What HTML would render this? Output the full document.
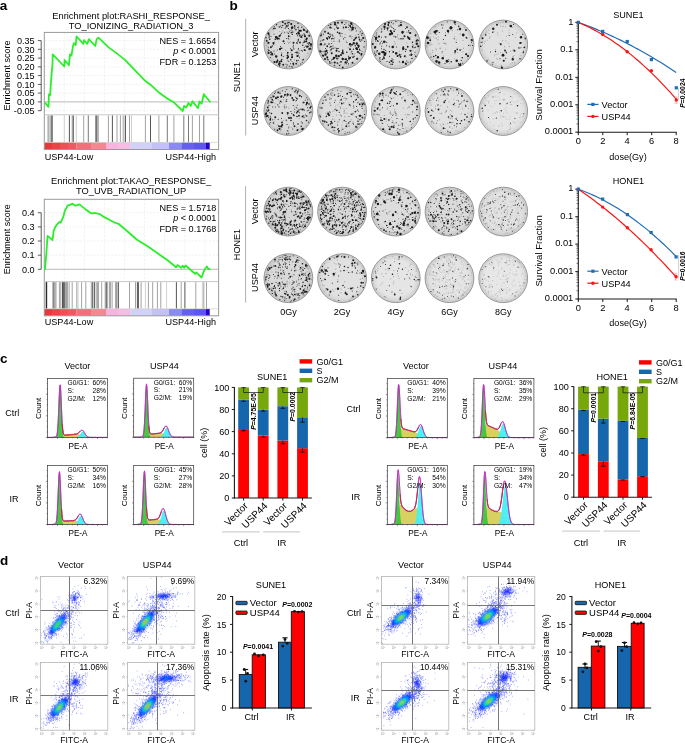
<!DOCTYPE html><html><head><meta charset="utf-8"><style>html,body{margin:0;padding:0;background:#fff;overflow:hidden}svg{display:block;will-change:transform}text{font-family:"Liberation Sans",sans-serif}</style></head><body>
<svg width="685" height="743" viewBox="0 0 685 743">
<rect x="0" y="0" width="685" height="743" fill="#fff"/>
<text x="-0.2" y="10.1" font-size="13.5" font-weight="bold" fill="#000">a</text>
<text x="131.1" y="18.8" font-size="9.3" text-anchor="middle">Enrichment plot:RASHI_RESPONSE_</text>
<text x="131.1" y="28.9" font-size="9.3" text-anchor="middle">TO_IONIZING_RADIATION_3</text>
<line x1="64.3" y1="32.9" x2="64.3" y2="114.3" stroke="#e6e6e6" stroke-width="0.6" stroke-dasharray="2 1.5"/>
<line x1="84.4" y1="32.9" x2="84.4" y2="114.3" stroke="#e6e6e6" stroke-width="0.6" stroke-dasharray="2 1.5"/>
<line x1="104.4" y1="32.9" x2="104.4" y2="114.3" stroke="#e6e6e6" stroke-width="0.6" stroke-dasharray="2 1.5"/>
<line x1="124.5" y1="32.9" x2="124.5" y2="114.3" stroke="#e6e6e6" stroke-width="0.6" stroke-dasharray="2 1.5"/>
<line x1="144.6" y1="32.9" x2="144.6" y2="114.3" stroke="#e6e6e6" stroke-width="0.6" stroke-dasharray="2 1.5"/>
<line x1="164.7" y1="32.9" x2="164.7" y2="114.3" stroke="#e6e6e6" stroke-width="0.6" stroke-dasharray="2 1.5"/>
<line x1="184.8" y1="32.9" x2="184.8" y2="114.3" stroke="#e6e6e6" stroke-width="0.6" stroke-dasharray="2 1.5"/>
<line x1="204.9" y1="32.9" x2="204.9" y2="114.3" stroke="#e6e6e6" stroke-width="0.6" stroke-dasharray="2 1.5"/>
<line x1="44.8" y1="40.6" x2="218.1" y2="40.6" stroke="#e6e6e6" stroke-width="0.6" stroke-dasharray="2 1.5"/>
<line x1="44.8" y1="49.3" x2="218.1" y2="49.3" stroke="#e6e6e6" stroke-width="0.6" stroke-dasharray="2 1.5"/>
<line x1="44.8" y1="58.1" x2="218.1" y2="58.1" stroke="#e6e6e6" stroke-width="0.6" stroke-dasharray="2 1.5"/>
<line x1="44.8" y1="66.9" x2="218.1" y2="66.9" stroke="#e6e6e6" stroke-width="0.6" stroke-dasharray="2 1.5"/>
<line x1="44.8" y1="75.6" x2="218.1" y2="75.6" stroke="#e6e6e6" stroke-width="0.6" stroke-dasharray="2 1.5"/>
<line x1="44.8" y1="84.4" x2="218.1" y2="84.4" stroke="#e6e6e6" stroke-width="0.6" stroke-dasharray="2 1.5"/>
<line x1="44.8" y1="93.1" x2="218.1" y2="93.1" stroke="#e6e6e6" stroke-width="0.6" stroke-dasharray="2 1.5"/>
<line x1="44.8" y1="110.7" x2="218.1" y2="110.7" stroke="#e6e6e6" stroke-width="0.6" stroke-dasharray="2 1.5"/>
<line x1="44.3" y1="101.9" x2="218.6" y2="101.9" stroke="#b8b8b8" stroke-width="1"/>
<line x1="41.2" y1="40.6" x2="41.2" y2="110.7" stroke="#333" stroke-width="0.8"/>
<line x1="37.8" y1="40.6" x2="41.2" y2="40.6" stroke="#333" stroke-width="0.8"/>
<text x="34.6" y="43.8" font-size="9.1" text-anchor="end">0.35</text>
<line x1="37.8" y1="49.3" x2="41.2" y2="49.3" stroke="#333" stroke-width="0.8"/>
<text x="34.6" y="52.5" font-size="9.1" text-anchor="end">0.30</text>
<line x1="37.8" y1="58.1" x2="41.2" y2="58.1" stroke="#333" stroke-width="0.8"/>
<text x="34.6" y="61.3" font-size="9.1" text-anchor="end">0.25</text>
<line x1="37.8" y1="66.9" x2="41.2" y2="66.9" stroke="#333" stroke-width="0.8"/>
<text x="34.6" y="70.1" font-size="9.1" text-anchor="end">0.20</text>
<line x1="37.8" y1="75.6" x2="41.2" y2="75.6" stroke="#333" stroke-width="0.8"/>
<text x="34.6" y="78.8" font-size="9.1" text-anchor="end">0.15</text>
<line x1="37.8" y1="84.4" x2="41.2" y2="84.4" stroke="#333" stroke-width="0.8"/>
<text x="34.6" y="87.6" font-size="9.1" text-anchor="end">0.10</text>
<line x1="37.8" y1="93.1" x2="41.2" y2="93.1" stroke="#333" stroke-width="0.8"/>
<text x="34.6" y="96.3" font-size="9.1" text-anchor="end">0.05</text>
<line x1="37.8" y1="101.9" x2="41.2" y2="101.9" stroke="#333" stroke-width="0.8"/>
<text x="34.6" y="105.1" font-size="9.1" text-anchor="end">0.00</text>
<line x1="37.8" y1="110.7" x2="41.2" y2="110.7" stroke="#333" stroke-width="0.8"/>
<text x="34.6" y="113.9" font-size="9.1" text-anchor="end">-0.05</text>
<text x="9.6" y="75.4" font-size="9" text-anchor="middle" transform="rotate(-90 9.6 75.4)">Enrichment score</text>
<line x1="48" y1="115.3" x2="48" y2="142.2" stroke="#8a8a8a" stroke-width="0.8"/>
<line x1="49" y1="115.3" x2="49" y2="142.2" stroke="#8a8a8a" stroke-width="0.8"/>
<line x1="51.1" y1="115.3" x2="51.1" y2="142.2" stroke="#2a2a2a" stroke-width="0.8"/>
<line x1="52.2" y1="115.3" x2="52.2" y2="142.2" stroke="#2a2a2a" stroke-width="0.8"/>
<line x1="64.3" y1="115.3" x2="64.3" y2="142.2" stroke="#c4c4c4" stroke-width="0.8"/>
<line x1="69.4" y1="115.3" x2="69.4" y2="142.2" stroke="#2a2a2a" stroke-width="0.8"/>
<line x1="72.2" y1="115.3" x2="72.2" y2="142.2" stroke="#8a8a8a" stroke-width="0.8"/>
<line x1="73.3" y1="115.3" x2="73.3" y2="142.2" stroke="#2a2a2a" stroke-width="0.8"/>
<line x1="76.3" y1="115.3" x2="76.3" y2="142.2" stroke="#c4c4c4" stroke-width="0.8"/>
<line x1="83.7" y1="115.3" x2="83.7" y2="142.2" stroke="#8a8a8a" stroke-width="0.8"/>
<line x1="88.3" y1="115.3" x2="88.3" y2="142.2" stroke="#555" stroke-width="0.8"/>
<line x1="95.9" y1="115.3" x2="95.9" y2="142.2" stroke="#2a2a2a" stroke-width="0.8"/>
<line x1="96.9" y1="115.3" x2="96.9" y2="142.2" stroke="#2a2a2a" stroke-width="0.8"/>
<line x1="98.3" y1="115.3" x2="98.3" y2="142.2" stroke="#8a8a8a" stroke-width="0.8"/>
<line x1="108.4" y1="115.3" x2="108.4" y2="142.2" stroke="#8a8a8a" stroke-width="0.8"/>
<line x1="112.4" y1="115.3" x2="112.4" y2="142.2" stroke="#2a2a2a" stroke-width="0.8"/>
<line x1="117" y1="115.3" x2="117" y2="142.2" stroke="#8a8a8a" stroke-width="0.8"/>
<line x1="120.4" y1="115.3" x2="120.4" y2="142.2" stroke="#8a8a8a" stroke-width="0.8"/>
<line x1="123.2" y1="115.3" x2="123.2" y2="142.2" stroke="#8a8a8a" stroke-width="0.8"/>
<line x1="125.3" y1="115.3" x2="125.3" y2="142.2" stroke="#000" stroke-width="0.8"/>
<line x1="129.5" y1="115.3" x2="129.5" y2="142.2" stroke="#8a8a8a" stroke-width="0.8"/>
<line x1="131.5" y1="115.3" x2="131.5" y2="142.2" stroke="#c4c4c4" stroke-width="0.8"/>
<line x1="145.4" y1="115.3" x2="145.4" y2="142.2" stroke="#8a8a8a" stroke-width="0.8"/>
<line x1="150.5" y1="115.3" x2="150.5" y2="142.2" stroke="#2a2a2a" stroke-width="0.8"/>
<line x1="158.9" y1="115.3" x2="158.9" y2="142.2" stroke="#8a8a8a" stroke-width="0.8"/>
<line x1="167.3" y1="115.3" x2="167.3" y2="142.2" stroke="#555" stroke-width="0.8"/>
<line x1="173.9" y1="115.3" x2="173.9" y2="142.2" stroke="#8a8a8a" stroke-width="0.8"/>
<line x1="183.8" y1="115.3" x2="183.8" y2="142.2" stroke="#555" stroke-width="0.8"/>
<line x1="188.5" y1="115.3" x2="188.5" y2="142.2" stroke="#555" stroke-width="0.8"/>
<line x1="192.4" y1="115.3" x2="192.4" y2="142.2" stroke="#8a8a8a" stroke-width="0.8"/>
<line x1="199.5" y1="115.3" x2="199.5" y2="142.2" stroke="#8a8a8a" stroke-width="0.8"/>
<line x1="203.8" y1="115.3" x2="203.8" y2="142.2" stroke="#555" stroke-width="0.8"/>
<rect x="44.3" y="142.5" width="7.8" height="7" fill="#e8383c"/>
<rect x="52" y="142.5" width="8.1" height="7" fill="#ea4448"/>
<rect x="60" y="142.5" width="8.1" height="7" fill="#ee5056"/>
<rect x="68" y="142.5" width="8.3" height="7" fill="#ef5a60"/>
<rect x="76.3" y="142.5" width="14.8" height="7" fill="#f2707a"/>
<rect x="91" y="142.5" width="15.1" height="7" fill="#f48890"/>
<rect x="106" y="142.5" width="12.1" height="7" fill="#f8b4dc"/>
<rect x="118" y="142.5" width="12.1" height="7" fill="#f8bce4"/>
<rect x="130.1" y="142.5" width="21.3" height="7" fill="#d2d2f8"/>
<rect x="151.3" y="142.5" width="17.7" height="7" fill="#c2c2f4"/>
<rect x="169" y="142.5" width="13.1" height="7" fill="#8a8af0"/>
<rect x="182" y="142.5" width="12.1" height="7" fill="#6660ee"/>
<rect x="194" y="142.5" width="12.1" height="7" fill="#5e56ec"/>
<rect x="206" y="142.5" width="3.9" height="7" fill="#2a00cc"/>
<rect x="209.8" y="142.5" width="8.8" height="7" fill="#ffffff"/>
<rect x="44.3" y="32.4" width="174.3" height="117.1" fill="none" stroke="#9a9a9a" stroke-width="1"/>
<line x1="44.3" y1="114.8" x2="218.6" y2="114.8" stroke="#c8c8c8" stroke-width="1"/>
<line x1="44.3" y1="142.4" x2="218.6" y2="142.4" stroke="#c8c8c8" stroke-width="0.6"/>
<path d="M44.6 102.3 L48.5 106.9 48.9 94.4 50.2 95 50.8 84.5 51.6 74 52.5 64.2 52.7 54.3 64.3 66.5 64.6 60 68.9 65.2 70 54.3 71.5 55.6 72.8 47.1 73.9 43.1 75.7 45.1 76.5 36.3 83.4 43.8 84 40.2 87.3 43.8 88.9 39.2 95.2 46 96.8 38.9 98.5 37.6 99.8 38.9 108.3 47.1 117.5 53.9 125 59.9 145.4 81.1 150.5 84.7 159.3 92.8 167.3 98.6 173.9 102.3 182.7 111 184.1 105.9 186.3 107.4 188.5 103 190.7 105.9 192.4 101.2 198 108.1 199.5 101.5 201.6 103.7 203.8 94.2 210.4 102.3" stroke="#2aee2a" stroke-width="1.8" fill="none" stroke-linejoin="round"/>
<text x="216.4" y="44" font-size="9.1" text-anchor="end">NES = 1.6654</text>
<text x="216.4" y="54.4" font-size="9.1" text-anchor="end"><tspan font-style="italic">p</tspan> &lt; 0.0001</text>
<text x="216.4" y="64.6" font-size="9.1" text-anchor="end">FDR = 0.1253</text>
<text x="44.7" y="160.2" font-size="9.1">USP44-Low</text>
<text x="216" y="160.2" font-size="9.1" text-anchor="end">USP44-High</text>
<text x="131.1" y="183.9" font-size="9.3" text-anchor="middle">Enrichment plot:TAKAO_RESPONSE_</text>
<text x="131.1" y="194" font-size="9.3" text-anchor="middle">TO_UVB_RADIATION_UP</text>
<line x1="64.3" y1="199.8" x2="64.3" y2="281.1" stroke="#e6e6e6" stroke-width="0.6" stroke-dasharray="2 1.5"/>
<line x1="84.4" y1="199.8" x2="84.4" y2="281.1" stroke="#e6e6e6" stroke-width="0.6" stroke-dasharray="2 1.5"/>
<line x1="104.4" y1="199.8" x2="104.4" y2="281.1" stroke="#e6e6e6" stroke-width="0.6" stroke-dasharray="2 1.5"/>
<line x1="124.5" y1="199.8" x2="124.5" y2="281.1" stroke="#e6e6e6" stroke-width="0.6" stroke-dasharray="2 1.5"/>
<line x1="144.6" y1="199.8" x2="144.6" y2="281.1" stroke="#e6e6e6" stroke-width="0.6" stroke-dasharray="2 1.5"/>
<line x1="164.7" y1="199.8" x2="164.7" y2="281.1" stroke="#e6e6e6" stroke-width="0.6" stroke-dasharray="2 1.5"/>
<line x1="184.8" y1="199.8" x2="184.8" y2="281.1" stroke="#e6e6e6" stroke-width="0.6" stroke-dasharray="2 1.5"/>
<line x1="204.9" y1="199.8" x2="204.9" y2="281.1" stroke="#e6e6e6" stroke-width="0.6" stroke-dasharray="2 1.5"/>
<line x1="44.8" y1="212.7" x2="218.1" y2="212.7" stroke="#e6e6e6" stroke-width="0.6" stroke-dasharray="2 1.5"/>
<line x1="44.8" y1="226.9" x2="218.1" y2="226.9" stroke="#e6e6e6" stroke-width="0.6" stroke-dasharray="2 1.5"/>
<line x1="44.8" y1="241" x2="218.1" y2="241" stroke="#e6e6e6" stroke-width="0.6" stroke-dasharray="2 1.5"/>
<line x1="44.8" y1="255.2" x2="218.1" y2="255.2" stroke="#e6e6e6" stroke-width="0.6" stroke-dasharray="2 1.5"/>
<line x1="44.3" y1="269.3" x2="218.6" y2="269.3" stroke="#b8b8b8" stroke-width="1"/>
<line x1="41.2" y1="212.7" x2="41.2" y2="269.3" stroke="#333" stroke-width="0.8"/>
<line x1="37.8" y1="212.7" x2="41.2" y2="212.7" stroke="#333" stroke-width="0.8"/>
<text x="34.6" y="215.9" font-size="9.1" text-anchor="end">0.4</text>
<line x1="37.8" y1="226.9" x2="41.2" y2="226.9" stroke="#333" stroke-width="0.8"/>
<text x="34.6" y="230.1" font-size="9.1" text-anchor="end">0.3</text>
<line x1="37.8" y1="241" x2="41.2" y2="241" stroke="#333" stroke-width="0.8"/>
<text x="34.6" y="244.2" font-size="9.1" text-anchor="end">0.2</text>
<line x1="37.8" y1="255.2" x2="41.2" y2="255.2" stroke="#333" stroke-width="0.8"/>
<text x="34.6" y="258.4" font-size="9.1" text-anchor="end">0.1</text>
<line x1="37.8" y1="269.3" x2="41.2" y2="269.3" stroke="#333" stroke-width="0.8"/>
<text x="34.6" y="272.5" font-size="9.1" text-anchor="end">0.0</text>
<text x="9.6" y="239.3" font-size="9" text-anchor="middle" transform="rotate(-90 9.6 239.3)">Enrichment score</text>
<line x1="46.2" y1="282.1" x2="46.2" y2="308.6" stroke="#000" stroke-width="0.8"/>
<line x1="46.7" y1="282.1" x2="46.7" y2="308.6" stroke="#000" stroke-width="0.8"/>
<line x1="52.8" y1="282.1" x2="52.8" y2="308.6" stroke="#8a8a8a" stroke-width="0.8"/>
<line x1="53.9" y1="282.1" x2="53.9" y2="308.6" stroke="#2a2a2a" stroke-width="0.8"/>
<line x1="55" y1="282.1" x2="55" y2="308.6" stroke="#8a8a8a" stroke-width="0.8"/>
<line x1="56" y1="282.1" x2="56" y2="308.6" stroke="#8a8a8a" stroke-width="0.8"/>
<line x1="59.4" y1="282.1" x2="59.4" y2="308.6" stroke="#8a8a8a" stroke-width="0.8"/>
<line x1="60.8" y1="282.1" x2="60.8" y2="308.6" stroke="#8a8a8a" stroke-width="0.8"/>
<line x1="62.5" y1="282.1" x2="62.5" y2="308.6" stroke="#2a2a2a" stroke-width="0.8"/>
<line x1="63.6" y1="282.1" x2="63.6" y2="308.6" stroke="#2a2a2a" stroke-width="0.8"/>
<line x1="64.7" y1="282.1" x2="64.7" y2="308.6" stroke="#2a2a2a" stroke-width="0.8"/>
<line x1="65.7" y1="282.1" x2="65.7" y2="308.6" stroke="#8a8a8a" stroke-width="0.8"/>
<line x1="67" y1="282.1" x2="67" y2="308.6" stroke="#2a2a2a" stroke-width="0.8"/>
<line x1="69.1" y1="282.1" x2="69.1" y2="308.6" stroke="#8a8a8a" stroke-width="0.8"/>
<line x1="72.2" y1="282.1" x2="72.2" y2="308.6" stroke="#8a8a8a" stroke-width="0.8"/>
<line x1="76.8" y1="282.1" x2="76.8" y2="308.6" stroke="#8a8a8a" stroke-width="0.8"/>
<line x1="78.1" y1="282.1" x2="78.1" y2="308.6" stroke="#c4c4c4" stroke-width="0.8"/>
<line x1="81.6" y1="282.1" x2="81.6" y2="308.6" stroke="#8a8a8a" stroke-width="0.8"/>
<line x1="85.8" y1="282.1" x2="85.8" y2="308.6" stroke="#8a8a8a" stroke-width="0.8"/>
<line x1="91.3" y1="282.1" x2="91.3" y2="308.6" stroke="#8a8a8a" stroke-width="0.8"/>
<line x1="92.7" y1="282.1" x2="92.7" y2="308.6" stroke="#2a2a2a" stroke-width="0.8"/>
<line x1="94.4" y1="282.1" x2="94.4" y2="308.6" stroke="#2a2a2a" stroke-width="0.8"/>
<line x1="96.2" y1="282.1" x2="96.2" y2="308.6" stroke="#8a8a8a" stroke-width="0.8"/>
<line x1="98" y1="282.1" x2="98" y2="308.6" stroke="#2a2a2a" stroke-width="0.8"/>
<line x1="101.7" y1="282.1" x2="101.7" y2="308.6" stroke="#8a8a8a" stroke-width="0.8"/>
<line x1="105.2" y1="282.1" x2="105.2" y2="308.6" stroke="#8a8a8a" stroke-width="0.8"/>
<line x1="106.3" y1="282.1" x2="106.3" y2="308.6" stroke="#2a2a2a" stroke-width="0.8"/>
<line x1="107.7" y1="282.1" x2="107.7" y2="308.6" stroke="#8a8a8a" stroke-width="0.8"/>
<line x1="110" y1="282.1" x2="110" y2="308.6" stroke="#2a2a2a" stroke-width="0.8"/>
<line x1="112.1" y1="282.1" x2="112.1" y2="308.6" stroke="#8a8a8a" stroke-width="0.8"/>
<line x1="116" y1="282.1" x2="116" y2="308.6" stroke="#2a2a2a" stroke-width="0.8"/>
<line x1="117" y1="282.1" x2="117" y2="308.6" stroke="#8a8a8a" stroke-width="0.8"/>
<line x1="118.4" y1="282.1" x2="118.4" y2="308.6" stroke="#2a2a2a" stroke-width="0.8"/>
<line x1="129.5" y1="282.1" x2="129.5" y2="308.6" stroke="#8a8a8a" stroke-width="0.8"/>
<line x1="135.5" y1="282.1" x2="135.5" y2="308.6" stroke="#8a8a8a" stroke-width="0.8"/>
<line x1="137.4" y1="282.1" x2="137.4" y2="308.6" stroke="#2a2a2a" stroke-width="0.8"/>
<line x1="138.4" y1="282.1" x2="138.4" y2="308.6" stroke="#2a2a2a" stroke-width="0.8"/>
<line x1="141.1" y1="282.1" x2="141.1" y2="308.6" stroke="#8a8a8a" stroke-width="0.8"/>
<line x1="145.4" y1="282.1" x2="145.4" y2="308.6" stroke="#c4c4c4" stroke-width="0.8"/>
<line x1="148.4" y1="282.1" x2="148.4" y2="308.6" stroke="#8a8a8a" stroke-width="0.8"/>
<line x1="152.7" y1="282.1" x2="152.7" y2="308.6" stroke="#8a8a8a" stroke-width="0.8"/>
<line x1="157.4" y1="282.1" x2="157.4" y2="308.6" stroke="#8a8a8a" stroke-width="0.8"/>
<line x1="160.8" y1="282.1" x2="160.8" y2="308.6" stroke="#8a8a8a" stroke-width="0.8"/>
<line x1="166.6" y1="282.1" x2="166.6" y2="308.6" stroke="#c4c4c4" stroke-width="0.8"/>
<line x1="176.4" y1="282.1" x2="176.4" y2="308.6" stroke="#2a2a2a" stroke-width="0.8"/>
<line x1="181.2" y1="282.1" x2="181.2" y2="308.6" stroke="#8a8a8a" stroke-width="0.8"/>
<line x1="184.9" y1="282.1" x2="184.9" y2="308.6" stroke="#2a2a2a" stroke-width="0.8"/>
<line x1="195.8" y1="282.1" x2="195.8" y2="308.6" stroke="#8a8a8a" stroke-width="0.8"/>
<line x1="202.4" y1="282.1" x2="202.4" y2="308.6" stroke="#c4c4c4" stroke-width="0.8"/>
<line x1="203.8" y1="282.1" x2="203.8" y2="308.6" stroke="#8a8a8a" stroke-width="0.8"/>
<line x1="206.5" y1="282.1" x2="206.5" y2="308.6" stroke="#8a8a8a" stroke-width="0.8"/>
<rect x="44.3" y="308.9" width="7.8" height="6.9" fill="#e8383c"/>
<rect x="52" y="308.9" width="8.1" height="6.9" fill="#ea4448"/>
<rect x="60" y="308.9" width="8.1" height="6.9" fill="#ee5056"/>
<rect x="68" y="308.9" width="8.3" height="6.9" fill="#ef5a60"/>
<rect x="76.3" y="308.9" width="14.8" height="6.9" fill="#f2707a"/>
<rect x="91" y="308.9" width="15.1" height="6.9" fill="#f48890"/>
<rect x="106" y="308.9" width="12.1" height="6.9" fill="#f8b4dc"/>
<rect x="118" y="308.9" width="12.1" height="6.9" fill="#f8bce4"/>
<rect x="130.1" y="308.9" width="21.3" height="6.9" fill="#d2d2f8"/>
<rect x="151.3" y="308.9" width="17.7" height="6.9" fill="#c2c2f4"/>
<rect x="169" y="308.9" width="13.1" height="6.9" fill="#8a8af0"/>
<rect x="182" y="308.9" width="12.1" height="6.9" fill="#6660ee"/>
<rect x="194" y="308.9" width="12.1" height="6.9" fill="#5e56ec"/>
<rect x="206" y="308.9" width="3.9" height="6.9" fill="#2a00cc"/>
<rect x="209.8" y="308.9" width="8.8" height="6.9" fill="#ffffff"/>
<rect x="44.3" y="199.3" width="174.3" height="116.5" fill="none" stroke="#9a9a9a" stroke-width="1"/>
<line x1="44.3" y1="281.6" x2="218.6" y2="281.6" stroke="#c8c8c8" stroke-width="1"/>
<line x1="44.3" y1="308.8" x2="218.6" y2="308.8" stroke="#c8c8c8" stroke-width="0.6"/>
<path d="M44.9 269.9 L45.5 263 46.2 256 47.2 240.8 47.6 235.9 52.5 240.1 53.6 231.1 55.3 226.9 57.3 224.1 59.4 222 60.8 222.7 63.6 215.8 65 210.3 66.4 208.2 67.7 205.4 69.8 205 72.6 203.6 75.4 205.7 79.5 204.4 81.6 206.1 85.1 208.9 91.3 213.4 95.5 213 99.6 214.1 103.8 216.9 109.3 219.7 114.9 222.7 118.4 223.8 125 229.3 136.7 239.5 148.4 246.8 160 254.9 167.3 260 176.1 267.3 177.6 265.1 181.2 267.7 182.7 265.8 184.1 267.7 185.6 265.5 195.1 273.8 196.2 272.4 201.6 277.5 203.1 273.1 204.6 269.5 206.8 266.5 208.2 268.7 210.4 269.5" stroke="#2aee2a" stroke-width="1.8" fill="none" stroke-linejoin="round"/>
<text x="216.4" y="210.9" font-size="9.1" text-anchor="end">NES = 1.5718</text>
<text x="216.4" y="221.3" font-size="9.1" text-anchor="end"><tspan font-style="italic">p</tspan> &lt; 0.0001</text>
<text x="216.4" y="231.5" font-size="9.1" text-anchor="end">FDR = 0.1768</text>
<text x="44.7" y="325" font-size="9.1">USP44-Low</text>
<text x="216" y="325" font-size="9.1" text-anchor="end">USP44-High</text>
<text x="229.4" y="9.9" font-size="13.5" font-weight="bold" fill="#000">b</text>
<defs><radialGradient id="vig"><stop offset="0.75" stop-color="#000" stop-opacity="0"/><stop offset="1" stop-color="#000" stop-opacity="0.08"/></radialGradient><filter id="soft" x="-5%" y="-5%" width="110%" height="110%"><feGaussianBlur stdDeviation="0.35"/></filter></defs><g filter="url(#soft)">
<circle cx="288.4" cy="44.5" r="24.4" fill="#d9d9d9"/>
<circle cx="288.4" cy="44.5" r="24.4" fill="url(#vig)" stroke="#969696" stroke-width="1"/>
<circle cx="288.4" cy="44.5" r="22.9" fill="none" stroke="#c4c4c4" stroke-width="0.6"/>
<path transform="scale(.25)" d="M1091 119h0m2-11h0m31 4h0m25-2h0m17 8h0m1-17h0m16 22h0m-47 4h0m-7 2h0m0-6h0m-10 3h0m-21 41h0m53 0h0m7-8h0m3-11h0m31-4h0m13 1h0m3 4h0m11 7h0m-7 13h0m-50-1h0m-90 8h0m-8-8h0m14 44h0m43-13h0m42 12h0m24-2h0m7 0h0m38 4h0m-46 3h0m-58 21h0m-34-17h0m27 23h0m9 15h0m19-14h0m35 14h0m2-12h0m8 15h0m-41 3h0m-16 5h0" stroke="#6a6a6a" stroke-width="2.4" stroke-linecap="round"/>
<path transform="scale(.25)" d="M1136 113h0m21 6h0m53-11h0m-16 19h0m-33-6h0m-13 7h0m-29 30h0m120 24h0m-82-12h0m-3 3h0m-83 1h0m-5 9h0m5 23h0m71-5h0m56 2h0m-2 23h0m-45 14h0m17 6h0m10-6h0m11 9h0" stroke="#6a6a6a" stroke-width="3.2" stroke-linecap="round"/>
<path transform="scale(.25)" d="M1151 95h0m-19-5h0m-34 17h0m29 3h0m14 3h0m3-6h0m10-7h0m16 7h0m6 1h0m1 7h0m1-13h0m2 9h0m11-1h0m3-2h0m0 8h0m12-7h0m17 15h0m-7 11h0m-5 6h0m-3 0h0m-16-12h0m-2 14h0m-21-5h0m0-9h0m-1-6h0m-9 4h0m-5 7h0m-2-2h0m-13-1h0m-43 6h0m-23 1h0m3 13h0m1-3h0m7-2h0m111 11h0m22 6h0m27 23h0m-10-9h0m-5-4h0m-6 11h0m-6 5h0m-4-18h0m-24 3h0m-15 7h0m-36-7h0m-16 12h0m-40 2h0m-9 1h0m-1 8h0m37 3h0m13-7h0m5 19h0m35-17h0m12-3h0m2 4h0m17 3h0m1-5h0m2 19h0m2 18h0m-5-11h0m-4 5h0m-19 2h0m-37-1h0m-23 13h0m-12-23h0m-8 3h0m-9 11h0m63 27h0m5 3h0m13-5h0m11 1h0m30 0h0m6-7h0m2-9h0m-41 28h0m-4-1h0m-20 1h0" stroke="#1a1a1a" stroke-width="4" stroke-linecap="round"/>
<path transform="scale(.25)" d="M1123 104h0m22 4h0m9 6h0m72 15h0m-40 5h0m-14-6h0m-3 9h0m-43-4h0m-49 10h0m-5-10h0m75 21h0m7 1h0m38 10h0m6-21h0m-26 43h0m-98 16h0m22 1h0m85 6h0m24-9h0m5 3h0m8-2h0m-92 16h0m-23 6h0m52 21h0m29 8h0m9-11h0m-34 23h0" stroke="#1a1a1a" stroke-width="4.8" stroke-linecap="round"/>
<path transform="scale(.25)" d="M1192 93h0m-40-3h0m-52 24h0m6-15h0m11 9h0m14-6h0m15 1h0m38 15h0m45 6h0m-29 17h0m-8-10h0m-4 5h0m-23-5h0m-43 9h0m-46-1h0m-12 12h0m153 17h0m-6 13h0m-24-10h0m-98 13h0m-13 18h0m141-3h0m4 2h0m20-8h0m-28 45h0m-50 1h0m-36-1h0m-1-16h0m-42-4h0m34 29h0m56 12h0m13-17h0" stroke="#1a1a1a" stroke-width="5.6" stroke-linecap="round"/>
<path transform="scale(.25)" d="M1156 90h0m-61 24h0m56-10h0m28 0h0m35 13h0m4 23h0m-23-10h0m-116 27h0m22 0h0m15-3h0m77 6h0m27 7h0m6-1h0m-132 10h0m-5 38h0m31-16h0m7-5h0m116 3h0m-128 61h0m3 6h0m67-8h0" stroke="#1a1a1a" stroke-width="6.4" stroke-linecap="round"/>
<path transform="scale(.25)" d="M1131 88h0m98 39h0m-162 36h0m37-15h0m51-3h0m70 14h0m12 13h0m-9 15h0m-28-17h0m-116 19h0m0 20h0m67 2h0m37-1h0m49-14h0m-69 23h0m-15 9h0m-4 4h0m-61-14h0m22 25h0m23 16h0m40-5h0" stroke="#1a1a1a" stroke-width="7.2" stroke-linecap="round"/>
<path transform="scale(.25)" d="M1141 95h0m96 48h0m-39-20h0m-2 12h0m-122-2h0m60 32h0m40 6h0m-7 30h0m-17 21h0m-43 26h0" stroke="#1a1a1a" stroke-width="8" stroke-linecap="round"/>
<path transform="scale(.25)" d="M1165 96h0m51 24h0m-13 3h0m-85 21h0m87 4h0m15-3h0m7 9h0m4 32h0m-137-14h0m-20-1h0m0 41h0m46-16h0m70 28h0m-22 5h0m-70 19h0m27-3h0" stroke="#1a1a1a" stroke-width="8.8" stroke-linecap="round"/>
<path transform="scale(.25)" d="M1168 111h0m-63 38h0m5 5h0m134 24h0m-139 48h0m13 28h0" stroke="#1a1a1a" stroke-width="9.6" stroke-linecap="round"/>
<circle cx="342.1" cy="44.5" r="24.4" fill="#dadada"/>
<circle cx="342.1" cy="44.5" r="24.4" fill="url(#vig)" stroke="#969696" stroke-width="1"/>
<circle cx="342.1" cy="44.5" r="22.9" fill="none" stroke="#c4c4c4" stroke-width="0.6"/>
<path transform="scale(.25)" d="M1396 92h0m-58-1h0m-28 21h0m90 6h0m10-13h0m35 33h0m-5-6h0m-18 9h0m-42-3h0m-18 1h0m-70 22h0m35 4h0m10-11h0m1-4h0m14 16h0m16-20h0m7 10h0m30-4h0m3 0h0m3-6h0m8 13h0m-19 17h0m-3 4h0m-119-3h0m-1 3h0m1 19h0m2 8h0m6 8h0m11-10h0m0 6h0m8-10h0m15 2h0m3 2h0m96 10h0m27-10h0m4 1h0m-33 14h0m-14-3h0m-1 16h0m-48 1h0m-6-10h0m4 16h0m7 10h0m20 7h0m16 3h0m10-3h0m-17 9h0" stroke="#6a6a6a" stroke-width="2.4" stroke-linecap="round"/>
<path transform="scale(.25)" d="M1373 106h0m24 14h0m-79 33h0m67 12h0m71 23h0m-63 3h0m-71-4h0m-37 24h0m143-3h0m-20 18h0m-12 10h0m-33 22h0m54-3h0" stroke="#6a6a6a" stroke-width="3.2" stroke-linecap="round"/>
<path transform="scale(.25)" d="M1405 95h0m-21-4h0m-57 21h0m12 5h0m7-8h0m1-5h0m7 8h0m25-14h0m14 12h0m2-10h0m5 3h0m11 1h0m11 11h0m19 12h0m-16-3h0m-20-1h0m-111 14h0m-7-1h0m3 25h0m20-3h0m4-12h0m18-1h0m3 10h0m1 10h0m22 2h0m3-23h0m19 6h0m19-5h0m34 6h0m8 15h0m11-13h0m3-2h0m1 37h0m-24 1h0m-2-7h0m-3-5h0m-39-7h0m-56 14h0m-5-10h0m-26 2h0m-5 4h0m-14 27h0m10-2h0m10-11h0m6 20h0m2-4h0m18-17h0m6 0h0m6-1h0m13 2h0m22 21h0m30-7h0m3-3h0m5-8h0m1 0h0m24 0h0m2 5h0m-14 34h0m-16-7h0m-16 0h0m0-4h0m-25 8h0m-26-4h0m-34 6h0m17 5h0m2 11h0m9 12h0m2-2h0m13-6h0m30-8h0m12 8h0" stroke="#1a1a1a" stroke-width="4" stroke-linecap="round"/>
<path transform="scale(.25)" d="M1315 102h0m93-4h0m12 13h0m27 30h0m-14-3h0m-65-4h0m-85 30h0m33-12h0m13 1h0m28 7h0m17-5h0m29-11h0m11 17h0m44 5h0m-25 13h0m-30 6h0m-83 4h0m-21-13h0m29 19h0m19 5h0m66 30h0m-56-3h0m7 21h0m22 7h0" stroke="#1a1a1a" stroke-width="4.8" stroke-linecap="round"/>
<path transform="scale(.25)" d="M1342 92h0m-19 6h0m126 36h0m-120 6h0m-9-3h0m-25 22h0m26-14h0m97 14h0m7-10h0m11-1h0m2 9h0m1 3h0m8 0h0m-13 29h0m-13-6h0m-115 18h0m50 5h0m82-8h0m7 22h0m-29 6h0m-36 11h0m-24-15h0m-66-1h0m29 26h0m1 6h0m38 9h0m30-13h0" stroke="#1a1a1a" stroke-width="5.6" stroke-linecap="round"/>
<path transform="scale(.25)" d="M1339 91h0m3 8h0m32 12h0m30-1h0m-54 19h0m-32 21h0m9 5h0m89 5h0m-92 26h0m-8-10h0m-33 30h0m41-7h0m24-5h0m23 11h0m0-4h0m16 8h0m23 6h0m19-17h0m9 15h0m-101 18h0m-5 6h0m-20 2h0m37 13h0m15-5h0m25-4h0" stroke="#1a1a1a" stroke-width="6.4" stroke-linecap="round"/>
<path transform="scale(.25)" d="M1352 91h0m-13 6h0m12 16h0m50-9h0m-101 23h0m-16 15h0m124 37h0m-99 6h0m-2 19h0m118-11h0m-29 42h0m-48-1h0m62 17h0m-39 19h0" stroke="#1a1a1a" stroke-width="7.2" stroke-linecap="round"/>
<path transform="scale(.25)" d="M1368 90h0m-47 20h0m63-1h0m-71 24h0m109 20h0m31-1h0m-172 53h0m46 8h0m19-10h0m54-6h0m46 19h0m-17 19h0m-65-15h0m-10 5h0m-45 4h0m-9 7h0m-7-13h0" stroke="#1a1a1a" stroke-width="8" stroke-linecap="round"/>
<path transform="scale(.25)" d="M1412 111h0m-54 22h0m-50 20h0m127 31h0m-133 22h0m130 2h0m-32 23h0m-16 6h0m-45 13h0m43 0h0" stroke="#1a1a1a" stroke-width="8.8" stroke-linecap="round"/>
<path transform="scale(.25)" d="M1405 94h0m5 23h0m17 57h0m-12-1h0m-15 4h0m-116 0h0m86 35h0m57-17h0m-56 41h0m-26-13h0m-9 9h0m-34-14h0" stroke="#1a1a1a" stroke-width="9.6" stroke-linecap="round"/>
<circle cx="395.8" cy="44.5" r="24.4" fill="#dcdcdc"/>
<circle cx="395.8" cy="44.5" r="24.4" fill="url(#vig)" stroke="#969696" stroke-width="1"/>
<circle cx="395.8" cy="44.5" r="22.9" fill="none" stroke="#c4c4c4" stroke-width="0.6"/>
<path transform="scale(.25)" d="M1543 112h0m9 4h0m11-15h0m41 4h0m23 24h0m-17 3h0m-105 12h0m14 14h0m19-11h0m52 1h0m4 8h0m3 0h0m20-12h0m27 4h0m17 19h0m2 20h0m-11 0h0m-25-15h0m-46 3h0m-5 6h0m-29-10h0m-42 5h0m-6 17h0m0 1h0m12 10h0m57-2h0m43 1h0m11 19h0m-16-5h0m-22 0h0m0 0h0m-20 25h0m2 15h0" stroke="#6a6a6a" stroke-width="2.4" stroke-linecap="round"/>
<path transform="scale(.25)" d="M1582 86h0m-27 16h0m80 25h0m-18 0h0m-26 13h0m-16-16h0m3 43h0m-20 22h0m-32 20h0m19-1h0m52-3h0m55-2h0m6 15h0m-34 11h0m-86-9h0m-21 23h0m83 7h0" stroke="#6a6a6a" stroke-width="3.2" stroke-linecap="round"/>
<path transform="scale(.25)" d="M1556 108h0m8-3h0m10 9h0m6 4h0m15-14h0m2 0h0m25 10h0m22 1h0m19 24h0m-112-18h0m-26 8h0m-18 3h0m-2 8h0m-6 6h0m4 18h0m13-16h0m9 17h0m1-16h0m126 31h0m-66 8h0m-29-3h0m-10-16h0m-1 14h0m-16-10h0m-3 12h0m-5-13h0m-3 4h0m-17 11h0m-3 27h0m0-6h0m8 0h0m19-13h0m7 12h0m10-5h0m72-8h0m7 12h0m23 7h0m15-4h0m-21 11h0m-44 1h0m-75 18h0m0-9h0m-1 3h0m2 13h0m41 11h0m35-10h0m30-3h0m5 5h0m10-1h0" stroke="#1a1a1a" stroke-width="4" stroke-linecap="round"/>
<path transform="scale(.25)" d="M1584 86h0m-11 9h0m-7-6h0m-39 27h0m23 0h0m18-6h0m71 22h0m-4-10h0m-2 6h0m-106-3h0m-19 24h0m2 13h0m66-17h0m54 0h0m39 13h0m5 3h0m-22 30h0m-115 18h0m35 30h0m-4-4h0m-10-10h0m-10 21h0" stroke="#1a1a1a" stroke-width="4.8" stroke-linecap="round"/>
<path transform="scale(.25)" d="M1604 90h0m-66 26h0m68-16h0m-23 48h0m77 42h0m-160 0h0m9 13h0m27-5h0m22 9h0m90 27h0m-1-16h0m-117 19h0m92 16h0" stroke="#1a1a1a" stroke-width="5.6" stroke-linecap="round"/>
<path transform="scale(.25)" d="M1577 125h0m-11 5h0m-3-4h0m-59 25h0m8 14h0m31-17h0m61 7h0m8 0h0m38 32h0m0-18h0m-149 22h0m123 7h0m39 27h0m-128 3h0m-32-8h0m55 29h0m11 8h0m3-8h0" stroke="#1a1a1a" stroke-width="6.4" stroke-linecap="round"/>
<path transform="scale(.25)" d="M1553 100h0m75 9h0m34 33h0m-158 15h0m127 30h0m-18 2h0m-40 19h0m46 17h0m-17 2h0m-3-8h0m-63 14h0" stroke="#1a1a1a" stroke-width="7.2" stroke-linecap="round"/>
<path transform="scale(.25)" d="M1550 113h0m-34 33h0m102-1h0m17 7h0m3 4h0m-147 20h0m154 44h0m-55 4h0m34 32h0" stroke="#1a1a1a" stroke-width="8" stroke-linecap="round"/>
<path transform="scale(.25)" d="M1555 91h0m-15 5h0m63 4h0m38 32h0m-31-1h0m-47-7h0m70 26h0m34 13h0m6 22h0m-172 3h0m28 20h0m113-5h0m-76 41h0" stroke="#1a1a1a" stroke-width="8.8" stroke-linecap="round"/>
<path transform="scale(.25)" d="M1538 107h0m72 21h0m-42 6h0m-8 3h0m-56 15h0m163 23h0m-133 34h0m7 5h0m72-19h0m-1 53h0" stroke="#1a1a1a" stroke-width="9.6" stroke-linecap="round"/>
<path transform="scale(.25)" d="M1537 167h0m34 21h0m-54 27h0m68-2h0m-46 6h0" stroke="#1a1a1a" stroke-width="10.4" stroke-linecap="round"/>
<circle cx="449.5" cy="44.5" r="24.4" fill="#dfdfdf"/>
<circle cx="449.5" cy="44.5" r="24.4" fill="url(#vig)" stroke="#969696" stroke-width="1"/>
<circle cx="449.5" cy="44.5" r="22.9" fill="none" stroke="#c4c4c4" stroke-width="0.6"/>
<path transform="scale(.25)" d="M1740 108h0m64 0h0m38 11h0m17-8h0m-68 15h0m-51 4h0m-17 4h0m12 14h0m9 6h0m1-2h0m8-4h0m66-1h0m6 13h0m27 2h0m-68 15h0m-64-6h0m0 11h0m0-5h0m-12 11h0m23 22h0m13-15h0m2 5h0m13-7h0m9 20h0m15-16h0m44-2h0m3 15h0m1-18h0m11 11h0m10 4h0m19 28h0m-52 0h0m-45-11h0m-42 12h0m-10-20h0m39 32h0m0 4h0m24-4h0m11-1h0m2 7h0" stroke="#6a6a6a" stroke-width="2.4" stroke-linecap="round"/>
<path transform="scale(.25)" d="M1790 86h0m-1 4h0m52 46h0m-32-14h0m-27 9h0m-35 7h0m-5-1h0m10 22h0m116-9h0m-95 23h0m-17 2h0m-29 2h0m-18-5h0m-2 11h0m24 19h0m31-9h0m83 5h0m9-5h0m-109 39h0m14 26h0" stroke="#6a6a6a" stroke-width="3.2" stroke-linecap="round"/>
<path transform="scale(.25)" d="M1770 112h0m2-12h0m33 15h0m5-4h0m-53 19h0m-16 4h0m-21 18h0m54 6h0m115 5h0m1 19h0m-4-13h0m-6 12h0m-100-8h0m-11 34h0m26 32h0m-49 10h0m44-6h0m53 11h0m8-1h0" stroke="#1a1a1a" stroke-width="4" stroke-linecap="round"/>
<path transform="scale(.25)" d="M1766 99h0m55-2h0m10 22h0m4-12h0m0-3h0m-42 27h0m-42-8h0m66 32h0m50-2h0m7 29h0m-49-12h0m-101 58h0m56 26h0m13-8h0m41 8h0m0 6h0m11-18h0" stroke="#1a1a1a" stroke-width="4.8" stroke-linecap="round"/>
<path transform="scale(.25)" d="M1840 115h0m-58 27h0m83 8h0m-45 61h0" stroke="#1a1a1a" stroke-width="5.6" stroke-linecap="round"/>
<path transform="scale(.25)" d="M1829 198h0m11 2h0m24 17h0m-15 14h0m-106-9h0m-8 4h0m70 21h0" stroke="#1a1a1a" stroke-width="6.4" stroke-linecap="round"/>
<path transform="scale(.25)" d="M1864 120h0m-143 41h0" stroke="#1a1a1a" stroke-width="7.2" stroke-linecap="round"/>
<path transform="scale(.25)" d="M1804 109h0m17 95h0m44 13h0" stroke="#1a1a1a" stroke-width="8" stroke-linecap="round"/>
<path transform="scale(.25)" d="M1887 160h0m-15 64h0" stroke="#1a1a1a" stroke-width="8.8" stroke-linecap="round"/>
<path transform="scale(.25)" d="M1819 89h0m21 27h0m-88 113h0m4 21h0" stroke="#1a1a1a" stroke-width="9.6" stroke-linecap="round"/>
<path transform="scale(.25)" d="M1792 124h0m-47 1h0m-6 3h0m-27 44h0m59 61h0m-25 12h0m81-2h0m13 16h0" stroke="#1a1a1a" stroke-width="10.4" stroke-linecap="round"/>
<path transform="scale(.25)" d="M1803 112h0m50 28h0m-143 11h0m78 94h0" stroke="#1a1a1a" stroke-width="11.2" stroke-linecap="round"/>
<circle cx="503.2" cy="44.5" r="24.4" fill="#e1e1e1"/>
<circle cx="503.2" cy="44.5" r="24.4" fill="url(#vig)" stroke="#969696" stroke-width="1"/>
<circle cx="503.2" cy="44.5" r="22.9" fill="none" stroke="#c4c4c4" stroke-width="0.6"/>
<path transform="scale(.25)" d="M2002 91h0m-9 1h0m9 12h0m20 3h0m29 2h0m16 23h0m-31 0h0m0-11h0m-26 3h0m-18 16h0m-2-9h0m-14-5h0m-20 8h0m-1-14h0m-7 8h0m-11 11h0m-11 4h0m25 18h0m9-14h0m64 17h0m2-19h0m35 4h0m39 7h0m-26 33h0m-39-16h0m-17 14h0m-21-14h0m-59 1h0m-8 6h0m-2 20h0m54-2h0m10 17h0m10-5h0m52-12h0m31 38h0m-1-15h0m-28 1h0m-65 16h0m-4-5h0m-3-15h0m-6 5h0m-25 16h0m-7 2h0m97 15h0m6-4h0m-18 17h0m-23-1h0" stroke="#6a6a6a" stroke-width="2.4" stroke-linecap="round"/>
<path transform="scale(.25)" d="M2012 89h0m0 17h0m-70 27h0m-2 32h0m18-13h0m53 11h0m76 9h0m-50 14h0m-33-11h0m22 39h0m16-9h0m10-4h0m6 50h0" stroke="#6a6a6a" stroke-width="3.2" stroke-linecap="round"/>
<path transform="scale(.25)" d="M2054 98h0m37 39h0m-40 1h0m51 17h0m-18 36h0m-155-23h0m33 40h0m132-3h0m-42 23h0m-52 7h0m-52 9h0m1 0h0m20 13h0m36 7h0" stroke="#1a1a1a" stroke-width="4" stroke-linecap="round"/>
<path transform="scale(.25)" d="M2037 142h0m63 10h0m-16 18h0m-159 0h0m98 63h0m-51 17h0" stroke="#1a1a1a" stroke-width="4.8" stroke-linecap="round"/>
<path transform="scale(.25)" d="M1971 129h0m11 77h0m43 3h0m51-17h0m17 18h0m-13 25h0" stroke="#1a1a1a" stroke-width="5.6" stroke-linecap="round"/>
<path transform="scale(.25)" d="M2045 106h0m-102 34h0m155 49h0m-1 1h0m-174-5h0" stroke="#1a1a1a" stroke-width="6.4" stroke-linecap="round"/>
<path transform="scale(.25)" d="M2003 177h0m17 25h0" stroke="#1a1a1a" stroke-width="7.2" stroke-linecap="round"/>
<path transform="scale(.25)" d="M2024 87h0m-36 12h0m-58 54h0m128 50h0" stroke="#1a1a1a" stroke-width="8" stroke-linecap="round"/>
<path transform="scale(.25)" d="M2081 172h0m-66 71h0m-7 28h0" stroke="#1a1a1a" stroke-width="8.8" stroke-linecap="round"/>
<path transform="scale(.25)" d="M1973 115h0m78 122h0" stroke="#1a1a1a" stroke-width="9.6" stroke-linecap="round"/>
<path transform="scale(.25)" d="M2043 104h0m41 45h0" stroke="#1a1a1a" stroke-width="10.4" stroke-linecap="round"/>
<path transform="scale(.25)" d="M2012 221h0" stroke="#1a1a1a" stroke-width="11.2" stroke-linecap="round"/>
<circle cx="288.4" cy="111" r="24.4" fill="#dbdbdb"/>
<circle cx="288.4" cy="111" r="24.4" fill="url(#vig)" stroke="#969696" stroke-width="1"/>
<circle cx="288.4" cy="111" r="22.9" fill="none" stroke="#c4c4c4" stroke-width="0.6"/>
<path transform="scale(.25)" d="M1177 368h0m-21 5h0m-65 8h0m-4 20h0m34-14h0m27 19h0m15-21h0m-23 33h0m-40-5h0m-35 25h0m90-6h0m30 11h0m2 10h0m4-20h0m28 35h0m-22 6h0m-53 5h0m-45-1h0m-17-1h0m1 4h0m13 5h0m13 13h0m24-17h0m75 11h0m16 11h0m-20 9h0m-9 5h0m-8-9h0m-22 0h0m-11 5h0m-24-5h0m-4 8h0m-4 5h0m-9-10h0m0-8h0" stroke="#6a6a6a" stroke-width="2.4" stroke-linecap="round"/>
<path transform="scale(.25)" d="M1169 356h0m-49 11h0m-7 32h0m22 0h0m47 5h0m8-7h0m47 19h0m-57 12h0m-65-3h0m-36-4h0m81 44h0m-7 5h0m-7 13h0m40 40h0m-30 10h0" stroke="#6a6a6a" stroke-width="3.2" stroke-linecap="round"/>
<path transform="scale(.25)" d="M1147 358h0m22-3h0m24 10h0m-4 4h0m-5-8h0m0 0h0m-43 6h0m-3 16h0m-8-20h0m-5 20h0m-23-15h0m-27 39h0m15-8h0m38-15h0m6 5h0m10 17h0m3-8h0m1-14h0m35 5h0m38 12h0m6-10h0m4 8h0m-1 32h0m0-21h0m-13 0h0m-4 2h0m-24 9h0m-3 10h0m-13-9h0m-28 6h0m-8-3h0m-10-17h0m-11 20h0m-15 0h0m-11 0h0m-15-5h0m-4 23h0m8 5h0m60-19h0m39 16h0m1-11h0m19 14h0m31-8h0m6-2h0m-13 19h0m-6 10h0m-1-7h0m-64-4h0m-25 15h0m-35 5h0m-9-14h0m-7 4h0m3 27h0m3-6h0m64-9h0m3 17h0m26-7h0m31-3h0m5 4h0m24-3h0m-63 27h0m-19 8h0m-3-1h0m-30-5h0m-20-1h0m56 18h0" stroke="#1a1a1a" stroke-width="4" stroke-linecap="round"/>
<path transform="scale(.25)" d="M1193 360h0m-4 15h0m-91-1h0m-6 29h0m12-14h0m42 15h0m40-3h0m-67 11h0m-8 7h0m-44 24h0m97 3h0m3 8h0m51-14h0m-41 23h0m-64 14h0m61 19h0m-19 12h0" stroke="#1a1a1a" stroke-width="4.8" stroke-linecap="round"/>
<path transform="scale(.25)" d="M1190 368h0m-40 8h0m-30-3h0m-36 18h0m103 3h0m1 0h0m18-7h0m30 29h0m-23-7h0m-122 1h0m-19 2h0m115 39h0m9-11h0m8-3h0m35 14h0m5-3h0m-17 16h0m-53-4h0m-27 76h0" stroke="#1a1a1a" stroke-width="5.6" stroke-linecap="round"/>
<path transform="scale(.25)" d="M1180 367h0m-28 12h0m-79 24h0m16-5h0m33 7h0m122 21h0m-19-7h0m-139 35h0m102 12h0m-14-6h0m-92 13h0m12 19h0m70-10h0m28 14h0m34-14h0m-21 23h0m-85 1h0m-5-2h0" stroke="#1a1a1a" stroke-width="6.4" stroke-linecap="round"/>
<path transform="scale(.25)" d="M1162 380h0m-12-1h0m-37-9h0m56 22h0m72 39h0m-14-17h0m-156 16h0m-6 23h0m9-12h0m55 11h0m81 14h0m-14-3h0m-115 16h0m-10-16h0m57 27h0m62 30h0m-12-15h0m-68 16h0" stroke="#1a1a1a" stroke-width="7.2" stroke-linecap="round"/>
<path transform="scale(.25)" d="M1199 383h0m-59-4h0m-36 14h0m70 7h0m-89 9h0m106 37h0m-27 26h0m-8 0h0m-55-3h0m-38-12h0m66 43h0m-4 6h0m-7 9h0" stroke="#1a1a1a" stroke-width="8" stroke-linecap="round"/>
<path transform="scale(.25)" d="M1094 386h0m17 3h0m14-2h0m103 24h0m-77 41h0m60-14h0m-145 27h0m145 50h0m-2 2h0" stroke="#1a1a1a" stroke-width="8.8" stroke-linecap="round"/>
<circle cx="342.1" cy="111" r="24.4" fill="#dddddd"/>
<circle cx="342.1" cy="111" r="24.4" fill="url(#vig)" stroke="#969696" stroke-width="1"/>
<circle cx="342.1" cy="111" r="22.9" fill="none" stroke="#c4c4c4" stroke-width="0.6"/>
<path transform="scale(.25)" d="M1427 376h0m-6-5h0m-4 12h0m-10-19h0m-50 10h0m-50 3h0m11 21h0m32-11h0m25 7h0m7 7h0m21-14h0m37 1h0m7 11h0m-2 25h0m-29 6h0m-20-18h0m-36 14h0m-8-7h0m-9 5h0m-32 24h0m20-3h0m5-2h0m21 1h0m19-9h0m0 18h0m0-8h0m4 7h0m6-18h0m2 19h0m24-1h0m2-19h0m-53 28h0m0-2h0m-15 2h0m-10 16h0m-4-11h0m-19-10h0m-32 6h0m42 32h0m2 8h0m43 0h0m3-14h0m41-1h0m20 12h0m5-18h0m-14 38h0m-32-12h0m-10 19h0m-1-13h0m-12-2h0m-29 14h0" stroke="#6a6a6a" stroke-width="2.4" stroke-linecap="round"/>
<path transform="scale(.25)" d="M1421 378h0m-7-1h0m-10 6h0m-40-18h0m-13-4h0m-20 0h0m-3 22h0m-5-7h0m-30 26h0m26-10h0m22 9h0m39-8h0m26-7h0m16 16h0m21-3h0m6 14h0m-2-1h0m0 14h0m-32-16h0m-13 13h0m-79-2h0m-3-9h0m-40 18h0m41 21h0m41-19h0m50 22h0m22-9h0m17 23h0m-19 7h0m-6-6h0m-1-1h0m-1-2h0m-13-7h0m-15 7h0m-30-2h0m-47-4h0m-15 7h0m-25-6h0m13 35h0m58 4h0m2-12h0m-18 21h0" stroke="#1a1a1a" stroke-width="3.2" stroke-linecap="round"/>
<path transform="scale(.25)" d="M1388 354h0m-64 26h0m124 22h0m-14 6h0m-76 1h0m-54 44h0m39-17h0m35 7h0m79 1h0m-53 35h0m-25-12h0m-49 10h0m-13-19h0m130 28h0m-19 22h0m-58 9h0m-4 3h0m-11 4h0m-25-17h0" stroke="#6a6a6a" stroke-width="3.2" stroke-linecap="round"/>
<path transform="scale(.25)" d="M1400 361h0m-47 14h0m-25-3h0m38 25h0m21-2h0m70 23h0m-26-7h0m-5 15h0m-12-2h0m-39-12h0m-91 20h0m35 15h0m38 3h0m67-5h0m33 27h0m-17 5h0m0 1h0m-83 1h0m-42-19h0m-1 41h0m14-7h0m56-8h0m4 10h0m24-3h0m2 4h0m22 1h0m9-4h0m-49 10h0m-24 13h0m-18 14h0m35 0h0m8-2h0" stroke="#1a1a1a" stroke-width="4" stroke-linecap="round"/>
<path transform="scale(.25)" d="M1401 371h0m-4-1h0m-36 13h0m-37 12h0m46-9h0m44 20h0m-76 3h0m2 28h0m90 3h0m19-7h0m9 25h0m-167 24h0m48 3h0m61 1h0m39 9h0m-11 16h0m-77 7h0m-15 3h0m44 14h0" stroke="#1a1a1a" stroke-width="4.8" stroke-linecap="round"/>
<path transform="scale(.25)" d="M1429 381h0m-25-11h0m-92 9h0m-8 21h0m128-11h0m-144 43h0m58 10h0m2-1h0m57 16h0m-93 0h0m-6 8h0m-25 2h0m32 33h0m64-18h0m-24 33h0m-14-5h0" stroke="#1a1a1a" stroke-width="5.6" stroke-linecap="round"/>
<path transform="scale(.25)" d="M1338 380h0m-38 8h0m54-3h0m10 15h0m61-2h0m30 15h0m-57 6h0m-107-6h0m130 34h0m28 24h0m-157 14h0m15 4h0m15 7h0m6-4h0m67 0h0m37-7h0m0 11h0" stroke="#1a1a1a" stroke-width="6.4" stroke-linecap="round"/>
<path transform="scale(.25)" d="M1389 375h0m61 43h0m-11-1h0m-72-3h0m-54 40h0m129 9h0m-4 0h0m-122-2h0m-17 25h0m26 1h0m99 20h0m-39-2h0m-29 19h0m-27-15h0" stroke="#1a1a1a" stroke-width="7.2" stroke-linecap="round"/>
<circle cx="395.8" cy="111" r="24.4" fill="#dfdfdf"/>
<circle cx="395.8" cy="111" r="24.4" fill="url(#vig)" stroke="#969696" stroke-width="1"/>
<circle cx="395.8" cy="111" r="22.9" fill="none" stroke="#c4c4c4" stroke-width="0.6"/>
<path transform="scale(.25)" d="M1643 377h0m-11 5h0m-3-10h0m-39 11h0m-37-3h0m-52 26h0m30-3h0m3-15h0m34 6h0m45-7h0m29 32h0m-19-11h0m-56 13h0m-66 9h0m-3-2h0m63 16h0m16 4h0m3 2h0m1-4h0m32-14h0m16 1h0m24 41h0m-14-15h0m-13 10h0m-5-11h0m-34-2h0m-13 1h0m-8 13h0m-7 7h0m-55-17h0m41 25h0m13-5h0m13 2h0m2 7h0m3 6h0m28 4h0m2-7h0m45 2h0m4-8h0m-14 31h0m-17-5h0m-8 14h0m-31-4h0m-15-15h0m-29 18h0m-18-10h0" stroke="#6a6a6a" stroke-width="2.4" stroke-linecap="round"/>
<path transform="scale(.25)" d="M1533 388h0m20-3h0m10 6h0m12 0h0m-26 46h0m1-5h0m29 7h0m90-1h0m-105 19h0m-27 5h0m-9 30h0m22 7h0m97-1h0m-109 26h0" stroke="#6a6a6a" stroke-width="3.2" stroke-linecap="round"/>
<path transform="scale(.25)" d="M1573 352h0m77 27h0m-30-18h0m-8 5h0m-93 18h0m47 11h0m42-3h0m60 20h0m-8 1h0m-24 15h0m-62-5h0m-17-9h0m-37 26h0m41 12h0m22 1h0m68-5h0m-19 11h0m-48 2h0m-13 0h0m-27 15h0m-20-5h0m-8-11h0m-7-3h0m-13 0h0m35 37h0m64 7h0m15-2h0m0-5h0m37 17h0m-35 3h0m-2-10h0m-10 15h0m-9-4h0m-31-6h0m-5-3h0m-26 11h0m62 15h0" stroke="#1a1a1a" stroke-width="4" stroke-linecap="round"/>
<path transform="scale(.25)" d="M1586 366h0m-11 3h0m-12 3h0m-19 8h0m-13 1h0m128 27h0m-98 18h0m-31 5h0m-11-10h0m-7 9h0m158 32h0m-4-1h0m-5 10h0m-73 3h0m-58 8h0m39 7h0m7 12h0m9-10h0m42 33h0" stroke="#1a1a1a" stroke-width="4.8" stroke-linecap="round"/>
<path transform="scale(.25)" d="M1564 363h0m0 5h0m-14 45h0m117 25h0m-14 38h0m-44 2h0m-18 51h0" stroke="#1a1a1a" stroke-width="5.6" stroke-linecap="round"/>
<path transform="scale(.25)" d="M1584 377h0m-59 25h0m35 5h0m89 11h0m-94 62h0m86 6h0" stroke="#1a1a1a" stroke-width="6.4" stroke-linecap="round"/>
<path transform="scale(.25)" d="M1567 359h0m-6 12h0m-32 30h0m91 1h0m49 25h0m-151-11h0m-8 19h0m27 41h0m-13 5h0m51 28h0m21 27h0" stroke="#1a1a1a" stroke-width="7.2" stroke-linecap="round"/>
<path transform="scale(.25)" d="M1601 377h0m-22-4h0m-48 1h0m-10 1h0m131 28h0m-64 12h0" stroke="#1a1a1a" stroke-width="8" stroke-linecap="round"/>
<path transform="scale(.25)" d="M1499 443h0m68 64h0m-8 10h0m-26 0h0" stroke="#1a1a1a" stroke-width="8.8" stroke-linecap="round"/>
<circle cx="449.5" cy="111" r="24.4" fill="#e1e1e1"/>
<circle cx="449.5" cy="111" r="24.4" fill="url(#vig)" stroke="#969696" stroke-width="1"/>
<circle cx="449.5" cy="111" r="22.9" fill="none" stroke="#c4c4c4" stroke-width="0.6"/>
<path transform="scale(.25)" d="M1854 373h0m-9 1h0m-11-9h0m-5 17h0m-15-20h0m-23 2h0m-9 19h0m0-5h0m-2-17h0m-12 19h0m-6 1h0m-30 15h0m20-7h0m3 15h0m33-10h0m27 3h0m11 5h0m42 5h0m3-1h0m-9 13h0m-43 4h0m-23-15h0m-33 15h0m-21 1h0m-17-4h0m-5-8h0m40 41h0m5 2h0m2-2h0m35-12h0m5 6h0m38 8h0m5-20h0m22 18h0m1-19h0m7 43h0m-70-4h0m-6-1h0m-1 3h0m-7-1h0m-38 5h0m-31 13h0m34 7h0m11-4h0m19-1h0m74-13h0m-6 29h0m-24 16h0m-11-3h0m-14-10h0m-19 9h0m-26-17h0m-1 17h0" stroke="#6a6a6a" stroke-width="2.4" stroke-linecap="round"/>
<path transform="scale(.25)" d="M1720 402h0m31-9h0m82 9h0m23 2h0m-9 4h0m-4 7h0m-134 19h0m177 24h0m-63 17h0m-100-13h0m12 30h0m11 1h0m62-2h0m18 16h0m-27 1h0m-7 19h0m-12-13h0" stroke="#1a1a1a" stroke-width="3.2" stroke-linecap="round"/>
<path transform="scale(.25)" d="M1834 406h0m35-1h0m2-1h0m-35 23h0m-1 1h0m-45 0h0m-36-8h0m-12 15h0m39 14h0m46 23h0m-26-13h0m-51 23h0m24 16h0m38-9h0m-21 37h0m1 2h0m4 9h0" stroke="#6a6a6a" stroke-width="3.2" stroke-linecap="round"/>
<path transform="scale(.25)" d="M1803 355h0m31 18h0m-43 3h0m-14-1h0m-32 0h0m1 26h0m91 16h0m-86 3h0m-19 25h0m53-1h0m41 33h0m-9 25h0m-52 28h0" stroke="#1a1a1a" stroke-width="4" stroke-linecap="round"/>
<path transform="scale(.25)" d="M1793 380h0m-26-20h0m90 40h0m10 5h0m-49 8h0m67 53h0m-17-1h0m-142-4h0m-5 2h0m7 22h0m102-3h0" stroke="#1a1a1a" stroke-width="4.8" stroke-linecap="round"/>
<path transform="scale(.25)" d="M1780 357h0m15 7h0m-22 2h0m8 36h0m106 64h0m-19 3h0m-8-11h0m-2 21h0m-49-14h0m-2-1h0m-72 9h0m66 57h0" stroke="#1a1a1a" stroke-width="5.6" stroke-linecap="round"/>
<path transform="scale(.25)" d="M1776 379h0m87 45h0m-49-6h0m-87 23h0m67 27h0m-59 3h0m65 19h0m28 5h0m13-1h0m5-11h0m30 4h0" stroke="#1a1a1a" stroke-width="6.4" stroke-linecap="round"/>
<path transform="scale(.25)" d="M1828 358h0m20 26h0m-71 25h0m-63 39h0m40-10h0m20 75h0" stroke="#1a1a1a" stroke-width="7.2" stroke-linecap="round"/>
<circle cx="503.2" cy="111" r="24.4" fill="#e5e5e5"/>
<circle cx="503.2" cy="111" r="24.4" fill="url(#vig)" stroke="#969696" stroke-width="1"/>
<circle cx="503.2" cy="111" r="22.9" fill="none" stroke="#c4c4c4" stroke-width="0.6"/>
<path transform="scale(.25)" d="M1989 357h0m70 18h0m-43 2h0m-21-2h0m-64 32h0m12-13h0m1-2h0m1 11h0m8 4h0m5-2h0m21-1h0m3-19h0m3 17h0m7-15h0m8 10h0m13 3h0m35 5h0m1-15h0m23 13h0m5-18h0m11 12h0m7 15h0m-12 2h0m-14-6h0m-9 1h0m-17 9h0m-16 13h0m-48-16h0m-9 13h0m-8-5h0m-37-8h0m1 20h0m7 5h0m42 14h0m11-7h0m3 2h0m8 0h0m7-7h0m10 11h0m5-18h0m5 7h0m3 7h0m36 3h0m4-1h0m18 3h0m7 10h0m-9 6h0m-1-9h0m-23 14h0m-1-1h0m-18-7h0m-1 10h0m-12 0h0m-7-8h0m-7-4h0m-1 1h0m-8 3h0m-2-7h0m-30 13h0m-14 0h0m-24-16h0m-7 18h0m10 10h0m24 3h0m14 11h0m20 2h0m10-10h0m39 4h0m9-10h0m3 3h0m7 2h0m9-7h0m12 4h0m-15 29h0m-27-2h0m-1-7h0m-1 7h0m-5 3h0m-39-13h0m-11 16h0m-7-4h0m-14 4h0" stroke="#a0a0a0" stroke-width="2.4" stroke-linecap="round"/>
<path transform="scale(.25)" d="M2000 370h0m16 29h0m27-13h0m-2 23h0m-11 4h0m-3 2h0m-96 30h0m129 29h0" stroke="#1a1a1a" stroke-width="3.2" stroke-linecap="round"/>
<path transform="scale(.25)" d="M2070 373h0m-132 18h0m17-7h0m92 34h0m-93-6h0m-16 7h0m-2-6h0m16 27h0m29 12h0m90 1h0m22 13h0m-15 4h0m-66-2h0m-32 6h0m-32 21h0m62 7h0m27-3h0m-7 29h0" stroke="#a0a0a0" stroke-width="3.2" stroke-linecap="round"/>
<path transform="scale(.25)" d="M1993 357h0m-21 31h0m70 105h0" stroke="#1a1a1a" stroke-width="4" stroke-linecap="round"/>
<path transform="scale(.25)" d="M2095 455h0m-109 17h0m-32-2h0" stroke="#1a1a1a" stroke-width="4.8" stroke-linecap="round"/>
<path transform="scale(.25)" d="M1941 422h0m-12 11h0m76 10h0m-16 80h0" stroke="#1a1a1a" stroke-width="5.6" stroke-linecap="round"/>
<path transform="scale(.25)" d="M2070 423h0m-70-8h0" stroke="#1a1a1a" stroke-width="6.4" stroke-linecap="round"/>
<circle cx="288.4" cy="211.6" r="24.4" fill="#d6d6d6"/>
<circle cx="288.4" cy="211.6" r="24.4" fill="url(#vig)" stroke="#969696" stroke-width="1"/>
<circle cx="288.4" cy="211.6" r="22.9" fill="none" stroke="#c4c4c4" stroke-width="0.6"/>
<path transform="scale(.25)" d="M1138 762h0m-14 13h0m19 11h0m27 5h0m19-11h0m16 2h0m2 6h0m7-7h0m-17 13h0m-55 21h0m-35-17h0m-7 7h0m-6-11h0m-5 14h0m-22 19h0m6 7h0m42-8h0m12-2h0m5 5h0m35-9h0m5 6h0m21 9h0m8-14h0m2 11h0m9-4h0m1 2h0m32 29h0m-11-10h0m-7 9h0m-9-3h0m-9 7h0m-65-6h0m-15 4h0m-9-19h0m-1 6h0m-35 38h0m5-12h0m14 11h0m1-7h0m15 6h0m6-2h0m32-11h0m59 17h0m25-11h0m-62 14h0m-19-2h0m-18 16h0m-4 4h0m-5-4h0m-32-15h0m-15 14h0m-10-9h0m43 38h0m3 1h0m55-13h0m10-7h0" stroke="#6a6a6a" stroke-width="2.4" stroke-linecap="round"/>
<path transform="scale(.25)" d="M1132 776h0m8 12h0m24-19h0m10 11h0m26 7h0m-14 6h0m-91 22h0m-12-16h0m-17 24h0m44 7h0m2-1h0m36-11h0m75 44h0m-12-5h0m-22-7h0m-24-10h0m-33 19h0m-38 9h0m36 17h0m73 0h0m-62 11h0m-37-1h0m-25 7h0m123 16h0" stroke="#6a6a6a" stroke-width="3.2" stroke-linecap="round"/>
<path transform="scale(.25)" d="M1189 764h0m-30-6h0m-13-1h0m-3 2h0m-38 8h0m-9 8h0m25 5h0m6-9h0m7 12h0m11-4h0m11-5h0m3-4h0m18 20h0m11-15h0m4-6h0m9 21h0m2-20h0m2 21h0m4-15h0m27 37h0m0-3h0m-6 2h0m-15-2h0m-7 1h0m-11-18h0m-19 3h0m-15 18h0m-16-9h0m-13 3h0m-4-3h0m-5-6h0m0-6h0m-10 5h0m-21-1h0m-12-4h0m-9 20h0m-8 11h0m5-2h0m5 13h0m3-8h0m4-6h0m28 14h0m20-9h0m1 5h0m8-5h0m23-4h0m28-5h0m2 12h0m4 5h0m2-5h0m1 7h0m1-9h0m1 8h0m8-14h0m15 1h0m2 8h0m4-10h0m13 7h0m-4 32h0m-7-2h0m-1-9h0m-10 3h0m-10 4h0m-79 3h0m-9-16h0m-32 20h0m-11-17h0m-3-4h0m-10 24h0m7 7h0m4 7h0m4-5h0m2-4h0m2-5h0m3 10h0m1-7h0m9 17h0m14-16h0m15 9h0m11 0h0m2 5h0m1-7h0m19 11h0m1 0h0m29-20h0m25 19h0m0-9h0m13-5h0m1 6h0m2 5h0m1-3h0m2-14h0m6 4h0m-20 27h0m-1 8h0m-7 5h0m-1-13h0m-1 6h0m-4 4h0m-10-12h0m-10 3h0m-9 8h0m-9-2h0m-9-15h0m-2 6h0m-43 1h0m-1-7h0m-3 10h0m-12 2h0m-7-13h0m-16 4h0m-1 1h0m27 28h0m3-3h0m0 7h0m10 5h0m1-3h0m6-11h0m0-4h0m9 18h0m29-12h0m2-1h0m6 11h0m5-7h0m7 13h0m2-22h0m5 19h0m1-15h0m6 6h0m2 7h0m0-4h0m-41 14h0" stroke="#1a1a1a" stroke-width="4" stroke-linecap="round"/>
<path transform="scale(.25)" d="M1168 763h0m-4-9h0m-5 1h0m-34 21h0m1 2h0m23-10h0m7 6h0m0-4h0m18-1h0m16 8h0m3 10h0m14 12h0m-12-6h0m-11 21h0m-13-2h0m-11-18h0m-14 10h0m-39 7h0m-35 24h0m3-18h0m2 18h0m33-18h0m9 8h0m27 12h0m9-12h0m53 5h0m6-1h0m-11 23h0m-36-5h0m-63 13h0m-5-8h0m-16-5h0m-2 39h0m1-13h0m11 14h0m3-2h0m14-3h0m67 2h0m42-12h0m7 1h0m-27 26h0m-14 3h0m-30 9h0m-8-17h0m-1 7h0m-1-6h0m-34 24h0m0 2h0m2 5h0m12 3h0m7-7h0m2 1h0m3 10h0m1-2h0m21-8h0m4 11h0m17-6h0m-36 8h0" stroke="#1a1a1a" stroke-width="4.8" stroke-linecap="round"/>
<path transform="scale(.25)" d="M1102 771h0m4 5h0m30 3h0m23-2h0m0 3h0m24-7h0m3 18h0m22-1h0m1-4h0m3 29h0m-48-8h0m-32-4h0m-54 3h0m-4 8h0m-9 19h0m12-10h0m3 14h0m18-16h0m91 15h0m24-19h0m1 0h0m5 13h0m8-11h0m15 5h0m-58 33h0m-8 4h0m-73-4h0m-21-9h0m-17 28h0m18 10h0m35-4h0m17-2h0m3-16h0m90 25h0m-28 16h0m-111-9h0m18 29h0m17-1h0m1 9h0m2-6h0m2 7h0m3-13h0m12 3h0m18 9h0m6-17h0m1-1h0" stroke="#1a1a1a" stroke-width="5.6" stroke-linecap="round"/>
<path transform="scale(.25)" d="M1158 762h0m-12 4h0m30 20h0m11-2h0m2-10h0m15-6h0m14 44h0m-26-20h0m-76 3h0m-40 11h0m49 30h0m10-16h0m45 5h0m47 11h0m13-18h0m-21 24h0m-37 5h0m-107 1h0m-5-3h0m36 19h0m21 6h0m38 14h0m25-17h0m16 21h0m-7 18h0m-8 4h0m-4-12h0m-2 5h0m-23-12h0m-35 1h0m-20 34h0m27-9h0m20 10h0" stroke="#1a1a1a" stroke-width="6.4" stroke-linecap="round"/>
<path transform="scale(.25)" d="M1197 765h0m-36 1h0m-16-6h0m0-3h0m-1 5h0m-8-1h0m27 11h0m5 17h0m56 16h0m-45 8h0m-8-18h0m-10-2h0m-14 11h0m-25-9h0m-20 2h0m-11 4h0m2 21h0m33-4h0m83 11h0m12 11h0m-20 11h0m-67 0h0m-68-2h0m72 20h0m56-4h0m6 7h0m6-7h0m25 9h0m0-4h0m3 4h0m5-4h0m-88 27h0m-11-4h0m-12 13h0m-25-4h0m-1-6h0m-10 2h0m35 15h0m48 15h0m20 0h0" stroke="#1a1a1a" stroke-width="7.2" stroke-linecap="round"/>
<path transform="scale(.25)" d="M1177 762h0m-54 6h0m3 22h0m12-4h0m35-13h0m1 10h0m13-7h0m0-1h0m27 11h0m20 19h0m-8 5h0m-24 4h0m-93-13h0m-29 20h0m8 4h0m31 5h0m115 4h0m-93 13h0m-6 1h0m-73-2h0m59 24h0m60 12h0m51-7h0m-12 30h0m-43-5h0m-14-1h0m-40 1h0m-6-9h0m-8 10h0m-8 10h0m26 24h0" stroke="#1a1a1a" stroke-width="8" stroke-linecap="round"/>
<circle cx="342.1" cy="211.6" r="24.4" fill="#d8d8d8"/>
<circle cx="342.1" cy="211.6" r="24.4" fill="url(#vig)" stroke="#969696" stroke-width="1"/>
<circle cx="342.1" cy="211.6" r="22.9" fill="none" stroke="#c4c4c4" stroke-width="0.6"/>
<path transform="scale(.25)" d="M1361 765h0m-8-1h0m-23 15h0m18-9h0m65 16h0m2 0h0m8 5h0m11-2h0m6 8h0m-6 0h0m-4 11h0m-13-16h0m-11 4h0m-7 9h0m-31-11h0m-73 1h0m-7 13h0m-10 16h0m27 4h0m5 10h0m5-1h0m17-5h0m13-14h0m7 18h0m24-10h0m4 4h0m38-5h0m36 17h0m-30 7h0m-26-4h0m-25-2h0m-23 14h0m-29-4h0m-2 5h0m-8-18h0m-9 1h0m-8 7h0m34 33h0m1-1h0m7 3h0m31-6h0m8-9h0m15 11h0m7 7h0m43-20h0m9 11h0m-10 13h0m-10 12h0m-23-4h0m-18 3h0m-8 0h0m-37-8h0m-1-1h0m-34 16h0m35 10h0m7 13h0m4-3h0m67-9h0" stroke="#6a6a6a" stroke-width="2.4" stroke-linecap="round"/>
<path transform="scale(.25)" d="M1411 767h0m-11-5h0m-18 1h0m0-3h0m-11-1h0m-23-2h0m-6 2h0m-6 6h0m-29 26h0m2-10h0m6 3h0m1-2h0m10-1h0m1 0h0m25 1h0m6 9h0m10-23h0m11 19h0m2-17h0m12 6h0m2 13h0m6-6h0m8 0h0m12-13h0m2 4h0m2 5h0m10 7h0m2 3h0m10 14h0m-3-3h0m0-8h0m-23 10h0m-4 2h0m-3 9h0m-4-15h0m-13 10h0m-3-12h0m0 19h0m-6-7h0m-18-11h0m-2 17h0m-2-11h0m-33-1h0m-14-6h0m-10 2h0m0-6h0m-29 46h0m5 0h0m9-22h0m3 12h0m13 11h0m12-12h0m7 5h0m7-10h0m18 15h0m10-17h0m20 9h0m1 4h0m11-5h0m2-12h0m11 0h0m0 15h0m15-5h0m32 28h0m-5-4h0m-5-9h0m-11 20h0m-17-14h0m-3-3h0m-34 17h0m-48-7h0m-6-13h0m-6 0h0m-3 5h0m-9-2h0m-12-1h0m-2 5h0m-8 39h0m19-5h0m2 3h0m10-11h0m1 3h0m0 7h0m5 0h0m4-18h0m54 1h0m25-1h0m11 2h0m25 7h0m2 5h0m12-15h0m-10 28h0m-4 3h0m-50 7h0m-14 0h0m-4-3h0m-32 0h0m-3-12h0m-3 11h0m0 1h0m-18-6h0m-21 6h0m-3 0h0m23 19h0m2 2h0m0-4h0m18 9h0m6-3h0m5 8h0m9 1h0m44-17h0m25 3h0" stroke="#1a1a1a" stroke-width="3.2" stroke-linecap="round"/>
<path transform="scale(.25)" d="M1337 774h0m26-4h0m2 21h0m9-3h0m15-12h0m29 22h0m-21-2h0m-12 0h0m-2 13h0m-13-1h0m-27-5h0m-18 12h0m-36 4h0m16-3h0m11 21h0m49-19h0m45 75h0m-20 5h0m-39 2h0m-50-7h0m42 30h0m44-7h0" stroke="#6a6a6a" stroke-width="3.2" stroke-linecap="round"/>
<path transform="scale(.25)" d="M1398 766h0m-11-8h0m-23-1h0m-65 33h0m8-8h0m12-13h0m73 1h0m13 7h0m1-5h0m1 15h0m1-16h0m19 3h0m7 10h0m16 31h0m-28-3h0m-19 1h0m-14-21h0m-1 11h0m-20-1h0m-27-7h0m-8 8h0m0 4h0m-4-13h0m-20 9h0m-1-3h0m-2 2h0m-12 1h0m-7 31h0m0-5h0m4 8h0m10-14h0m3 9h0m2-5h0m18-1h0m11 12h0m28-1h0m12-11h0m14 0h0m19-7h0m6 17h0m18-19h0m4 5h0m19 8h0m1 0h0m-13 11h0m-12 1h0m-25 18h0m-13 3h0m-33-11h0m-52-1h0m-4 11h0m-10-20h0m-8 36h0m53 1h0m2-10h0m1 18h0m9-4h0m19-9h0m12-1h0m29 8h0m22-10h0m20 3h0m-30 26h0m-9-10h0m0 18h0m-34-15h0m-1 7h0m-7 0h0m-1 5h0m-2 4h0m-52-9h0m-19-7h0m-6 7h0m31 15h0m8 3h0m30 8h0m0 0h0m2 8h0m9-16h0m0 8h0m1-7h0m10 2h0m19-7h0m9 10h0m3-1h0m9-6h0" stroke="#1a1a1a" stroke-width="4" stroke-linecap="round"/>
<path transform="scale(.25)" d="M1348 759h0m-5 5h0m-37 21h0m24-1h0m11 3h0m7-6h0m32-5h0m23 12h0m36 22h0m-4-6h0m0-2h0m-51 0h0m-4-9h0m-1 1h0m-15-2h0m-4 14h0m-9-6h0m-9 13h0m-6-18h0m-7 2h0m-6 10h0m-34 8h0m-3 10h0m71 2h0m46 8h0m39-16h0m4 17h0m8-17h0m0-2h0m4 40h0m-76-10h0m-89-5h0m-7 4h0m-4 22h0m2 15h0m2-5h0m2-3h0m9-5h0m11 10h0m14-8h0m7 2h0m31 13h0m30-20h0m42 18h0m18 2h0m-27 16h0m-1 6h0m-14-1h0m-10-16h0m-7 3h0m-46 12h0m-16-2h0m-11-8h0m-1-1h0m-1 3h0m-2-11h0m-4 10h0m-5 13h0m63 21h0" stroke="#1a1a1a" stroke-width="4.8" stroke-linecap="round"/>
<path transform="scale(.25)" d="M1358 759h0m-23 8h0m-11-3h0m79 27h0m10-11h0m5-4h0m4 1h0m-80 16h0m-35 7h0m0-3h0m-22 13h0m27 7h0m14 20h0m28 2h0m24-3h0m16-11h0m28 12h0m5-16h0m20 7h0m2-12h0m10 13h0m-9 21h0m-40-3h0m-4 12h0m-70-13h0m-23 7h0m-31 21h0m26 13h0m15-16h0m6 3h0m17 6h0m34-14h0m20 20h0m27-5h0m13-8h0m-45 17h0m-24-1h0m-34 11h0m-6 11h0m-1-10h0m6 13h0m9 20h0m2-4h0m6-6h0m21 6h0m19 1h0m4-5h0m16-9h0m0 7h0" stroke="#1a1a1a" stroke-width="5.6" stroke-linecap="round"/>
<path transform="scale(.25)" d="M1412 767h0m-18-7h0m-63 27h0m7 2h0m0-8h0m11 8h0m87-1h0m-23 19h0m-55-3h0m-25 9h0m-40-13h0m-5 0h0m-4 13h0m15 7h0m3 15h0m35-12h0m81 7h0m27 7h0m15 13h0m-34-4h0m-18 16h0m-39-5h0m-46 1h0m-23 5h0m0-14h0m-7 8h0m26 26h0m2-13h0m90 11h0m31-17h0m-11 41h0m-100 0h0m-21-12h0m18 24h0m44 10h0m27-4h0" stroke="#1a1a1a" stroke-width="6.4" stroke-linecap="round"/>
<path transform="scale(.25)" d="M1303 781h0m22 0h0m17-6h0m61-3h0m3 7h0m22 30h0m-99-13h0m-8 3h0m-24 11h0m-5-11h0m-2 5h0m14 30h0m74-18h0m33 21h0m7-16h0m24 38h0m-2-6h0m-117-9h0m-19 19h0m-13-11h0m-8 8h0m31 26h0m21-22h0m20 14h0m17-7h0m38 9h0m13 1h0m31-5h0m2-11h0m-21 33h0m-30 10h0m-21-2h0m-17-14h0m-8 9h0m-14 0h0m-53-4h0m77 36h0m55-20h0" stroke="#1a1a1a" stroke-width="7.2" stroke-linecap="round"/>
<circle cx="395.8" cy="211.6" r="24.4" fill="#dddddd"/>
<circle cx="395.8" cy="211.6" r="24.4" fill="url(#vig)" stroke="#969696" stroke-width="1"/>
<circle cx="395.8" cy="211.6" r="22.9" fill="none" stroke="#c4c4c4" stroke-width="0.6"/>
<path transform="scale(.25)" d="M1558 759h0m-15 24h0m13-2h0m10-11h0m23 21h0m14-7h0m0-7h0m12-5h0m26 7h0m14 33h0m-6-3h0m-64 4h0m-22-9h0m-53 2h0m-5-10h0m36 42h0m74-3h0m8-6h0m43 26h0m-30 5h0m-1-6h0m-9-11h0m-20 6h0m-15 5h0m-13-7h0m-22 2h0m-5 9h0m-32 3h0m-16 2h0m5 14h0m51 5h0m96-13h0m-58 32h0m-5-8h0m-55-2h0m-5 20h0m-14-3h0m9 9h0m21 10h0m12 4h0m13-10h0m2 9h0m30-18h0m10 15h0m-56 9h0" stroke="#6a6a6a" stroke-width="2.4" stroke-linecap="round"/>
<path transform="scale(.25)" d="M1614 761h0m-57 3h0m-10 10h0m82 19h0m-22 7h0m-54-2h0m-6 1h0m-3 11h0m-2 3h0m-10-16h0m-19-3h0m95 26h0m24 15h0m-3 11h0m0 2h0m-69-3h0m-44 17h0m-12 15h0m66 9h0m24-11h0m35 5h0m11 9h0m-80 7h0m4 18h0m4 16h0" stroke="#6a6a6a" stroke-width="3.2" stroke-linecap="round"/>
<path transform="scale(.25)" d="M1588 766h0m-12-10h0m-5 3h0m-7 2h0m-7 2h0m-16 7h0m9-2h0m19 1h0m18 12h0m13 10h0m1-4h0m35-12h0m22 27h0m-18 13h0m-42-23h0m-2 9h0m-21 1h0m-8 2h0m-4-9h0m-62 15h0m23 9h0m98 19h0m9-1h0m15-4h0m14-14h0m2 28h0m-13 8h0m-8 4h0m-69-3h0m-40-12h0m-14 1h0m-9 4h0m-4 7h0m-8 0h0m-3-9h0m125 35h0m30-12h0m15-5h0m-5 23h0m-8 21h0m-19-5h0m-7-4h0m-6 3h0m-16-13h0m-1 8h0m-16 10h0m-21-10h0m-50 0h0m9 16h0m34 13h0m12-11h0m37 1h0m10 6h0m24-9h0" stroke="#1a1a1a" stroke-width="4" stroke-linecap="round"/>
<path transform="scale(.25)" d="M1541 780h0m68 29h0m-106 3h0m0 18h0m102-10h0m69 11h0m-59 29h0m-68-8h0m65 25h0m10 6h0m4-16h0m11 10h0m-30 17h0m-14 15h0m-42 1h0m29 18h0m6 9h0" stroke="#1a1a1a" stroke-width="4.8" stroke-linecap="round"/>
<path transform="scale(.25)" d="M1662 800h0m-12 5h0m-56 6h0m13 15h0m-110 42h0m125 6h0m1 2h0m38-3h0m-71 55h0" stroke="#1a1a1a" stroke-width="5.6" stroke-linecap="round"/>
<path transform="scale(.25)" d="M1570 764h0m26 5h0m32 1h0m15 19h0m0 68h0m-34 0h0m-68 29h0m38-1h0m37 1h0m44 0h0m3 6h0m-116 10h0m-3 23h0" stroke="#1a1a1a" stroke-width="6.4" stroke-linecap="round"/>
<path transform="scale(.25)" d="M1597 801h0m65 20h0m10 30h0m-89-3h0m49 20h0m29 14h0m-29 16h0m-59 10h0m-12-16h0m-25 28h0" stroke="#1a1a1a" stroke-width="7.2" stroke-linecap="round"/>
<path transform="scale(.25)" d="M1633 793h0m-93 17h0m109 42h0m2 28h0m-3 29h0m-58 22h0" stroke="#1a1a1a" stroke-width="8" stroke-linecap="round"/>
<path transform="scale(.25)" d="M1504 804h0m4 52h0m3 23h0m78 26h0" stroke="#1a1a1a" stroke-width="8.8" stroke-linecap="round"/>
<path transform="scale(.25)" d="M1517 782h0m41-7h0m18 14h0m23 10h0m-62 7h0m-25 10h0m60 44h0m-62-4h0m106 37h0m-2 6h0m-54-3h0m38 17h0m4 23h0" stroke="#1a1a1a" stroke-width="9.6" stroke-linecap="round"/>
<path transform="scale(.25)" d="M1596 759h0m-30 17h0m60 48h0m33 27h0" stroke="#1a1a1a" stroke-width="10.4" stroke-linecap="round"/>
<circle cx="449.5" cy="211.6" r="24.4" fill="#dbdbdb"/>
<circle cx="449.5" cy="211.6" r="24.4" fill="url(#vig)" stroke="#969696" stroke-width="1"/>
<circle cx="449.5" cy="211.6" r="22.9" fill="none" stroke="#c4c4c4" stroke-width="0.6"/>
<path transform="scale(.25)" d="M1830 761h0m-9 2h0m-24-5h0m-26 8h0m-34 20h0m43-18h0m23 4h0m54 19h0m6 7h0m-16 7h0m-21 2h0m-6-7h0m-18-5h0m-19 6h0m-26 6h0m-13-3h0m-30 6h0m-5 20h0m6 8h0m39-18h0m6 7h0m46 7h0m28-13h0m0 9h0m1 7h0m30-6h0m4-5h0m22 28h0m-13 6h0m-4-9h0m-30 7h0m-15-14h0m-22 14h0m-16-15h0m-11-3h0m-20 20h0m-4-3h0m-18-12h0m-8 16h0m-14 2h0m-8-3h0m15 26h0m7-10h0m10-5h0m8 0h0m14 16h0m3-13h0m82-9h0m18 20h0m7-10h0m2-1h0m3-3h0m-15 23h0m-23-2h0m-10 19h0m-10-15h0m-15 12h0m-25-7h0m-4 1h0m-9-13h0m-26 12h0m-8-6h0m26 25h0m12 13h0m3 1h0m20-22h0m44 15h0m2-7h0" stroke="#6a6a6a" stroke-width="2.4" stroke-linecap="round"/>
<path transform="scale(.25)" d="M1750 780h0m22 0h0m27-12h0m1 14h0m53 6h0m22 12h0m-89 14h0m-29 0h0m-14-20h0m-29 16h0m9 17h0m46 6h0m7-11h0m42 14h0m28 0h0m17 1h0m2-1h0m10-18h0m3 8h0m8-2h0m-20 22h0m-46-5h0m-104 4h0m15 20h0m26 13h0m24-7h0m11 6h0m28 6h0m11-1h0m2-6h0m42 6h0m2 7h0m-27 7h0m-39 13h0m-5-16h0m-32 8h0m2 24h0m47-13h0m-23 27h0" stroke="#1a1a1a" stroke-width="3.2" stroke-linecap="round"/>
<path transform="scale(.25)" d="M1830 759h0m-11 6h0m-79 12h0m6-1h0m75-1h0m41 30h0m-14-6h0m-2 37h0m-47 8h0m-8-2h0m-23 16h0m-33 25h0m20-12h0m114-3h0m4 0h0m-62 22h0m-7 10h0m-20 6h0m-40 1h0m-7 4h0m-2-23h0m44 27h0" stroke="#6a6a6a" stroke-width="3.2" stroke-linecap="round"/>
<path transform="scale(.25)" d="M1844 766h0m-25 19h0m23 0h0m2-10h0m8-3h0m14 15h0m5 4h0m-4 18h0m-8-1h0m-14-4h0m-30-4h0m-69 27h0m66-10h0m17 7h0m13 3h0m6 8h0m22 0h0m13 17h0m-21-9h0m-17-2h0m-60 18h0m-19-12h0m-16 13h0m-4-15h0m-10 13h0m-2-8h0m-12 0h0m-8 10h0m31 6h0m11 4h0m13 5h0m18 6h0m68-15h0m17 33h0m-8 1h0m-24 2h0m-24 6h0m-40-2h0m-41 0h0m-3 6h0m37 20h0m18-17h0m43 2h0m-24 21h0m-30-1h0" stroke="#1a1a1a" stroke-width="4" stroke-linecap="round"/>
<path transform="scale(.25)" d="M1780 779h0m29-7h0m19 21h0m-16 0h0m-20 0h0m-47 3h0m-8 17h0m105 24h0m34 6h0m-25 8h0m-110 10h0m-27 14h0m19 0h0m34-5h0m69-2h0m24 18h0m-23 16h0m-23-8h0m-2 5h0m-25 10h0m-18 1h0m-2 6h0m62 17h0" stroke="#1a1a1a" stroke-width="4.8" stroke-linecap="round"/>
<path transform="scale(.25)" d="M1808 781h0m12 4h0m45 11h0m-15 15h0m-59-13h0m-6-4h0m-62 16h0m-9 0h0m81 8h0m44 1h0m50 25h0m-14-1h0m-5 6h0m-43-4h0m-41 12h0m-57 27h0m2-19h0m1 5h0m6 5h0m33 8h0m43 1h0m13-18h0m33 11h0m15 14h0m-14 0h0m-67 34h0m3-7h0m33 0h0" stroke="#1a1a1a" stroke-width="5.6" stroke-linecap="round"/>
<path transform="scale(.25)" d="M1795 795h0m-29 41h0m6-1h0m26 0h0m15 13h0m-49 2h0m-44 34h0m22-15h0m2 16h0m46 2h0m51-2h0m42-2h0m-54 23h0" stroke="#1a1a1a" stroke-width="6.4" stroke-linecap="round"/>
<path transform="scale(.25)" d="M1805 764h0m-35 10h0m25 10h0m13-7h0m-19 31h0m-25-16h0m-6 32h0m4 7h0m-11 28h0m-16 26h0m58 0h0m13-8h0m-15 17h0m-36 27h0" stroke="#1a1a1a" stroke-width="7.2" stroke-linecap="round"/>
<path transform="scale(.25)" d="M1826 795h0m-61 7h0m98 27h0m-69 29h0m-70 1h0m145 22h0m-92 11h0m69 33h0" stroke="#1a1a1a" stroke-width="8" stroke-linecap="round"/>
<circle cx="503.2" cy="211.6" r="24.4" fill="#e1e1e1"/>
<circle cx="503.2" cy="211.6" r="24.4" fill="url(#vig)" stroke="#969696" stroke-width="1"/>
<circle cx="503.2" cy="211.6" r="22.9" fill="none" stroke="#c4c4c4" stroke-width="0.6"/>
<path transform="scale(.25)" d="M2048 763h0m-20 3h0m-39-9h0m-1 7h0m-15-1h0m-15 20h0m3-9h0m19 3h0m13 10h0m15-3h0m14 0h0m15-14h0m6-1h0m10 0h0m4 15h0m7 2h0m13 1h0m11 6h0m-20 3h0m-6 5h0m-4 11h0m-10-4h0m-6-2h0m-18-14h0m-2 6h0m-1 16h0m-25-18h0m-2 13h0m-5-13h0m-5 5h0m-2-6h0m-9-2h0m-5 3h0m-5 17h0m-8-4h0m-28 13h0m10 17h0m8-19h0m0 0h0m13-1h0m22 14h0m1-3h0m24 8h0m4-10h0m16 9h0m4-6h0m4-5h0m16-6h0m19 16h0m14-7h0m15 26h0m-14-14h0m-6 22h0m-2-9h0m-3-11h0m-10 6h0m-14 14h0m-1-14h0m-6 14h0m0-7h0m-10-14h0m-1 13h0m-1-2h0m-1 7h0m-4-3h0m-6-8h0m-11 3h0m-1 1h0m-16-2h0m-3 1h0m-1-3h0m-3 4h0m-5-8h0m-14-1h0m-2 16h0m-18-4h0m-12-11h0m-6 16h0m-2-1h0m9 16h0m4-3h0m19-6h0m19 7h0m0-4h0m5 17h0m6-17h0m11 1h0m12-1h0m6 1h0m11-3h0m13 7h0m0-9h0m2 4h0m1 2h0m25-8h0m0 15h0m4 0h0m3 6h0m3-10h0m1 6h0m18-8h0m-7 16h0m-12 12h0m-4-10h0m-4 19h0m-15-14h0m-38 13h0m-24-8h0m0 8h0m-7-11h0m-2 7h0m-4-14h0m-1 3h0m-19 10h0m-9-8h0m-1 8h0m31 12h0m0 5h0m29 6h0m20 3h0m5-17h0m7 4h0m1-5h0m4 12h0m7-6h0m2 9h0m2-7h0m4-4h0" stroke="#a0a0a0" stroke-width="2.4" stroke-linecap="round"/>
<path transform="scale(.25)" d="M2010 758h0m-28 20h0m18 9h0m17 0h0m25-11h0m31 8h0m4-1h0m9 26h0m-12 4h0m-11-9h0m-51 1h0m-32-3h0m-4 9h0m-2-3h0m-22 2h0m-13-16h0m-1 30h0m65-6h0m3 14h0m2-3h0m48-7h0m22 1h0m16-2h0m1-3h0m-74 22h0m-3 9h0m-48 11h0m-5-16h0m-16-3h0m-4 8h0m-23-4h0m39 38h0m34-9h0m27 8h0m10-3h0m4 8h0m31-11h0m27 14h0m-21 14h0m-14-7h0m-2-4h0m-48-1h0m-1 6h0m-3 13h0m-2-6h0m-9-7h0m-41 12h0m-9-15h0m103 17h0m3 13h0" stroke="#1a1a1a" stroke-width="3.2" stroke-linecap="round"/>
<path transform="scale(.25)" d="M1975 766h0m35 15h0m38 1h0m38 32h0m-9-15h0m-22 6h0m-36-6h0m-1-1h0m-91 26h0m1 6h0m36-1h0m66-4h0m14 3h0m28 1h0m-41 18h0m-15-2h0m-50 9h0m-8 8h0m-26-13h0m75 27h0m56-5h0m25 25h0m-7 2h0m-45-10h0m-33 19h0m-34-15h0m-29 3h0m25 24h0m46 2h0m10 12h0m9 0h0m7-14h0" stroke="#a0a0a0" stroke-width="3.2" stroke-linecap="round"/>
<path transform="scale(.25)" d="M1970 805h0m-41 11h0m18 22h0m13-4h0m36 2h0m91-3h0m16 22h0m-175 10h0m134 16h0m-7 17h0m-1 2h0m-9-3h0m-13 3h0m-35-1h0m-24 19h0m32-1h0m22 4h0" stroke="#1a1a1a" stroke-width="4" stroke-linecap="round"/>
<path transform="scale(.25)" d="M2010 784h0m10 5h0m37-14h0m9 11h0m-104 22h0m-10 8h0m110 4h0m10 32h0m-23-12h0m-2 9h0m-5 8h0m-115-4h0m7 27h0m79 22h0" stroke="#1a1a1a" stroke-width="4.8" stroke-linecap="round"/>
<path transform="scale(.25)" d="M2019 769h0m15 7h0m-74 37h0m56 10h0m54-4h0m-129 53h0m32-4h0m40 12h0m7-13h0" stroke="#1a1a1a" stroke-width="5.6" stroke-linecap="round"/>
<circle cx="288.4" cy="278.2" r="24.4" fill="#d9d9d9"/>
<circle cx="288.4" cy="278.2" r="24.4" fill="url(#vig)" stroke="#969696" stroke-width="1"/>
<circle cx="288.4" cy="278.2" r="22.9" fill="none" stroke="#c4c4c4" stroke-width="0.6"/>
<path transform="scale(.25)" d="M1132 1024h0m5 6h0m7-7h0m10 14h0m-4 6h0m-10 12h0m-9-9h0m-15 8h0m-44 20h0m18-6h0m13 9h0m3-12h0m7 11h0m66-2h0m3-16h0m15 5h0m32 0h0m0 24h0m-21 7h0m-24-14h0m-52 0h0m-4 20h0m-40-12h0m-9 14h0m-2-3h0m-6-11h0m-6 18h0m3 2h0m6 14h0m24-9h0m20-5h0m18 4h0m34 10h0m76-4h0m-26 29h0m-5-17h0m-2 9h0m-5 9h0m-10-7h0m-23 9h0m-18-19h0m-7 14h0m-2-17h0m-43 0h0m-31 10h0m4 21h0m39 6h0m111 4h0m-29 16h0m-7-8h0m-31 12h0m-4 0h0m-12-11h0m-2 12h0m-3-4h0m-2 17h0" stroke="#6a6a6a" stroke-width="2.4" stroke-linecap="round"/>
<path transform="scale(.25)" d="M1129 1029h0m32-2h0m10 20h0m-14 1h0m-19-12h0m-1-1h0m-8 5h0m-5-2h0m-24 7h0m-30 32h0m4-7h0m4 0h0m39-10h0m5 10h0m19-2h0m2-1h0m7 0h0m60 12h0m2-8h0m15-3h0m13 35h0m0-10h0m-20 2h0m-4 2h0m-1 5h0m-2-8h0m-9-9h0m-7 13h0m-58-3h0m-1 3h0m-3-15h0m-3 1h0m0 12h0m-10-16h0m-10 9h0m-44 8h0m-5 26h0m132-4h0m9-2h0m26 8h0m5-19h0m1 5h0m-18 31h0m-8-1h0m-24-13h0m-38 8h0m-7 11h0m-7-11h0m-14 2h0m-16-8h0m-16 22h0m12 12h0m40 1h0m7 6h0m19 2h0m0-17h0m5 8h0m0-9h0m34 18h0m0-2h0m7-9h0m1 10h0m6-3h0m0-14h0m10 1h0m-13 24h0m-4-3h0m-13 5h0m-3 0h0m-2-2h0m-9-4h0m-25 12h0m-3 6h0m-2-14h0m-10 14h0m-7-2h0m23 14h0m5-3h0" stroke="#1a1a1a" stroke-width="3.2" stroke-linecap="round"/>
<path transform="scale(.25)" d="M1084 1064h0m49-7h0m2 0h0m72 18h0m1-7h0m24 6h0m-10 18h0m-15-4h0m-23-7h0m-110 17h0m74 27h0m18-20h0m4 1h0m17 18h0m7-13h0m6-5h0m-14 40h0m-57-14h0m-44 43h0m43-16h0m56 16h0m-25 20h0m-1-5h0m-14 6h0" stroke="#6a6a6a" stroke-width="3.2" stroke-linecap="round"/>
<path transform="scale(.25)" d="M1120 1030h0m17-9h0m12 6h0m24-4h0m19 26h0m-52-12h0m0 12h0m-23 4h0m-5-6h0m-41 29h0m11-5h0m12-7h0m36 4h0m4-11h0m8 2h0m4 14h0m4 0h0m8-15h0m42 19h0m23 24h0m-47-2h0m-41-9h0m-21 2h0m-20 6h0m-32 18h0m6-11h0m11 4h0m46 4h0m30 0h0m51 1h0m23 12h0m8 11h0m-41-3h0m-5 6h0m-19 9h0m-43-21h0m-5 19h0m-4-7h0m-42 1h0m-6 0h0m-7-3h0m24 26h0m29-2h0m28 4h0m29-7h0m21 15h0m19-15h0m7 5h0m-33 17h0m-7-2h0m-2 17h0m-7-13h0m-42 8h0m-7-6h0m0 1h0m-22-3h0m37 18h0m35 2h0" stroke="#1a1a1a" stroke-width="4" stroke-linecap="round"/>
<path transform="scale(.25)" d="M1143 1021h0m14 6h0m34 3h0m4 11h0m-12 7h0m-1 1h0m-38 5h0m-14-15h0m-14 0h0m87 33h0m16 2h0m-53 6h0m-62 8h0m-25 14h0m-15 15h0m11-4h0m25-8h0m9 7h0m112 10h0m19 21h0m-10 5h0m-62-10h0m-33 10h0m-2-10h0m-21-3h0m-14 7h0m-8 32h0m89-7h0m21-12h0m2 0h0m6 17h0m6 0h0m-19 19h0m-64-5h0m-12 12h0" stroke="#1a1a1a" stroke-width="4.8" stroke-linecap="round"/>
<path transform="scale(.25)" d="M1144 1030h0m18 9h0m-21-1h0m-55 32h0m116 0h0m26-7h0m10 31h0m-25-13h0m-34 2h0m53 33h0m7-1h0m-1 27h0m-26-13h0m-3 17h0m-37-14h0m-59 11h0m-16 3h0m-20-9h0m-1 19h0m3 0h0m21 13h0m18-15h0m61 4h0m23-2h0m-10 20h0m-14 2h0m-9 0h0" stroke="#1a1a1a" stroke-width="5.6" stroke-linecap="round"/>
<path transform="scale(.25)" d="M1210 1055h0m-25-8h0m-28-11h0m-8 1h0m-34 32h0m5-9h0m59 7h0m45-9h0m10 40h0m-1 5h0m-35-1h0m-42-7h0m-83-14h0m-9 28h0m174 7h0m-17 26h0m-45-14h0m-88 6h0m-17 2h0m16 25h0m7-7h0m7-2h0m32 2h0m6 20h0m71-5h0m-68 7h0m-36 7h0m-2-5h0m-3-2h0" stroke="#1a1a1a" stroke-width="6.4" stroke-linecap="round"/>
<path transform="scale(.25)" d="M1188 1041h0m-45-3h0m-43 0h0m-21 37h0m22-11h0m81-4h0m41 3h0m-15 35h0m-84-4h0m-11 8h0m48 5h0m64 13h0m1-9h0m-86 27h0m-22-6h0m-47 15h0m-1-5h0m145 20h0m5 6h0m7-1h0m-49 31h0m-20-10h0m-7-8h0" stroke="#1a1a1a" stroke-width="7.2" stroke-linecap="round"/>
<circle cx="342.1" cy="278.2" r="24.4" fill="#e1e1e1"/>
<circle cx="342.1" cy="278.2" r="24.4" fill="url(#vig)" stroke="#969696" stroke-width="1"/>
<circle cx="342.1" cy="278.2" r="22.9" fill="none" stroke="#c4c4c4" stroke-width="0.6"/>
<path transform="scale(.25)" d="M1353 1025h0m16 0h0m58 29h0m-73 1h0m-5-15h0m-12 13h0m6 24h0m1-21h0m67 5h0m45 41h0m-26-8h0m-30-4h0m-12-8h0m-12 2h0m-34 7h0m-46-6h0m-7 3h0m4 35h0m59-4h0m27 8h0m-83 15h0m-5-2h0m5 27h0m6-6h0m29-3h0m4 7h0m8-9h0m21 0h0m56 30h0m-14 6h0m-67 8h0m59 1h0" stroke="#6a6a6a" stroke-width="2.4" stroke-linecap="round"/>
<path transform="scale(.25)" d="M1332 1029h0m77 1h0m-111 25h0m143 62h0m9-4h0m-86 58h0m18-6h0m11-11h0" stroke="#6a6a6a" stroke-width="3.2" stroke-linecap="round"/>
<path transform="scale(.25)" d="M1394 1028h0m37 24h0m-21 3h0m-1-2h0m-70-21h0m-40 45h0m13-6h0m44-15h0m2 12h0m3-8h0m58 4h0m12-5h0m24 32h0m-15 1h0m-9-9h0m-5 9h0m-32-2h0m-31-6h0m-27 19h0m-23-1h0m-3-16h0m-28 28h0m5 9h0m10-7h0m58-12h0m76 45h0m-52 0h0m-50-16h0m-24 21h0m15 17h0m89-7h0m-55 17h0m-37-1h0m38 22h0" stroke="#1a1a1a" stroke-width="4" stroke-linecap="round"/>
<path transform="scale(.25)" d="M1366 1027h0m-15 100h0m76 40h0" stroke="#1a1a1a" stroke-width="4.8" stroke-linecap="round"/>
<path transform="scale(.25)" d="M1290 1066h0m102 4h0m17-7h0m13 9h0m-13 16h0m-130 2h0m174 60h0m-42 2h0" stroke="#1a1a1a" stroke-width="5.6" stroke-linecap="round"/>
<path transform="scale(.25)" d="M1352 1024h0m26 42h0m-2 16h0m-82 6h0m7 30h0m152 13h0m-10 13h0m-71-2h0m59 37h0" stroke="#1a1a1a" stroke-width="6.4" stroke-linecap="round"/>
<path transform="scale(.25)" d="M1348 1027h0m71 24h0m-100-15h0m128 56h0m-146 3h0m111 91h0" stroke="#1a1a1a" stroke-width="7.2" stroke-linecap="round"/>
<path transform="scale(.25)" d="M1413 1041h0m47 64h0m-150 53h0m12 8h0m60 6h0" stroke="#1a1a1a" stroke-width="8" stroke-linecap="round"/>
<path transform="scale(.25)" d="M1378 1028h0m31 26h0m37 77h0m-42 23h0m-17 23h0" stroke="#1a1a1a" stroke-width="8.8" stroke-linecap="round"/>
<path transform="scale(.25)" d="M1452 1084h0m-117 12h0m-48-14h0m65 73h0" stroke="#1a1a1a" stroke-width="9.6" stroke-linecap="round"/>
<path transform="scale(.25)" d="M1304 1082h0" stroke="#1a1a1a" stroke-width="10.4" stroke-linecap="round"/>
<circle cx="395.8" cy="278.2" r="24.4" fill="#e5e5e5"/>
<circle cx="395.8" cy="278.2" r="24.4" fill="url(#vig)" stroke="#969696" stroke-width="1"/>
<circle cx="395.8" cy="278.2" r="22.9" fill="none" stroke="#c4c4c4" stroke-width="0.6"/>
<path transform="scale(.25)" d="M1569 1027h0m23 10h0m-13-2h0m-41 7h0m-26 33h0m111-4h0m16-7h0m28 11h0m-2 9h0m-23 9h0m0 7h0m-9-17h0m-44 12h0m-14-13h0m-22-1h0m-26 14h0m-16-12h0m22 23h0m30 9h0m11-9h0m1 21h0m18-22h0m3 9h0m45 2h0m-68 19h0m-44-3h0m-6 8h0m55 33h0m30 0h0m-64 16h0m-4-2h0" stroke="#6a6a6a" stroke-width="2.4" stroke-linecap="round"/>
<path transform="scale(.25)" d="M1540 1046h0m-18 20h0m-20 19h0m2 20h0m133 7h0m24-5h0m3 16h0m-18 24h0m-3-2h0m-96 17h0" stroke="#1a1a1a" stroke-width="3.2" stroke-linecap="round"/>
<path transform="scale(.25)" d="M1541 1030h0m37 16h0m-34 32h0m8-5h0m92-16h0m6 43h0m-106-6h0m121 16h0m-128 76h0" stroke="#6a6a6a" stroke-width="3.2" stroke-linecap="round"/>
<path transform="scale(.25)" d="M1596 1036h0m-54 22h0m104 20h0m-18 20h0m-38-14h0m-87 8h0m116 24h0m52 3h0m-114 24h0m-52 13h0m63 12h0m32-7h0" stroke="#1a1a1a" stroke-width="4" stroke-linecap="round"/>
<path transform="scale(.25)" d="M1608 1027h0m-76 24h0m26 23h0m37-1h0m-104 48h0" stroke="#1a1a1a" stroke-width="4.8" stroke-linecap="round"/>
<path transform="scale(.25)" d="M1557 1074h0m53 3h0m-119 38h0m166 3h0" stroke="#1a1a1a" stroke-width="5.6" stroke-linecap="round"/>
<path transform="scale(.25)" d="M1597 1028h0m1 27h0m-36 6h0m8 36h0m106 22h0m-74 70h0" stroke="#1a1a1a" stroke-width="6.4" stroke-linecap="round"/>
<path transform="scale(.25)" d="M1506 1110h0m95 86h0m-22-18h0" stroke="#1a1a1a" stroke-width="7.2" stroke-linecap="round"/>
<circle cx="449.5" cy="278.2" r="24.4" fill="#e4e4e4"/>
<circle cx="449.5" cy="278.2" r="24.4" fill="url(#vig)" stroke="#969696" stroke-width="1"/>
<circle cx="449.5" cy="278.2" r="22.9" fill="none" stroke="#c4c4c4" stroke-width="0.6"/>
<path transform="scale(.25)" d="M1788 1025h0m12-4h0m5 8h0m1-4h0m4 6h0m35 16h0m-23-10h0m-1-3h0m-12 17h0m-9-10h0m-1-4h0m-6-2h0m-1 14h0m-5-7h0m0 3h0m-2-13h0m-24 4h0m-18 9h0m-20 27h0m15-11h0m1 7h0m2 0h0m18 1h0m2 4h0m35-11h0m4 2h0m1 5h0m5 3h0m1-3h0m11 10h0m4-8h0m9 7h0m14-22h0m7 15h0m3-11h0m16 9h0m10 34h0m-31-22h0m-2 12h0m-2-5h0m-3 15h0m-2-10h0m-5 9h0m-18-20h0m-3 6h0m-2-1h0m-18 7h0m-7 2h0m-2-9h0m-4 14h0m-3-20h0m-3 8h0m-3-9h0m-15 3h0m-8 12h0m-7-5h0m-5 13h0m-10-3h0m-4 0h0m-3-8h0m-4 1h0m-9 6h0m-1 14h0m23 1h0m3-1h0m2 5h0m1 5h0m6-3h0m2-4h0m11 3h0m3-3h0m1 11h0m15-21h0m2 8h0m1-4h0m4-2h0m7 11h0m7 1h0m4 0h0m18 3h0m8 1h0m20-16h0m4 7h0m3 1h0m6 7h0m1 3h0m13-8h0m15 13h0m-24 15h0m-21-5h0m-9-6h0m-21 16h0m-2-10h0m-3 1h0m-3-3h0m-1-4h0m-2 3h0m-10 8h0m-2-17h0m-8 8h0m-23 7h0m0 5h0m-6-6h0m-12 2h0m0-8h0m-27 1h0m38 28h0m11 9h0m18-22h0m6 2h0m7 14h0m1 5h0m9-4h0m5 2h0m5-3h0m15-8h0m5 1h0m9-4h0m3 2h0m9 5h0m4 5h0m0 0h0m4-3h0m3 1h0m3 6h0m1-22h0m1 7h0m5 2h0m-10 16h0m-11-1h0m-8 6h0m-6 13h0m-11-4h0m-5 4h0m-1-16h0m-10 6h0m-6 3h0m-9 9h0m-14 1h0m-11-5h0m-32-15h0" stroke="#a0a0a0" stroke-width="2.4" stroke-linecap="round"/>
<path transform="scale(.25)" d="M1823 1029h0m-21 19h0m-7 7h0m-44-1h0m3 21h0m5-5h0m16-14h0m60 21h0m38 24h0m-11 0h0m-62-21h0m-54 12h0m27 22h0m49 12h0m1-8h0m52 17h0m-60 6h0m-36 5h0m-47-11h0m19 34h0m6 3h0m80-3h0m15 11h0m-47 4h0m-15 2h0m-20-5h0m-1 16h0" stroke="#1a1a1a" stroke-width="3.2" stroke-linecap="round"/>
<path transform="scale(.25)" d="M1809 1051h0m-13-10h0m-77 27h0m13-8h0m2-2h0m21 7h0m5-5h0m34 3h0m19-4h0m5-3h0m70 35h0m-44 1h0m-51-8h0m-29 5h0m-32 11h0m-10-17h0m-4 15h0m16 17h0m9-11h0m9 15h0m18 2h0m30-3h0m19 11h0m-18 19h0m-18-20h0m-50 39h0m17 0h0m34 6h0m28-17h0m0 10h0m2-9h0m44-5h0m-7 24h0m-1 13h0m-6-4h0m-49 6h0m-20-14h0m-26 9h0m-8-6h0" stroke="#a0a0a0" stroke-width="3.2" stroke-linecap="round"/>
<path transform="scale(.25)" d="M1814 1023h0m-26 64h0m-55 1h0m77 24h0m46-5h0m-71 36h0m-61 23h0m110 26h0m-20-5h0m-35 6h0" stroke="#1a1a1a" stroke-width="4" stroke-linecap="round"/>
<path transform="scale(.25)" d="M1777 1028h0m-23 5h0m118 25h0m-61 27h0m54 50h0m-96 10h0m-10 4h0m-26 10h0" stroke="#1a1a1a" stroke-width="4.8" stroke-linecap="round"/>
<path transform="scale(.25)" d="M1825 1040h0m-69-7h0m16 29h0m97 13h0m-55 72h0" stroke="#1a1a1a" stroke-width="5.6" stroke-linecap="round"/>
<circle cx="503.2" cy="278.2" r="24.4" fill="#e7e7e7"/>
<circle cx="503.2" cy="278.2" r="24.4" fill="url(#vig)" stroke="#969696" stroke-width="1"/>
<circle cx="503.2" cy="278.2" r="22.9" fill="none" stroke="#c4c4c4" stroke-width="0.6"/>
<path transform="scale(.25)" d="M2030 1028h0m6-5h0m2 8h0m45 24h0m-5-6h0m-2 3h0m-1-8h0m0 2h0m-19-2h0m0-2h0m-7 8h0m-9-3h0m-2-4h0m-12-2h0m-18-7h0m-8 16h0m-1-5h0m-7 3h0m-1 7h0m-2-13h0m-18 11h0m-10-15h0m-12 7h0m-14 24h0m2-3h0m22-10h0m5 4h0m10 7h0m1 3h0m20-9h0m11 12h0m2 3h0m21-14h0m6-4h0m5 1h0m1 20h0m15-20h0m15 9h0m8 1h0m7-3h0m0 34h0m-19-1h0m-2-14h0m-5 15h0m-8-4h0m-14-4h0m-24 10h0m-18-19h0m-21 0h0m-39 16h0m-13 26h0m10 0h0m3-8h0m11 4h0m7 5h0m21-20h0m13-2h0m15 14h0m10-13h0m9 0h0m2 13h0m0 2h0m4-4h0m4-3h0m1 0h0m21 11h0m2-4h0m42-3h0m6-13h0m2 14h0m-29 10h0m-16 13h0m-9 3h0m-4-9h0m-19 15h0m-18-19h0m-4 13h0m-20-6h0m-24-1h0m-3 13h0m-1-10h0m-2 8h0m-2 3h0m-33-20h0m24 44h0m7-1h0m1-6h0m10-3h0m22 10h0m6-7h0m6 0h0m1-9h0m6-3h0m11 0h0m9 3h0m1 14h0m2-5h0m7-9h0m27 11h0m2-2h0m3-2h0m0 4h0m5-9h0m9 10h0m2-17h0m-9 26h0m-29 0h0m-22 19h0m-14-3h0m-3-6h0m-4-13h0m-12 5h0m-1 5h0m-6 6h0m-2-14h0m0 0h0m-5 17h0m-7-12h0m17 18h0m21 0h0m22 0h0" stroke="#a0a0a0" stroke-width="2.4" stroke-linecap="round"/>
<path transform="scale(.25)" d="M1967 1049h0m-39 29h0m46-5h0m43 12h0m-87 32h0m26-8h0m13 38h0m-25 0h0m-15-13h0m122 41h0" stroke="#1a1a1a" stroke-width="3.2" stroke-linecap="round"/>
<path transform="scale(.25)" d="M2077 1050h0m-8-7h0m-32-2h0m-8 4h0m-10 5h0m-13-14h0m-48 19h0m-5-13h0m18 14h0m6 14h0m78-9h0m40 9h0m-4 24h0m-26 5h0m-37 0h0m-34-6h0m-58 7h0m5 15h0m29 7h0m122 20h0m-11 1h0m-2 0h0m-62-11h0m-60 11h0m-21-1h0m5 20h0m12 4h0m51 1h0m36-8h0" stroke="#a0a0a0" stroke-width="3.2" stroke-linecap="round"/>
<path transform="scale(.25)" d="M2062 1045h0m-38 6h0m-81 16h0m129 2h0m-119 37h0m76 21h0m67 5h0m-89 25h0m4 5h0m49 22h0" stroke="#1a1a1a" stroke-width="4" stroke-linecap="round"/>
</g>
<line x1="245.7" y1="18.8" x2="245.7" y2="135.6" stroke="#b0b0b0" stroke-width="1"/>
<line x1="245.6" y1="186.1" x2="245.6" y2="302.7" stroke="#b0b0b0" stroke-width="1"/>
<text x="240" y="77.2" font-size="9.1" text-anchor="middle" transform="rotate(-90 240 77.2)">SUNE1</text>
<text x="258.1" y="44.3" font-size="9.1" text-anchor="middle" transform="rotate(-90 258.1 44.3)">Vector</text>
<text x="258.1" y="110.7" font-size="9.1" text-anchor="middle" transform="rotate(-90 258.1 110.7)">USP44</text>
<text x="240.4" y="244.5" font-size="9.1" text-anchor="middle" transform="rotate(-90 240.4 244.5)">HONE1</text>
<text x="257.6" y="211.4" font-size="9.1" text-anchor="middle" transform="rotate(-90 257.6 211.4)">Vector</text>
<text x="257.6" y="277.5" font-size="9.1" text-anchor="middle" transform="rotate(-90 257.6 277.5)">USP44</text>
<text x="288.4" y="315.4" font-size="9" text-anchor="middle">0Gy</text>
<text x="342.1" y="315.4" font-size="9" text-anchor="middle">2Gy</text>
<text x="395.8" y="315.4" font-size="9" text-anchor="middle">4Gy</text>
<text x="449.5" y="315.4" font-size="9" text-anchor="middle">6Gy</text>
<text x="503.2" y="315.4" font-size="9" text-anchor="middle">8Gy</text>
<text x="628.4" y="17.9" font-size="9.1" text-anchor="middle">SUNE1</text>
<line x1="578.3" y1="21.9" x2="578.3" y2="132.7" stroke="#1a1a1a" stroke-width="1.1"/>
<line x1="577.8" y1="132.2" x2="676.7" y2="132.2" stroke="#1a1a1a" stroke-width="1.1"/>
<line x1="575.3" y1="22.4" x2="578.3" y2="22.4" stroke="#1a1a1a" stroke-width="1"/>
<text x="573.3" y="24.6" font-size="9.3" text-anchor="end">1</text>
<line x1="576.5" y1="41.6" x2="578.3" y2="41.6" stroke="#1a1a1a" stroke-width="0.6"/>
<line x1="576.5" y1="36.8" x2="578.3" y2="36.8" stroke="#1a1a1a" stroke-width="0.6"/>
<line x1="576.5" y1="33.3" x2="578.3" y2="33.3" stroke="#1a1a1a" stroke-width="0.6"/>
<line x1="576.5" y1="30.7" x2="578.3" y2="30.7" stroke="#1a1a1a" stroke-width="0.6"/>
<line x1="576.5" y1="28.5" x2="578.3" y2="28.5" stroke="#1a1a1a" stroke-width="0.6"/>
<line x1="576.5" y1="26.7" x2="578.3" y2="26.7" stroke="#1a1a1a" stroke-width="0.6"/>
<line x1="576.5" y1="25.1" x2="578.3" y2="25.1" stroke="#1a1a1a" stroke-width="0.6"/>
<line x1="576.5" y1="23.7" x2="578.3" y2="23.7" stroke="#1a1a1a" stroke-width="0.6"/>
<line x1="575.3" y1="49.8" x2="578.3" y2="49.8" stroke="#1a1a1a" stroke-width="1"/>
<text x="573.3" y="52" font-size="9.3" text-anchor="end">0.1</text>
<line x1="576.5" y1="69" x2="578.3" y2="69" stroke="#1a1a1a" stroke-width="0.6"/>
<line x1="576.5" y1="64.2" x2="578.3" y2="64.2" stroke="#1a1a1a" stroke-width="0.6"/>
<line x1="576.5" y1="60.8" x2="578.3" y2="60.8" stroke="#1a1a1a" stroke-width="0.6"/>
<line x1="576.5" y1="58.1" x2="578.3" y2="58.1" stroke="#1a1a1a" stroke-width="0.6"/>
<line x1="576.5" y1="55.9" x2="578.3" y2="55.9" stroke="#1a1a1a" stroke-width="0.6"/>
<line x1="576.5" y1="54.1" x2="578.3" y2="54.1" stroke="#1a1a1a" stroke-width="0.6"/>
<line x1="576.5" y1="52.5" x2="578.3" y2="52.5" stroke="#1a1a1a" stroke-width="0.6"/>
<line x1="576.5" y1="51.1" x2="578.3" y2="51.1" stroke="#1a1a1a" stroke-width="0.6"/>
<line x1="575.3" y1="77.3" x2="578.3" y2="77.3" stroke="#1a1a1a" stroke-width="1"/>
<text x="573.3" y="79.5" font-size="9.3" text-anchor="end">0.01</text>
<line x1="576.5" y1="96.5" x2="578.3" y2="96.5" stroke="#1a1a1a" stroke-width="0.6"/>
<line x1="576.5" y1="91.7" x2="578.3" y2="91.7" stroke="#1a1a1a" stroke-width="0.6"/>
<line x1="576.5" y1="88.2" x2="578.3" y2="88.2" stroke="#1a1a1a" stroke-width="0.6"/>
<line x1="576.5" y1="85.6" x2="578.3" y2="85.6" stroke="#1a1a1a" stroke-width="0.6"/>
<line x1="576.5" y1="83.4" x2="578.3" y2="83.4" stroke="#1a1a1a" stroke-width="0.6"/>
<line x1="576.5" y1="81.6" x2="578.3" y2="81.6" stroke="#1a1a1a" stroke-width="0.6"/>
<line x1="576.5" y1="80" x2="578.3" y2="80" stroke="#1a1a1a" stroke-width="0.6"/>
<line x1="576.5" y1="78.6" x2="578.3" y2="78.6" stroke="#1a1a1a" stroke-width="0.6"/>
<line x1="575.3" y1="104.8" x2="578.3" y2="104.8" stroke="#1a1a1a" stroke-width="1"/>
<text x="573.3" y="107" font-size="9.3" text-anchor="end">0.001</text>
<line x1="576.5" y1="123.9" x2="578.3" y2="123.9" stroke="#1a1a1a" stroke-width="0.6"/>
<line x1="576.5" y1="119.1" x2="578.3" y2="119.1" stroke="#1a1a1a" stroke-width="0.6"/>
<line x1="576.5" y1="115.7" x2="578.3" y2="115.7" stroke="#1a1a1a" stroke-width="0.6"/>
<line x1="576.5" y1="113" x2="578.3" y2="113" stroke="#1a1a1a" stroke-width="0.6"/>
<line x1="576.5" y1="110.8" x2="578.3" y2="110.8" stroke="#1a1a1a" stroke-width="0.6"/>
<line x1="576.5" y1="109" x2="578.3" y2="109" stroke="#1a1a1a" stroke-width="0.6"/>
<line x1="576.5" y1="107.4" x2="578.3" y2="107.4" stroke="#1a1a1a" stroke-width="0.6"/>
<line x1="576.5" y1="106" x2="578.3" y2="106" stroke="#1a1a1a" stroke-width="0.6"/>
<line x1="575.3" y1="132.2" x2="578.3" y2="132.2" stroke="#1a1a1a" stroke-width="1"/>
<text x="573.3" y="134.4" font-size="9.3" text-anchor="end">0.0001</text>
<line x1="578.3" y1="132.2" x2="578.3" y2="135.2" stroke="#1a1a1a" stroke-width="1"/>
<text x="578.3" y="144.4" font-size="9.3" text-anchor="middle">0</text>
<line x1="602.8" y1="132.2" x2="602.8" y2="135.2" stroke="#1a1a1a" stroke-width="1"/>
<text x="602.8" y="144.4" font-size="9.3" text-anchor="middle">2</text>
<line x1="627.2" y1="132.2" x2="627.2" y2="135.2" stroke="#1a1a1a" stroke-width="1"/>
<text x="627.2" y="144.4" font-size="9.3" text-anchor="middle">4</text>
<line x1="651.7" y1="132.2" x2="651.7" y2="135.2" stroke="#1a1a1a" stroke-width="1"/>
<text x="651.7" y="144.4" font-size="9.3" text-anchor="middle">6</text>
<line x1="676.2" y1="132.2" x2="676.2" y2="135.2" stroke="#1a1a1a" stroke-width="1"/>
<text x="676.2" y="144.4" font-size="9.3" text-anchor="middle">8</text>
<text x="628" y="160.4" font-size="9.1" text-anchor="middle">dose(Gy)</text>
<text x="542" y="84.9" font-size="9.6" text-anchor="middle" transform="rotate(-90 542 84.9)">Survival Fraction</text>
<path d="M578.3 22.4 L581.4 23.5 584.4 24.6 587.5 25.8 590.5 26.9 593.6 28.1 596.7 29.4 599.7 30.7 602.8 32 605.8 33.3 608.9 34.7 612 36.1 615 37.5 618.1 39 621.1 40.4 624.2 42 627.2 43.5 630.3 45.1 633.4 46.7 636.4 48.4 639.5 50 642.5 51.7 645.6 53.5 648.7 55.2 651.7 57 654.8 58.9 657.8 60.7 660.9 62.6 664 64.5 667 66.5 670.1 68.5 673.1 70.5 676.2 72.5" stroke="#1f6db5" stroke-width="1.2" fill="none"/>
<path d="M578.3 22.4 L581.4 23.7 584.4 25.1 587.5 26.5 590.5 28 593.6 29.6 596.7 31.3 599.7 33 602.8 34.8 605.8 36.7 608.9 38.6 612 40.6 615 42.7 618.1 44.8 621.1 47 624.2 49.3 627.2 51.7 630.3 54.1 633.4 56.6 636.4 59.2 639.5 61.8 642.5 64.6 645.6 67.4 648.7 70.2 651.7 73.1 654.8 76.1 657.8 79.2 660.9 82.3 664 85.6 667 88.8 670.1 92.2 673.1 95.6 676.2 99.1" stroke="#fb1414" stroke-width="1.2" fill="none"/>
<line x1="676.2" y1="97" x2="676.2" y2="103.3" stroke="#ff8080" stroke-width="0.6"/>
<line x1="674.6" y1="103.3" x2="677.8" y2="103.3" stroke="#ff9090" stroke-width="0.6"/>
<line x1="674.6" y1="97" x2="677.8" y2="97" stroke="#ff9090" stroke-width="0.6"/>
<circle cx="578.3" cy="22.4" r="1.7" fill="#fb1414"/>
<circle cx="602.7" cy="34.5" r="1.7" fill="#fb1414"/>
<circle cx="627.2" cy="51.7" r="1.7" fill="#fb1414"/>
<circle cx="651.4" cy="70.8" r="1.7" fill="#fb1414"/>
<circle cx="676.3" cy="100" r="1.7" fill="#fb1414"/>
<rect x="576.7" y="20.8" width="3.2" height="3.2" fill="#1f6db5"/>
<rect x="601.1" y="29.8" width="3.2" height="3.2" fill="#1f6db5"/>
<rect x="625.6" y="39.9" width="3.2" height="3.2" fill="#1f6db5"/>
<rect x="649.8" y="58" width="3.2" height="3.2" fill="#1f6db5"/>
<rect x="674.7" y="86.2" width="3.2" height="3.2" fill="#1f6db5"/>
<line x1="587.3" y1="104.4" x2="598.5" y2="104.4" stroke="#1f6db5" stroke-width="1.2"/>
<rect x="591.3" y="102.8" width="3.2" height="3.2" fill="#1f6db5"/>
<text x="601.6" y="107.7" font-size="9.2">Vector</text>
<line x1="587.3" y1="116.4" x2="598.5" y2="116.4" stroke="#fb1414" stroke-width="1.2"/>
<circle cx="592.9" cy="116.4" r="1.7" fill="#fb1414"/>
<text x="601.6" y="119.7" font-size="9.2">USP44</text>
<line x1="678.6" y1="87.8" x2="678.6" y2="100" stroke="#b0b0b0" stroke-width="0.6"/>
<text x="685.2" y="93.2" font-size="6.8" text-anchor="middle" font-weight="bold" transform="rotate(-90 685.2 93.2)"><tspan font-style="italic">P</tspan>=0.0024</text>
<text x="628.4" y="183.5" font-size="9.1" text-anchor="middle">HONE1</text>
<line x1="578.3" y1="188.7" x2="578.3" y2="299.5" stroke="#1a1a1a" stroke-width="1.1"/>
<line x1="577.8" y1="299" x2="676.7" y2="299" stroke="#1a1a1a" stroke-width="1.1"/>
<line x1="575.3" y1="189.2" x2="578.3" y2="189.2" stroke="#1a1a1a" stroke-width="1"/>
<text x="573.3" y="191.4" font-size="9.3" text-anchor="end">1</text>
<line x1="576.5" y1="208.4" x2="578.3" y2="208.4" stroke="#1a1a1a" stroke-width="0.6"/>
<line x1="576.5" y1="203.6" x2="578.3" y2="203.6" stroke="#1a1a1a" stroke-width="0.6"/>
<line x1="576.5" y1="200.1" x2="578.3" y2="200.1" stroke="#1a1a1a" stroke-width="0.6"/>
<line x1="576.5" y1="197.5" x2="578.3" y2="197.5" stroke="#1a1a1a" stroke-width="0.6"/>
<line x1="576.5" y1="195.3" x2="578.3" y2="195.3" stroke="#1a1a1a" stroke-width="0.6"/>
<line x1="576.5" y1="193.5" x2="578.3" y2="193.5" stroke="#1a1a1a" stroke-width="0.6"/>
<line x1="576.5" y1="191.9" x2="578.3" y2="191.9" stroke="#1a1a1a" stroke-width="0.6"/>
<line x1="576.5" y1="190.5" x2="578.3" y2="190.5" stroke="#1a1a1a" stroke-width="0.6"/>
<line x1="575.3" y1="216.7" x2="578.3" y2="216.7" stroke="#1a1a1a" stroke-width="1"/>
<text x="573.3" y="218.8" font-size="9.3" text-anchor="end">0.1</text>
<line x1="576.5" y1="235.8" x2="578.3" y2="235.8" stroke="#1a1a1a" stroke-width="0.6"/>
<line x1="576.5" y1="231" x2="578.3" y2="231" stroke="#1a1a1a" stroke-width="0.6"/>
<line x1="576.5" y1="227.6" x2="578.3" y2="227.6" stroke="#1a1a1a" stroke-width="0.6"/>
<line x1="576.5" y1="224.9" x2="578.3" y2="224.9" stroke="#1a1a1a" stroke-width="0.6"/>
<line x1="576.5" y1="222.7" x2="578.3" y2="222.7" stroke="#1a1a1a" stroke-width="0.6"/>
<line x1="576.5" y1="220.9" x2="578.3" y2="220.9" stroke="#1a1a1a" stroke-width="0.6"/>
<line x1="576.5" y1="219.3" x2="578.3" y2="219.3" stroke="#1a1a1a" stroke-width="0.6"/>
<line x1="576.5" y1="217.9" x2="578.3" y2="217.9" stroke="#1a1a1a" stroke-width="0.6"/>
<line x1="575.3" y1="244.1" x2="578.3" y2="244.1" stroke="#1a1a1a" stroke-width="1"/>
<text x="573.3" y="246.3" font-size="9.3" text-anchor="end">0.01</text>
<line x1="576.5" y1="263.3" x2="578.3" y2="263.3" stroke="#1a1a1a" stroke-width="0.6"/>
<line x1="576.5" y1="258.5" x2="578.3" y2="258.5" stroke="#1a1a1a" stroke-width="0.6"/>
<line x1="576.5" y1="255" x2="578.3" y2="255" stroke="#1a1a1a" stroke-width="0.6"/>
<line x1="576.5" y1="252.4" x2="578.3" y2="252.4" stroke="#1a1a1a" stroke-width="0.6"/>
<line x1="576.5" y1="250.2" x2="578.3" y2="250.2" stroke="#1a1a1a" stroke-width="0.6"/>
<line x1="576.5" y1="248.4" x2="578.3" y2="248.4" stroke="#1a1a1a" stroke-width="0.6"/>
<line x1="576.5" y1="246.8" x2="578.3" y2="246.8" stroke="#1a1a1a" stroke-width="0.6"/>
<line x1="576.5" y1="245.4" x2="578.3" y2="245.4" stroke="#1a1a1a" stroke-width="0.6"/>
<line x1="575.3" y1="271.6" x2="578.3" y2="271.6" stroke="#1a1a1a" stroke-width="1"/>
<text x="573.3" y="273.8" font-size="9.3" text-anchor="end">0.001</text>
<line x1="576.5" y1="290.7" x2="578.3" y2="290.7" stroke="#1a1a1a" stroke-width="0.6"/>
<line x1="576.5" y1="285.9" x2="578.3" y2="285.9" stroke="#1a1a1a" stroke-width="0.6"/>
<line x1="576.5" y1="282.5" x2="578.3" y2="282.5" stroke="#1a1a1a" stroke-width="0.6"/>
<line x1="576.5" y1="279.8" x2="578.3" y2="279.8" stroke="#1a1a1a" stroke-width="0.6"/>
<line x1="576.5" y1="277.6" x2="578.3" y2="277.6" stroke="#1a1a1a" stroke-width="0.6"/>
<line x1="576.5" y1="275.8" x2="578.3" y2="275.8" stroke="#1a1a1a" stroke-width="0.6"/>
<line x1="576.5" y1="274.2" x2="578.3" y2="274.2" stroke="#1a1a1a" stroke-width="0.6"/>
<line x1="576.5" y1="272.8" x2="578.3" y2="272.8" stroke="#1a1a1a" stroke-width="0.6"/>
<line x1="575.3" y1="299" x2="578.3" y2="299" stroke="#1a1a1a" stroke-width="1"/>
<text x="573.3" y="301.2" font-size="9.3" text-anchor="end">0.0001</text>
<line x1="578.3" y1="299" x2="578.3" y2="302" stroke="#1a1a1a" stroke-width="1"/>
<text x="578.3" y="311.2" font-size="9.3" text-anchor="middle">0</text>
<line x1="602.8" y1="299" x2="602.8" y2="302" stroke="#1a1a1a" stroke-width="1"/>
<text x="602.8" y="311.2" font-size="9.3" text-anchor="middle">2</text>
<line x1="627.2" y1="299" x2="627.2" y2="302" stroke="#1a1a1a" stroke-width="1"/>
<text x="627.2" y="311.2" font-size="9.3" text-anchor="middle">4</text>
<line x1="651.7" y1="299" x2="651.7" y2="302" stroke="#1a1a1a" stroke-width="1"/>
<text x="651.7" y="311.2" font-size="9.3" text-anchor="middle">6</text>
<line x1="676.2" y1="299" x2="676.2" y2="302" stroke="#1a1a1a" stroke-width="1"/>
<text x="676.2" y="311.2" font-size="9.3" text-anchor="middle">8</text>
<text x="628" y="326.2" font-size="9.1" text-anchor="middle">dose(Gy)</text>
<text x="542" y="250.8" font-size="9.6" text-anchor="middle" transform="rotate(-90 542 250.8)">Survival Fraction</text>
<path d="M578.3 189.2 L581.4 190.3 584.4 191.5 587.5 192.7 590.5 194 593.6 195.4 596.7 196.8 599.7 198.3 602.8 199.8 605.8 201.5 608.9 203.2 612 204.9 615 206.7 618.1 208.6 621.1 210.5 624.2 212.5 627.2 214.6 630.3 216.8 633.4 219 636.4 221.2 639.5 223.6 642.5 225.9 645.6 228.4 648.7 230.9 651.7 233.5 654.8 236.2 657.8 238.9 660.9 241.7 664 244.5 667 247.4 670.1 250.4 673.1 253.4 676.2 256.5" stroke="#1f6db5" stroke-width="1.2" fill="none"/>
<path d="M578.3 189.2 L581.4 191.3 584.4 193.4 587.5 195.6 590.5 197.8 593.6 200.1 596.7 202.4 599.7 204.7 602.8 207.1 605.8 209.5 608.9 212 612 214.5 615 217 618.1 219.6 621.1 222.3 624.2 225 627.2 227.7 630.3 230.4 633.4 233.3 636.4 236.1 639.5 239 642.5 241.9 645.6 244.9 648.7 247.9 651.7 251 654.8 254.1 657.8 257.3 660.9 260.4 664 263.7 667 267 670.1 270.3 673.1 273.6 676.2 277" stroke="#fb1414" stroke-width="1.2" fill="none"/>
<line x1="675.8" y1="273.3" x2="675.8" y2="280" stroke="#ff8080" stroke-width="0.6"/>
<line x1="674.2" y1="280" x2="677.4" y2="280" stroke="#ff9090" stroke-width="0.6"/>
<line x1="674.2" y1="273.3" x2="677.4" y2="273.3" stroke="#ff9090" stroke-width="0.6"/>
<circle cx="578.3" cy="189.2" r="1.7" fill="#fb1414"/>
<circle cx="602.7" cy="207.1" r="1.7" fill="#fb1414"/>
<circle cx="627.4" cy="227.7" r="1.7" fill="#fb1414"/>
<circle cx="651.1" cy="249.7" r="1.7" fill="#fb1414"/>
<circle cx="676.1" cy="276.7" r="1.7" fill="#fb1414"/>
<rect x="576.7" y="187.6" width="3.2" height="3.2" fill="#1f6db5"/>
<rect x="601.1" y="197.5" width="3.2" height="3.2" fill="#1f6db5"/>
<rect x="625.8" y="213" width="3.2" height="3.2" fill="#1f6db5"/>
<rect x="649.5" y="230.9" width="3.2" height="3.2" fill="#1f6db5"/>
<rect x="674.5" y="255.3" width="3.2" height="3.2" fill="#1f6db5"/>
<line x1="587.3" y1="271.2" x2="598.5" y2="271.2" stroke="#1f6db5" stroke-width="1.2"/>
<rect x="591.3" y="269.6" width="3.2" height="3.2" fill="#1f6db5"/>
<text x="601.6" y="274.5" font-size="9.2">Vector</text>
<line x1="587.3" y1="283.2" x2="598.5" y2="283.2" stroke="#fb1414" stroke-width="1.2"/>
<circle cx="592.9" cy="283.2" r="1.7" fill="#fb1414"/>
<text x="601.6" y="286.5" font-size="9.2">USP44</text>
<line x1="678.6" y1="255.2" x2="678.6" y2="278.5" stroke="#b0b0b0" stroke-width="0.6"/>
<text x="685.2" y="266.1" font-size="6.8" text-anchor="middle" font-weight="bold" transform="rotate(-90 685.2 266.1)"><tspan font-style="italic">P</tspan>=0.0016</text>
<text x="-0.1" y="363.2" font-size="13.5" font-weight="bold" fill="#000">c</text>
<text x="77.4" y="369.4" font-size="9.1" text-anchor="middle">Vector</text>
<text x="164.4" y="369.4" font-size="9.1" text-anchor="middle">USP44</text>
<text x="415.9" y="369.4" font-size="9.1" text-anchor="middle">Vector</text>
<text x="502.9" y="369.4" font-size="9.1" text-anchor="middle">USP44</text>
<text x="12.3" y="416.3" font-size="9" text-anchor="middle">Ctrl</text>
<text x="14" y="501.6" font-size="9" text-anchor="middle">IR</text>
<text x="353.6" y="412" font-size="9" text-anchor="middle">Ctrl</text>
<text x="355.8" y="500.2" font-size="9" text-anchor="middle">IR</text>
<path d="M47.5 437.4L47.5 437.4 47.9 437.4 48.3 437.4 48.7 437.4 49.1 437.4 49.5 437.4 49.9 437.4 50.3 437.4 50.7 437.4 51.1 437.4 51.5 437.4 51.9 437.4 52.3 437.4 52.7 437.4 53.1 437.4 53.5 437.4 53.9 437.4 54.3 437.4 54.7 437.4 55.1 437.4 55.5 437.4 55.9 437.4 56.3 437.4 56.7 437.4 57.1 437.4 57.5 437.4 57.9 437.4 58.3 437.4 58.7 437.4 59.1 437.4 59.5 437.3 59.9 437.3 60.3 437.1 60.7 436.8 61.1 436.5 61.5 436.1 61.9 435.8 62.3 435.7 62.7 435.6 63.1 435.6 63.5 435.5 63.9 435.5 64.3 435.4 64.7 435.4 65.1 435.4 65.5 435.3 65.9 435.3 66.3 435.2 66.7 435.2 67.1 435.2 67.5 435.1 67.9 435.1 68.3 435.1 68.7 435 69.1 435 69.5 435 69.9 434.9 70.3 434.9 70.7 434.9 71.1 434.8 71.5 434.8 71.9 434.8 72.3 434.7 72.7 434.7 73.1 434.6 73.5 434.6 73.9 434.6 74.3 434.5 74.7 434.5 75.1 434.5 75.5 434.4 75.9 434.4 76.3 434.4 76.7 434.3 77.1 434.3 77.5 434.3 77.9 434.3 78.3 434.3 78.7 434.3 79.1 434.3 79.5 434.4 79.9 434.5 80.3 434.6 80.7 434.8 81.1 435.1 81.5 435.4 81.9 435.7 82.3 436.1 82.7 436.4 83.1 436.6 83.5 436.8 83.9 437 84.3 437.1 84.7 437.2 85.1 437.3 85.5 437.3 85.9 437.3 86.3 437.4 86.7 437.4 87.1 437.4 87.5 437.4 87.9 437.4 88.3 437.4 88.7 437.4 89.1 437.4 89.5 437.4 89.9 437.4 90.3 437.4 90.7 437.4 91.1 437.4 91.5 437.4 91.9 437.4 92.3 437.4 92.7 437.4 93.1 437.4 93.5 437.4 93.9 437.4 94.3 437.4 94.7 437.4 95.1 437.4 95.5 437.4 95.9 437.4 96.3 437.4 96.7 437.4 97.1 437.4 97.5 437.4 97.9 437.4 98.3 437.4 98.7 437.4 99.1 437.4 99.5 437.4 99.9 437.4 100.3 437.4 100.7 437.4 101.1 437.4 101.5 437.4 101.9 437.4 102.3 437.4 102.7 437.4 103.1 437.4 103.5 437.4 103.9 437.4 104.3 437.4 104.7 437.4 105.1 437.4 105.5 437.4 105.9 437.4 106.3 437.4 106.7 437.4 107.1 437.4 107.5 437.4 107.5 437.4Z" fill="#d8d060"/>
<path d="M47.5 437.4L47.5 437.4 47.9 437.4 48.3 437.4 48.7 437.4 49.1 437.4 49.5 437.4 49.9 437.4 50.3 437.4 50.7 437.4 51.1 437.4 51.5 437.4 51.9 437.4 52.3 437.4 52.7 437.4 53.1 437.4 53.5 437.4 53.9 437.4 54.3 437.4 54.7 437.4 55.1 437.4 55.5 437.3 55.9 437.2 56.3 436.9 56.7 436.1 57.1 434.4 57.5 431.3 57.9 426.2 58.3 418.7 58.7 409.3 59.1 399.2 59.5 390.5 59.9 385.4 60.3 385.4 60.7 390.5 61.1 399.2 61.5 409.3 61.9 418.7 62.3 426.2 62.7 431.3 63.1 434.4 63.5 436.1 63.9 436.9 64.3 437.2 64.7 437.3 65.1 437.4 65.5 437.4 65.9 437.4 66.3 437.4 66.7 437.4 67.1 437.4 67.5 437.4 67.9 437.4 68.3 437.4 68.7 437.4 69.1 437.4 69.5 437.4 69.9 437.4 70.3 437.4 70.7 437.4 71.1 437.4 71.5 437.4 71.9 437.4 72.3 437.4 72.7 437.4 73.1 437.4 73.5 437.4 73.9 437.4 74.3 437.4 74.7 437.4 75.1 437.4 75.5 437.4 75.9 437.4 76.3 437.4 76.7 437.4 77.1 437.4 77.5 437.4 77.9 437.4 78.3 437.4 78.7 437.4 79.1 437.4 79.5 437.4 79.9 437.4 80.3 437.4 80.7 437.4 81.1 437.4 81.5 437.4 81.9 437.4 82.3 437.4 82.7 437.4 83.1 437.4 83.5 437.4 83.9 437.4 84.3 437.4 84.7 437.4 85.1 437.4 85.5 437.4 85.9 437.4 86.3 437.4 86.7 437.4 87.1 437.4 87.5 437.4 87.9 437.4 88.3 437.4 88.7 437.4 89.1 437.4 89.5 437.4 89.9 437.4 90.3 437.4 90.7 437.4 91.1 437.4 91.5 437.4 91.9 437.4 92.3 437.4 92.7 437.4 93.1 437.4 93.5 437.4 93.9 437.4 94.3 437.4 94.7 437.4 95.1 437.4 95.5 437.4 95.9 437.4 96.3 437.4 96.7 437.4 97.1 437.4 97.5 437.4 97.9 437.4 98.3 437.4 98.7 437.4 99.1 437.4 99.5 437.4 99.9 437.4 100.3 437.4 100.7 437.4 101.1 437.4 101.5 437.4 101.9 437.4 102.3 437.4 102.7 437.4 103.1 437.4 103.5 437.4 103.9 437.4 104.3 437.4 104.7 437.4 105.1 437.4 105.5 437.4 105.9 437.4 106.3 437.4 106.7 437.4 107.1 437.4 107.5 437.4 107.5 437.4Z" fill="#3cc43c" fill-opacity="0.95"/>
<path d="M47.5 437.4L47.5 437.4 47.9 437.4 48.3 437.4 48.7 437.4 49.1 437.4 49.5 437.4 49.9 437.4 50.3 437.4 50.7 437.4 51.1 437.4 51.5 437.4 51.9 437.4 52.3 437.4 52.7 437.4 53.1 437.4 53.5 437.4 53.9 437.4 54.3 437.4 54.7 437.4 55.1 437.4 55.5 437.4 55.9 437.4 56.3 437.4 56.7 437.4 57.1 437.4 57.5 437.4 57.9 437.4 58.3 437.4 58.7 437.4 59.1 437.4 59.5 437.4 59.9 437.4 60.3 437.4 60.7 437.4 61.1 437.4 61.5 437.4 61.9 437.4 62.3 437.4 62.7 437.4 63.1 437.4 63.5 437.4 63.9 437.4 64.3 437.4 64.7 437.4 65.1 437.4 65.5 437.4 65.9 437.4 66.3 437.4 66.7 437.4 67.1 437.4 67.5 437.4 67.9 437.4 68.3 437.4 68.7 437.4 69.1 437.4 69.5 437.4 69.9 437.4 70.3 437.4 70.7 437.4 71.1 437.4 71.5 437.4 71.9 437.4 72.3 437.4 72.7 437.4 73.1 437.4 73.5 437.4 73.9 437.4 74.3 437.4 74.7 437.4 75.1 437.4 75.5 437.4 75.9 437.3 76.3 437.3 76.7 437.2 77.1 437.1 77.5 436.9 77.9 436.7 78.3 436.4 78.7 436.1 79.1 435.6 79.5 435.1 79.9 434.6 80.3 434 80.7 433.4 81.1 432.8 81.5 432.4 81.9 432 82.3 431.8 82.7 431.7 83.1 431.9 83.5 432.2 83.9 432.6 84.3 433.1 84.7 433.7 85.1 434.3 85.5 434.8 85.9 435.4 86.3 435.8 86.7 436.2 87.1 436.6 87.5 436.8 87.9 437 88.3 437.1 88.7 437.2 89.1 437.3 89.5 437.3 89.9 437.4 90.3 437.4 90.7 437.4 91.1 437.4 91.5 437.4 91.9 437.4 92.3 437.4 92.7 437.4 93.1 437.4 93.5 437.4 93.9 437.4 94.3 437.4 94.7 437.4 95.1 437.4 95.5 437.4 95.9 437.4 96.3 437.4 96.7 437.4 97.1 437.4 97.5 437.4 97.9 437.4 98.3 437.4 98.7 437.4 99.1 437.4 99.5 437.4 99.9 437.4 100.3 437.4 100.7 437.4 101.1 437.4 101.5 437.4 101.9 437.4 102.3 437.4 102.7 437.4 103.1 437.4 103.5 437.4 103.9 437.4 104.3 437.4 104.7 437.4 105.1 437.4 105.5 437.4 105.9 437.4 106.3 437.4 106.7 437.4 107.1 437.4 107.5 437.4 107.5 437.4Z" fill="#44eef4" fill-opacity="0.95"/>
<path d="M47.5 437.4 L47.9 437.4 48.3 437.4 48.7 437.4 49.1 437.4 49.5 437.4 49.9 437.4 50.3 437.4 50.7 437.4 51.1 437.4 51.5 437.4 51.9 437.4 52.3 437.3 52.7 437.3 53.1 437.2 53.5 437.1 53.9 437 54.3 436.9 54.7 436.8 55.1 436.7 55.5 436.6 55.9 436.5 56.3 436.2 56.7 435.5 57.1 434 57.5 431 57.9 426 58.3 418.6 58.7 409.2 59.1 399.1 59.5 390.4 59.9 385.3 60.3 385.1 60.7 389.9 61.1 398.2 61.5 408 61.9 417.2 62.3 424.5 62.7 429.6 63.1 432.6 63.5 434.2 63.9 434.9 64.3 435.2 64.7 435.3 65.1 435.3 65.5 435.3 65.9 435.3 66.3 435.2 66.7 435.2 67.1 435.2 67.5 435.1 67.9 435.1 68.3 435.1 68.7 435 69.1 435 69.5 435 69.9 434.9 70.3 434.9 70.7 434.9 71.1 434.8 71.5 434.8 71.9 434.8 72.3 434.7 72.7 434.7 73.1 434.6 73.5 434.6 73.9 434.6 74.3 434.5 74.7 434.5 75.1 434.4 75.5 434.4 75.9 434.3 76.3 434.2 76.7 434.1 77.1 434 77.5 433.8 77.9 433.6 78.3 433.3 78.7 432.9 79.1 432.5 79.5 432.1 79.9 431.6 80.3 431.2 80.7 430.8 81.1 430.5 81.5 430.3 81.9 430.3 82.3 430.4 82.7 430.2 83.1 430.7 83.5 431.2 83.9 431.8 84.3 432.5 84.7 433.1 85.1 433.8 85.5 434.5 85.9 435 86.3 435.5 86.7 436 87.1 436.3 87.5 436.6 87.9 436.8 88.3 436.9 88.7 437.1 89.1 437.1 89.5 437.2 89.9 437.2 90.3 437.2 90.7 437.3 91.1 437.3 91.5 437.3 91.9 437.3 92.3 437.3 92.7 437.3 93.1 437.3 93.5 437.3 93.9 437.3 94.3 437.3 94.7 437.3 95.1 437.3 95.5 437.3 95.9 437.3 96.3 437.4 96.7 437.4 97.1 437.4 97.5 437.4 97.9 437.4 98.3 437.4 98.7 437.4 99.1 437.4 99.5 437.4 99.9 437.4 100.3 437.4 100.7 437.4 101.1 437.4 101.5 437.4 101.9 437.4 102.3 437.4 102.7 437.4 103.1 437.4 103.5 437.4 103.9 437.4 104.3 437.4 104.7 437.4 105.1 437.4 105.5 437.4 105.9 437.4 106.3 437.4 106.7 437.4 107.1 437.4 107.5 437.4" stroke="#111" stroke-width="0.5" fill="none"/>
<path d="M47.5 437.4 L47.9 437.4 48.3 437.4 48.7 437.4 49.1 437.4 49.5 437.4 49.9 437.4 50.3 437.4 50.7 437.4 51.1 437.4 51.5 437.4 51.9 437.4 52.3 437.4 52.7 437.4 53.1 437.4 53.5 437.4 53.9 437.4 54.3 437.4 54.7 437.4 55.1 437.4 55.5 437.3 55.9 437.2 56.3 436.9 56.7 435.9 57.1 434.2 57.5 431.1 57.9 426.2 58.3 418.4 58.7 409.2 59.1 399 59.5 390.2 59.9 385.2 60.3 384.9 60.7 389.6 61.1 398 61.5 408 61.9 416.8 62.3 424.4 62.7 429.1 63.1 432.4 63.5 434.1 63.9 434.7 64.3 435 64.7 434.8 65.1 435.3 65.5 435.1 65.9 435.2 66.3 434.6 66.7 435.2 67.1 435 67.5 435.1 67.9 435 68.3 434.7 68.7 434.9 69.1 434.9 69.5 434.8 69.9 434.7 70.3 434.6 70.7 434.8 71.1 434.6 71.5 434.6 71.9 434.4 72.3 434.6 72.7 434.6 73.1 434.5 73.5 434.6 73.9 434.2 74.3 434.1 74.7 433.8 75.1 434 75.5 434 75.9 434.2 76.3 434.2 76.7 433.9 77.1 433.9 77.5 433.2 77.9 433.5 78.3 433 78.7 432.9 79.1 432.3 79.5 432 79.9 431.6 80.3 431.1 80.7 430.7 81.1 430.4 81.5 430.3 81.9 430.1 82.3 430.3 82.7 430.7 83.1 430.8 83.5 431.2 83.9 432.1 84.3 432.7 84.7 433.3 85.1 434 85.5 434.7 85.9 435.2 86.3 435.8 86.7 436 87.1 436.5 87.5 436.8 87.9 437 88.3 437.1 88.7 437.2 89.1 437.3 89.5 437.3 89.9 437.4 90.3 437.4 90.7 437.4 91.1 437.4 91.5 437.4 91.9 437.4 92.3 437.4 92.7 437.4 93.1 437.4 93.5 437.4 93.9 437.4 94.3 437.4 94.7 437.4 95.1 437.4 95.5 437.4 95.9 437.4 96.3 437.4 96.7 437.4 97.1 437.4 97.5 437.4 97.9 437.4 98.3 437.4 98.7 437.4 99.1 437.4 99.5 437.4 99.9 437.4 100.3 437.4 100.7 437.4 101.1 437.4 101.5 437.4 101.9 437.4 102.3 437.4 102.7 437.4 103.1 437.4 103.5 437.4 103.9 437.4 104.3 437.4 104.7 437.4 105.1 437.4 105.5 437.4 105.9 437.4 106.3 437.4 106.7 437.4 107.1 437.4 107.5 437.4" stroke="#e020e0" stroke-width="0.8" fill="none"/>
<path d="M62.3 424.2 L62.7 429.3 63.1 432.3 63.5 433.9 63.9 434.6 64.3 434.9 64.7 435 65.1 435 65.5 435 65.9 435 66.3 434.9 66.7 434.9 67.1 434.9 67.5 434.8 67.9 434.8 68.3 434.8 68.7 434.7 69.1 434.7 69.5 434.7 69.9 434.6 70.3 434.6 70.7 434.6 71.1 434.5 71.5 434.5 71.9 434.5 72.3 434.4 72.7 434.4 73.1 434.3 73.5 434.3 73.9 434.3 74.3 434.2 74.7 434.2 75.1 434.1 75.5 434.1 75.9 434 76.3 433.9 76.7 433.8 77.1 433.7 77.5 433.5 77.9 433.3 78.3 433 78.7 432.6 79.1 432.2 79.5 431.8 79.9 431.3 80.3 430.9" stroke="#d01818" stroke-width="0.8" fill="none"/>
<rect x="47.5" y="378.4" width="60" height="59" fill="none" stroke="#333" stroke-width="0.7"/>
<line x1="45.9" y1="437.4" x2="47.5" y2="437.4" stroke="#333" stroke-width="0.5"/>
<line x1="46.6" y1="432" x2="47.5" y2="432" stroke="#333" stroke-width="0.5"/>
<line x1="46.6" y1="426.6" x2="47.5" y2="426.6" stroke="#333" stroke-width="0.5"/>
<line x1="46.6" y1="421.2" x2="47.5" y2="421.2" stroke="#333" stroke-width="0.5"/>
<line x1="45.9" y1="415.8" x2="47.5" y2="415.8" stroke="#333" stroke-width="0.5"/>
<line x1="46.6" y1="410.4" x2="47.5" y2="410.4" stroke="#333" stroke-width="0.5"/>
<line x1="46.6" y1="405" x2="47.5" y2="405" stroke="#333" stroke-width="0.5"/>
<line x1="46.6" y1="399.6" x2="47.5" y2="399.6" stroke="#333" stroke-width="0.5"/>
<line x1="45.9" y1="394.2" x2="47.5" y2="394.2" stroke="#333" stroke-width="0.5"/>
<line x1="46.6" y1="388.8" x2="47.5" y2="388.8" stroke="#333" stroke-width="0.5"/>
<line x1="46.6" y1="383.4" x2="47.5" y2="383.4" stroke="#333" stroke-width="0.5"/>
<line x1="47.5" y1="437.4" x2="47.5" y2="438.3" stroke="#333" stroke-width="0.5"/>
<line x1="52.5" y1="437.4" x2="52.5" y2="438.3" stroke="#333" stroke-width="0.5"/>
<line x1="57.5" y1="437.4" x2="57.5" y2="439" stroke="#333" stroke-width="0.5"/>
<line x1="62.5" y1="437.4" x2="62.5" y2="438.3" stroke="#333" stroke-width="0.5"/>
<line x1="67.5" y1="437.4" x2="67.5" y2="438.3" stroke="#333" stroke-width="0.5"/>
<line x1="72.5" y1="437.4" x2="72.5" y2="438.3" stroke="#333" stroke-width="0.5"/>
<line x1="77.5" y1="437.4" x2="77.5" y2="439" stroke="#333" stroke-width="0.5"/>
<line x1="82.5" y1="437.4" x2="82.5" y2="438.3" stroke="#333" stroke-width="0.5"/>
<line x1="87.5" y1="437.4" x2="87.5" y2="438.3" stroke="#333" stroke-width="0.5"/>
<line x1="92.5" y1="437.4" x2="92.5" y2="438.3" stroke="#333" stroke-width="0.5"/>
<line x1="97.5" y1="437.4" x2="97.5" y2="439" stroke="#333" stroke-width="0.5"/>
<line x1="102.5" y1="437.4" x2="102.5" y2="438.3" stroke="#333" stroke-width="0.5"/>
<line x1="107.5" y1="437.4" x2="107.5" y2="438.3" stroke="#333" stroke-width="0.5"/>
<text x="67.5" y="384.7" font-size="6.7">G0/G1:</text>
<text x="105.9" y="384.7" font-size="6.7" text-anchor="end">60%</text>
<text x="67.5" y="392.6" font-size="6.7">S:</text>
<text x="105.9" y="392.6" font-size="6.7" text-anchor="end">28%</text>
<text x="67.5" y="400.5" font-size="6.7">G2/M:</text>
<text x="105.9" y="400.5" font-size="6.7" text-anchor="end">12%</text>
<text x="40.9" y="408.4" font-size="8" text-anchor="middle" transform="rotate(-90 40.9 408.4)">Count</text>
<text x="78" y="448.7" font-size="8.2" text-anchor="middle">PE-A</text>
<path d="M133.7 437.2L133.7 437.2 134.1 437.2 134.5 437.2 134.9 437.2 135.3 437.2 135.7 437.2 136.1 437.2 136.5 437.2 136.9 437.2 137.3 437.2 137.7 437.2 138.1 437.2 138.5 437.2 138.9 437.2 139.3 437.2 139.7 437.2 140.1 437.2 140.5 437.2 140.9 437.2 141.3 437.2 141.7 437.2 142.1 437.2 142.5 437.2 142.9 437.2 143.3 437.2 143.7 437.2 144.1 437.2 144.5 437.2 144.9 437.2 145.3 437.2 145.7 437.1 146.1 437.1 146.5 436.9 146.9 436.6 147.3 436.1 147.7 435.5 148.1 435 148.5 434.7 148.9 434.6 149.3 434.5 149.7 434.4 150.1 434.3 150.5 434.3 150.9 434.3 151.3 434.2 151.7 434.2 152.1 434.1 152.5 434.1 152.9 434.1 153.3 434 153.7 434 154.1 433.9 154.5 433.9 154.9 433.9 155.3 433.8 155.7 433.8 156.1 433.7 156.5 433.7 156.9 433.7 157.3 433.6 157.7 433.6 158.1 433.5 158.5 433.5 158.9 433.5 159.3 433.4 159.7 433.4 160.1 433.4 160.5 433.3 160.9 433.3 161.3 433.3 161.7 433.3 162.1 433.2 162.5 433.3 162.9 433.3 163.3 433.4 163.7 433.5 164.1 433.7 164.5 433.9 164.9 434.2 165.3 434.6 165.7 435 166.1 435.4 166.5 435.8 166.9 436.2 167.3 436.4 167.7 436.7 168.1 436.8 168.5 436.9 168.9 437 169.3 437.1 169.7 437.1 170.1 437.1 170.5 437.2 170.9 437.2 171.3 437.2 171.7 437.2 172.1 437.2 172.5 437.2 172.9 437.2 173.3 437.2 173.7 437.2 174.1 437.2 174.5 437.2 174.9 437.2 175.3 437.2 175.7 437.2 176.1 437.2 176.5 437.2 176.9 437.2 177.3 437.2 177.7 437.2 178.1 437.2 178.5 437.2 178.9 437.2 179.3 437.2 179.7 437.2 180.1 437.2 180.5 437.2 180.9 437.2 181.3 437.2 181.7 437.2 182.1 437.2 182.5 437.2 182.9 437.2 183.3 437.2 183.7 437.2 184.1 437.2 184.5 437.2 184.9 437.2 185.3 437.2 185.7 437.2 186.1 437.2 186.5 437.2 186.9 437.2 187.3 437.2 187.7 437.2 188.1 437.2 188.5 437.2 188.9 437.2 189.3 437.2 189.7 437.2 190.1 437.2 190.5 437.2 190.9 437.2 191.3 437.2 191.7 437.2 192.1 437.2 192.5 437.2 192.9 437.2 193.3 437.2 193.7 437.2 193.7 437.2Z" fill="#d8d060"/>
<path d="M133.7 437.2L133.7 437.2 134.1 437.2 134.5 437.2 134.9 437.2 135.3 437.2 135.7 437.2 136.1 437.2 136.5 437.2 136.9 437.2 137.3 437.2 137.7 437.2 138.1 437.2 138.5 437.2 138.9 437.2 139.3 437.2 139.7 437.2 140.1 437.2 140.5 437.2 140.9 437.2 141.3 437.2 141.7 437.2 142.1 437.1 142.5 436.9 142.9 436.4 143.3 435.2 143.7 432.9 144.1 428.9 144.5 422.6 144.9 414.1 145.3 404.1 145.7 394.5 146.1 387.4 146.5 384.8 146.9 387.4 147.3 394.5 147.7 404.1 148.1 414.1 148.5 422.6 148.9 428.9 149.3 432.9 149.7 435.2 150.1 436.4 150.5 436.9 150.9 437.1 151.3 437.2 151.7 437.2 152.1 437.2 152.5 437.2 152.9 437.2 153.3 437.2 153.7 437.2 154.1 437.2 154.5 437.2 154.9 437.2 155.3 437.2 155.7 437.2 156.1 437.2 156.5 437.2 156.9 437.2 157.3 437.2 157.7 437.2 158.1 437.2 158.5 437.2 158.9 437.2 159.3 437.2 159.7 437.2 160.1 437.2 160.5 437.2 160.9 437.2 161.3 437.2 161.7 437.2 162.1 437.2 162.5 437.2 162.9 437.2 163.3 437.2 163.7 437.2 164.1 437.2 164.5 437.2 164.9 437.2 165.3 437.2 165.7 437.2 166.1 437.2 166.5 437.2 166.9 437.2 167.3 437.2 167.7 437.2 168.1 437.2 168.5 437.2 168.9 437.2 169.3 437.2 169.7 437.2 170.1 437.2 170.5 437.2 170.9 437.2 171.3 437.2 171.7 437.2 172.1 437.2 172.5 437.2 172.9 437.2 173.3 437.2 173.7 437.2 174.1 437.2 174.5 437.2 174.9 437.2 175.3 437.2 175.7 437.2 176.1 437.2 176.5 437.2 176.9 437.2 177.3 437.2 177.7 437.2 178.1 437.2 178.5 437.2 178.9 437.2 179.3 437.2 179.7 437.2 180.1 437.2 180.5 437.2 180.9 437.2 181.3 437.2 181.7 437.2 182.1 437.2 182.5 437.2 182.9 437.2 183.3 437.2 183.7 437.2 184.1 437.2 184.5 437.2 184.9 437.2 185.3 437.2 185.7 437.2 186.1 437.2 186.5 437.2 186.9 437.2 187.3 437.2 187.7 437.2 188.1 437.2 188.5 437.2 188.9 437.2 189.3 437.2 189.7 437.2 190.1 437.2 190.5 437.2 190.9 437.2 191.3 437.2 191.7 437.2 192.1 437.2 192.5 437.2 192.9 437.2 193.3 437.2 193.7 437.2 193.7 437.2Z" fill="#3cc43c" fill-opacity="0.95"/>
<path d="M133.7 437.2L133.7 437.2 134.1 437.2 134.5 437.2 134.9 437.2 135.3 437.2 135.7 437.2 136.1 437.2 136.5 437.2 136.9 437.2 137.3 437.2 137.7 437.2 138.1 437.2 138.5 437.2 138.9 437.2 139.3 437.2 139.7 437.2 140.1 437.2 140.5 437.2 140.9 437.2 141.3 437.2 141.7 437.2 142.1 437.2 142.5 437.2 142.9 437.2 143.3 437.2 143.7 437.2 144.1 437.2 144.5 437.2 144.9 437.2 145.3 437.2 145.7 437.2 146.1 437.2 146.5 437.2 146.9 437.2 147.3 437.2 147.7 437.2 148.1 437.2 148.5 437.2 148.9 437.2 149.3 437.2 149.7 437.2 150.1 437.2 150.5 437.2 150.9 437.2 151.3 437.2 151.7 437.2 152.1 437.2 152.5 437.2 152.9 437.2 153.3 437.2 153.7 437.2 154.1 437.2 154.5 437.2 154.9 437.2 155.3 437.2 155.7 437.2 156.1 437.2 156.5 437.2 156.9 437.2 157.3 437.2 157.7 437.2 158.1 437.2 158.5 437.2 158.9 437.2 159.3 437.1 159.7 437.1 160.1 437 160.5 436.9 160.9 436.7 161.3 436.5 161.7 436.2 162.1 435.7 162.5 435.2 162.9 434.5 163.3 433.7 163.7 432.8 164.1 431.9 164.5 430.9 164.9 430 165.3 429.2 165.7 428.5 166.1 428.1 166.5 428 166.9 428.1 167.3 428.5 167.7 429.2 168.1 430 168.5 430.9 168.9 431.9 169.3 432.8 169.7 433.7 170.1 434.5 170.5 435.2 170.9 435.7 171.3 436.2 171.7 436.5 172.1 436.7 172.5 436.9 172.9 437 173.3 437.1 173.7 437.1 174.1 437.2 174.5 437.2 174.9 437.2 175.3 437.2 175.7 437.2 176.1 437.2 176.5 437.2 176.9 437.2 177.3 437.2 177.7 437.2 178.1 437.2 178.5 437.2 178.9 437.2 179.3 437.2 179.7 437.2 180.1 437.2 180.5 437.2 180.9 437.2 181.3 437.2 181.7 437.2 182.1 437.2 182.5 437.2 182.9 437.2 183.3 437.2 183.7 437.2 184.1 437.2 184.5 437.2 184.9 437.2 185.3 437.2 185.7 437.2 186.1 437.2 186.5 437.2 186.9 437.2 187.3 437.2 187.7 437.2 188.1 437.2 188.5 437.2 188.9 437.2 189.3 437.2 189.7 437.2 190.1 437.2 190.5 437.2 190.9 437.2 191.3 437.2 191.7 437.2 192.1 437.2 192.5 437.2 192.9 437.2 193.3 437.2 193.7 437.2 193.7 437.2Z" fill="#44eef4" fill-opacity="0.95"/>
<path d="M133.7 437.2 L134.1 437.2 134.5 437.2 134.9 437.2 135.3 437.2 135.7 437.2 136.1 437.2 136.5 437.2 136.9 437.2 137.3 437.2 137.7 437.2 138.1 437.2 138.5 437.2 138.9 437.1 139.3 437.1 139.7 437 140.1 436.9 140.5 436.8 140.9 436.6 141.3 436.5 141.7 436.5 142.1 436.4 142.5 436.2 142.9 435.8 143.3 434.7 143.7 432.6 144.1 428.6 144.5 422.4 144.9 414 145.3 404.1 145.7 394.4 146.1 387.3 146.5 384.5 146.9 386.8 147.3 393.4 147.7 402.4 148.1 411.9 148.5 420.1 148.9 426.3 149.3 430.2 149.7 432.4 150.1 433.5 150.5 434 150.9 434.2 151.3 434.2 151.7 434.2 152.1 434.1 152.5 434.1 152.9 434.1 153.3 434 153.7 434 154.1 433.9 154.5 433.9 154.9 433.9 155.3 433.8 155.7 433.8 156.1 433.7 156.5 433.7 156.9 433.7 157.3 433.6 157.7 433.6 158.1 433.5 158.5 433.5 158.9 433.4 159.3 433.4 159.7 433.3 160.1 433.2 160.5 433 160.9 432.8 161.3 432.6 161.7 432.2 162.1 431.8 162.5 431.2 162.9 430.6 163.3 429.9 163.7 429.1 164.1 428.3 164.5 427.6 164.9 427 165.3 426.5 165.7 426.3 166.1 426.3 166.5 426.1 166.9 426.6 167.3 427.4 167.7 428.2 168.1 429.2 168.5 430.3 168.9 431.4 169.3 432.4 169.7 433.3 170.1 434.2 170.5 434.9 170.9 435.5 171.3 435.9 171.7 436.3 172.1 436.5 172.5 436.7 172.9 436.8 173.3 436.9 173.7 437 174.1 437 174.5 437.1 174.9 437.1 175.3 437.1 175.7 437.1 176.1 437.1 176.5 437.1 176.9 437.1 177.3 437.1 177.7 437.1 178.1 437.1 178.5 437.1 178.9 437.1 179.3 437.1 179.7 437.1 180.1 437.2 180.5 437.2 180.9 437.2 181.3 437.2 181.7 437.2 182.1 437.2 182.5 437.2 182.9 437.2 183.3 437.2 183.7 437.2 184.1 437.2 184.5 437.2 184.9 437.2 185.3 437.2 185.7 437.2 186.1 437.2 186.5 437.2 186.9 437.2 187.3 437.2 187.7 437.2 188.1 437.2 188.5 437.2 188.9 437.2 189.3 437.2 189.7 437.2 190.1 437.2 190.5 437.2 190.9 437.2 191.3 437.2 191.7 437.2 192.1 437.2 192.5 437.2 192.9 437.2 193.3 437.2 193.7 437.2" stroke="#111" stroke-width="0.5" fill="none"/>
<path d="M133.7 437.2 L134.1 437.2 134.5 437.2 134.9 437.2 135.3 437.2 135.7 437.2 136.1 437.2 136.5 437.2 136.9 437.2 137.3 437.2 137.7 437.2 138.1 437.2 138.5 437.2 138.9 437.2 139.3 437.2 139.7 437.2 140.1 437.2 140.5 437.2 140.9 437.2 141.3 437.2 141.7 437.2 142.1 437.1 142.5 436.9 142.9 436.4 143.3 435.1 143.7 432.9 144.1 428.7 144.5 422.3 144.9 413.7 145.3 404.1 145.7 394.4 146.1 386.6 146.5 383.8 146.9 386.8 147.3 393.2 147.7 402 148.1 411.8 148.5 419.9 148.9 426.3 149.3 430 149.7 432.3 150.1 433.3 150.5 433.4 150.9 433.6 151.3 433.7 151.7 434.1 152.1 434 152.5 434.1 152.9 433.8 153.3 434 153.7 433.7 154.1 433.8 154.5 433.8 154.9 433.8 155.3 433.7 155.7 433.4 156.1 433.5 156.5 433.5 156.9 433.6 157.3 433.1 157.7 433.4 158.1 433.5 158.5 433.5 158.9 433.3 159.3 432.7 159.7 433.3 160.1 433 160.5 432.6 160.9 432.7 161.3 432.3 161.7 432 162.1 431.5 162.5 431.1 162.9 430.6 163.3 429.5 163.7 428.6 164.1 427.5 164.5 427.6 164.9 426.8 165.3 425.9 165.7 426.3 166.1 426.3 166.5 426.4 166.9 426.7 167.3 427.7 167.7 428.2 168.1 429.2 168.5 430.3 168.9 431.5 169.3 432.6 169.7 433.5 170.1 434.3 170.5 435.1 170.9 435.3 171.3 435.6 171.7 436.5 172.1 436.7 172.5 436.9 172.9 437 173.3 437.1 173.7 437.1 174.1 437.2 174.5 437.2 174.9 437.2 175.3 437.2 175.7 437.2 176.1 437.2 176.5 437.2 176.9 437.2 177.3 437.2 177.7 437.2 178.1 437.2 178.5 437.2 178.9 437.2 179.3 437.2 179.7 437.2 180.1 437.2 180.5 437.2 180.9 437.2 181.3 437.2 181.7 437.2 182.1 437.2 182.5 437.2 182.9 437.2 183.3 437.2 183.7 437.2 184.1 437.2 184.5 437.2 184.9 437.2 185.3 437.2 185.7 437.2 186.1 437.2 186.5 437.2 186.9 437.2 187.3 437.2 187.7 437.2 188.1 437.2 188.5 437.2 188.9 437.2 189.3 437.2 189.7 437.2 190.1 437.2 190.5 437.2 190.9 437.2 191.3 437.2 191.7 437.2 192.1 437.2 192.5 437.2 192.9 437.2 193.3 437.2 193.7 437.2" stroke="#e020e0" stroke-width="0.8" fill="none"/>
<path d="M148.9 426 L149.3 429.9 149.7 432.1 150.1 433.2 150.5 433.7 150.9 433.9 151.3 433.9 151.7 433.9 152.1 433.8 152.5 433.8 152.9 433.8 153.3 433.7 153.7 433.7 154.1 433.6 154.5 433.6 154.9 433.6 155.3 433.5 155.7 433.5 156.1 433.4 156.5 433.4 156.9 433.4 157.3 433.3 157.7 433.3 158.1 433.2 158.5 433.2 158.9 433.1 159.3 433.1 159.7 433 160.1 432.9 160.5 432.7 160.9 432.5 161.3 432.3 161.7 431.9 162.1 431.5 162.5 430.9 162.9 430.3 163.3 429.6 163.7 428.8 164.1 428" stroke="#d01818" stroke-width="0.8" fill="none"/>
<rect x="133.7" y="378.2" width="60" height="59" fill="none" stroke="#333" stroke-width="0.7"/>
<line x1="132.1" y1="437.2" x2="133.7" y2="437.2" stroke="#333" stroke-width="0.5"/>
<line x1="132.8" y1="431.8" x2="133.7" y2="431.8" stroke="#333" stroke-width="0.5"/>
<line x1="132.8" y1="426.4" x2="133.7" y2="426.4" stroke="#333" stroke-width="0.5"/>
<line x1="132.8" y1="421" x2="133.7" y2="421" stroke="#333" stroke-width="0.5"/>
<line x1="132.1" y1="415.6" x2="133.7" y2="415.6" stroke="#333" stroke-width="0.5"/>
<line x1="132.8" y1="410.2" x2="133.7" y2="410.2" stroke="#333" stroke-width="0.5"/>
<line x1="132.8" y1="404.8" x2="133.7" y2="404.8" stroke="#333" stroke-width="0.5"/>
<line x1="132.8" y1="399.4" x2="133.7" y2="399.4" stroke="#333" stroke-width="0.5"/>
<line x1="132.1" y1="394" x2="133.7" y2="394" stroke="#333" stroke-width="0.5"/>
<line x1="132.8" y1="388.6" x2="133.7" y2="388.6" stroke="#333" stroke-width="0.5"/>
<line x1="132.8" y1="383.2" x2="133.7" y2="383.2" stroke="#333" stroke-width="0.5"/>
<line x1="133.7" y1="437.2" x2="133.7" y2="438.1" stroke="#333" stroke-width="0.5"/>
<line x1="138.7" y1="437.2" x2="138.7" y2="438.1" stroke="#333" stroke-width="0.5"/>
<line x1="143.7" y1="437.2" x2="143.7" y2="438.8" stroke="#333" stroke-width="0.5"/>
<line x1="148.7" y1="437.2" x2="148.7" y2="438.1" stroke="#333" stroke-width="0.5"/>
<line x1="153.7" y1="437.2" x2="153.7" y2="438.1" stroke="#333" stroke-width="0.5"/>
<line x1="158.7" y1="437.2" x2="158.7" y2="438.1" stroke="#333" stroke-width="0.5"/>
<line x1="163.7" y1="437.2" x2="163.7" y2="438.8" stroke="#333" stroke-width="0.5"/>
<line x1="168.7" y1="437.2" x2="168.7" y2="438.1" stroke="#333" stroke-width="0.5"/>
<line x1="173.7" y1="437.2" x2="173.7" y2="438.1" stroke="#333" stroke-width="0.5"/>
<line x1="178.7" y1="437.2" x2="178.7" y2="438.1" stroke="#333" stroke-width="0.5"/>
<line x1="183.7" y1="437.2" x2="183.7" y2="438.8" stroke="#333" stroke-width="0.5"/>
<line x1="188.7" y1="437.2" x2="188.7" y2="438.1" stroke="#333" stroke-width="0.5"/>
<line x1="193.7" y1="437.2" x2="193.7" y2="438.1" stroke="#333" stroke-width="0.5"/>
<text x="153.7" y="384.5" font-size="6.7">G0/G1:</text>
<text x="192.1" y="384.5" font-size="6.7" text-anchor="end">60%</text>
<text x="153.7" y="392.4" font-size="6.7">S:</text>
<text x="192.1" y="392.4" font-size="6.7" text-anchor="end">21%</text>
<text x="153.7" y="400.3" font-size="6.7">G2/M:</text>
<text x="192.1" y="400.3" font-size="6.7" text-anchor="end">19%</text>
<text x="127.1" y="408.2" font-size="8" text-anchor="middle" transform="rotate(-90 127.1 408.2)">Count</text>
<text x="164.2" y="448.5" font-size="8.2" text-anchor="middle">PE-A</text>
<path d="M47.5 524.5L47.5 524.5 47.9 524.5 48.3 524.5 48.7 524.5 49.1 524.5 49.5 524.5 49.9 524.5 50.3 524.5 50.7 524.5 51.1 524.5 51.5 524.5 51.9 524.5 52.3 524.5 52.7 524.5 53.1 524.5 53.5 524.5 53.9 524.5 54.3 524.5 54.7 524.5 55.1 524.5 55.5 524.5 55.9 524.5 56.3 524.5 56.7 524.5 57.1 524.5 57.5 524.5 57.9 524.5 58.3 524.5 58.7 524.4 59.1 524.3 59.5 524.1 59.9 523.6 60.3 523 60.7 522.3 61.1 521.9 61.5 521.6 61.9 521.5 62.3 521.4 62.7 521.4 63.1 521.3 63.5 521.3 63.9 521.3 64.3 521.3 64.7 521.3 65.1 521.2 65.5 521.2 65.9 521.2 66.3 521.2 66.7 521.2 67.1 521.1 67.5 521.1 67.9 521.1 68.3 521.1 68.7 521.1 69.1 521 69.5 521 69.9 521 70.3 521 70.7 521 71.1 520.9 71.5 520.9 71.9 520.9 72.3 520.9 72.7 520.9 73.1 520.9 73.5 520.8 73.9 520.8 74.3 520.8 74.7 520.8 75.1 520.8 75.5 520.8 75.9 520.8 76.3 520.8 76.7 520.8 77.1 520.9 77.5 521 77.9 521.1 78.3 521.3 78.7 521.6 79.1 521.9 79.5 522.2 79.9 522.6 80.3 523 80.7 523.3 81.1 523.6 81.5 523.9 81.9 524.1 82.3 524.2 82.7 524.3 83.1 524.4 83.5 524.4 83.9 524.4 84.3 524.5 84.7 524.5 85.1 524.5 85.5 524.5 85.9 524.5 86.3 524.5 86.7 524.5 87.1 524.5 87.5 524.5 87.9 524.5 88.3 524.5 88.7 524.5 89.1 524.5 89.5 524.5 89.9 524.5 90.3 524.5 90.7 524.5 91.1 524.5 91.5 524.5 91.9 524.5 92.3 524.5 92.7 524.5 93.1 524.5 93.5 524.5 93.9 524.5 94.3 524.5 94.7 524.5 95.1 524.5 95.5 524.5 95.9 524.5 96.3 524.5 96.7 524.5 97.1 524.5 97.5 524.5 97.9 524.5 98.3 524.5 98.7 524.5 99.1 524.5 99.5 524.5 99.9 524.5 100.3 524.5 100.7 524.5 101.1 524.5 101.5 524.5 101.9 524.5 102.3 524.5 102.7 524.5 103.1 524.5 103.5 524.5 103.9 524.5 104.3 524.5 104.7 524.5 105.1 524.5 105.5 524.5 105.9 524.5 106.3 524.5 106.7 524.5 107.1 524.5 107.5 524.5 107.5 524.5Z" fill="#d8d060"/>
<path d="M47.5 524.5L47.5 524.5 47.9 524.5 48.3 524.5 48.7 524.5 49.1 524.5 49.5 524.5 49.9 524.5 50.3 524.5 50.7 524.5 51.1 524.5 51.5 524.5 51.9 524.5 52.3 524.5 52.7 524.5 53.1 524.5 53.5 524.5 53.9 524.5 54.3 524.5 54.7 524.5 55.1 524.4 55.5 524.1 55.9 523.5 56.3 522.1 56.7 519.4 57.1 514.8 57.5 508 57.9 499 58.3 488.9 58.7 479.6 59.1 473.5 59.5 472.2 59.9 476.1 60.3 484 60.7 494 61.1 503.7 61.5 511.7 61.9 517.4 62.3 520.9 62.7 522.9 63.1 523.8 63.5 524.3 63.9 524.4 64.3 524.5 64.7 524.5 65.1 524.5 65.5 524.5 65.9 524.5 66.3 524.5 66.7 524.5 67.1 524.5 67.5 524.5 67.9 524.5 68.3 524.5 68.7 524.5 69.1 524.5 69.5 524.5 69.9 524.5 70.3 524.5 70.7 524.5 71.1 524.5 71.5 524.5 71.9 524.5 72.3 524.5 72.7 524.5 73.1 524.5 73.5 524.5 73.9 524.5 74.3 524.5 74.7 524.5 75.1 524.5 75.5 524.5 75.9 524.5 76.3 524.5 76.7 524.5 77.1 524.5 77.5 524.5 77.9 524.5 78.3 524.5 78.7 524.5 79.1 524.5 79.5 524.5 79.9 524.5 80.3 524.5 80.7 524.5 81.1 524.5 81.5 524.5 81.9 524.5 82.3 524.5 82.7 524.5 83.1 524.5 83.5 524.5 83.9 524.5 84.3 524.5 84.7 524.5 85.1 524.5 85.5 524.5 85.9 524.5 86.3 524.5 86.7 524.5 87.1 524.5 87.5 524.5 87.9 524.5 88.3 524.5 88.7 524.5 89.1 524.5 89.5 524.5 89.9 524.5 90.3 524.5 90.7 524.5 91.1 524.5 91.5 524.5 91.9 524.5 92.3 524.5 92.7 524.5 93.1 524.5 93.5 524.5 93.9 524.5 94.3 524.5 94.7 524.5 95.1 524.5 95.5 524.5 95.9 524.5 96.3 524.5 96.7 524.5 97.1 524.5 97.5 524.5 97.9 524.5 98.3 524.5 98.7 524.5 99.1 524.5 99.5 524.5 99.9 524.5 100.3 524.5 100.7 524.5 101.1 524.5 101.5 524.5 101.9 524.5 102.3 524.5 102.7 524.5 103.1 524.5 103.5 524.5 103.9 524.5 104.3 524.5 104.7 524.5 105.1 524.5 105.5 524.5 105.9 524.5 106.3 524.5 106.7 524.5 107.1 524.5 107.5 524.5 107.5 524.5Z" fill="#3cc43c" fill-opacity="0.95"/>
<path d="M47.5 524.5L47.5 524.5 47.9 524.5 48.3 524.5 48.7 524.5 49.1 524.5 49.5 524.5 49.9 524.5 50.3 524.5 50.7 524.5 51.1 524.5 51.5 524.5 51.9 524.5 52.3 524.5 52.7 524.5 53.1 524.5 53.5 524.5 53.9 524.5 54.3 524.5 54.7 524.5 55.1 524.5 55.5 524.5 55.9 524.5 56.3 524.5 56.7 524.5 57.1 524.5 57.5 524.5 57.9 524.5 58.3 524.5 58.7 524.5 59.1 524.5 59.5 524.5 59.9 524.5 60.3 524.5 60.7 524.5 61.1 524.5 61.5 524.5 61.9 524.5 62.3 524.5 62.7 524.5 63.1 524.5 63.5 524.5 63.9 524.5 64.3 524.5 64.7 524.5 65.1 524.5 65.5 524.5 65.9 524.5 66.3 524.5 66.7 524.5 67.1 524.5 67.5 524.5 67.9 524.5 68.3 524.5 68.7 524.5 69.1 524.5 69.5 524.5 69.9 524.5 70.3 524.5 70.7 524.5 71.1 524.5 71.5 524.5 71.9 524.5 72.3 524.5 72.7 524.5 73.1 524.5 73.5 524.4 73.9 524.4 74.3 524.3 74.7 524.2 75.1 524 75.5 523.8 75.9 523.4 76.3 523 76.7 522.4 77.1 521.8 77.5 521 77.9 520.1 78.3 519.2 78.7 518.3 79.1 517.4 79.5 516.7 79.9 516.2 80.3 515.8 80.7 515.8 81.1 516 81.5 516.4 81.9 517 82.3 517.8 82.7 518.7 83.1 519.7 83.5 520.6 83.9 521.4 84.3 522.1 84.7 522.7 85.1 523.2 85.5 523.6 85.9 523.9 86.3 524.1 86.7 524.2 87.1 524.3 87.5 524.4 87.9 524.4 88.3 524.5 88.7 524.5 89.1 524.5 89.5 524.5 89.9 524.5 90.3 524.5 90.7 524.5 91.1 524.5 91.5 524.5 91.9 524.5 92.3 524.5 92.7 524.5 93.1 524.5 93.5 524.5 93.9 524.5 94.3 524.5 94.7 524.5 95.1 524.5 95.5 524.5 95.9 524.5 96.3 524.5 96.7 524.5 97.1 524.5 97.5 524.5 97.9 524.5 98.3 524.5 98.7 524.5 99.1 524.5 99.5 524.5 99.9 524.5 100.3 524.5 100.7 524.5 101.1 524.5 101.5 524.5 101.9 524.5 102.3 524.5 102.7 524.5 103.1 524.5 103.5 524.5 103.9 524.5 104.3 524.5 104.7 524.5 105.1 524.5 105.5 524.5 105.9 524.5 106.3 524.5 106.7 524.5 107.1 524.5 107.5 524.5 107.5 524.5Z" fill="#44eef4" fill-opacity="0.95"/>
<path d="M47.5 524.5 L47.9 524.5 48.3 524.5 48.7 524.5 49.1 524.5 49.5 524.5 49.9 524.5 50.3 524.5 50.7 524.5 51.1 524.5 51.5 524.4 51.9 524.4 52.3 524.3 52.7 524.3 53.1 524.1 53.5 524 53.9 523.9 54.3 523.8 54.7 523.7 55.1 523.6 55.5 523.4 55.9 522.9 56.3 521.6 56.7 519.1 57.1 514.6 57.5 507.8 57.9 498.9 58.3 488.8 58.7 479.5 59.1 473.3 59.5 471.8 59.9 475.2 60.3 482.5 60.7 491.8 61.1 501.1 61.5 508.8 61.9 514.4 62.3 517.8 62.7 519.8 63.1 520.7 63.5 521.1 63.9 521.2 64.3 521.2 64.7 521.2 65.1 521.2 65.5 521.2 65.9 521.2 66.3 521.2 66.7 521.2 67.1 521.1 67.5 521.1 67.9 521.1 68.3 521.1 68.7 521.1 69.1 521 69.5 521 69.9 521 70.3 521 70.7 521 71.1 520.9 71.5 520.9 71.9 520.9 72.3 520.9 72.7 520.9 73.1 520.8 73.5 520.8 73.9 520.7 74.3 520.6 74.7 520.5 75.1 520.3 75.5 520 75.9 519.7 76.3 519.3 76.7 518.8 77.1 518.2 77.5 517.5 77.9 516.7 78.3 516 78.7 515.4 79.1 514.8 79.5 514.4 79.9 514.3 80.3 514.3 80.7 514.1 81.1 514.7 81.5 515.4 81.9 516.2 82.3 517.2 82.7 518.2 83.1 519.2 83.5 520.2 83.9 521 84.3 521.8 84.7 522.4 85.1 523 85.5 523.4 85.9 523.7 86.3 523.9 86.7 524.1 87.1 524.2 87.5 524.2 87.9 524.3 88.3 524.3 88.7 524.4 89.1 524.4 89.5 524.4 89.9 524.4 90.3 524.4 90.7 524.4 91.1 524.4 91.5 524.4 91.9 524.4 92.3 524.4 92.7 524.4 93.1 524.4 93.5 524.4 93.9 524.4 94.3 524.5 94.7 524.5 95.1 524.5 95.5 524.5 95.9 524.5 96.3 524.5 96.7 524.5 97.1 524.5 97.5 524.5 97.9 524.5 98.3 524.5 98.7 524.5 99.1 524.5 99.5 524.5 99.9 524.5 100.3 524.5 100.7 524.5 101.1 524.5 101.5 524.5 101.9 524.5 102.3 524.5 102.7 524.5 103.1 524.5 103.5 524.5 103.9 524.5 104.3 524.5 104.7 524.5 105.1 524.5 105.5 524.5 105.9 524.5 106.3 524.5 106.7 524.5 107.1 524.5 107.5 524.5" stroke="#111" stroke-width="0.5" fill="none"/>
<path d="M47.5 524.5 L47.9 524.5 48.3 524.5 48.7 524.5 49.1 524.5 49.5 524.5 49.9 524.5 50.3 524.5 50.7 524.5 51.1 524.5 51.5 524.5 51.9 524.5 52.3 524.5 52.7 524.5 53.1 524.5 53.5 524.5 53.9 524.5 54.3 524.5 54.7 524.5 55.1 524.4 55.5 524.1 55.9 523.4 56.3 521.6 56.7 519.3 57.1 514.5 57.5 507.8 57.9 498.8 58.3 488.8 58.7 479.3 59.1 473.3 59.5 471.5 59.9 474.6 60.3 482.1 60.7 491.6 61.1 500.8 61.5 508.1 61.9 514.1 62.3 517.5 62.7 519.4 63.1 520.6 63.5 520.6 63.9 521 64.3 521.1 64.7 520.7 65.1 521.1 65.5 521 65.9 520.9 66.3 521.2 66.7 520.5 67.1 521.1 67.5 520.8 67.9 520.8 68.3 520.7 68.7 520.7 69.1 520.6 69.5 520.7 69.9 520.8 70.3 520.4 70.7 520.8 71.1 520.4 71.5 520.6 71.9 520.5 72.3 520.8 72.7 520.3 73.1 520.6 73.5 520.7 73.9 520.7 74.3 520.3 74.7 520.3 75.1 519.7 75.5 519.7 75.9 519.4 76.3 519.2 76.7 518.2 77.1 518 77.5 517.3 77.9 516.5 78.3 515.9 78.7 514.9 79.1 514.4 79.5 514 79.9 514.2 80.3 514.1 80.7 514.4 81.1 515.1 81.5 515.4 81.9 516.6 82.3 517.3 82.7 517.7 83.1 519.2 83.5 520.3 83.9 521.2 84.3 521.8 84.7 522.6 85.1 523 85.5 523.6 85.9 523.9 86.3 524.1 86.7 524.2 87.1 524.3 87.5 524.4 87.9 524.4 88.3 524.5 88.7 524.5 89.1 524.5 89.5 524.5 89.9 524.5 90.3 524.5 90.7 524.5 91.1 524.5 91.5 524.5 91.9 524.5 92.3 524.5 92.7 524.5 93.1 524.5 93.5 524.5 93.9 524.5 94.3 524.5 94.7 524.5 95.1 524.5 95.5 524.5 95.9 524.5 96.3 524.5 96.7 524.5 97.1 524.5 97.5 524.5 97.9 524.5 98.3 524.5 98.7 524.5 99.1 524.5 99.5 524.5 99.9 524.5 100.3 524.5 100.7 524.5 101.1 524.5 101.5 524.5 101.9 524.5 102.3 524.5 102.7 524.5 103.1 524.5 103.5 524.5 103.9 524.5 104.3 524.5 104.7 524.5 105.1 524.5 105.5 524.5 105.9 524.5 106.3 524.5 106.7 524.5 107.1 524.5 107.5 524.5" stroke="#e020e0" stroke-width="0.8" fill="none"/>
<path d="M61.5 508.5 L61.9 514.1 62.3 517.5 62.7 519.5 63.1 520.4 63.5 520.8 63.9 520.9 64.3 520.9 64.7 520.9 65.1 520.9 65.5 520.9 65.9 520.9 66.3 520.9 66.7 520.9 67.1 520.8 67.5 520.8 67.9 520.8 68.3 520.8 68.7 520.8 69.1 520.7 69.5 520.7 69.9 520.7 70.3 520.7 70.7 520.7 71.1 520.6 71.5 520.6 71.9 520.6 72.3 520.6 72.7 520.6 73.1 520.5 73.5 520.5 73.9 520.4 74.3 520.3 74.7 520.2 75.1 520 75.5 519.7 75.9 519.4 76.3 519 76.7 518.5 77.1 517.9 77.5 517.2 77.9 516.4 78.3 515.7" stroke="#d01818" stroke-width="0.8" fill="none"/>
<rect x="47.5" y="465.5" width="60" height="59" fill="none" stroke="#333" stroke-width="0.7"/>
<line x1="45.9" y1="524.5" x2="47.5" y2="524.5" stroke="#333" stroke-width="0.5"/>
<line x1="46.6" y1="519.1" x2="47.5" y2="519.1" stroke="#333" stroke-width="0.5"/>
<line x1="46.6" y1="513.7" x2="47.5" y2="513.7" stroke="#333" stroke-width="0.5"/>
<line x1="46.6" y1="508.3" x2="47.5" y2="508.3" stroke="#333" stroke-width="0.5"/>
<line x1="45.9" y1="502.9" x2="47.5" y2="502.9" stroke="#333" stroke-width="0.5"/>
<line x1="46.6" y1="497.5" x2="47.5" y2="497.5" stroke="#333" stroke-width="0.5"/>
<line x1="46.6" y1="492.1" x2="47.5" y2="492.1" stroke="#333" stroke-width="0.5"/>
<line x1="46.6" y1="486.7" x2="47.5" y2="486.7" stroke="#333" stroke-width="0.5"/>
<line x1="45.9" y1="481.3" x2="47.5" y2="481.3" stroke="#333" stroke-width="0.5"/>
<line x1="46.6" y1="475.9" x2="47.5" y2="475.9" stroke="#333" stroke-width="0.5"/>
<line x1="46.6" y1="470.5" x2="47.5" y2="470.5" stroke="#333" stroke-width="0.5"/>
<line x1="47.5" y1="524.5" x2="47.5" y2="525.4" stroke="#333" stroke-width="0.5"/>
<line x1="52.5" y1="524.5" x2="52.5" y2="525.4" stroke="#333" stroke-width="0.5"/>
<line x1="57.5" y1="524.5" x2="57.5" y2="526.1" stroke="#333" stroke-width="0.5"/>
<line x1="62.5" y1="524.5" x2="62.5" y2="525.4" stroke="#333" stroke-width="0.5"/>
<line x1="67.5" y1="524.5" x2="67.5" y2="525.4" stroke="#333" stroke-width="0.5"/>
<line x1="72.5" y1="524.5" x2="72.5" y2="525.4" stroke="#333" stroke-width="0.5"/>
<line x1="77.5" y1="524.5" x2="77.5" y2="526.1" stroke="#333" stroke-width="0.5"/>
<line x1="82.5" y1="524.5" x2="82.5" y2="525.4" stroke="#333" stroke-width="0.5"/>
<line x1="87.5" y1="524.5" x2="87.5" y2="525.4" stroke="#333" stroke-width="0.5"/>
<line x1="92.5" y1="524.5" x2="92.5" y2="525.4" stroke="#333" stroke-width="0.5"/>
<line x1="97.5" y1="524.5" x2="97.5" y2="526.1" stroke="#333" stroke-width="0.5"/>
<line x1="102.5" y1="524.5" x2="102.5" y2="525.4" stroke="#333" stroke-width="0.5"/>
<line x1="107.5" y1="524.5" x2="107.5" y2="525.4" stroke="#333" stroke-width="0.5"/>
<text x="67.5" y="471.8" font-size="6.7">G0/G1:</text>
<text x="105.9" y="471.8" font-size="6.7" text-anchor="end">50%</text>
<text x="67.5" y="479.7" font-size="6.7">S:</text>
<text x="105.9" y="479.7" font-size="6.7" text-anchor="end">34%</text>
<text x="67.5" y="487.6" font-size="6.7">G2/M:</text>
<text x="105.9" y="487.6" font-size="6.7" text-anchor="end">16%</text>
<text x="40.9" y="495.5" font-size="8" text-anchor="middle" transform="rotate(-90 40.9 495.5)">Count</text>
<text x="78" y="535.8" font-size="8.2" text-anchor="middle">PE-A</text>
<path d="M133.7 524.5L133.7 524.5 134.1 524.5 134.5 524.5 134.9 524.5 135.3 524.5 135.7 524.5 136.1 524.5 136.5 524.5 136.9 524.5 137.3 524.5 137.7 524.5 138.1 524.5 138.5 524.5 138.9 524.5 139.3 524.5 139.7 524.5 140.1 524.5 140.5 524.5 140.9 524.5 141.3 524.5 141.7 524.5 142.1 524.5 142.5 524.5 142.9 524.5 143.3 524.5 143.7 524.4 144.1 524.2 144.5 523.9 144.9 523.3 145.3 522.5 145.7 521.6 146.1 521 146.5 520.6 146.9 520.4 147.3 520.3 147.7 520.3 148.1 520.2 148.5 520.2 148.9 520.1 149.3 520.1 149.7 520.1 150.1 520.1 150.5 520 150.9 520 151.3 520 151.7 519.9 152.1 519.9 152.5 519.9 152.9 519.8 153.3 519.8 153.7 519.8 154.1 519.7 154.5 519.7 154.9 519.7 155.3 519.7 155.7 519.6 156.1 519.6 156.5 519.6 156.9 519.5 157.3 519.5 157.7 519.5 158.1 519.5 158.5 519.5 158.9 519.5 159.3 519.5 159.7 519.5 160.1 519.6 160.5 519.7 160.9 519.9 161.3 520.2 161.7 520.5 162.1 520.9 162.5 521.4 162.9 521.9 163.3 522.4 163.7 522.9 164.1 523.3 164.5 523.7 164.9 523.9 165.3 524.1 165.7 524.2 166.1 524.3 166.5 524.4 166.9 524.4 167.3 524.4 167.7 524.5 168.1 524.5 168.5 524.5 168.9 524.5 169.3 524.5 169.7 524.5 170.1 524.5 170.5 524.5 170.9 524.5 171.3 524.5 171.7 524.5 172.1 524.5 172.5 524.5 172.9 524.5 173.3 524.5 173.7 524.5 174.1 524.5 174.5 524.5 174.9 524.5 175.3 524.5 175.7 524.5 176.1 524.5 176.5 524.5 176.9 524.5 177.3 524.5 177.7 524.5 178.1 524.5 178.5 524.5 178.9 524.5 179.3 524.5 179.7 524.5 180.1 524.5 180.5 524.5 180.9 524.5 181.3 524.5 181.7 524.5 182.1 524.5 182.5 524.5 182.9 524.5 183.3 524.5 183.7 524.5 184.1 524.5 184.5 524.5 184.9 524.5 185.3 524.5 185.7 524.5 186.1 524.5 186.5 524.5 186.9 524.5 187.3 524.5 187.7 524.5 188.1 524.5 188.5 524.5 188.9 524.5 189.3 524.5 189.7 524.5 190.1 524.5 190.5 524.5 190.9 524.5 191.3 524.5 191.7 524.5 192.1 524.5 192.5 524.5 192.9 524.5 193.3 524.5 193.7 524.5 193.7 524.5Z" fill="#d8d060"/>
<path d="M133.7 524.5L133.7 524.5 134.1 524.5 134.5 524.5 134.9 524.5 135.3 524.5 135.7 524.5 136.1 524.5 136.5 524.5 136.9 524.5 137.3 524.5 137.7 524.5 138.1 524.5 138.5 524.5 138.9 524.5 139.3 524.5 139.7 524.5 140.1 524.4 140.5 524.1 140.9 523.4 141.3 522.1 141.7 519.4 142.1 514.8 142.5 507.8 142.9 498.7 143.3 488.6 143.7 479.3 144.1 473.1 144.5 471.7 144.9 475.6 145.3 483.7 145.7 493.7 146.1 503.5 146.5 511.6 146.9 517.3 147.3 520.9 147.7 522.9 148.1 523.8 148.5 524.3 148.9 524.4 149.3 524.5 149.7 524.5 150.1 524.5 150.5 524.5 150.9 524.5 151.3 524.5 151.7 524.5 152.1 524.5 152.5 524.5 152.9 524.5 153.3 524.5 153.7 524.5 154.1 524.5 154.5 524.5 154.9 524.5 155.3 524.5 155.7 524.5 156.1 524.5 156.5 524.5 156.9 524.5 157.3 524.5 157.7 524.5 158.1 524.5 158.5 524.5 158.9 524.5 159.3 524.5 159.7 524.5 160.1 524.5 160.5 524.5 160.9 524.5 161.3 524.5 161.7 524.5 162.1 524.5 162.5 524.5 162.9 524.5 163.3 524.5 163.7 524.5 164.1 524.5 164.5 524.5 164.9 524.5 165.3 524.5 165.7 524.5 166.1 524.5 166.5 524.5 166.9 524.5 167.3 524.5 167.7 524.5 168.1 524.5 168.5 524.5 168.9 524.5 169.3 524.5 169.7 524.5 170.1 524.5 170.5 524.5 170.9 524.5 171.3 524.5 171.7 524.5 172.1 524.5 172.5 524.5 172.9 524.5 173.3 524.5 173.7 524.5 174.1 524.5 174.5 524.5 174.9 524.5 175.3 524.5 175.7 524.5 176.1 524.5 176.5 524.5 176.9 524.5 177.3 524.5 177.7 524.5 178.1 524.5 178.5 524.5 178.9 524.5 179.3 524.5 179.7 524.5 180.1 524.5 180.5 524.5 180.9 524.5 181.3 524.5 181.7 524.5 182.1 524.5 182.5 524.5 182.9 524.5 183.3 524.5 183.7 524.5 184.1 524.5 184.5 524.5 184.9 524.5 185.3 524.5 185.7 524.5 186.1 524.5 186.5 524.5 186.9 524.5 187.3 524.5 187.7 524.5 188.1 524.5 188.5 524.5 188.9 524.5 189.3 524.5 189.7 524.5 190.1 524.5 190.5 524.5 190.9 524.5 191.3 524.5 191.7 524.5 192.1 524.5 192.5 524.5 192.9 524.5 193.3 524.5 193.7 524.5 193.7 524.5Z" fill="#3cc43c" fill-opacity="0.95"/>
<path d="M133.7 524.5L133.7 524.5 134.1 524.5 134.5 524.5 134.9 524.5 135.3 524.5 135.7 524.5 136.1 524.5 136.5 524.5 136.9 524.5 137.3 524.5 137.7 524.5 138.1 524.5 138.5 524.5 138.9 524.5 139.3 524.5 139.7 524.5 140.1 524.5 140.5 524.5 140.9 524.5 141.3 524.5 141.7 524.5 142.1 524.5 142.5 524.5 142.9 524.5 143.3 524.5 143.7 524.5 144.1 524.5 144.5 524.5 144.9 524.5 145.3 524.5 145.7 524.5 146.1 524.5 146.5 524.5 146.9 524.5 147.3 524.5 147.7 524.5 148.1 524.5 148.5 524.5 148.9 524.5 149.3 524.5 149.7 524.5 150.1 524.5 150.5 524.5 150.9 524.5 151.3 524.5 151.7 524.5 152.1 524.5 152.5 524.5 152.9 524.5 153.3 524.5 153.7 524.5 154.1 524.5 154.5 524.5 154.9 524.5 155.3 524.5 155.7 524.5 156.1 524.4 156.5 524.4 156.9 524.3 157.3 524.2 157.7 524 158.1 523.7 158.5 523.3 158.9 522.8 159.3 522.1 159.7 521.2 160.1 520.2 160.5 518.9 160.9 517.6 161.3 516.1 161.7 514.7 162.1 513.3 162.5 512.2 162.9 511.3 163.3 510.8 163.7 510.7 164.1 511 164.5 511.7 164.9 512.7 165.3 514 165.7 515.4 166.1 516.9 166.5 518.3 166.9 519.6 167.3 520.7 167.7 521.7 168.1 522.5 168.5 523.1 168.9 523.5 169.3 523.9 169.7 524.1 170.1 524.2 170.5 524.3 170.9 524.4 171.3 524.4 171.7 524.5 172.1 524.5 172.5 524.5 172.9 524.5 173.3 524.5 173.7 524.5 174.1 524.5 174.5 524.5 174.9 524.5 175.3 524.5 175.7 524.5 176.1 524.5 176.5 524.5 176.9 524.5 177.3 524.5 177.7 524.5 178.1 524.5 178.5 524.5 178.9 524.5 179.3 524.5 179.7 524.5 180.1 524.5 180.5 524.5 180.9 524.5 181.3 524.5 181.7 524.5 182.1 524.5 182.5 524.5 182.9 524.5 183.3 524.5 183.7 524.5 184.1 524.5 184.5 524.5 184.9 524.5 185.3 524.5 185.7 524.5 186.1 524.5 186.5 524.5 186.9 524.5 187.3 524.5 187.7 524.5 188.1 524.5 188.5 524.5 188.9 524.5 189.3 524.5 189.7 524.5 190.1 524.5 190.5 524.5 190.9 524.5 191.3 524.5 191.7 524.5 192.1 524.5 192.5 524.5 192.9 524.5 193.3 524.5 193.7 524.5 193.7 524.5Z" fill="#44eef4" fill-opacity="0.95"/>
<path d="M133.7 524.5 L134.1 524.5 134.5 524.5 134.9 524.5 135.3 524.5 135.7 524.5 136.1 524.5 136.5 524.4 136.9 524.4 137.3 524.3 137.7 524.3 138.1 524.1 138.5 524 138.9 523.9 139.3 523.8 139.7 523.7 140.1 523.6 140.5 523.4 140.9 522.9 141.3 521.6 141.7 519 142.1 514.5 142.5 507.7 142.9 498.6 143.3 488.5 143.7 479.1 144.1 472.8 144.5 471.2 144.9 474.5 145.3 481.6 145.7 490.8 146.1 500 146.5 507.7 146.9 513.3 147.3 516.7 147.7 518.6 148.1 519.6 148.5 519.9 148.9 520.1 149.3 520.1 149.7 520.1 150.1 520.1 150.5 520 150.9 520 151.3 520 151.7 519.9 152.1 519.9 152.5 519.9 152.9 519.8 153.3 519.8 153.7 519.8 154.1 519.7 154.5 519.7 154.9 519.7 155.3 519.6 155.7 519.6 156.1 519.5 156.5 519.4 156.9 519.3 157.3 519.2 157.7 519 158.1 518.7 158.5 518.3 158.9 517.8 159.3 517.1 159.7 516.2 160.1 515.3 160.5 514.2 160.9 513 161.3 511.8 161.7 510.7 162.1 509.7 162.5 509.1 162.9 508.7 163.3 508.7 163.7 508.6 164.1 509.4 164.5 510.4 164.9 511.7 165.3 513.2 165.7 514.8 166.1 516.3 166.5 517.8 166.9 519.2 167.3 520.4 167.7 521.4 168.1 522.2 168.5 522.8 168.9 523.3 169.3 523.7 169.7 523.9 170.1 524.1 170.5 524.2 170.9 524.3 171.3 524.3 171.7 524.3 172.1 524.4 172.5 524.4 172.9 524.4 173.3 524.4 173.7 524.4 174.1 524.4 174.5 524.4 174.9 524.4 175.3 524.4 175.7 524.4 176.1 524.4 176.5 524.4 176.9 524.4 177.3 524.5 177.7 524.5 178.1 524.5 178.5 524.5 178.9 524.5 179.3 524.5 179.7 524.5 180.1 524.5 180.5 524.5 180.9 524.5 181.3 524.5 181.7 524.5 182.1 524.5 182.5 524.5 182.9 524.5 183.3 524.5 183.7 524.5 184.1 524.5 184.5 524.5 184.9 524.5 185.3 524.5 185.7 524.5 186.1 524.5 186.5 524.5 186.9 524.5 187.3 524.5 187.7 524.5 188.1 524.5 188.5 524.5 188.9 524.5 189.3 524.5 189.7 524.5 190.1 524.5 190.5 524.5 190.9 524.5 191.3 524.5 191.7 524.5 192.1 524.5 192.5 524.5 192.9 524.5 193.3 524.5 193.7 524.5" stroke="#111" stroke-width="0.5" fill="none"/>
<path d="M133.7 524.5 L134.1 524.5 134.5 524.5 134.9 524.5 135.3 524.5 135.7 524.5 136.1 524.5 136.5 524.5 136.9 524.5 137.3 524.5 137.7 524.5 138.1 524.5 138.5 524.5 138.9 524.5 139.3 524.5 139.7 524.5 140.1 524.4 140.5 524.1 140.9 523.2 141.3 522 141.7 519.1 142.1 514.7 142.5 507.8 142.9 498.4 143.3 487.9 143.7 479 144.1 472.3 144.5 470.8 144.9 474 145.3 481.2 145.7 490.6 146.1 499.8 146.5 507.7 146.9 512.6 147.3 516.4 147.7 518.4 148.1 518.9 148.5 519.7 148.9 520 149.3 519.9 149.7 519.7 150.1 519.9 150.5 519.6 150.9 520 151.3 519.9 151.7 519.7 152.1 519.8 152.5 519.5 152.9 519.8 153.3 519.6 153.7 519.5 154.1 519.2 154.5 519.7 154.9 519.7 155.3 519.4 155.7 519.5 156.1 519.1 156.5 519.3 156.9 519.2 157.3 519.1 157.7 518.2 158.1 518.6 158.5 518.3 158.9 517.5 159.3 517 159.7 516 160.1 514.9 160.5 514 160.9 512.9 161.3 511.2 161.7 510.3 162.1 509.7 162.5 508.7 162.9 508.7 163.3 508.5 163.7 509.1 164.1 509.6 164.5 510.7 164.9 511.8 165.3 513.5 165.7 514.8 166.1 516.5 166.5 517.4 166.9 519.3 167.3 520.3 167.7 521 168.1 522.3 168.5 522.6 168.9 523.5 169.3 523.9 169.7 524.1 170.1 524.2 170.5 524.3 170.9 524.4 171.3 524.4 171.7 524.5 172.1 524.5 172.5 524.5 172.9 524.5 173.3 524.5 173.7 524.5 174.1 524.5 174.5 524.5 174.9 524.5 175.3 524.5 175.7 524.5 176.1 524.5 176.5 524.5 176.9 524.5 177.3 524.5 177.7 524.5 178.1 524.5 178.5 524.5 178.9 524.5 179.3 524.5 179.7 524.5 180.1 524.5 180.5 524.5 180.9 524.5 181.3 524.5 181.7 524.5 182.1 524.5 182.5 524.5 182.9 524.5 183.3 524.5 183.7 524.5 184.1 524.5 184.5 524.5 184.9 524.5 185.3 524.5 185.7 524.5 186.1 524.5 186.5 524.5 186.9 524.5 187.3 524.5 187.7 524.5 188.1 524.5 188.5 524.5 188.9 524.5 189.3 524.5 189.7 524.5 190.1 524.5 190.5 524.5 190.9 524.5 191.3 524.5 191.7 524.5 192.1 524.5 192.5 524.5 192.9 524.5 193.3 524.5 193.7 524.5" stroke="#e020e0" stroke-width="0.8" fill="none"/>
<path d="M146.5 507.4 L146.9 513 147.3 516.4 147.7 518.3 148.1 519.3 148.5 519.6 148.9 519.8 149.3 519.8 149.7 519.8 150.1 519.8 150.5 519.7 150.9 519.7 151.3 519.7 151.7 519.6 152.1 519.6 152.5 519.6 152.9 519.5 153.3 519.5 153.7 519.5 154.1 519.4 154.5 519.4 154.9 519.4 155.3 519.3 155.7 519.3 156.1 519.2 156.5 519.1 156.9 519 157.3 518.9 157.7 518.7 158.1 518.4 158.5 518 158.9 517.5 159.3 516.8 159.7 515.9 160.1 515 160.5 513.9 160.9 512.7 161.3 511.5" stroke="#d01818" stroke-width="0.8" fill="none"/>
<rect x="133.7" y="465.5" width="60" height="59" fill="none" stroke="#333" stroke-width="0.7"/>
<line x1="132.1" y1="524.5" x2="133.7" y2="524.5" stroke="#333" stroke-width="0.5"/>
<line x1="132.8" y1="519.1" x2="133.7" y2="519.1" stroke="#333" stroke-width="0.5"/>
<line x1="132.8" y1="513.7" x2="133.7" y2="513.7" stroke="#333" stroke-width="0.5"/>
<line x1="132.8" y1="508.3" x2="133.7" y2="508.3" stroke="#333" stroke-width="0.5"/>
<line x1="132.1" y1="502.9" x2="133.7" y2="502.9" stroke="#333" stroke-width="0.5"/>
<line x1="132.8" y1="497.5" x2="133.7" y2="497.5" stroke="#333" stroke-width="0.5"/>
<line x1="132.8" y1="492.1" x2="133.7" y2="492.1" stroke="#333" stroke-width="0.5"/>
<line x1="132.8" y1="486.7" x2="133.7" y2="486.7" stroke="#333" stroke-width="0.5"/>
<line x1="132.1" y1="481.3" x2="133.7" y2="481.3" stroke="#333" stroke-width="0.5"/>
<line x1="132.8" y1="475.9" x2="133.7" y2="475.9" stroke="#333" stroke-width="0.5"/>
<line x1="132.8" y1="470.5" x2="133.7" y2="470.5" stroke="#333" stroke-width="0.5"/>
<line x1="133.7" y1="524.5" x2="133.7" y2="525.4" stroke="#333" stroke-width="0.5"/>
<line x1="138.7" y1="524.5" x2="138.7" y2="525.4" stroke="#333" stroke-width="0.5"/>
<line x1="143.7" y1="524.5" x2="143.7" y2="526.1" stroke="#333" stroke-width="0.5"/>
<line x1="148.7" y1="524.5" x2="148.7" y2="525.4" stroke="#333" stroke-width="0.5"/>
<line x1="153.7" y1="524.5" x2="153.7" y2="525.4" stroke="#333" stroke-width="0.5"/>
<line x1="158.7" y1="524.5" x2="158.7" y2="525.4" stroke="#333" stroke-width="0.5"/>
<line x1="163.7" y1="524.5" x2="163.7" y2="526.1" stroke="#333" stroke-width="0.5"/>
<line x1="168.7" y1="524.5" x2="168.7" y2="525.4" stroke="#333" stroke-width="0.5"/>
<line x1="173.7" y1="524.5" x2="173.7" y2="525.4" stroke="#333" stroke-width="0.5"/>
<line x1="178.7" y1="524.5" x2="178.7" y2="525.4" stroke="#333" stroke-width="0.5"/>
<line x1="183.7" y1="524.5" x2="183.7" y2="526.1" stroke="#333" stroke-width="0.5"/>
<line x1="188.7" y1="524.5" x2="188.7" y2="525.4" stroke="#333" stroke-width="0.5"/>
<line x1="193.7" y1="524.5" x2="193.7" y2="525.4" stroke="#333" stroke-width="0.5"/>
<text x="153.7" y="471.8" font-size="6.7">G0/G1:</text>
<text x="192.1" y="471.8" font-size="6.7" text-anchor="end">45%</text>
<text x="153.7" y="479.7" font-size="6.7">S:</text>
<text x="192.1" y="479.7" font-size="6.7" text-anchor="end">27%</text>
<text x="153.7" y="487.6" font-size="6.7">G2/M:</text>
<text x="192.1" y="487.6" font-size="6.7" text-anchor="end">28%</text>
<text x="127.1" y="495.5" font-size="8" text-anchor="middle" transform="rotate(-90 127.1 495.5)">Count</text>
<text x="164.2" y="535.8" font-size="8.2" text-anchor="middle">PE-A</text>
<path d="M387.3 437.6L387.3 437.6 387.7 437.6 388.1 437.6 388.5 437.6 388.9 437.6 389.3 437.6 389.7 437.6 390.1 437.6 390.5 437.6 390.9 437.6 391.3 437.6 391.7 437.6 392.1 437.6 392.5 437.6 392.9 437.6 393.3 437.6 393.7 437.6 394.1 437.6 394.5 437.6 394.9 437.6 395.3 437.6 395.7 437.6 396.1 437.6 396.5 437.6 396.9 437.6 397.3 437.5 397.7 437.4 398.1 437.2 398.5 436.6 398.9 435.5 399.3 433.8 399.7 431.7 400.1 430 400.5 429.1 400.9 428.7 401.3 428.6 401.7 428.6 402.1 428.6 402.5 428.7 402.9 428.9 403.3 429 403.7 429.1 404.1 429.2 404.5 429.3 404.9 429.4 405.3 429.6 405.7 429.7 406.1 429.8 406.5 429.9 406.9 430 407.3 430.1 407.7 430.3 408.1 430.4 408.5 430.5 408.9 430.6 409.3 430.7 409.7 430.8 410.1 431 410.5 431.1 410.9 431.2 411.3 431.3 411.7 431.4 412.1 431.5 412.5 431.7 412.9 431.8 413.3 431.9 413.7 432 414.1 432.1 414.5 432.3 414.9 432.4 415.3 432.5 415.7 432.6 416.1 432.8 416.5 432.9 416.9 433.1 417.3 433.3 417.7 433.5 418.1 433.8 418.5 434.1 418.9 434.5 419.3 434.9 419.7 435.3 420.1 435.7 420.5 436.1 420.9 436.5 421.3 436.8 421.7 437 422.1 437.2 422.5 437.3 422.9 437.4 423.3 437.5 423.7 437.5 424.1 437.5 424.5 437.6 424.9 437.6 425.3 437.6 425.7 437.6 426.1 437.6 426.5 437.6 426.9 437.6 427.3 437.6 427.7 437.6 428.1 437.6 428.5 437.6 428.9 437.6 429.3 437.6 429.7 437.6 430.1 437.6 430.5 437.6 430.9 437.6 431.3 437.6 431.7 437.6 432.1 437.6 432.5 437.6 432.9 437.6 433.3 437.6 433.7 437.6 434.1 437.6 434.5 437.6 434.9 437.6 435.3 437.6 435.7 437.6 436.1 437.6 436.5 437.6 436.9 437.6 437.3 437.6 437.7 437.6 438.1 437.6 438.5 437.6 438.9 437.6 439.3 437.6 439.7 437.6 440.1 437.6 440.5 437.6 440.9 437.6 441.3 437.6 441.7 437.6 442.1 437.6 442.5 437.6 442.9 437.6 443.3 437.6 443.7 437.6 444.1 437.6 444.5 437.6 444.9 437.6 445.3 437.6 445.7 437.6 446.1 437.6 446.5 437.6 446.9 437.6 447.3 437.6 447.3 437.6Z" fill="#d8d060"/>
<path d="M387.3 437.6L387.3 437.6 387.7 437.6 388.1 437.6 388.5 437.6 388.9 437.6 389.3 437.6 389.7 437.6 390.1 437.6 390.5 437.6 390.9 437.6 391.3 437.6 391.7 437.6 392.1 437.6 392.5 437.6 392.9 437.6 393.3 437.6 393.7 437.6 394.1 437.5 394.5 437.4 394.9 436.9 395.3 436 395.7 434.1 396.1 430.5 396.5 424.9 396.9 416.9 397.3 407.2 397.7 397.3 398.1 389.4 398.5 385.5 398.9 386.9 399.3 393 399.7 402.1 400.1 412.2 400.5 421.2 400.9 428 401.3 432.5 401.7 435.2 402.1 436.6 402.5 437.2 402.9 437.5 403.3 437.6 403.7 437.6 404.1 437.6 404.5 437.6 404.9 437.6 405.3 437.6 405.7 437.6 406.1 437.6 406.5 437.6 406.9 437.6 407.3 437.6 407.7 437.6 408.1 437.6 408.5 437.6 408.9 437.6 409.3 437.6 409.7 437.6 410.1 437.6 410.5 437.6 410.9 437.6 411.3 437.6 411.7 437.6 412.1 437.6 412.5 437.6 412.9 437.6 413.3 437.6 413.7 437.6 414.1 437.6 414.5 437.6 414.9 437.6 415.3 437.6 415.7 437.6 416.1 437.6 416.5 437.6 416.9 437.6 417.3 437.6 417.7 437.6 418.1 437.6 418.5 437.6 418.9 437.6 419.3 437.6 419.7 437.6 420.1 437.6 420.5 437.6 420.9 437.6 421.3 437.6 421.7 437.6 422.1 437.6 422.5 437.6 422.9 437.6 423.3 437.6 423.7 437.6 424.1 437.6 424.5 437.6 424.9 437.6 425.3 437.6 425.7 437.6 426.1 437.6 426.5 437.6 426.9 437.6 427.3 437.6 427.7 437.6 428.1 437.6 428.5 437.6 428.9 437.6 429.3 437.6 429.7 437.6 430.1 437.6 430.5 437.6 430.9 437.6 431.3 437.6 431.7 437.6 432.1 437.6 432.5 437.6 432.9 437.6 433.3 437.6 433.7 437.6 434.1 437.6 434.5 437.6 434.9 437.6 435.3 437.6 435.7 437.6 436.1 437.6 436.5 437.6 436.9 437.6 437.3 437.6 437.7 437.6 438.1 437.6 438.5 437.6 438.9 437.6 439.3 437.6 439.7 437.6 440.1 437.6 440.5 437.6 440.9 437.6 441.3 437.6 441.7 437.6 442.1 437.6 442.5 437.6 442.9 437.6 443.3 437.6 443.7 437.6 444.1 437.6 444.5 437.6 444.9 437.6 445.3 437.6 445.7 437.6 446.1 437.6 446.5 437.6 446.9 437.6 447.3 437.6 447.3 437.6Z" fill="#3cc43c" fill-opacity="0.95"/>
<path d="M387.3 437.6L387.3 437.6 387.7 437.6 388.1 437.6 388.5 437.6 388.9 437.6 389.3 437.6 389.7 437.6 390.1 437.6 390.5 437.6 390.9 437.6 391.3 437.6 391.7 437.6 392.1 437.6 392.5 437.6 392.9 437.6 393.3 437.6 393.7 437.6 394.1 437.6 394.5 437.6 394.9 437.6 395.3 437.6 395.7 437.6 396.1 437.6 396.5 437.6 396.9 437.6 397.3 437.6 397.7 437.6 398.1 437.6 398.5 437.6 398.9 437.6 399.3 437.6 399.7 437.6 400.1 437.6 400.5 437.6 400.9 437.6 401.3 437.6 401.7 437.6 402.1 437.6 402.5 437.6 402.9 437.6 403.3 437.6 403.7 437.6 404.1 437.6 404.5 437.6 404.9 437.6 405.3 437.6 405.7 437.6 406.1 437.6 406.5 437.6 406.9 437.6 407.3 437.6 407.7 437.6 408.1 437.6 408.5 437.6 408.9 437.6 409.3 437.6 409.7 437.6 410.1 437.6 410.5 437.6 410.9 437.6 411.3 437.6 411.7 437.6 412.1 437.6 412.5 437.6 412.9 437.6 413.3 437.6 413.7 437.5 414.1 437.5 414.5 437.4 414.9 437.2 415.3 437 415.7 436.7 416.1 436.3 416.5 435.7 416.9 435 417.3 434.2 417.7 433.2 418.1 432.1 418.5 430.9 418.9 429.6 419.3 428.5 419.7 427.5 420.1 426.7 420.5 426.2 420.9 426 421.3 426.2 421.7 426.7 422.1 427.5 422.5 428.5 422.9 429.6 423.3 430.9 423.7 432.1 424.1 433.2 424.5 434.2 424.9 435 425.3 435.7 425.7 436.3 426.1 436.7 426.5 437 426.9 437.2 427.3 437.4 427.7 437.5 428.1 437.5 428.5 437.6 428.9 437.6 429.3 437.6 429.7 437.6 430.1 437.6 430.5 437.6 430.9 437.6 431.3 437.6 431.7 437.6 432.1 437.6 432.5 437.6 432.9 437.6 433.3 437.6 433.7 437.6 434.1 437.6 434.5 437.6 434.9 437.6 435.3 437.6 435.7 437.6 436.1 437.6 436.5 437.6 436.9 437.6 437.3 437.6 437.7 437.6 438.1 437.6 438.5 437.6 438.9 437.6 439.3 437.6 439.7 437.6 440.1 437.6 440.5 437.6 440.9 437.6 441.3 437.6 441.7 437.6 442.1 437.6 442.5 437.6 442.9 437.6 443.3 437.6 443.7 437.6 444.1 437.6 444.5 437.6 444.9 437.6 445.3 437.6 445.7 437.6 446.1 437.6 446.5 437.6 446.9 437.6 447.3 437.6 447.3 437.6Z" fill="#44eef4" fill-opacity="0.95"/>
<path d="M387.3 437.6 L387.7 437.6 388.1 437.6 388.5 437.6 388.9 437.6 389.3 437.6 389.7 437.6 390.1 437.6 390.5 437.6 390.9 437.5 391.3 437.5 391.7 437.4 392.1 437.3 392.5 437.2 392.9 437.1 393.3 437 393.7 436.9 394.1 436.8 394.5 436.7 394.9 436.3 395.3 435.5 395.7 433.6 396.1 430.2 396.5 424.7 396.9 416.7 397.3 407 397.7 397.1 398.1 388.9 398.5 384.6 398.9 384.8 399.3 389.1 399.7 396.2 400.1 404.6 400.5 412.6 400.9 419.1 401.3 423.5 401.7 426.2 402.1 427.6 402.5 428.3 402.9 428.7 403.3 428.9 403.7 429.1 404.1 429.2 404.5 429.3 404.9 429.4 405.3 429.6 405.7 429.7 406.1 429.8 406.5 429.9 406.9 430 407.3 430.1 407.7 430.3 408.1 430.4 408.5 430.5 408.9 430.6 409.3 430.7 409.7 430.8 410.1 431 410.5 431.1 410.9 431.2 411.3 431.3 411.7 431.4 412.1 431.5 412.5 431.6 412.9 431.7 413.3 431.8 413.7 431.9 414.1 432 414.5 432 414.9 432 415.3 431.9 415.7 431.7 416.1 431.5 416.5 431.1 416.9 430.6 417.3 429.9 417.7 429.1 418.1 428.3 418.5 427.4 418.9 426.5 419.3 425.7 419.7 425.2 420.1 424.8 420.5 424.7 420.9 424.9 421.3 424.9 421.7 425.7 422.1 426.7 422.5 427.8 422.9 429.1 423.3 430.4 423.7 431.7 424.1 432.8 424.5 433.9 424.9 434.8 425.3 435.5 425.7 436.1 426.1 436.5 426.5 436.8 426.9 437 427.3 437.2 427.7 437.3 428.1 437.4 428.5 437.4 428.9 437.4 429.3 437.5 429.7 437.5 430.1 437.5 430.5 437.5 430.9 437.5 431.3 437.5 431.7 437.5 432.1 437.5 432.5 437.5 432.9 437.5 433.3 437.5 433.7 437.5 434.1 437.5 434.5 437.6 434.9 437.6 435.3 437.6 435.7 437.6 436.1 437.6 436.5 437.6 436.9 437.6 437.3 437.6 437.7 437.6 438.1 437.6 438.5 437.6 438.9 437.6 439.3 437.6 439.7 437.6 440.1 437.6 440.5 437.6 440.9 437.6 441.3 437.6 441.7 437.6 442.1 437.6 442.5 437.6 442.9 437.6 443.3 437.6 443.7 437.6 444.1 437.6 444.5 437.6 444.9 437.6 445.3 437.6 445.7 437.6 446.1 437.6 446.5 437.6 446.9 437.6 447.3 437.6" stroke="#111" stroke-width="0.5" fill="none"/>
<path d="M387.3 437.6 L387.7 437.6 388.1 437.6 388.5 437.6 388.9 437.6 389.3 437.6 389.7 437.6 390.1 437.6 390.5 437.6 390.9 437.6 391.3 437.6 391.7 437.6 392.1 437.6 392.5 437.6 392.9 437.6 393.3 437.6 393.7 437.6 394.1 437.5 394.5 437.4 394.9 436.9 395.3 435.7 395.7 433.8 396.1 430.3 396.5 424.7 396.9 416.6 397.3 406.9 397.7 397.1 398.1 388.9 398.5 384.6 398.9 384.8 399.3 388.9 399.7 396.1 400.1 404.6 400.5 412.6 400.9 419 401.3 423.4 401.7 426.1 402.1 427.2 402.5 428.3 402.9 428.2 403.3 428.8 403.7 428.9 404.1 429.2 404.5 429.2 404.9 429.4 405.3 429.2 405.7 429.3 406.1 429.6 406.5 429.8 406.9 430 407.3 429.7 407.7 430.2 408.1 430 408.5 430.3 408.9 430.4 409.3 430.4 409.7 430.8 410.1 430.3 410.5 430.9 410.9 431.1 411.3 431.2 411.7 431.1 412.1 431.5 412.5 431.4 412.9 431.6 413.3 431.8 413.7 431.6 414.1 432 414.5 431.2 414.9 431.8 415.3 431.3 415.7 431.3 416.1 430.9 416.5 431 416.9 430.2 417.3 429.5 417.7 428.9 418.1 428.2 418.5 427.2 418.9 426.4 419.3 425.1 419.7 425.1 420.1 424.6 420.5 424.5 420.9 424.6 421.3 425 421.7 425.9 422.1 427 422.5 428 422.9 429.2 423.3 430.4 423.7 431.8 424.1 433.1 424.5 433.9 424.9 434.8 425.3 435.5 425.7 436.1 426.1 436.7 426.5 437 426.9 437.2 427.3 437.4 427.7 437.5 428.1 437.5 428.5 437.5 428.9 437.6 429.3 437.6 429.7 437.6 430.1 437.6 430.5 437.6 430.9 437.6 431.3 437.6 431.7 437.6 432.1 437.6 432.5 437.6 432.9 437.6 433.3 437.6 433.7 437.6 434.1 437.6 434.5 437.6 434.9 437.6 435.3 437.6 435.7 437.6 436.1 437.6 436.5 437.6 436.9 437.6 437.3 437.6 437.7 437.6 438.1 437.6 438.5 437.6 438.9 437.6 439.3 437.6 439.7 437.6 440.1 437.6 440.5 437.6 440.9 437.6 441.3 437.6 441.7 437.6 442.1 437.6 442.5 437.6 442.9 437.6 443.3 437.6 443.7 437.6 444.1 437.6 444.5 437.6 444.9 437.6 445.3 437.6 445.7 437.6 446.1 437.6 446.5 437.6 446.9 437.6 447.3 437.6" stroke="#e020e0" stroke-width="0.8" fill="none"/>
<path d="M400.9 418.8 L401.3 423.2 401.7 425.9 402.1 427.3 402.5 428 402.9 428.4 403.3 428.6 403.7 428.8 404.1 428.9 404.5 429 404.9 429.1 405.3 429.3 405.7 429.4 406.1 429.5 406.5 429.6 406.9 429.7 407.3 429.8 407.7 430 408.1 430.1 408.5 430.2 408.9 430.3 409.3 430.4 409.7 430.5 410.1 430.7 410.5 430.8 410.9 430.9 411.3 431 411.7 431.1 412.1 431.2 412.5 431.3 412.9 431.4 413.3 431.5 413.7 431.6 414.1 431.7 414.5 431.7 414.9 431.7 415.3 431.6 415.7 431.4 416.1 431.2 416.5 430.8 416.9 430.3 417.3 429.6 417.7 428.8 418.1 428 418.5 427.1" stroke="#d01818" stroke-width="0.8" fill="none"/>
<rect x="387.3" y="378.6" width="60" height="59" fill="none" stroke="#333" stroke-width="0.7"/>
<line x1="385.7" y1="437.6" x2="387.3" y2="437.6" stroke="#333" stroke-width="0.5"/>
<line x1="386.4" y1="432.2" x2="387.3" y2="432.2" stroke="#333" stroke-width="0.5"/>
<line x1="386.4" y1="426.8" x2="387.3" y2="426.8" stroke="#333" stroke-width="0.5"/>
<line x1="386.4" y1="421.4" x2="387.3" y2="421.4" stroke="#333" stroke-width="0.5"/>
<line x1="385.7" y1="416" x2="387.3" y2="416" stroke="#333" stroke-width="0.5"/>
<line x1="386.4" y1="410.6" x2="387.3" y2="410.6" stroke="#333" stroke-width="0.5"/>
<line x1="386.4" y1="405.2" x2="387.3" y2="405.2" stroke="#333" stroke-width="0.5"/>
<line x1="386.4" y1="399.8" x2="387.3" y2="399.8" stroke="#333" stroke-width="0.5"/>
<line x1="385.7" y1="394.4" x2="387.3" y2="394.4" stroke="#333" stroke-width="0.5"/>
<line x1="386.4" y1="389" x2="387.3" y2="389" stroke="#333" stroke-width="0.5"/>
<line x1="386.4" y1="383.6" x2="387.3" y2="383.6" stroke="#333" stroke-width="0.5"/>
<line x1="387.3" y1="437.6" x2="387.3" y2="438.5" stroke="#333" stroke-width="0.5"/>
<line x1="392.3" y1="437.6" x2="392.3" y2="438.5" stroke="#333" stroke-width="0.5"/>
<line x1="397.3" y1="437.6" x2="397.3" y2="439.2" stroke="#333" stroke-width="0.5"/>
<line x1="402.3" y1="437.6" x2="402.3" y2="438.5" stroke="#333" stroke-width="0.5"/>
<line x1="407.3" y1="437.6" x2="407.3" y2="438.5" stroke="#333" stroke-width="0.5"/>
<line x1="412.3" y1="437.6" x2="412.3" y2="438.5" stroke="#333" stroke-width="0.5"/>
<line x1="417.3" y1="437.6" x2="417.3" y2="439.2" stroke="#333" stroke-width="0.5"/>
<line x1="422.3" y1="437.6" x2="422.3" y2="438.5" stroke="#333" stroke-width="0.5"/>
<line x1="427.3" y1="437.6" x2="427.3" y2="438.5" stroke="#333" stroke-width="0.5"/>
<line x1="432.3" y1="437.6" x2="432.3" y2="438.5" stroke="#333" stroke-width="0.5"/>
<line x1="437.3" y1="437.6" x2="437.3" y2="439.2" stroke="#333" stroke-width="0.5"/>
<line x1="442.3" y1="437.6" x2="442.3" y2="438.5" stroke="#333" stroke-width="0.5"/>
<line x1="447.3" y1="437.6" x2="447.3" y2="438.5" stroke="#333" stroke-width="0.5"/>
<text x="407.3" y="384.9" font-size="6.7">G0/G1:</text>
<text x="445.7" y="384.9" font-size="6.7" text-anchor="end">40%</text>
<text x="407.3" y="392.8" font-size="6.7">S:</text>
<text x="445.7" y="392.8" font-size="6.7" text-anchor="end">39%</text>
<text x="407.3" y="400.7" font-size="6.7">G2/M:</text>
<text x="445.7" y="400.7" font-size="6.7" text-anchor="end">21%</text>
<text x="380.7" y="408.6" font-size="8" text-anchor="middle" transform="rotate(-90 380.7 408.6)">Count</text>
<text x="417.8" y="448.9" font-size="8.2" text-anchor="middle">PE-A</text>
<path d="M473.9 437.6L473.9 437.6 474.3 437.6 474.7 437.6 475.1 437.6 475.5 437.6 475.9 437.6 476.3 437.6 476.7 437.6 477.1 437.6 477.5 437.6 477.9 437.6 478.3 437.6 478.7 437.6 479.1 437.6 479.5 437.6 479.9 437.6 480.3 437.6 480.7 437.6 481.1 437.6 481.5 437.6 481.9 437.5 482.3 437.5 482.7 437.3 483.1 436.9 483.5 435.9 483.9 434.2 484.3 431.5 484.7 428.7 485.1 426.6 485.5 425.6 485.9 425.1 486.3 425.1 486.7 425.1 487.1 425.3 487.5 425.4 487.9 425.6 488.3 425.8 488.7 426 489.1 426.2 489.5 426.4 489.9 426.5 490.3 426.7 490.7 426.9 491.1 427.1 491.5 427.3 491.9 427.5 492.3 427.6 492.7 427.8 493.1 428 493.5 428.2 493.9 428.4 494.3 428.6 494.7 428.7 495.1 428.9 495.5 429.1 495.9 429.3 496.3 429.5 496.7 429.7 497.1 429.9 497.5 430.1 497.9 430.3 498.3 430.5 498.7 430.8 499.1 431 499.5 431.3 499.9 431.7 500.3 432.1 500.7 432.5 501.1 433.1 501.5 433.6 501.9 434.3 502.3 434.9 502.7 435.5 503.1 436 503.5 436.4 503.9 436.8 504.3 437 504.7 437.2 505.1 437.3 505.5 437.4 505.9 437.5 506.3 437.5 506.7 437.5 507.1 437.6 507.5 437.6 507.9 437.6 508.3 437.6 508.7 437.6 509.1 437.6 509.5 437.6 509.9 437.6 510.3 437.6 510.7 437.6 511.1 437.6 511.5 437.6 511.9 437.6 512.3 437.6 512.7 437.6 513.1 437.6 513.5 437.6 513.9 437.6 514.3 437.6 514.7 437.6 515.1 437.6 515.5 437.6 515.9 437.6 516.3 437.6 516.7 437.6 517.1 437.6 517.5 437.6 517.9 437.6 518.3 437.6 518.7 437.6 519.1 437.6 519.5 437.6 519.9 437.6 520.3 437.6 520.7 437.6 521.1 437.6 521.5 437.6 521.9 437.6 522.3 437.6 522.7 437.6 523.1 437.6 523.5 437.6 523.9 437.6 524.3 437.6 524.7 437.6 525.1 437.6 525.5 437.6 525.9 437.6 526.3 437.6 526.7 437.6 527.1 437.6 527.5 437.6 527.9 437.6 528.3 437.6 528.7 437.6 529.1 437.6 529.5 437.6 529.9 437.6 530.3 437.6 530.7 437.6 531.1 437.6 531.5 437.6 531.9 437.6 532.3 437.6 532.7 437.6 533.1 437.6 533.5 437.6 533.9 437.6 533.9 437.6Z" fill="#d8d060"/>
<path d="M473.9 437.6L473.9 437.6 474.3 437.6 474.7 437.6 475.1 437.6 475.5 437.6 475.9 437.6 476.3 437.6 476.7 437.6 477.1 437.6 477.5 437.6 477.9 437.6 478.3 437.6 478.7 437.6 479.1 437.5 479.5 437.3 479.9 436.8 480.3 435.7 480.7 433.4 481.1 429.5 481.5 423.4 481.9 415 482.3 405.3 482.7 395.9 483.1 388.9 483.5 386.4 483.9 388.9 484.3 395.9 484.7 405.3 485.1 415 485.5 423.4 485.9 429.5 486.3 433.4 486.7 435.7 487.1 436.8 487.5 437.3 487.9 437.5 488.3 437.6 488.7 437.6 489.1 437.6 489.5 437.6 489.9 437.6 490.3 437.6 490.7 437.6 491.1 437.6 491.5 437.6 491.9 437.6 492.3 437.6 492.7 437.6 493.1 437.6 493.5 437.6 493.9 437.6 494.3 437.6 494.7 437.6 495.1 437.6 495.5 437.6 495.9 437.6 496.3 437.6 496.7 437.6 497.1 437.6 497.5 437.6 497.9 437.6 498.3 437.6 498.7 437.6 499.1 437.6 499.5 437.6 499.9 437.6 500.3 437.6 500.7 437.6 501.1 437.6 501.5 437.6 501.9 437.6 502.3 437.6 502.7 437.6 503.1 437.6 503.5 437.6 503.9 437.6 504.3 437.6 504.7 437.6 505.1 437.6 505.5 437.6 505.9 437.6 506.3 437.6 506.7 437.6 507.1 437.6 507.5 437.6 507.9 437.6 508.3 437.6 508.7 437.6 509.1 437.6 509.5 437.6 509.9 437.6 510.3 437.6 510.7 437.6 511.1 437.6 511.5 437.6 511.9 437.6 512.3 437.6 512.7 437.6 513.1 437.6 513.5 437.6 513.9 437.6 514.3 437.6 514.7 437.6 515.1 437.6 515.5 437.6 515.9 437.6 516.3 437.6 516.7 437.6 517.1 437.6 517.5 437.6 517.9 437.6 518.3 437.6 518.7 437.6 519.1 437.6 519.5 437.6 519.9 437.6 520.3 437.6 520.7 437.6 521.1 437.6 521.5 437.6 521.9 437.6 522.3 437.6 522.7 437.6 523.1 437.6 523.5 437.6 523.9 437.6 524.3 437.6 524.7 437.6 525.1 437.6 525.5 437.6 525.9 437.6 526.3 437.6 526.7 437.6 527.1 437.6 527.5 437.6 527.9 437.6 528.3 437.6 528.7 437.6 529.1 437.6 529.5 437.6 529.9 437.6 530.3 437.6 530.7 437.6 531.1 437.6 531.5 437.6 531.9 437.6 532.3 437.6 532.7 437.6 533.1 437.6 533.5 437.6 533.9 437.6 533.9 437.6Z" fill="#3cc43c" fill-opacity="0.95"/>
<path d="M473.9 437.6L473.9 437.6 474.3 437.6 474.7 437.6 475.1 437.6 475.5 437.6 475.9 437.6 476.3 437.6 476.7 437.6 477.1 437.6 477.5 437.6 477.9 437.6 478.3 437.6 478.7 437.6 479.1 437.6 479.5 437.6 479.9 437.6 480.3 437.6 480.7 437.6 481.1 437.6 481.5 437.6 481.9 437.6 482.3 437.6 482.7 437.6 483.1 437.6 483.5 437.6 483.9 437.6 484.3 437.6 484.7 437.6 485.1 437.6 485.5 437.6 485.9 437.6 486.3 437.6 486.7 437.6 487.1 437.6 487.5 437.6 487.9 437.6 488.3 437.6 488.7 437.6 489.1 437.6 489.5 437.6 489.9 437.6 490.3 437.6 490.7 437.6 491.1 437.6 491.5 437.6 491.9 437.6 492.3 437.6 492.7 437.6 493.1 437.6 493.5 437.6 493.9 437.6 494.3 437.6 494.7 437.6 495.1 437.6 495.5 437.5 495.9 437.5 496.3 437.4 496.7 437.3 497.1 437.1 497.5 436.9 497.9 436.5 498.3 436 498.7 435.4 499.1 434.5 499.5 433.5 499.9 432.3 500.3 431 500.7 429.6 501.1 428.1 501.5 426.7 501.9 425.5 502.3 424.6 502.7 424 503.1 423.8 503.5 424 503.9 424.6 504.3 425.5 504.7 426.7 505.1 428.1 505.5 429.6 505.9 431 506.3 432.3 506.7 433.5 507.1 434.5 507.5 435.4 507.9 436 508.3 436.5 508.7 436.9 509.1 437.1 509.5 437.3 509.9 437.4 510.3 437.5 510.7 437.5 511.1 437.6 511.5 437.6 511.9 437.6 512.3 437.6 512.7 437.6 513.1 437.6 513.5 437.6 513.9 437.6 514.3 437.6 514.7 437.6 515.1 437.6 515.5 437.6 515.9 437.6 516.3 437.6 516.7 437.6 517.1 437.6 517.5 437.6 517.9 437.6 518.3 437.6 518.7 437.6 519.1 437.6 519.5 437.6 519.9 437.6 520.3 437.6 520.7 437.6 521.1 437.6 521.5 437.6 521.9 437.6 522.3 437.6 522.7 437.6 523.1 437.6 523.5 437.6 523.9 437.6 524.3 437.6 524.7 437.6 525.1 437.6 525.5 437.6 525.9 437.6 526.3 437.6 526.7 437.6 527.1 437.6 527.5 437.6 527.9 437.6 528.3 437.6 528.7 437.6 529.1 437.6 529.5 437.6 529.9 437.6 530.3 437.6 530.7 437.6 531.1 437.6 531.5 437.6 531.9 437.6 532.3 437.6 532.7 437.6 533.1 437.6 533.5 437.6 533.9 437.6 533.9 437.6Z" fill="#44eef4" fill-opacity="0.95"/>
<path d="M473.9 437.6 L474.3 437.6 474.7 437.6 475.1 437.6 475.5 437.6 475.9 437.5 476.3 437.5 476.7 437.4 477.1 437.3 477.5 437.2 477.9 437 478.3 436.9 478.7 436.9 479.1 436.8 479.5 436.6 479.9 436.2 480.3 435.2 480.7 433 481.1 429.2 481.5 423.2 481.9 414.9 482.3 405.1 482.7 395.5 483.1 388.2 483.5 384.7 483.9 385.5 484.3 389.8 484.7 396.4 485.1 404.1 485.5 411.3 485.9 417 486.3 420.9 486.7 423.2 487.1 424.5 487.5 425.1 487.9 425.5 488.3 425.8 488.7 426 489.1 426.2 489.5 426.4 489.9 426.5 490.3 426.7 490.7 426.9 491.1 427.1 491.5 427.3 491.9 427.5 492.3 427.6 492.7 427.8 493.1 428 493.5 428.2 493.9 428.4 494.3 428.6 494.7 428.7 495.1 428.9 495.5 429.1 495.9 429.2 496.3 429.3 496.7 429.4 497.1 429.4 497.5 429.4 497.9 429.2 498.3 429 498.7 428.5 499.1 428 499.5 427.3 499.9 426.4 500.3 425.5 500.7 424.5 501.1 423.6 501.5 422.8 501.9 422.2 502.3 421.9 502.7 421.9 503.1 421.7 503.5 422.4 503.9 423.3 504.3 424.5 504.7 425.9 505.1 427.5 505.5 429 505.9 430.6 506.3 432 506.7 433.2 507.1 434.3 507.5 435.1 507.9 435.8 508.3 436.3 508.7 436.7 509.1 437 509.5 437.1 509.9 437.3 510.3 437.4 510.7 437.4 511.1 437.4 511.5 437.5 511.9 437.5 512.3 437.5 512.7 437.5 513.1 437.5 513.5 437.5 513.9 437.5 514.3 437.5 514.7 437.5 515.1 437.5 515.5 437.5 515.9 437.5 516.3 437.5 516.7 437.6 517.1 437.6 517.5 437.6 517.9 437.6 518.3 437.6 518.7 437.6 519.1 437.6 519.5 437.6 519.9 437.6 520.3 437.6 520.7 437.6 521.1 437.6 521.5 437.6 521.9 437.6 522.3 437.6 522.7 437.6 523.1 437.6 523.5 437.6 523.9 437.6 524.3 437.6 524.7 437.6 525.1 437.6 525.5 437.6 525.9 437.6 526.3 437.6 526.7 437.6 527.1 437.6 527.5 437.6 527.9 437.6 528.3 437.6 528.7 437.6 529.1 437.6 529.5 437.6 529.9 437.6 530.3 437.6 530.7 437.6 531.1 437.6 531.5 437.6 531.9 437.6 532.3 437.6 532.7 437.6 533.1 437.6 533.5 437.6 533.9 437.6" stroke="#111" stroke-width="0.5" fill="none"/>
<path d="M473.9 437.6 L474.3 437.6 474.7 437.6 475.1 437.6 475.5 437.6 475.9 437.6 476.3 437.6 476.7 437.6 477.1 437.6 477.5 437.6 477.9 437.6 478.3 437.6 478.7 437.6 479.1 437.5 479.5 437.3 479.9 436.8 480.3 435.6 480.7 433.4 481.1 429.3 481.5 423.1 481.9 414.9 482.3 404.6 482.7 395.1 483.1 388 483.5 384.5 483.9 385.2 484.3 389.3 484.7 396.2 485.1 404 485.5 411.2 485.9 416.9 486.3 420.5 486.7 423 487.1 424.2 487.5 425.1 487.9 425.5 488.3 425.1 488.7 425.7 489.1 426 489.5 426.3 489.9 426.1 490.3 426.6 490.7 426.7 491.1 426.8 491.5 427.2 491.9 427 492.3 427.3 492.7 427.6 493.1 427.8 493.5 427.9 493.9 428.3 494.3 428.2 494.7 428.6 495.1 428.8 495.5 428.9 495.9 428.5 496.3 428.9 496.7 429.2 497.1 429.3 497.5 429.1 497.9 429.1 498.3 428.7 498.7 428.5 499.1 427.8 499.5 427.1 499.9 426.2 500.3 425.3 500.7 424.2 501.1 422.9 501.5 422.7 501.9 421.9 502.3 421.7 502.7 421.4 503.1 421.7 503.5 422.7 503.9 423.5 504.3 424.9 504.7 425.9 505.1 427.8 505.5 429.3 505.9 430.8 506.3 431.9 506.7 432.8 507.1 434.3 507.5 435.2 507.9 435.8 508.3 436.5 508.7 436.9 509.1 437.1 509.5 437.3 509.9 437.4 510.3 437.5 510.7 437.5 511.1 437.6 511.5 437.6 511.9 437.6 512.3 437.6 512.7 437.6 513.1 437.6 513.5 437.6 513.9 437.6 514.3 437.6 514.7 437.6 515.1 437.6 515.5 437.6 515.9 437.6 516.3 437.6 516.7 437.6 517.1 437.6 517.5 437.6 517.9 437.6 518.3 437.6 518.7 437.6 519.1 437.6 519.5 437.6 519.9 437.6 520.3 437.6 520.7 437.6 521.1 437.6 521.5 437.6 521.9 437.6 522.3 437.6 522.7 437.6 523.1 437.6 523.5 437.6 523.9 437.6 524.3 437.6 524.7 437.6 525.1 437.6 525.5 437.6 525.9 437.6 526.3 437.6 526.7 437.6 527.1 437.6 527.5 437.6 527.9 437.6 528.3 437.6 528.7 437.6 529.1 437.6 529.5 437.6 529.9 437.6 530.3 437.6 530.7 437.6 531.1 437.6 531.5 437.6 531.9 437.6 532.3 437.6 532.7 437.6 533.1 437.6 533.5 437.6 533.9 437.6" stroke="#e020e0" stroke-width="0.8" fill="none"/>
<path d="M485.5 411 L485.9 416.7 486.3 420.6 486.7 422.9 487.1 424.2 487.5 424.8 487.9 425.2 488.3 425.5 488.7 425.7 489.1 425.9 489.5 426.1 489.9 426.2 490.3 426.4 490.7 426.6 491.1 426.8 491.5 427 491.9 427.2 492.3 427.3 492.7 427.5 493.1 427.7 493.5 427.9 493.9 428.1 494.3 428.3 494.7 428.4 495.1 428.6 495.5 428.8 495.9 428.9 496.3 429 496.7 429.1 497.1 429.1 497.5 429.1 497.9 428.9 498.3 428.7 498.7 428.2 499.1 427.7 499.5 427 499.9 426.1 500.3 425.2 500.7 424.2" stroke="#d01818" stroke-width="0.8" fill="none"/>
<rect x="473.9" y="378.6" width="60" height="59" fill="none" stroke="#333" stroke-width="0.7"/>
<line x1="472.3" y1="437.6" x2="473.9" y2="437.6" stroke="#333" stroke-width="0.5"/>
<line x1="473" y1="432.2" x2="473.9" y2="432.2" stroke="#333" stroke-width="0.5"/>
<line x1="473" y1="426.8" x2="473.9" y2="426.8" stroke="#333" stroke-width="0.5"/>
<line x1="473" y1="421.4" x2="473.9" y2="421.4" stroke="#333" stroke-width="0.5"/>
<line x1="472.3" y1="416" x2="473.9" y2="416" stroke="#333" stroke-width="0.5"/>
<line x1="473" y1="410.6" x2="473.9" y2="410.6" stroke="#333" stroke-width="0.5"/>
<line x1="473" y1="405.2" x2="473.9" y2="405.2" stroke="#333" stroke-width="0.5"/>
<line x1="473" y1="399.8" x2="473.9" y2="399.8" stroke="#333" stroke-width="0.5"/>
<line x1="472.3" y1="394.4" x2="473.9" y2="394.4" stroke="#333" stroke-width="0.5"/>
<line x1="473" y1="389" x2="473.9" y2="389" stroke="#333" stroke-width="0.5"/>
<line x1="473" y1="383.6" x2="473.9" y2="383.6" stroke="#333" stroke-width="0.5"/>
<line x1="473.9" y1="437.6" x2="473.9" y2="438.5" stroke="#333" stroke-width="0.5"/>
<line x1="478.9" y1="437.6" x2="478.9" y2="438.5" stroke="#333" stroke-width="0.5"/>
<line x1="483.9" y1="437.6" x2="483.9" y2="439.2" stroke="#333" stroke-width="0.5"/>
<line x1="488.9" y1="437.6" x2="488.9" y2="438.5" stroke="#333" stroke-width="0.5"/>
<line x1="493.9" y1="437.6" x2="493.9" y2="438.5" stroke="#333" stroke-width="0.5"/>
<line x1="498.9" y1="437.6" x2="498.9" y2="438.5" stroke="#333" stroke-width="0.5"/>
<line x1="503.9" y1="437.6" x2="503.9" y2="439.2" stroke="#333" stroke-width="0.5"/>
<line x1="508.9" y1="437.6" x2="508.9" y2="438.5" stroke="#333" stroke-width="0.5"/>
<line x1="513.9" y1="437.6" x2="513.9" y2="438.5" stroke="#333" stroke-width="0.5"/>
<line x1="518.9" y1="437.6" x2="518.9" y2="438.5" stroke="#333" stroke-width="0.5"/>
<line x1="523.9" y1="437.6" x2="523.9" y2="439.2" stroke="#333" stroke-width="0.5"/>
<line x1="528.9" y1="437.6" x2="528.9" y2="438.5" stroke="#333" stroke-width="0.5"/>
<line x1="533.9" y1="437.6" x2="533.9" y2="438.5" stroke="#333" stroke-width="0.5"/>
<text x="493.9" y="384.9" font-size="6.7">G0/G1:</text>
<text x="532.3" y="384.9" font-size="6.7" text-anchor="end">36%</text>
<text x="493.9" y="392.8" font-size="6.7">S:</text>
<text x="532.3" y="392.8" font-size="6.7" text-anchor="end">35%</text>
<text x="493.9" y="400.7" font-size="6.7">G2/M:</text>
<text x="532.3" y="400.7" font-size="6.7" text-anchor="end">29%</text>
<text x="467.3" y="408.6" font-size="8" text-anchor="middle" transform="rotate(-90 467.3 408.6)">Count</text>
<text x="504.4" y="448.9" font-size="8.2" text-anchor="middle">PE-A</text>
<path d="M387.3 524.5L387.3 524.5 387.7 524.5 388.1 524.5 388.5 524.5 388.9 524.5 389.3 524.5 389.7 524.5 390.1 524.5 390.5 524.5 390.9 524.5 391.3 524.5 391.7 524.5 392.1 524.5 392.5 524.5 392.9 524.5 393.3 524.5 393.7 524.5 394.1 524.5 394.5 524.5 394.9 524.5 395.3 524.5 395.7 524.5 396.1 524.4 396.5 524.4 396.9 524.2 397.3 523.7 397.7 522.6 398.1 520.4 398.5 516.7 398.9 512 399.3 508 399.7 505.7 400.1 504.9 400.5 504.8 400.9 505.1 401.3 505.5 401.7 506 402.1 506.5 402.5 507 402.9 507.5 403.3 508 403.7 508.4 404.1 508.8 404.5 509.2 404.9 509.5 405.3 509.9 405.7 510.2 406.1 510.5 406.5 510.7 406.9 510.9 407.3 511.1 407.7 511.2 408.1 511.4 408.5 511.4 408.9 511.5 409.3 511.5 409.7 511.5 410.1 511.5 410.5 511.4 410.9 511.3 411.3 511.1 411.7 511 412.1 510.8 412.5 510.6 412.9 510.3 413.3 510 413.7 509.7 414.1 509.4 414.5 509.1 414.9 508.8 415.3 508.5 415.7 508.3 416.1 508.1 416.5 508.1 416.9 508.2 417.3 508.5 417.7 509.2 418.1 510.2 418.5 511.5 418.9 513.1 419.3 515 419.7 516.8 420.1 518.6 420.5 520.1 420.9 521.4 421.3 522.3 421.7 523 422.1 523.5 422.5 523.8 422.9 524 423.3 524.2 423.7 524.3 424.1 524.4 424.5 524.4 424.9 524.4 425.3 524.5 425.7 524.5 426.1 524.5 426.5 524.5 426.9 524.5 427.3 524.5 427.7 524.5 428.1 524.5 428.5 524.5 428.9 524.5 429.3 524.5 429.7 524.5 430.1 524.5 430.5 524.5 430.9 524.5 431.3 524.5 431.7 524.5 432.1 524.5 432.5 524.5 432.9 524.5 433.3 524.5 433.7 524.5 434.1 524.5 434.5 524.5 434.9 524.5 435.3 524.5 435.7 524.5 436.1 524.5 436.5 524.5 436.9 524.5 437.3 524.5 437.7 524.5 438.1 524.5 438.5 524.5 438.9 524.5 439.3 524.5 439.7 524.5 440.1 524.5 440.5 524.5 440.9 524.5 441.3 524.5 441.7 524.5 442.1 524.5 442.5 524.5 442.9 524.5 443.3 524.5 443.7 524.5 444.1 524.5 444.5 524.5 444.9 524.5 445.3 524.5 445.7 524.5 446.1 524.5 446.5 524.5 446.9 524.5 447.3 524.5 447.3 524.5Z" fill="#d8d060"/>
<path d="M387.3 524.5L387.3 524.5 387.7 524.5 388.1 524.5 388.5 524.5 388.9 524.5 389.3 524.5 389.7 524.5 390.1 524.5 390.5 524.5 390.9 524.5 391.3 524.5 391.7 524.5 392.1 524.5 392.5 524.5 392.9 524.5 393.3 524.4 393.7 524.3 394.1 524 394.5 523.2 394.9 521.6 395.3 518.7 395.7 513.7 396.1 506.5 396.5 497.4 396.9 487.6 397.3 479.2 397.7 474.4 398.1 474.4 398.5 479.2 398.9 487.6 399.3 497.4 399.7 506.5 400.1 513.7 400.5 518.7 400.9 521.6 401.3 523.2 401.7 524 402.1 524.3 402.5 524.4 402.9 524.5 403.3 524.5 403.7 524.5 404.1 524.5 404.5 524.5 404.9 524.5 405.3 524.5 405.7 524.5 406.1 524.5 406.5 524.5 406.9 524.5 407.3 524.5 407.7 524.5 408.1 524.5 408.5 524.5 408.9 524.5 409.3 524.5 409.7 524.5 410.1 524.5 410.5 524.5 410.9 524.5 411.3 524.5 411.7 524.5 412.1 524.5 412.5 524.5 412.9 524.5 413.3 524.5 413.7 524.5 414.1 524.5 414.5 524.5 414.9 524.5 415.3 524.5 415.7 524.5 416.1 524.5 416.5 524.5 416.9 524.5 417.3 524.5 417.7 524.5 418.1 524.5 418.5 524.5 418.9 524.5 419.3 524.5 419.7 524.5 420.1 524.5 420.5 524.5 420.9 524.5 421.3 524.5 421.7 524.5 422.1 524.5 422.5 524.5 422.9 524.5 423.3 524.5 423.7 524.5 424.1 524.5 424.5 524.5 424.9 524.5 425.3 524.5 425.7 524.5 426.1 524.5 426.5 524.5 426.9 524.5 427.3 524.5 427.7 524.5 428.1 524.5 428.5 524.5 428.9 524.5 429.3 524.5 429.7 524.5 430.1 524.5 430.5 524.5 430.9 524.5 431.3 524.5 431.7 524.5 432.1 524.5 432.5 524.5 432.9 524.5 433.3 524.5 433.7 524.5 434.1 524.5 434.5 524.5 434.9 524.5 435.3 524.5 435.7 524.5 436.1 524.5 436.5 524.5 436.9 524.5 437.3 524.5 437.7 524.5 438.1 524.5 438.5 524.5 438.9 524.5 439.3 524.5 439.7 524.5 440.1 524.5 440.5 524.5 440.9 524.5 441.3 524.5 441.7 524.5 442.1 524.5 442.5 524.5 442.9 524.5 443.3 524.5 443.7 524.5 444.1 524.5 444.5 524.5 444.9 524.5 445.3 524.5 445.7 524.5 446.1 524.5 446.5 524.5 446.9 524.5 447.3 524.5 447.3 524.5Z" fill="#3cc43c" fill-opacity="0.95"/>
<path d="M387.3 524.5L387.3 524.5 387.7 524.5 388.1 524.5 388.5 524.5 388.9 524.5 389.3 524.5 389.7 524.5 390.1 524.5 390.5 524.5 390.9 524.5 391.3 524.5 391.7 524.5 392.1 524.5 392.5 524.5 392.9 524.5 393.3 524.5 393.7 524.5 394.1 524.5 394.5 524.5 394.9 524.5 395.3 524.5 395.7 524.5 396.1 524.5 396.5 524.5 396.9 524.5 397.3 524.5 397.7 524.5 398.1 524.5 398.5 524.5 398.9 524.5 399.3 524.5 399.7 524.5 400.1 524.5 400.5 524.5 400.9 524.5 401.3 524.5 401.7 524.5 402.1 524.5 402.5 524.5 402.9 524.5 403.3 524.5 403.7 524.5 404.1 524.5 404.5 524.5 404.9 524.5 405.3 524.5 405.7 524.5 406.1 524.5 406.5 524.5 406.9 524.5 407.3 524.5 407.7 524.5 408.1 524.5 408.5 524.5 408.9 524.5 409.3 524.5 409.7 524.5 410.1 524.5 410.5 524.5 410.9 524.5 411.3 524.5 411.7 524.5 412.1 524.5 412.5 524.5 412.9 524.5 413.3 524.4 413.7 524.3 414.1 524.1 414.5 523.8 414.9 523.2 415.3 522.4 415.7 521 416.1 519.1 416.5 516.4 416.9 512.9 417.3 508.7 417.7 503.9 418.1 498.8 418.5 493.9 418.9 489.5 419.3 486.3 419.7 484.5 420.1 484.5 420.5 486.3 420.9 489.5 421.3 493.9 421.7 498.8 422.1 503.9 422.5 508.7 422.9 512.9 423.3 516.4 423.7 519.1 424.1 521 424.5 522.4 424.9 523.2 425.3 523.8 425.7 524.1 426.1 524.3 426.5 524.4 426.9 524.5 427.3 524.5 427.7 524.5 428.1 524.5 428.5 524.5 428.9 524.5 429.3 524.5 429.7 524.5 430.1 524.5 430.5 524.5 430.9 524.5 431.3 524.5 431.7 524.5 432.1 524.5 432.5 524.5 432.9 524.5 433.3 524.5 433.7 524.5 434.1 524.5 434.5 524.5 434.9 524.5 435.3 524.5 435.7 524.5 436.1 524.5 436.5 524.5 436.9 524.5 437.3 524.5 437.7 524.5 438.1 524.5 438.5 524.5 438.9 524.5 439.3 524.5 439.7 524.5 440.1 524.5 440.5 524.5 440.9 524.5 441.3 524.5 441.7 524.5 442.1 524.5 442.5 524.5 442.9 524.5 443.3 524.5 443.7 524.5 444.1 524.5 444.5 524.5 444.9 524.5 445.3 524.5 445.7 524.5 446.1 524.5 446.5 524.5 446.9 524.5 447.3 524.5 447.3 524.5Z" fill="#44eef4" fill-opacity="0.95"/>
<path d="M387.3 524.5 L387.7 524.5 388.1 524.5 388.5 524.5 388.9 524.5 389.3 524.5 389.7 524.5 390.1 524.4 390.5 524.4 390.9 524.3 391.3 524.2 391.7 524.1 392.1 524 392.5 523.9 392.9 523.8 393.3 523.7 393.7 523.6 394.1 523.4 394.5 522.7 394.9 521.2 395.3 518.3 395.7 513.5 396.1 506.3 396.5 497.1 396.9 487.2 397.3 478.4 397.7 472.4 398.1 470.2 398.5 471.4 398.9 475.1 399.3 480.9 399.7 487.7 400.1 494.1 400.5 499 400.9 502.3 401.3 504.3 401.7 505.5 402.1 506.4 402.5 507 402.9 507.5 403.3 508 403.7 508.4 404.1 508.8 404.5 509.2 404.9 509.5 405.3 509.9 405.7 510.2 406.1 510.5 406.5 510.7 406.9 510.9 407.3 511.1 407.7 511.2 408.1 511.4 408.5 511.4 408.9 511.5 409.3 511.5 409.7 511.5 410.1 511.5 410.5 511.4 410.9 511.3 411.3 511.1 411.7 511 412.1 510.8 412.5 510.5 412.9 510.3 413.3 509.9 413.7 509.5 414.1 509.1 414.5 508.4 414.9 507.6 415.3 506.4 415.7 504.8 416.1 502.7 416.5 500 416.9 496.6 417.3 492.8 417.7 488.6 418.1 484.5 418.5 480.9 418.9 478.1 419.3 476.7 419.7 476.8 420.1 478.1 420.5 481.5 420.9 486 421.3 491.3 421.7 497 422.1 502.6 422.5 507.7 422.9 512.2 423.3 515.8 423.7 518.6 424.1 520.6 424.5 522 424.9 523 425.3 523.6 425.7 523.9 426.1 524.1 426.5 524.2 426.9 524.3 427.3 524.3 427.7 524.4 428.1 524.4 428.5 524.4 428.9 524.4 429.3 524.4 429.7 524.4 430.1 524.4 430.5 524.4 430.9 524.4 431.3 524.4 431.7 524.4 432.1 524.4 432.5 524.4 432.9 524.4 433.3 524.4 433.7 524.5 434.1 524.5 434.5 524.5 434.9 524.5 435.3 524.5 435.7 524.5 436.1 524.5 436.5 524.5 436.9 524.5 437.3 524.5 437.7 524.5 438.1 524.5 438.5 524.5 438.9 524.5 439.3 524.5 439.7 524.5 440.1 524.5 440.5 524.5 440.9 524.5 441.3 524.5 441.7 524.5 442.1 524.5 442.5 524.5 442.9 524.5 443.3 524.5 443.7 524.5 444.1 524.5 444.5 524.5 444.9 524.5 445.3 524.5 445.7 524.5 446.1 524.5 446.5 524.5 446.9 524.5 447.3 524.5" stroke="#111" stroke-width="0.5" fill="none"/>
<path d="M387.3 524.5 L387.7 524.5 388.1 524.5 388.5 524.5 388.9 524.5 389.3 524.5 389.7 524.5 390.1 524.5 390.5 524.5 390.9 524.5 391.3 524.5 391.7 524.5 392.1 524.5 392.5 524.5 392.9 524.5 393.3 524.4 393.7 524.3 394.1 524 394.5 523.2 394.9 521.2 395.3 518.2 395.7 513.6 396.1 506.3 396.5 496.6 396.9 487.3 397.3 478 397.7 472.3 398.1 469.5 398.5 471.1 398.9 475 399.3 480.7 399.7 487.4 400.1 493.6 400.5 498.8 400.9 501.6 401.3 504.1 401.7 505.2 402.1 505.9 402.5 506.4 402.9 507.4 403.3 507.7 403.7 508.3 404.1 508.6 404.5 509 404.9 509 405.3 509.3 405.7 510.1 406.1 509.8 406.5 510.6 406.9 510.8 407.3 510.5 407.7 511.2 408.1 511.3 408.5 511.4 408.9 511.5 409.3 511.4 409.7 511.1 410.1 511.3 410.5 511.4 410.9 510.9 411.3 511 411.7 510.4 412.1 510.7 412.5 510 412.9 510.1 413.3 509.7 413.7 509.2 414.1 508.7 414.5 508.3 414.9 507.2 415.3 506 415.7 504.7 416.1 502.7 416.5 499.5 416.9 496.2 417.3 492.7 417.7 488.5 418.1 484.3 418.5 480.8 418.9 477.6 419.3 476.5 419.7 476.6 420.1 478.5 420.5 481.6 420.9 486.3 421.3 491.5 421.7 497.2 422.1 502.5 422.5 507.6 422.9 512.3 423.3 515.9 423.7 518.6 424.1 520.9 424.5 522.2 424.9 523 425.3 523.7 425.7 524.1 426.1 524.3 426.5 524.4 426.9 524.4 427.3 524.5 427.7 524.5 428.1 524.5 428.5 524.5 428.9 524.5 429.3 524.5 429.7 524.5 430.1 524.5 430.5 524.5 430.9 524.5 431.3 524.5 431.7 524.5 432.1 524.5 432.5 524.5 432.9 524.5 433.3 524.5 433.7 524.5 434.1 524.5 434.5 524.5 434.9 524.5 435.3 524.5 435.7 524.5 436.1 524.5 436.5 524.5 436.9 524.5 437.3 524.5 437.7 524.5 438.1 524.5 438.5 524.5 438.9 524.5 439.3 524.5 439.7 524.5 440.1 524.5 440.5 524.5 440.9 524.5 441.3 524.5 441.7 524.5 442.1 524.5 442.5 524.5 442.9 524.5 443.3 524.5 443.7 524.5 444.1 524.5 444.5 524.5 444.9 524.5 445.3 524.5 445.7 524.5 446.1 524.5 446.5 524.5 446.9 524.5 447.3 524.5" stroke="#e020e0" stroke-width="0.8" fill="none"/>
<path d="M400.1 493.8 L400.5 498.7 400.9 502 401.3 504 401.7 505.2 402.1 506.1 402.5 506.7 402.9 507.2 403.3 507.7 403.7 508.1 404.1 508.5 404.5 508.9 404.9 509.2 405.3 509.6 405.7 509.9 406.1 510.2 406.5 510.4 406.9 510.6 407.3 510.8 407.7 510.9 408.1 511.1 408.5 511.1 408.9 511.2 409.3 511.2 409.7 511.2 410.1 511.2 410.5 511.1 410.9 511 411.3 510.8 411.7 510.7 412.1 510.5 412.5 510.2 412.9 510 413.3 509.6 413.7 509.2 414.1 508.8 414.5 508.1 414.9 507.3 415.3 506.1 415.7 504.5 416.1 502.4 416.5 499.7 416.9 496.3 417.3 492.5 417.7 488.3" stroke="#d01818" stroke-width="0.8" fill="none"/>
<rect x="387.3" y="465.5" width="60" height="59" fill="none" stroke="#333" stroke-width="0.7"/>
<line x1="385.7" y1="524.5" x2="387.3" y2="524.5" stroke="#333" stroke-width="0.5"/>
<line x1="386.4" y1="519.1" x2="387.3" y2="519.1" stroke="#333" stroke-width="0.5"/>
<line x1="386.4" y1="513.7" x2="387.3" y2="513.7" stroke="#333" stroke-width="0.5"/>
<line x1="386.4" y1="508.3" x2="387.3" y2="508.3" stroke="#333" stroke-width="0.5"/>
<line x1="385.7" y1="502.9" x2="387.3" y2="502.9" stroke="#333" stroke-width="0.5"/>
<line x1="386.4" y1="497.5" x2="387.3" y2="497.5" stroke="#333" stroke-width="0.5"/>
<line x1="386.4" y1="492.1" x2="387.3" y2="492.1" stroke="#333" stroke-width="0.5"/>
<line x1="386.4" y1="486.7" x2="387.3" y2="486.7" stroke="#333" stroke-width="0.5"/>
<line x1="385.7" y1="481.3" x2="387.3" y2="481.3" stroke="#333" stroke-width="0.5"/>
<line x1="386.4" y1="475.9" x2="387.3" y2="475.9" stroke="#333" stroke-width="0.5"/>
<line x1="386.4" y1="470.5" x2="387.3" y2="470.5" stroke="#333" stroke-width="0.5"/>
<line x1="387.3" y1="524.5" x2="387.3" y2="525.4" stroke="#333" stroke-width="0.5"/>
<line x1="392.3" y1="524.5" x2="392.3" y2="525.4" stroke="#333" stroke-width="0.5"/>
<line x1="397.3" y1="524.5" x2="397.3" y2="526.1" stroke="#333" stroke-width="0.5"/>
<line x1="402.3" y1="524.5" x2="402.3" y2="525.4" stroke="#333" stroke-width="0.5"/>
<line x1="407.3" y1="524.5" x2="407.3" y2="525.4" stroke="#333" stroke-width="0.5"/>
<line x1="412.3" y1="524.5" x2="412.3" y2="525.4" stroke="#333" stroke-width="0.5"/>
<line x1="417.3" y1="524.5" x2="417.3" y2="526.1" stroke="#333" stroke-width="0.5"/>
<line x1="422.3" y1="524.5" x2="422.3" y2="525.4" stroke="#333" stroke-width="0.5"/>
<line x1="427.3" y1="524.5" x2="427.3" y2="525.4" stroke="#333" stroke-width="0.5"/>
<line x1="432.3" y1="524.5" x2="432.3" y2="525.4" stroke="#333" stroke-width="0.5"/>
<line x1="437.3" y1="524.5" x2="437.3" y2="526.1" stroke="#333" stroke-width="0.5"/>
<line x1="442.3" y1="524.5" x2="442.3" y2="525.4" stroke="#333" stroke-width="0.5"/>
<line x1="447.3" y1="524.5" x2="447.3" y2="525.4" stroke="#333" stroke-width="0.5"/>
<text x="407.3" y="471.8" font-size="6.7">G0/G1:</text>
<text x="445.7" y="471.8" font-size="6.7" text-anchor="end">16%</text>
<text x="407.3" y="479.7" font-size="6.7">S:</text>
<text x="445.7" y="479.7" font-size="6.7" text-anchor="end">54%</text>
<text x="407.3" y="487.6" font-size="6.7">G2/M:</text>
<text x="445.7" y="487.6" font-size="6.7" text-anchor="end">30%</text>
<text x="380.7" y="495.5" font-size="8" text-anchor="middle" transform="rotate(-90 380.7 495.5)">Count</text>
<text x="417.8" y="535.8" font-size="8.2" text-anchor="middle">PE-A</text>
<path d="M473.9 524.5L473.9 524.5 474.3 524.5 474.7 524.5 475.1 524.5 475.5 524.5 475.9 524.5 476.3 524.5 476.7 524.5 477.1 524.5 477.5 524.5 477.9 524.5 478.3 524.5 478.7 524.5 479.1 524.5 479.5 524.5 479.9 524.5 480.3 524.5 480.7 524.5 481.1 524.5 481.5 524.5 481.9 524.5 482.3 524.5 482.7 524.5 483.1 524.4 483.5 524.3 483.9 524.1 484.3 523.4 484.7 522.1 485.1 519.6 485.5 515.9 485.9 512 486.3 509.2 486.7 507.7 487.1 507.3 487.5 507.2 487.9 507.4 488.3 507.7 488.7 508 489.1 508.3 489.5 508.6 489.9 508.9 490.3 509.2 490.7 509.4 491.1 509.7 491.5 509.9 491.9 510.2 492.3 510.4 492.7 510.6 493.1 510.8 493.5 511 493.9 511.1 494.3 511.3 494.7 511.4 495.1 511.5 495.5 511.6 495.9 511.7 496.3 511.8 496.7 511.9 497.1 511.9 497.5 512 497.9 512 498.3 512 498.7 512 499.1 512 499.5 512 499.9 512 500.3 512 500.7 512 501.1 512.1 501.5 512.2 501.9 512.5 502.3 512.8 502.7 513.3 503.1 514 503.5 514.9 503.9 516 504.3 517.3 504.7 518.6 505.1 519.9 505.5 521 505.9 521.9 506.3 522.7 506.7 523.2 507.1 523.6 507.5 523.9 507.9 524.1 508.3 524.2 508.7 524.3 509.1 524.4 509.5 524.4 509.9 524.4 510.3 524.5 510.7 524.5 511.1 524.5 511.5 524.5 511.9 524.5 512.3 524.5 512.7 524.5 513.1 524.5 513.5 524.5 513.9 524.5 514.3 524.5 514.7 524.5 515.1 524.5 515.5 524.5 515.9 524.5 516.3 524.5 516.7 524.5 517.1 524.5 517.5 524.5 517.9 524.5 518.3 524.5 518.7 524.5 519.1 524.5 519.5 524.5 519.9 524.5 520.3 524.5 520.7 524.5 521.1 524.5 521.5 524.5 521.9 524.5 522.3 524.5 522.7 524.5 523.1 524.5 523.5 524.5 523.9 524.5 524.3 524.5 524.7 524.5 525.1 524.5 525.5 524.5 525.9 524.5 526.3 524.5 526.7 524.5 527.1 524.5 527.5 524.5 527.9 524.5 528.3 524.5 528.7 524.5 529.1 524.5 529.5 524.5 529.9 524.5 530.3 524.5 530.7 524.5 531.1 524.5 531.5 524.5 531.9 524.5 532.3 524.5 532.7 524.5 533.1 524.5 533.5 524.5 533.9 524.5 533.9 524.5Z" fill="#d8d060"/>
<path d="M473.9 524.5L473.9 524.5 474.3 524.5 474.7 524.5 475.1 524.5 475.5 524.5 475.9 524.5 476.3 524.5 476.7 524.5 477.1 524.5 477.5 524.5 477.9 524.5 478.3 524.5 478.7 524.5 479.1 524.5 479.5 524.5 479.9 524.5 480.3 524.4 480.7 524.2 481.1 523.7 481.5 522.6 481.9 520.4 482.3 516.5 482.7 510.5 483.1 502.3 483.5 492.8 483.9 483.5 484.3 476.7 484.7 474.2 485.1 476.7 485.5 483.5 485.9 492.8 486.3 502.3 486.7 510.5 487.1 516.5 487.5 520.4 487.9 522.6 488.3 523.7 488.7 524.2 489.1 524.4 489.5 524.5 489.9 524.5 490.3 524.5 490.7 524.5 491.1 524.5 491.5 524.5 491.9 524.5 492.3 524.5 492.7 524.5 493.1 524.5 493.5 524.5 493.9 524.5 494.3 524.5 494.7 524.5 495.1 524.5 495.5 524.5 495.9 524.5 496.3 524.5 496.7 524.5 497.1 524.5 497.5 524.5 497.9 524.5 498.3 524.5 498.7 524.5 499.1 524.5 499.5 524.5 499.9 524.5 500.3 524.5 500.7 524.5 501.1 524.5 501.5 524.5 501.9 524.5 502.3 524.5 502.7 524.5 503.1 524.5 503.5 524.5 503.9 524.5 504.3 524.5 504.7 524.5 505.1 524.5 505.5 524.5 505.9 524.5 506.3 524.5 506.7 524.5 507.1 524.5 507.5 524.5 507.9 524.5 508.3 524.5 508.7 524.5 509.1 524.5 509.5 524.5 509.9 524.5 510.3 524.5 510.7 524.5 511.1 524.5 511.5 524.5 511.9 524.5 512.3 524.5 512.7 524.5 513.1 524.5 513.5 524.5 513.9 524.5 514.3 524.5 514.7 524.5 515.1 524.5 515.5 524.5 515.9 524.5 516.3 524.5 516.7 524.5 517.1 524.5 517.5 524.5 517.9 524.5 518.3 524.5 518.7 524.5 519.1 524.5 519.5 524.5 519.9 524.5 520.3 524.5 520.7 524.5 521.1 524.5 521.5 524.5 521.9 524.5 522.3 524.5 522.7 524.5 523.1 524.5 523.5 524.5 523.9 524.5 524.3 524.5 524.7 524.5 525.1 524.5 525.5 524.5 525.9 524.5 526.3 524.5 526.7 524.5 527.1 524.5 527.5 524.5 527.9 524.5 528.3 524.5 528.7 524.5 529.1 524.5 529.5 524.5 529.9 524.5 530.3 524.5 530.7 524.5 531.1 524.5 531.5 524.5 531.9 524.5 532.3 524.5 532.7 524.5 533.1 524.5 533.5 524.5 533.9 524.5 533.9 524.5Z" fill="#3cc43c" fill-opacity="0.95"/>
<path d="M473.9 524.5L473.9 524.5 474.3 524.5 474.7 524.5 475.1 524.5 475.5 524.5 475.9 524.5 476.3 524.5 476.7 524.5 477.1 524.5 477.5 524.5 477.9 524.5 478.3 524.5 478.7 524.5 479.1 524.5 479.5 524.5 479.9 524.5 480.3 524.5 480.7 524.5 481.1 524.5 481.5 524.5 481.9 524.5 482.3 524.5 482.7 524.5 483.1 524.5 483.5 524.5 483.9 524.5 484.3 524.5 484.7 524.5 485.1 524.5 485.5 524.5 485.9 524.5 486.3 524.5 486.7 524.5 487.1 524.5 487.5 524.5 487.9 524.5 488.3 524.5 488.7 524.5 489.1 524.5 489.5 524.5 489.9 524.5 490.3 524.5 490.7 524.5 491.1 524.5 491.5 524.5 491.9 524.5 492.3 524.5 492.7 524.5 493.1 524.5 493.5 524.5 493.9 524.5 494.3 524.5 494.7 524.5 495.1 524.5 495.5 524.5 495.9 524.5 496.3 524.4 496.7 524.4 497.1 524.3 497.5 524.2 497.9 524 498.3 523.6 498.7 523.2 499.1 522.5 499.5 521.6 499.9 520.4 500.3 518.9 500.7 516.9 501.1 514.5 501.5 511.7 501.9 508.4 502.3 504.9 502.7 501.2 503.1 497.5 503.5 494.1 503.9 491 504.3 488.5 504.7 486.9 505.1 486.2 505.5 486.4 505.9 487.6 506.3 489.7 506.7 492.5 507.1 495.8 507.5 499.4 507.9 503.1 508.3 506.7 508.7 510.1 509.1 513.1 509.5 515.8 509.9 517.9 510.3 519.7 510.7 521.1 511.1 522.1 511.5 522.9 511.9 523.4 512.3 523.8 512.7 524.1 513.1 524.2 513.5 524.3 513.9 524.4 514.3 524.4 514.7 524.5 515.1 524.5 515.5 524.5 515.9 524.5 516.3 524.5 516.7 524.5 517.1 524.5 517.5 524.5 517.9 524.5 518.3 524.5 518.7 524.5 519.1 524.5 519.5 524.5 519.9 524.5 520.3 524.5 520.7 524.5 521.1 524.5 521.5 524.5 521.9 524.5 522.3 524.5 522.7 524.5 523.1 524.5 523.5 524.5 523.9 524.5 524.3 524.5 524.7 524.5 525.1 524.5 525.5 524.5 525.9 524.5 526.3 524.5 526.7 524.5 527.1 524.5 527.5 524.5 527.9 524.5 528.3 524.5 528.7 524.5 529.1 524.5 529.5 524.5 529.9 524.5 530.3 524.5 530.7 524.5 531.1 524.5 531.5 524.5 531.9 524.5 532.3 524.5 532.7 524.5 533.1 524.5 533.5 524.5 533.9 524.5 533.9 524.5Z" fill="#44eef4" fill-opacity="0.95"/>
<path d="M473.9 524.5 L474.3 524.5 474.7 524.5 475.1 524.5 475.5 524.5 475.9 524.5 476.3 524.5 476.7 524.5 477.1 524.4 477.5 524.4 477.9 524.3 478.3 524.2 478.7 524.1 479.1 523.9 479.5 523.8 479.9 523.8 480.3 523.7 480.7 523.5 481.1 523.1 481.5 522.1 481.9 520 482.3 516.3 482.7 510.3 483.1 502.1 483.5 492.5 483.9 483 484.3 475.6 484.7 471.8 485.1 471.8 485.5 474.9 485.9 480.3 486.3 487 486.7 493.8 487.1 499.3 487.5 503.1 487.9 505.5 488.3 506.9 488.7 507.7 489.1 508.2 489.5 508.6 489.9 508.9 490.3 509.2 490.7 509.4 491.1 509.7 491.5 509.9 491.9 510.2 492.3 510.4 492.7 510.6 493.1 510.8 493.5 511 493.9 511.1 494.3 511.3 494.7 511.4 495.1 511.5 495.5 511.6 495.9 511.7 496.3 511.7 496.7 511.8 497.1 511.7 497.5 511.6 497.9 511.4 498.3 511.1 498.7 510.7 499.1 510 499.5 509.1 499.9 507.9 500.3 506.4 500.7 504.4 501.1 502.1 501.5 499.4 501.9 496.4 502.3 493.2 502.7 490 503.1 487 503.5 484.5 503.9 482.5 504.3 481.3 504.7 481 505.1 481.5 505.5 482.5 505.9 484.6 506.3 487.5 506.7 490.8 507.1 494.5 507.5 498.4 507.9 502.4 508.3 506.2 508.7 509.6 509.1 512.8 509.5 515.4 509.9 517.7 510.3 519.5 510.7 520.9 511.1 521.9 511.5 522.7 511.9 523.3 512.3 523.7 512.7 523.9 513.1 524.1 513.5 524.2 513.9 524.3 514.3 524.3 514.7 524.4 515.1 524.4 515.5 524.4 515.9 524.4 516.3 524.4 516.7 524.4 517.1 524.4 517.5 524.4 517.9 524.4 518.3 524.4 518.7 524.4 519.1 524.5 519.5 524.5 519.9 524.5 520.3 524.5 520.7 524.5 521.1 524.5 521.5 524.5 521.9 524.5 522.3 524.5 522.7 524.5 523.1 524.5 523.5 524.5 523.9 524.5 524.3 524.5 524.7 524.5 525.1 524.5 525.5 524.5 525.9 524.5 526.3 524.5 526.7 524.5 527.1 524.5 527.5 524.5 527.9 524.5 528.3 524.5 528.7 524.5 529.1 524.5 529.5 524.5 529.9 524.5 530.3 524.5 530.7 524.5 531.1 524.5 531.5 524.5 531.9 524.5 532.3 524.5 532.7 524.5 533.1 524.5 533.5 524.5 533.9 524.5" stroke="#111" stroke-width="0.5" fill="none"/>
<path d="M473.9 524.5 L474.3 524.5 474.7 524.5 475.1 524.5 475.5 524.5 475.9 524.5 476.3 524.5 476.7 524.5 477.1 524.5 477.5 524.5 477.9 524.5 478.3 524.5 478.7 524.5 479.1 524.5 479.5 524.5 479.9 524.5 480.3 524.4 480.7 524.2 481.1 523.7 481.5 522.5 481.9 520 482.3 516.3 482.7 510.4 483.1 502.1 483.5 492.1 483.9 482.9 484.3 475.5 484.7 471.5 485.1 471.8 485.5 474.7 485.9 479.8 486.3 486.9 486.7 493.7 487.1 499.2 487.5 503.1 487.9 505.4 488.3 506.8 488.7 507.3 489.1 508 489.5 508.4 489.9 508.6 490.3 509.1 490.7 509.4 491.1 509.7 491.5 509.9 491.9 510 492.3 509.9 492.7 510.3 493.1 509.9 493.5 510.6 493.9 510.6 494.3 510.8 494.7 511.4 495.1 511.1 495.5 511.2 495.9 511.5 496.3 511.5 496.7 511.3 497.1 511.6 497.5 511.3 497.9 511.4 498.3 510.6 498.7 510.5 499.1 509.8 499.5 509 499.9 507.8 500.3 506.3 500.7 503.9 501.1 501.4 501.5 499.4 501.9 496.4 502.3 492.8 502.7 490 503.1 487 503.5 484.4 503.9 482.2 504.3 480.9 504.7 480.9 505.1 481.3 505.5 482.6 505.9 484.9 506.3 487.6 506.7 491.1 507.1 494.9 507.5 498.7 507.9 502.6 508.3 506.2 508.7 509.6 509.1 513 509.5 515.4 509.9 517.7 510.3 519.3 510.7 520.4 511.1 522 511.5 522.1 511.9 523.1 512.3 523.8 512.7 524.1 513.1 524.2 513.5 524.3 513.9 524.4 514.3 524.4 514.7 524.5 515.1 524.5 515.5 524.5 515.9 524.5 516.3 524.5 516.7 524.5 517.1 524.5 517.5 524.5 517.9 524.5 518.3 524.5 518.7 524.5 519.1 524.5 519.5 524.5 519.9 524.5 520.3 524.5 520.7 524.5 521.1 524.5 521.5 524.5 521.9 524.5 522.3 524.5 522.7 524.5 523.1 524.5 523.5 524.5 523.9 524.5 524.3 524.5 524.7 524.5 525.1 524.5 525.5 524.5 525.9 524.5 526.3 524.5 526.7 524.5 527.1 524.5 527.5 524.5 527.9 524.5 528.3 524.5 528.7 524.5 529.1 524.5 529.5 524.5 529.9 524.5 530.3 524.5 530.7 524.5 531.1 524.5 531.5 524.5 531.9 524.5 532.3 524.5 532.7 524.5 533.1 524.5 533.5 524.5 533.9 524.5" stroke="#e020e0" stroke-width="0.8" fill="none"/>
<path d="M487.1 499 L487.5 502.8 487.9 505.2 488.3 506.6 488.7 507.4 489.1 507.9 489.5 508.3 489.9 508.6 490.3 508.9 490.7 509.1 491.1 509.4 491.5 509.6 491.9 509.9 492.3 510.1 492.7 510.3 493.1 510.5 493.5 510.7 493.9 510.8 494.3 511 494.7 511.1 495.1 511.2 495.5 511.3 495.9 511.4 496.3 511.4 496.7 511.5 497.1 511.4 497.5 511.3 497.9 511.1 498.3 510.8 498.7 510.4 499.1 509.7 499.5 508.8 499.9 507.6 500.3 506.1 500.7 504.1 501.1 501.8 501.5 499.1 501.9 496.1 502.3 492.9 502.7 489.7 503.1 486.7" stroke="#d01818" stroke-width="0.8" fill="none"/>
<rect x="473.9" y="465.5" width="60" height="59" fill="none" stroke="#333" stroke-width="0.7"/>
<line x1="472.3" y1="524.5" x2="473.9" y2="524.5" stroke="#333" stroke-width="0.5"/>
<line x1="473" y1="519.1" x2="473.9" y2="519.1" stroke="#333" stroke-width="0.5"/>
<line x1="473" y1="513.7" x2="473.9" y2="513.7" stroke="#333" stroke-width="0.5"/>
<line x1="473" y1="508.3" x2="473.9" y2="508.3" stroke="#333" stroke-width="0.5"/>
<line x1="472.3" y1="502.9" x2="473.9" y2="502.9" stroke="#333" stroke-width="0.5"/>
<line x1="473" y1="497.5" x2="473.9" y2="497.5" stroke="#333" stroke-width="0.5"/>
<line x1="473" y1="492.1" x2="473.9" y2="492.1" stroke="#333" stroke-width="0.5"/>
<line x1="473" y1="486.7" x2="473.9" y2="486.7" stroke="#333" stroke-width="0.5"/>
<line x1="472.3" y1="481.3" x2="473.9" y2="481.3" stroke="#333" stroke-width="0.5"/>
<line x1="473" y1="475.9" x2="473.9" y2="475.9" stroke="#333" stroke-width="0.5"/>
<line x1="473" y1="470.5" x2="473.9" y2="470.5" stroke="#333" stroke-width="0.5"/>
<line x1="473.9" y1="524.5" x2="473.9" y2="525.4" stroke="#333" stroke-width="0.5"/>
<line x1="478.9" y1="524.5" x2="478.9" y2="525.4" stroke="#333" stroke-width="0.5"/>
<line x1="483.9" y1="524.5" x2="483.9" y2="526.1" stroke="#333" stroke-width="0.5"/>
<line x1="488.9" y1="524.5" x2="488.9" y2="525.4" stroke="#333" stroke-width="0.5"/>
<line x1="493.9" y1="524.5" x2="493.9" y2="525.4" stroke="#333" stroke-width="0.5"/>
<line x1="498.9" y1="524.5" x2="498.9" y2="525.4" stroke="#333" stroke-width="0.5"/>
<line x1="503.9" y1="524.5" x2="503.9" y2="526.1" stroke="#333" stroke-width="0.5"/>
<line x1="508.9" y1="524.5" x2="508.9" y2="525.4" stroke="#333" stroke-width="0.5"/>
<line x1="513.9" y1="524.5" x2="513.9" y2="525.4" stroke="#333" stroke-width="0.5"/>
<line x1="518.9" y1="524.5" x2="518.9" y2="525.4" stroke="#333" stroke-width="0.5"/>
<line x1="523.9" y1="524.5" x2="523.9" y2="526.1" stroke="#333" stroke-width="0.5"/>
<line x1="528.9" y1="524.5" x2="528.9" y2="525.4" stroke="#333" stroke-width="0.5"/>
<line x1="533.9" y1="524.5" x2="533.9" y2="525.4" stroke="#333" stroke-width="0.5"/>
<text x="493.9" y="471.8" font-size="6.7">G0/G1:</text>
<text x="532.3" y="471.8" font-size="6.7" text-anchor="end">19%</text>
<text x="493.9" y="479.7" font-size="6.7">S:</text>
<text x="532.3" y="479.7" font-size="6.7" text-anchor="end">34%</text>
<text x="493.9" y="487.6" font-size="6.7">G2/M:</text>
<text x="532.3" y="487.6" font-size="6.7" text-anchor="end">47%</text>
<text x="467.3" y="495.5" font-size="8" text-anchor="middle" transform="rotate(-90 467.3 495.5)">Count</text>
<text x="504.4" y="535.8" font-size="8.2" text-anchor="middle">PE-A</text>
<rect x="238.2" y="429.1" width="10.8" height="68.9" fill="#fe0000"/>
<rect x="238.2" y="399.8" width="10.8" height="29.3" fill="#1666ae"/>
<rect x="238.2" y="387.4" width="10.8" height="12.4" fill="#76a80c"/>
<line x1="243.6" y1="429.1" x2="243.6" y2="430.8" stroke="#111" stroke-width="0.8"/>
<line x1="241.4" y1="430.8" x2="245.8" y2="430.8" stroke="#111" stroke-width="0.9"/>
<line x1="243.6" y1="399.8" x2="243.6" y2="401.4" stroke="#111" stroke-width="0.8"/>
<line x1="241.4" y1="401.4" x2="245.8" y2="401.4" stroke="#111" stroke-width="0.9"/>
<rect x="257.8" y="435.5" width="10.8" height="62.5" fill="#fe0000"/>
<rect x="257.8" y="409.5" width="10.8" height="26" fill="#1666ae"/>
<rect x="257.8" y="387.4" width="10.8" height="22.1" fill="#76a80c"/>
<line x1="263.2" y1="435.5" x2="263.2" y2="437.2" stroke="#111" stroke-width="0.8"/>
<line x1="261" y1="437.2" x2="265.4" y2="437.2" stroke="#111" stroke-width="0.9"/>
<line x1="263.2" y1="409.5" x2="263.2" y2="411.2" stroke="#111" stroke-width="0.8"/>
<line x1="261" y1="411.2" x2="265.4" y2="411.2" stroke="#111" stroke-width="0.9"/>
<rect x="277.4" y="440.5" width="10.8" height="57.5" fill="#fe0000"/>
<rect x="277.4" y="406.2" width="10.8" height="34.3" fill="#1666ae"/>
<rect x="277.4" y="387.4" width="10.8" height="18.8" fill="#76a80c"/>
<line x1="282.8" y1="440.5" x2="282.8" y2="443.8" stroke="#111" stroke-width="0.8"/>
<line x1="280.6" y1="443.8" x2="285" y2="443.8" stroke="#111" stroke-width="0.9"/>
<line x1="282.8" y1="406.2" x2="282.8" y2="408.4" stroke="#111" stroke-width="0.8"/>
<line x1="280.6" y1="408.4" x2="285" y2="408.4" stroke="#111" stroke-width="0.9"/>
<rect x="297.1" y="448.2" width="10.8" height="49.8" fill="#fe0000"/>
<rect x="297.1" y="417.3" width="10.8" height="31" fill="#1666ae"/>
<rect x="297.1" y="387.4" width="10.8" height="29.9" fill="#76a80c"/>
<line x1="302.5" y1="448.2" x2="302.5" y2="452.1" stroke="#111" stroke-width="0.8"/>
<line x1="300.3" y1="452.1" x2="304.7" y2="452.1" stroke="#111" stroke-width="0.9"/>
<line x1="302.5" y1="417.3" x2="302.5" y2="422.2" stroke="#111" stroke-width="0.8"/>
<line x1="300.3" y1="422.2" x2="304.7" y2="422.2" stroke="#111" stroke-width="0.9"/>
<line x1="234.4" y1="387" x2="234.4" y2="498.5" stroke="#1a1a1a" stroke-width="1.1"/>
<line x1="233.9" y1="498" x2="311.9" y2="498" stroke="#1a1a1a" stroke-width="1.1"/>
<line x1="231.8" y1="498" x2="234.4" y2="498" stroke="#1a1a1a" stroke-width="1"/>
<text x="229.4" y="501.1" font-size="9.1" text-anchor="end">0</text>
<line x1="231.8" y1="475.9" x2="234.4" y2="475.9" stroke="#1a1a1a" stroke-width="1"/>
<text x="229.4" y="479" font-size="9.1" text-anchor="end">20</text>
<line x1="231.8" y1="453.8" x2="234.4" y2="453.8" stroke="#1a1a1a" stroke-width="1"/>
<text x="229.4" y="456.9" font-size="9.1" text-anchor="end">40</text>
<line x1="231.8" y1="431.6" x2="234.4" y2="431.6" stroke="#1a1a1a" stroke-width="1"/>
<text x="229.4" y="434.7" font-size="9.1" text-anchor="end">60</text>
<line x1="231.8" y1="409.5" x2="234.4" y2="409.5" stroke="#1a1a1a" stroke-width="1"/>
<text x="229.4" y="412.6" font-size="9.1" text-anchor="end">80</text>
<line x1="231.8" y1="387.4" x2="234.4" y2="387.4" stroke="#1a1a1a" stroke-width="1"/>
<text x="229.4" y="390.5" font-size="9.1" text-anchor="end">100</text>
<line x1="243.6" y1="498" x2="243.6" y2="500.5" stroke="#1a1a1a" stroke-width="1"/>
<line x1="263.2" y1="498" x2="263.2" y2="500.5" stroke="#1a1a1a" stroke-width="1"/>
<line x1="282.8" y1="498" x2="282.8" y2="500.5" stroke="#1a1a1a" stroke-width="1"/>
<line x1="302.5" y1="498" x2="302.5" y2="500.5" stroke="#1a1a1a" stroke-width="1"/>
<text x="207" y="442.7" font-size="9" text-anchor="middle" transform="rotate(-90 207 442.7)">cell (%)</text>
<text x="272.2" y="380.4" font-size="9.1" text-anchor="middle">SUNE1</text>
<rect x="299.6" y="359.2" width="12.6" height="4.4" fill="#fe0000"/>
<text x="316.6" y="364.6" font-size="9">G0/G1</text>
<rect x="299.6" y="368.6" width="12.6" height="4.4" fill="#1666ae"/>
<text x="316.6" y="374" font-size="9">S</text>
<rect x="299.6" y="378" width="12.6" height="4.4" fill="#76a80c"/>
<text x="316.6" y="383.4" font-size="9">G2/M</text>
<text x="248.6" y="506.5" font-size="10" text-anchor="end" transform="rotate(-45 248.6 506.5)">Vector</text>
<text x="268.2" y="506.5" font-size="10" text-anchor="end" transform="rotate(-45 268.2 506.5)">USP44</text>
<text x="287.8" y="506.5" font-size="10" text-anchor="end" transform="rotate(-45 287.8 506.5)">Vector</text>
<text x="307.5" y="506.5" font-size="10" text-anchor="end" transform="rotate(-45 307.5 506.5)">USP44</text>
<line x1="222.2" y1="531.9" x2="259.8" y2="531.9" stroke="#aaa" stroke-width="0.7"/>
<line x1="263.4" y1="531.9" x2="300.1" y2="531.9" stroke="#aaa" stroke-width="0.7"/>
<text x="241" y="546.1" font-size="9.2" text-anchor="middle">Ctrl</text>
<text x="281.8" y="546.1" font-size="9.2" text-anchor="middle">IR</text>
<line x1="243.6" y1="387.4" x2="243.6" y2="392.5" stroke="#111" stroke-width="0.7"/>
<line x1="263.2" y1="387.4" x2="263.2" y2="392.5" stroke="#111" stroke-width="0.7"/>
<line x1="241.4" y1="387.6" x2="245.8" y2="387.6" stroke="#111" stroke-width="0.8"/>
<line x1="261" y1="387.6" x2="265.4" y2="387.6" stroke="#111" stroke-width="0.8"/>
<line x1="243.6" y1="392.5" x2="263.2" y2="392.5" stroke="#111" stroke-width="0.7"/>
<text x="255.8" y="393.2" font-size="6.9" font-weight="bold" text-anchor="end" transform="rotate(-90 255.8 393.2)"><tspan font-style="italic">P</tspan>=4.75E-05</text>
<line x1="282.8" y1="387.4" x2="282.8" y2="392.5" stroke="#111" stroke-width="0.7"/>
<line x1="302.5" y1="387.4" x2="302.5" y2="392.5" stroke="#111" stroke-width="0.7"/>
<line x1="280.6" y1="387.6" x2="285" y2="387.6" stroke="#111" stroke-width="0.8"/>
<line x1="300.3" y1="387.6" x2="304.7" y2="387.6" stroke="#111" stroke-width="0.8"/>
<line x1="282.8" y1="392.5" x2="302.5" y2="392.5" stroke="#111" stroke-width="0.7"/>
<text x="295" y="391.8" font-size="6.9" font-weight="bold" text-anchor="end" transform="rotate(-90 295 391.8)"><tspan font-style="italic">P</tspan>=0.0002</text>
<rect x="578.1" y="454.1" width="10.8" height="43.1" fill="#fe0000"/>
<rect x="578.1" y="409.8" width="10.8" height="44.2" fill="#1666ae"/>
<rect x="578.1" y="386.6" width="10.8" height="23.2" fill="#76a80c"/>
<line x1="583.5" y1="454.1" x2="583.5" y2="455" stroke="#111" stroke-width="0.8"/>
<line x1="581.3" y1="455" x2="585.7" y2="455" stroke="#111" stroke-width="0.9"/>
<line x1="583.5" y1="409.8" x2="583.5" y2="410.6" stroke="#111" stroke-width="0.8"/>
<line x1="581.3" y1="410.6" x2="585.7" y2="410.6" stroke="#111" stroke-width="0.9"/>
<rect x="597.9" y="461.3" width="10.8" height="35.9" fill="#fe0000"/>
<rect x="597.9" y="418.7" width="10.8" height="42.6" fill="#1666ae"/>
<rect x="597.9" y="386.6" width="10.8" height="32.1" fill="#76a80c"/>
<line x1="603.3" y1="461.3" x2="603.3" y2="466.2" stroke="#111" stroke-width="0.8"/>
<line x1="601.1" y1="466.2" x2="605.5" y2="466.2" stroke="#111" stroke-width="0.9"/>
<line x1="603.3" y1="418.7" x2="603.3" y2="423.1" stroke="#111" stroke-width="0.8"/>
<line x1="601.1" y1="423.1" x2="605.5" y2="423.1" stroke="#111" stroke-width="0.9"/>
<rect x="617.6" y="479.5" width="10.8" height="17.7" fill="#fe0000"/>
<rect x="617.6" y="420.9" width="10.8" height="58.6" fill="#1666ae"/>
<rect x="617.6" y="386.6" width="10.8" height="34.3" fill="#76a80c"/>
<line x1="623" y1="479.5" x2="623" y2="480.1" stroke="#111" stroke-width="0.8"/>
<line x1="620.8" y1="480.1" x2="625.2" y2="480.1" stroke="#111" stroke-width="0.9"/>
<line x1="623" y1="420.9" x2="623" y2="421.5" stroke="#111" stroke-width="0.8"/>
<line x1="620.8" y1="421.5" x2="625.2" y2="421.5" stroke="#111" stroke-width="0.9"/>
<rect x="637.1" y="476.2" width="10.8" height="21" fill="#fe0000"/>
<rect x="637.1" y="438" width="10.8" height="38.2" fill="#1666ae"/>
<rect x="637.1" y="386.6" width="10.8" height="51.4" fill="#76a80c"/>
<line x1="642.5" y1="476.2" x2="642.5" y2="476.6" stroke="#111" stroke-width="0.8"/>
<line x1="640.3" y1="476.6" x2="644.7" y2="476.6" stroke="#111" stroke-width="0.9"/>
<line x1="642.5" y1="438" x2="642.5" y2="438.5" stroke="#111" stroke-width="0.8"/>
<line x1="640.3" y1="438.5" x2="644.7" y2="438.5" stroke="#111" stroke-width="0.9"/>
<line x1="573.8" y1="386.2" x2="573.8" y2="497.7" stroke="#1a1a1a" stroke-width="1.1"/>
<line x1="573.3" y1="497.2" x2="651.9" y2="497.2" stroke="#1a1a1a" stroke-width="1.1"/>
<line x1="571.2" y1="497.2" x2="573.8" y2="497.2" stroke="#1a1a1a" stroke-width="1"/>
<text x="568.8" y="500.3" font-size="9.1" text-anchor="end">0</text>
<line x1="571.2" y1="475.1" x2="573.8" y2="475.1" stroke="#1a1a1a" stroke-width="1"/>
<text x="568.8" y="478.2" font-size="9.1" text-anchor="end">20</text>
<line x1="571.2" y1="453" x2="573.8" y2="453" stroke="#1a1a1a" stroke-width="1"/>
<text x="568.8" y="456.1" font-size="9.1" text-anchor="end">40</text>
<line x1="571.2" y1="430.8" x2="573.8" y2="430.8" stroke="#1a1a1a" stroke-width="1"/>
<text x="568.8" y="433.9" font-size="9.1" text-anchor="end">60</text>
<line x1="571.2" y1="408.7" x2="573.8" y2="408.7" stroke="#1a1a1a" stroke-width="1"/>
<text x="568.8" y="411.8" font-size="9.1" text-anchor="end">80</text>
<line x1="571.2" y1="386.6" x2="573.8" y2="386.6" stroke="#1a1a1a" stroke-width="1"/>
<text x="568.8" y="389.7" font-size="9.1" text-anchor="end">100</text>
<line x1="583.5" y1="497.2" x2="583.5" y2="499.7" stroke="#1a1a1a" stroke-width="1"/>
<line x1="603.3" y1="497.2" x2="603.3" y2="499.7" stroke="#1a1a1a" stroke-width="1"/>
<line x1="623" y1="497.2" x2="623" y2="499.7" stroke="#1a1a1a" stroke-width="1"/>
<line x1="642.5" y1="497.2" x2="642.5" y2="499.7" stroke="#1a1a1a" stroke-width="1"/>
<text x="546.4" y="441.9" font-size="9" text-anchor="middle" transform="rotate(-90 546.4 441.9)">cell (%)</text>
<text x="612.1" y="379.6" font-size="9.1" text-anchor="middle">HONE1</text>
<rect x="639" y="360.2" width="12.6" height="4.4" fill="#fe0000"/>
<text x="656" y="365.6" font-size="9">G0/G1</text>
<rect x="639" y="369.6" width="12.6" height="4.4" fill="#1666ae"/>
<text x="656" y="375" font-size="9">S</text>
<rect x="639" y="379" width="12.6" height="4.4" fill="#76a80c"/>
<text x="656" y="384.4" font-size="9">G2/M</text>
<text x="588.5" y="505.7" font-size="10" text-anchor="end" transform="rotate(-45 588.5 505.7)">Vector</text>
<text x="608.3" y="505.7" font-size="10" text-anchor="end" transform="rotate(-45 608.3 505.7)">USP44</text>
<text x="628" y="505.7" font-size="10" text-anchor="end" transform="rotate(-45 628 505.7)">Vector</text>
<text x="647.5" y="505.7" font-size="10" text-anchor="end" transform="rotate(-45 647.5 505.7)">USP44</text>
<line x1="562.1" y1="531.1" x2="599.9" y2="531.1" stroke="#aaa" stroke-width="0.7"/>
<line x1="603.6" y1="531.1" x2="640.1" y2="531.1" stroke="#aaa" stroke-width="0.7"/>
<text x="581" y="546.1" font-size="9.2" text-anchor="middle">Ctrl</text>
<text x="621.9" y="546.1" font-size="9.2" text-anchor="middle">IR</text>
<line x1="583.5" y1="386.6" x2="583.5" y2="392.8" stroke="#111" stroke-width="0.7"/>
<line x1="603.3" y1="386.6" x2="603.3" y2="392.8" stroke="#111" stroke-width="0.7"/>
<line x1="581.3" y1="386.8" x2="585.7" y2="386.8" stroke="#111" stroke-width="0.8"/>
<line x1="601.1" y1="386.8" x2="605.5" y2="386.8" stroke="#111" stroke-width="0.8"/>
<line x1="583.5" y1="392.8" x2="603.3" y2="392.8" stroke="#111" stroke-width="0.7"/>
<text x="595.8" y="392.8" font-size="6.9" font-weight="bold" text-anchor="end" transform="rotate(-90 595.8 392.8)"><tspan font-style="italic">P</tspan>=0.0001</text>
<line x1="623" y1="386.6" x2="623" y2="392.8" stroke="#111" stroke-width="0.7"/>
<line x1="642.5" y1="386.6" x2="642.5" y2="392.8" stroke="#111" stroke-width="0.7"/>
<line x1="620.8" y1="386.8" x2="625.2" y2="386.8" stroke="#111" stroke-width="0.8"/>
<line x1="640.3" y1="386.8" x2="644.7" y2="386.8" stroke="#111" stroke-width="0.8"/>
<line x1="623" y1="392.8" x2="642.5" y2="392.8" stroke="#111" stroke-width="0.7"/>
<text x="635.1" y="392.8" font-size="6.9" font-weight="bold" text-anchor="end" transform="rotate(-90 635.1 392.8)"><tspan font-style="italic">P</tspan>=6.84E-05</text>
<text x="-0.1" y="564.5" font-size="13.5" font-weight="bold" fill="#000">d</text>
<defs><filter id="blur1" x="-50%" y="-50%" width="200%" height="200%"><feGaussianBlur stdDeviation="0.9"/></filter></defs>
<text x="71" y="568" font-size="9.1" text-anchor="middle">Vector</text>
<text x="157.2" y="568" font-size="9.1" text-anchor="middle">USP44</text>
<text x="411" y="568" font-size="9.1" text-anchor="middle">Vector</text>
<text x="497.2" y="568" font-size="9.1" text-anchor="middle">USP44</text>
<text x="12.3" y="615.9" font-size="9" text-anchor="middle">Ctrl</text>
<text x="14" y="701.5" font-size="9" text-anchor="middle">IR</text>
<text x="354" y="615.9" font-size="9" text-anchor="middle">Ctrl</text>
<text x="355.2" y="701" font-size="9" text-anchor="middle">IR</text>
<rect x="40.5" y="576.5" width="67.3" height="67.7" fill="#fff" stroke="#b4b4b4" stroke-width="0.8"/>
<path transform="scale(.25)" d="M338 2346h3m-30-3h3m-16 3h3m-26 26h3m10 3h3m-1-5h3m-3 1h3m-2-16h3m-2 13h3m-1-2h3m0 0h3m1 7h3m-3 0h3m1 0h3m-2-2h3m0-2h3m-2 5h3m-3-13h3m-3 12h3m-1 2h3m-3-2h3m-3-7h3m1 5h3m5-19h3m13 2h3m16-2h3m-18 25h3m-17 19h3m-6-10h3m-7-4h3m-3 8h3m-4 2h3m-3-3h3m-4 0h3m-6-4h3m-4-2h3m-3-2h3m-4-4h3m-5 1h3m-3 0h3m-4 12h3m-4-4h3m-3-9h3m-5 13h3m-3 0h3m-3 6h3m-5-5h3m-3 0h3m-3-6h3m-5 3h3m-3 5h3m-7-16h3m-4 19h3m-3-20h3m-3 6h3m-4 16h3m-3-21h3m-4 6h3m-3 14h3m-4-4h3m-4-2h3m-3-2h3m-3 1h3m-3 8h3m-3-11h3m-4 10h3m-4-2h3m-3-12h3m-3 11h3m-3-16h3m-4 14h3m-3-5h3m-3 7h3m-3-13h3m-3 6h3m-3-8h3m-4 9h3m-3 8h3m-4-7h3m-5-1h3m-3-3h3m-4 7h3m-4-11h3m-5 18h3m-3-19h3m-4 5h3m-4 7h3m-3-13h3m-4 1h3m-3 8h3m-3 4h3m-3-7h3m-4 6h3m-4-8h3m-3 11h3m-3-1h3m-6-3h3m-5-14h3m-3 4h3m-3 9h3m-7-6h3m-7 16h3m-33-11h3m-7 9h3m-7-9h3m-67 9h3m40 11h3m-1 4h3m1 10h3m4 1h3m-2-14h3m0-3h3m3 12h3m4-6h3m1 9h3m0-1h3m-2-4h3m4 7h3m5-3h3m5 1h3m-1-19h3m-2 20h3m-2-13h3m-2-5h3m-2 19h3m3-23h3m1 0h3m-2 9h3m-3-5h3m-3 4h3m-3 4h3m-3-11h3m-3 3h3m-3 9h3m-2-13h3m-1 10h3m-3-8h3m0 14h3m-3-16h3m-2 0h3m-2 1h3m-3-1h3m-2 11h3m-3-9h3m-3 7h3m-2-7h3m-2 2h3m-3 0h3m-3 16h3m-2 2h3m-3-11h3m-2-10h3m-3 22h3m-1-21h3m-3 7h3m-2 9h3m-2-8h3m-3-10h3m-3 12h3m-2 2h3m-3 0h3m-2-7h3m-1 5h3m1 6h3m-1 4h3m-3-16h3m-3 14h3m-2-4h3m-3-4h3m-3-2h3m3-8h3m-3 1h3m12 4h3m-19 19h3m-9 6h3m-6 12h3m-5-5h3m-6-11h3m-6 5h3m-3-8h3m-3 10h3m-5-5h3m-6 3h3m-8 12h3m-3-16h3m-4 2h3m-4-2h3m-4 3h3m-4 10h3m-4 2h3m-3 1h3m-5-19h3m-3 12h3m-3 4h3m-3 0h3m-5-15h3m-4 17h3m-4-8h3m-6 11h3m-4-18h3m-4 5h3m-3 3h3m-4-11h3m-3 12h3m-3-4h3m-4 2h3m-6-4h3m-3-6h3m-4 5h3m-4 16h3m-4-13h3m-4-4h3m-4 16h3m-5 0h3m-3-1h3m-4 0h3m-3 2h3m-4-12h3m-3 11h3m-4-17h3m-5 9h3m-4 5h3m-4 0h3m-3-11h3m-6-1h3m-4 3h3m-4 13h3m-3-10h3m-5-5h3m-3 4h3m-5 3h3m-5-13h3m-5 20h3m-4-15h3m-4 15h3m-10-2h3m-5-2h3m-3 3h3m-5-6h3m-11-4h3m-7-4h3m-7 16h3m-4-17h3m-6 41h3m4-14h3m-1 13h3m-2-11h3m-1 6h3m-1-11h3m-2 7h3m-3 6h3m-3-6h3m-2-7h3m-2 14h3m-2-20h3m-3 18h3m-2-4h3m0 4h3m-3-1h3m-1-3h3m-3 5h3m-3-2h3m-3-5h3m-2 11h3m-3-8h3m-2 4h3m-2 2h3m-3 2h3m-2 0h3m-2-22h3m-2 5h3m-3 11h3m-3-3h3m-3 5h3m-2-8h3m-1 4h3m-3-3h3m-3 6h3m-2-1h3m-3-12h3m-3 5h3m-2 5h3m-2-7h3m-2 15h3m-2-8h3m-3-4h3m-3-6h3m-3 9h3m-2-1h3m-2-12h3m-3 22h3m-2 0h3m-3-9h3m-3-6h3m-3 2h3m-2 0h3m-2-5h3m-3 10h3m-3-15h3m-2 16h3m-3-11h3m-3 2h3m-2 10h3m-3-1h3m-3-11h3m-3 8h3m-3 10h3m-3-3h3m-2-11h3m-3-2h3m-3 1h3m-2-6h3m-3 14h3m-3-4h3m-3 1h3m-2 9h3m-3-13h3m-3 0h3m-2-9h3m-3 3h3m-2 10h3m-3 9h3m-3-15h3m-2 10h3m-3-3h3m-2 3h3m-2-1h3m-2 6h3m-3-15h3m-2-3h3m-3-3h3m-3 20h3m-2-10h3m-3-4h3m-2-6h3m-3 14h3m-2 4h3m-3-13h3m-2 2h3m-3 7h3m-2-4h3m-2 6h3m-3-13h3m-3 12h3m-3-3h3m-2-2h3m-3 8h3m-2-17h3m-3 7h3m-1 9h3m-1-2h3m-3 4h3m-1-5h3m-3-7h3m-1 12h3m-3-2h3m-3-17h3m-3 6h3m-2-2h3m-3 3h3m-2 3h3m-2 11h3m-1-21h3m-1 9h3m-2-7h3m-3 18h3m5-7h3m-1-9h3m-1-4h3m2 14h3m6-12h3m5 1h3m-10 36h3m-17-10h3m-10 12h3m-7-3h3m-7-7h3m-8 11h3m-4 3h3m-5-1h3m-4-17h3m-3 0h3m-5 0h3m-4-4h3m-3 9h3m-4 8h3m-6-4h3m-4-10h3m-4-1h3m-4 0h3m-4 20h3m-5-8h3m-3-4h3m-4-9h3m-3 5h3m-4 17h3m-4-5h3m-4-17h3m-3 15h3m-3-2h3m-3 1h3m-4 4h3m-4-3h3m-3-16h3m-3 1h3m-3 20h3m-3-16h3m-4 12h3m-4 0h3m-3 2h3m-4-3h3m-3-1h3m-3 5h3m-4-15h3m-3 1h3m-4 11h3m-4-4h3m-3 7h3m-4 0h3m-4-4h3m-3-12h3m-4 11h3m-3 0h3m-4-5h3m-3 13h3m-3-12h3m-4 7h3m-3-15h3m-3-2h3m-4 22h3m-3-5h3m-3 4h3m-4-11h3m-3-2h3m-3-2h3m-4 1h3m-3 8h3m-3-12h3m-3 9h3m-4-3h3m-3 1h3m-3 1h3m-3 2h3m-4-12h3m-3 21h3m-3-7h3m-3-8h3m-4-7h3m-3 14h3m-4-11h3m-3-1h3m-3 3h3m-4 12h3m-3-6h3m-3 4h3m-3 3h3m-3-13h3m-3 15h3m-3-12h3m-4 12h3m-3-14h3m-3 3h3m-3 9h3m-3-15h3m-3-1h3m-3 6h3m-3 3h3m-3-2h3m-3 4h3m-4 5h3m-3-19h3m-3 2h3m-3-1h3m-3-1h3m-4 21h3m-3-13h3m-4 13h3m-4 2h3m-3-4h3m-3-4h3m-3-6h3m-4 5h3m-3-3h3m-4 6h3m-3-10h3m-4-4h3m-4 3h3m-3 15h3m-3-9h3m-3-8h3m-3-1h3m-3 15h3m-3-13h3m-3 0h3m-3-2h3m-3 16h3m-3-8h3m-4-8h3m-3 0h3m-4-3h3m-3 17h3m-3 4h3m-3-17h3m-3 6h3m-3 7h3m-3-10h3m-3 9h3m-3-5h3m-4 4h3m-3-3h3m-3-1h3m-3-3h3m-4 12h3m-3-7h3m-3-3h3m-3 10h3m-4-16h3m-3 7h3m-3-6h3m-4 17h3m-3-12h3m-3 0h3m-3 3h3m-4 4h3m-3 1h3m-4-12h3m-3 16h3m-3-7h3m-3-9h3m-4 12h3m-3-18h3m-3 10h3m-4 13h3m-3-5h3m-3 0h3m-3-4h3m-4 7h3m-3 2h3m-3-2h3m-3 1h3m-4-13h3m-3 13h3m-4-12h3m-4 10h3m-4 1h3m-3-12h3m-3-9h3m-6 20h3m-4 3h3m-4-22h3m-3 13h3m-6 2h3m-3 3h3m-5 0h3m-13 2h3m-22-4h3m-6 7h3m4 17h3m-3 5h3m-3-9h3m2 9h3m-3-6h3m2-6h3m-3-2h3m-3-2h3m-3 10h3m-2 4h3m-2-1h3m-3 4h3m-2-12h3m-2 2h3m-1 7h3m-3-2h3m-1-4h3m-3 0h3m-1 3h3m-3-12h3m-3 1h3m-2 6h3m-3 3h3m-2 4h3m-3-3h3m-3-2h3m-3 5h3m-1 2h3m-2-14h3m-3 5h3m-3 1h3m-3-3h3m-2 3h3m-3 5h3m-2-4h3m-3 9h3m-3-9h3m-3-4h3m-2-2h3m-3 6h3m-3-6h3m-2 5h3m-3-3h3m-2 0h3m-3 2h3m-3-8h3m-3 5h3m-3 11h3m-3-13h3m-2 8h3m-3-11h3m-3 10h3m-3-1h3m-2-6h3m-3 3h3m-3 7h3m-3-13h3m-3 18h3m-2-15h3m-3 1h3m-3 2h3m-2-8h3m-3 12h3m-3 6h3m-3-14h3m-3 14h3m-3 1h3m-3-13h3m-2-6h3m-3-2h3m-3 11h3m-3 7h3m-3-11h3m-3 0h3m-3 4h3m-2-9h3m-3 5h3m-3 11h3m-3 1h3m-2 1h3m-3-8h3m-3 2h3m-3 0h3m-3-7h3m-3 9h3m-3 7h3m-3-15h3m-3 15h3m-3-19h3m-2 4h3m-3 5h3m-3 7h3m-3-1h3m-2 0h3m-3-18h3m-3 18h3m-3-3h3m-3-3h3m-2 5h3m-3-15h3m-3 4h3m-3-1h3m-3 9h3m-2-9h3m-3-4h3m-3-1h3m-3 12h3m-3 6h3m-3-19h3m-2 19h3m-3-2h3m-3-15h3m-3 1h3m-3 13h3m-2-13h3m-3 19h3m-3-13h3m-2-2h3m-3 6h3m-3 7h3m-3-6h3m-3-13h3m-3 8h3m-3 8h3m-2 6h3m-3-10h3m-3-9h3m-2 17h3m-3-2h3m-3 1h3m-3-10h3m-3-9h3m-2-1h3m-3 8h3m-3-5h3m-3 13h3m-3-15h3m-3 4h3m-3 12h3m-2 3h3m-3-18h3m-3 14h3m-3-9h3m-3 4h3m-3 2h3m-3-3h3m-2 7h3m-3-13h3m-3 7h3m-3-6h3m-2 13h3m-3-17h3m-3 4h3m-3 2h3m-2 10h3m-3 0h3m-3-12h3m-3 0h3m-3 14h3m-3-6h3m-2-9h3m-3 13h3m-3 1h3m-3-15h3m-3 8h3m-3-5h3m-3 14h3m-2-3h3m-3-12h3m-3 12h3m-3-2h3m-2 7h3m-3-14h3m-3-8h3m-2 3h3m-3 3h3m-3-5h3m-2 1h3m-3 18h3m-2-20h3m-2 6h3m-3 3h3m-3 14h3m-3-18h3m-3-4h3m-2 1h3m-3-1h3m-3 17h3m-3-9h3m-2 9h3m-3 1h3m-3-17h3m-3 6h3m-3-8h3m-2 11h3m-3 1h3m-3 3h3m-2-9h3m-2-5h3m-3 4h3m-2 5h3m-2 0h3m-3 4h3m-2 7h3m-3-20h3m-3 13h3m-2 1h3m-1 1h3m-2-10h3m-3-5h3m-2 4h3m0-2h3m-1 1h3m-1-4h3m0 12h3m-1-9h3m7 15h3m1-9h3m-2 6h3m0-9h3m-2 8h3m3-11h3m-1 20h3m-1-21h3m-2 11h3m13-12h3m1 6h3m3 8h3m10 29h3m-45-13h3m-7 10h3m-4 3h3m-6-5h3m-12 0h3m-5-15h3m-9 21h3m-6-6h3m-23-12h3m-12-2h3m-5 0h3m-4 16h3m-4-14h3m-7-3h3m-6 21h3m-4-4h3m-4 4h3m-3-7h3m-4 3h3m-4-3h3m-4-14h3m-3 4h3m-4-4h3m-4 1h3m-3 15h3m-3-4h3m-5 0h3m-3 8h3m-4-13h3m-4 4h3m-3-6h3m-4 5h3m-4 13h3m-4-13h3m-3-2h3m-3-6h3m-4 13h3m-3-3h3m-3 11h3m-3-20h3m-4 8h3m-3-8h3m-3 10h3m-3 9h3m-3-15h3m-4 4h3m-3-9h3m-3 18h3m-3 1h3m-3-14h3m-3-5h3m-3 9h3m-3-4h3m-4 10h3m-3-9h3m-4 2h3m-3 7h3m-3-12h3m-4 5h3m-3-8h3m-4 14h3m-3-1h3m-3-3h3m-3-7h3m-3-3h3m-4 0h3m-3 21h3m-3-7h3m-3-15h3m-5 5h3m-3 11h3m-4-9h3m-3 3h3m-3 5h3m-4-13h3m-3 4h3m-4 7h3m-3-5h3m-4 7h3m-4-6h3m-4 11h3m-3-9h3m-3-2h3m-5-2h3m-3 9h3m-5-1h3m-3-11h3m-4-5h3m-3 20h3m-5-5h3m-5-1h3m-5 8h3m-4-1h3m-5-1h3m-5-17h3m-3 12h3m-4 6h3m-3-18h3m-4 17h3m-3-1h3m-4-4h3m-4-5h3m-3 1h3m-6-7h3m-3 2h3m-9 6h3m-4 10h3m-1 25h3m5-18h3m-2 7h3m0-6h3m-2-2h3m-3 7h3m-2-3h3m-3-2h3m-2 12h3m0-17h3m-3-1h3m-2 13h3m-3-13h3m-2 21h3m-3-1h3m2-18h3m-3 7h3m-2-5h3m-2 15h3m-3-14h3m-2-1h3m-1 4h3m-2 1h3m-3 5h3m-2-9h3m-2 1h3m0 3h3m-3-3h3m-3-3h3m-3-2h3m-2 9h3m-3-8h3m-1 4h3m-3 6h3m-3-12h3m6 0h3m6 8h3m25-7h3m8 7h3m8 8h3m10-8h3m2 12h3m3-13h3m1 14h3m13-12h3m4-1h3m-86 17h3m-55 3h3m-6-4h3m-16 0h3m-4 3h3m-11-3h3" stroke="#2a3aff" stroke-width="3.2" stroke-opacity="0.6"/>
<g filter="url(#blur1)">
<ellipse cx="57.6" cy="624.6" rx="11.8" ry="3.5" fill="#1424ff" transform="rotate(-50 57.6 624.6)"/>
<ellipse cx="57.6" cy="624.6" rx="9.8" ry="3.2" fill="#0050ff" transform="rotate(-50 57.6 624.6)"/>
<ellipse cx="57.6" cy="624.6" rx="7.6" ry="2.8" fill="#00a8ff" transform="rotate(-50 57.6 624.6)"/>
<ellipse cx="57.6" cy="624.6" rx="5.5" ry="2.2" fill="#10d8a0" transform="rotate(-50 57.6 624.6)"/>
<ellipse cx="57.6" cy="624.6" rx="3.7" ry="1.6" fill="#40e040" transform="rotate(-50 57.6 624.6)"/>
<ellipse cx="74.8" cy="598" rx="2.2" ry="1.6" fill="#1424ff" transform="rotate(-60 74.8 598)"/>
</g>
<line x1="69.5" y1="576.5" x2="69.5" y2="644.2" stroke="#555" stroke-width="0.8"/>
<line x1="40.5" y1="610.5" x2="107.8" y2="610.5" stroke="#555" stroke-width="0.8"/>
<line x1="42" y1="644.2" x2="42" y2="645.4" stroke="#999" stroke-width="0.4"/>
<text x="42" y="648.5" font-size="2.6" fill="#888" text-anchor="middle">10<tspan dy="-1" font-size="1.8">1</tspan></text>
<line x1="52.7" y1="644.2" x2="52.7" y2="645.4" stroke="#999" stroke-width="0.4"/>
<text x="52.7" y="648.5" font-size="2.6" fill="#888" text-anchor="middle">10<tspan dy="-1" font-size="1.8">2</tspan></text>
<line x1="63.4" y1="644.2" x2="63.4" y2="645.4" stroke="#999" stroke-width="0.4"/>
<text x="63.4" y="648.5" font-size="2.6" fill="#888" text-anchor="middle">10<tspan dy="-1" font-size="1.8">3</tspan></text>
<line x1="74.2" y1="644.2" x2="74.2" y2="645.4" stroke="#999" stroke-width="0.4"/>
<text x="74.2" y="648.5" font-size="2.6" fill="#888" text-anchor="middle">10<tspan dy="-1" font-size="1.8">4</tspan></text>
<line x1="84.9" y1="644.2" x2="84.9" y2="645.4" stroke="#999" stroke-width="0.4"/>
<text x="84.9" y="648.5" font-size="2.6" fill="#888" text-anchor="middle">10<tspan dy="-1" font-size="1.8">5</tspan></text>
<line x1="95.6" y1="644.2" x2="95.6" y2="645.4" stroke="#999" stroke-width="0.4"/>
<text x="95.6" y="648.5" font-size="2.6" fill="#888" text-anchor="middle">10<tspan dy="-1" font-size="1.8">6</tspan></text>
<line x1="106.3" y1="644.2" x2="106.3" y2="645.4" stroke="#999" stroke-width="0.4"/>
<text x="106.3" y="648.5" font-size="2.6" fill="#888" text-anchor="middle">10<tspan dy="-1" font-size="1.8">7</tspan></text>
<line x1="39.3" y1="642.7" x2="40.5" y2="642.7" stroke="#999" stroke-width="0.4"/>
<text x="38.3" y="642.7" font-size="2.6" fill="#888" text-anchor="middle" transform="rotate(-90 38.3 642.7)">10<tspan dy="-1" font-size="1.8">1</tspan></text>
<line x1="39.3" y1="629.8" x2="40.5" y2="629.8" stroke="#999" stroke-width="0.4"/>
<text x="38.3" y="629.8" font-size="2.6" fill="#888" text-anchor="middle" transform="rotate(-90 38.3 629.8)">10<tspan dy="-1" font-size="1.8">2</tspan></text>
<line x1="39.3" y1="616.8" x2="40.5" y2="616.8" stroke="#999" stroke-width="0.4"/>
<text x="38.3" y="616.8" font-size="2.6" fill="#888" text-anchor="middle" transform="rotate(-90 38.3 616.8)">10<tspan dy="-1" font-size="1.8">3</tspan></text>
<line x1="39.3" y1="603.9" x2="40.5" y2="603.9" stroke="#999" stroke-width="0.4"/>
<text x="38.3" y="603.9" font-size="2.6" fill="#888" text-anchor="middle" transform="rotate(-90 38.3 603.9)">10<tspan dy="-1" font-size="1.8">4</tspan></text>
<line x1="39.3" y1="590.9" x2="40.5" y2="590.9" stroke="#999" stroke-width="0.4"/>
<text x="38.3" y="590.9" font-size="2.6" fill="#888" text-anchor="middle" transform="rotate(-90 38.3 590.9)">10<tspan dy="-1" font-size="1.8">5</tspan></text>
<line x1="39.3" y1="578" x2="40.5" y2="578" stroke="#999" stroke-width="0.4"/>
<text x="38.3" y="578" font-size="2.6" fill="#888" text-anchor="middle" transform="rotate(-90 38.3 578)">10<tspan dy="-1" font-size="1.8">6</tspan></text>
<text x="107.3" y="584.1" font-size="8.4" text-anchor="end">6.32%</text>
<text x="31.9" y="610.4" font-size="8.6" text-anchor="middle" transform="rotate(-90 31.9 610.4)">PI-A</text>
<text x="74.2" y="657" font-size="8.6" text-anchor="middle">FITC-A</text>
<rect x="127.5" y="576.5" width="67.3" height="67.7" fill="#fff" stroke="#b4b4b4" stroke-width="0.8"/>
<path transform="scale(.25)" d="M602 2313h3m40-4h3m55 42h3m-18-12h3m-50 7h3m-59 2h3m-1 25h3m-2-14h3m7 15h3m10 1h3m1-6h3m7 3h3m-3-3h3m-2 3h3m2-6h3m-2 7h3m3 1h3m-2 1h3m0-4h3m-2 3h3m-3-16h3m1 9h3m-3-6h3m-2 12h3m1-3h3m-2 5h3m0-2h3m-2-14h3m-2 15h3m0-9h3m-2 5h3m-3-15h3m3 12h3m-2 6h3m-2-1h3m1 1h3m-1 2h3m-3-8h3m-1-4h3m2-3h3m1 13h3m-2 2h3m-1 0h3m0 0h3m-3-22h3m-2 21h3m11-6h3m-2 5h3m-1-3h3m15 5h3m21-6h3m-8 7h3m-32 0h3m-12 2h3m-5-1h3m-5 22h3m-7-13h3m-3-10h3m-3 7h3m-4 7h3m-4-9h3m-4 6h3m-6 1h3m-4-5h3m-4 6h3m-4-5h3m-3-8h3m-7 11h3m-3 11h3m-4-2h3m-4-15h3m-4 9h3m-3-5h3m-5 5h3m-3 0h3m-3-1h3m-4 6h3m-3-19h3m-4 5h3m-4 0h3m-4-5h3m-4 6h3m-3 12h3m-4-8h3m-4 4h3m-4-11h3m-3 1h3m-3-1h3m-4-2h3m-3 9h3m-3-8h3m-3-1h3m-4 22h3m-4-9h3m-3-13h3m-5 9h3m-4 11h3m-3-7h3m-3-5h3m-4-7h3m-3 7h3m-3 2h3m-3 0h3m-5-5h3m-4 12h3m-4-4h3m-3 6h3m-4-6h3m-4 4h3m-3-13h3m-3 10h3m-3-8h3m-4-5h3m-4 16h3m-3-6h3m-3-4h3m-3 3h3m-4-2h3m-3 2h3m-3 2h3m-3-7h3m-3 2h3m-3 3h3m-3 3h3m-4 9h3m-3-18h3m-3-1h3m-4 0h3m-4 2h3m-4-2h3m-3 5h3m-3-3h3m-3 15h3m-3-16h3m-3 16h3m-4 2h3m-4-1h3m-4-5h3m-3 2h3m-3-8h3m-3-9h3m-3 12h3m-4-13h3m-3 10h3m-3 2h3m-3-10h3m-3 5h3m-3 0h3m-4-3h3m-3 6h3m-3 6h3m-3-16h3m-4 3h3m-3 11h3m-3-1h3m-4-1h3m-3 2h3m-3-1h3m-3 7h3m-4-11h3m-3-3h3m-3 8h3m-4-12h3m-3 5h3m-3 9h3m-4-6h3m-3-3h3m-3-8h3m-3 22h3m-4-6h3m-3-9h3m-3 3h3m-3-1h3m-4-2h3m-3 8h3m-3-3h3m-4 0h3m-3-10h3m-5 9h3m-3-5h3m-3-1h3m-3 13h3m-4-4h3m-3 2h3m-4-1h3m-3-6h3m-4 14h3m-3-20h3m-3 2h3m-4 12h3m-4 2h3m-3-3h3m-4 6h3m-3-14h3m-4 3h3m-3-1h3m-3-9h3m-4 8h3m-3-4h3m-4-3h3m-3 20h3m-4-9h3m-3-1h3m-3-10h3m-3 4h3m-4-1h3m-3 18h3m-3-3h3m-4-12h3m-5 9h3m-3-4h3m-3-1h3m-3-1h3m-3 0h3m-4-8h3m-4 5h3m-3-3h3m-4-3h3m-4 13h3m-4-13h3m-4 4h3m-4 7h3m-3 9h3m-3 1h3m-5-16h3m-6 11h3m-4-4h3m-4-2h3m-4-1h3m-3 1h3m-4-5h3m-3 6h3m-4-2h3m-3 7h3m-6-7h3m-3 1h3m-3 4h3m-4-11h3m-3 8h3m-3-5h3m-5 9h3m-6-5h3m-3 1h3m-4 8h3m-4-10h3m-3 9h3m-4-13h3m-4 7h3m-15-2h3m-5-10h3m-5 17h3m-19-1h3m-3 4h3m-19-14h3m-4 13h3m-6-21h3m-4 23h3m-7-10h3m-30 19h3m0-5h3m20 5h3m3-6h3m0 0h3m1 18h3m-1 2h3m-2-6h3m-3 6h3m0-3h3m-2-9h3m10 9h3m0-6h3m-2 8h3m-2-7h3m-2 3h3m-3-6h3m3-10h3m-2 22h3m-1-8h3m0 7h3m-2-5h3m-1 3h3m3-6h3m-2 7h3m-1-8h3m2 0h3m-2 4h3m-3 5h3m-2-22h3m-3 4h3m-2 19h3m-2-15h3m-3 15h3m-3-18h3m-1-1h3m-1 10h3m-2-1h3m-3 9h3m-2-13h3m0 7h3m-1 0h3m-3-8h3m-3-2h3m1-1h3m-2 13h3m-2-13h3m-3 3h3m-3 6h3m-2-5h3m-1-3h3m-2 11h3m-1-14h3m-2 6h3m0 1h3m-3 3h3m-3 9h3m0-3h3m-3-18h3m-3 20h3m-2 0h3m-3-16h3m-3 13h3m-1 2h3m-2 3h3m-3-14h3m-2 7h3m-2-7h3m-3 3h3m-1 9h3m-3-5h3m-3-16h3m-2 0h3m-2 23h3m-3-7h3m7 2h3m-2-18h3m-2 10h3m-3 8h3m-1-18h3m-3 10h3m-2 7h3m-3-1h3m-3-4h3m0-10h3m-1-2h3m-2 9h3m2 11h3m0-18h3m8 12h3m-2-11h3m58 23h3m-43-1h3m-23 1h3m-7 6h3m-3-8h3m-14 10h3m-16 7h3m-4-1h3m-3 3h3m-3-15h3m-5 12h3m-4-4h3m-7-6h3m-4 2h3m-5-6h3m-5 4h3m-3 1h3m-4-3h3m-4 0h3m-4 15h3m-5-17h3m-4 19h3m-5-6h3m-4 3h3m-4 2h3m-4-18h3m-4 18h3m-5 1h3m-4 1h3m-4 1h3m-3-14h3m-4 0h3m-4 0h3m-3 1h3m-3 7h3m-3-13h3m-3 2h3m-4 14h3m-3-4h3m-4-10h3m-4 15h3m-3 2h3m-5-14h3m-3 11h3m-5-16h3m-4 14h3m-4 3h3m-4-3h3m-3-3h3m-4-7h3m-3 6h3m-3-14h3m-3 6h3m-3-5h3m-3 15h3m-3-4h3m-3 7h3m-3-19h3m-4 23h3m-3-4h3m-4-4h3m-3 5h3m-3-1h3m-4-13h3m-4 5h3m-3 8h3m-3-14h3m-3 2h3m-4 15h3m-4-4h3m-3-13h3m-3 9h3m-4 2h3m-3 1h3m-3 4h3m-3-20h3m-4 13h3m-3-6h3m-3 5h3m-5 6h3m-3 2h3m-3-1h3m-3-2h3m-4-16h3m-3 17h3m-3-10h3m-3 3h3m-3 10h3m-4-16h3m-3 14h3m-4-3h3m-3 3h3m-3 0h3m-3-15h3m-4 18h3m-3-11h3m-3-7h3m-4 15h3m-3-19h3m-5 10h3m-4-8h3m-4 6h3m-4 1h3m-3-3h3m-4-2h3m-4 9h3m-4 6h3m-3-1h3m-3-8h3m-3-9h3m-4 14h3m-4 2h3m-3 5h3m-4 0h3m-3-1h3m-4-2h3m-3-4h3m-4 1h3m-3 6h3m-3-6h3m-3 5h3m-3-13h3m-5 9h3m-4-7h3m-4 8h3m-4-17h3m-4 21h3m-3-18h3m-3 9h3m-5 1h3m-6 1h3m-4-6h3m-4 3h3m-7 2h3m-5-3h3m-3-5h3m-8 15h3m-6-22h3m-6 7h3m-12 8h3m-9-10h3m-10 9h3m-19-14h3m3 29h3m16 11h3m-1 0h3m-1-6h3m4 12h3m0-3h3m-2-5h3m-2 3h3m-2 0h3m-2 3h3m-3-2h3m-2-16h3m-2 16h3m-3 4h3m-3-1h3m-1-6h3m-2 3h3m-2-8h3m-3 7h3m-3 0h3m-2 1h3m-3 1h3m-3-19h3m-2 8h3m-3-3h3m-3-3h3m-3 20h3m-2-3h3m-3-3h3m-2 4h3m-2-1h3m-3 2h3m-3-12h3m-2 3h3m-3-9h3m-2 3h3m-1-5h3m-3 18h3m-2 0h3m-3-3h3m-3 3h3m-2-15h3m-3 16h3m-3-4h3m-2-7h3m-3 11h3m-2-9h3m-3 10h3m-3 0h3m-3 2h3m-2-19h3m-3-3h3m-2 20h3m-3-14h3m-3-1h3m-2-4h3m-3 16h3m-3-10h3m-2 9h3m-3 6h3m-3-6h3m-2-10h3m-3 6h3m-3 10h3m-3-1h3m-2-12h3m-3 4h3m-3-9h3m-3-1h3m-3 16h3m-2-3h3m-3-3h3m-2-1h3m-3 3h3m-3-1h3m-3-8h3m-3 9h3m-3-13h3m-2 2h3m-3 18h3m-2-10h3m-3-11h3m-3 9h3m-3-1h3m-3 7h3m-3-2h3m-2-9h3m-3 8h3m-2-1h3m-3 3h3m-3 7h3m-3-5h3m-2 1h3m-3-15h3m-3 12h3m-3-11h3m-3 0h3m-1 7h3m-3 8h3m-3 1h3m-3-9h3m-3 11h3m-2-18h3m-3 11h3m-3-16h3m-3 3h3m-3-1h3m-3 17h3m-2-11h3m-3 5h3m-2-13h3m-3 20h3m-1-6h3m-3-1h3m-3-5h3m-2 5h3m-2 8h3m-3-21h3m-3 5h3m-2-3h3m-2 14h3m-2 2h3m-3 5h3m-3-10h3m-2-1h3m-3-7h3m-1 6h3m-2 12h3m-2-15h3m-3 0h3m-3-7h3m-1 8h3m-1-5h3m-3 7h3m-3-10h3m-2 22h3m-3-20h3m-1-2h3m-3 4h3m-3 10h3m-3-9h3m-2 0h3m-3-6h3m-3 1h3m-2 4h3m-2 1h3m-3-5h3m-3 1h3m-2 7h3m-3-6h3m-1 9h3m-2 7h3m-3 2h3m-3-7h3m-1-7h3m-2 9h3m1 4h3m-3-11h3m-3 12h3m0-5h3m-2-4h3m-2-11h3m-1 16h3m-3 2h3m-2-2h3m1 6h3m-3-21h3m5 16h3m-2 1h3m0-16h3m10-1h3m-2 18h3m20-4h3m0-12h3m-3 32h3m-41 0h3m-4-10h3m-7 5h3m-12-5h3m-6 1h3m-8 10h3m-4-12h3m-5 14h3m-7-11h3m-6 2h3m-6-5h3m-3 9h3m-5 13h3m-5-13h3m-5 6h3m-3 1h3m-4-2h3m-6 0h3m-6-10h3m-4 0h3m-4 5h3m-3 9h3m-4-11h3m-4 2h3m-5-6h3m-3 2h3m-4 0h3m-6-5h3m-4 1h3m-3 8h3m-3 4h3m-4-10h3m-3 4h3m-3-5h3m-4 4h3m-4-3h3m-3 13h3m-3-15h3m-4 4h3m-3-3h3m-3 11h3m-3 8h3m-3-21h3m-4 13h3m-3-8h3m-3 10h3m-3-13h3m-3 1h3m-4-1h3m-3 6h3m-3 6h3m-4-2h3m-3-13h3m-3 22h3m-3-11h3m-3-3h3m-4 5h3m-3-7h3m-3 4h3m-4 1h3m-3-10h3m-3 1h3m-4 0h3m-3-1h3m-3 20h3m-4-16h3m-3 1h3m-3-5h3m-4 17h3m-3-5h3m-3 8h3m-3-9h3m-4-2h3m-3-8h3m-4 10h3m-3-8h3m-3-1h3m-4 15h3m-3-14h3m-3 0h3m-3 5h3m-4 14h3m-3-1h3m-3-10h3m-3-7h3m-3-3h3m-3 5h3m-4-1h3m-3 0h3m-4 10h3m-3-13h3m-3 5h3m-3-2h3m-3 4h3m-3 5h3m-4-10h3m-3-1h3m-3 9h3m-3 0h3m-4-1h3m-3 5h3m-3-9h3m-3-4h3m-4-1h3m-3 6h3m-3-8h3m-3 9h3m-3-8h3m-3 1h3m-3 15h3m-3-8h3m-4-5h3m-3 10h3m-3-5h3m-3-8h3m-3 8h3m-3-6h3m-4-3h3m-3 11h3m-4-6h3m-3-3h3m-3 2h3m-3 14h3m-4-5h3m-3 2h3m-3 2h3m-3-6h3m-3-4h3m-3 1h3m-3 0h3m-4 13h3m-3 0h3m-3-4h3m-3-7h3m-3 2h3m-4 9h3m-3-8h3m-3-1h3m-4 4h3m-3-14h3m-3 8h3m-3-8h3m-3 0h3m-3 9h3m-3 0h3m-4 1h3m-3-4h3m-3 6h3m-3-11h3m-3 5h3m-3 13h3m-4 0h3m-3-9h3m-3-12h3m-4 17h3m-3-5h3m-4-4h3m-3 14h3m-3-15h3m-3 10h3m-3 5h3m-3-21h3m-3 21h3m-3-15h3m-3-3h3m-4-2h3m-4 0h3m-3 9h3m-3 7h3m-3-8h3m-4-7h3m-3 4h3m-3 11h3m-4-1h3m-3-5h3m-3-6h3m-4 10h3m-3 5h3m-3-16h3m-3 7h3m-3 9h3m-4-1h3m-3-1h3m-4-8h3m-3 11h3m-3-7h3m-3-8h3m-3-5h3m-4 6h3m-3 2h3m-4 2h3m-3-4h3m-3 13h3m-3-20h3m-3 12h3m-3 2h3m-4 0h3m-4-7h3m-3-9h3m-3 3h3m-3 8h3m-4 2h3m-3-6h3m-3 9h3m-4 7h3m-3-12h3m-3 7h3m-4-3h3m-3 0h3m-4 3h3m-3-8h3m-3 12h3m-4-4h3m-4-5h3m-4 6h3m-5-4h3m-4 6h3m-3 0h3m-4 1h3m-4-21h3m-3 19h3m-4-9h3m-3 9h3m-5 2h3m-6-21h3m-4 7h3m-7 8h3m-5 5h3m-4 1h3m-8-9h3m-7 30h3m0 2h3m-2-15h3m-2 12h3m-3-7h3m0 1h3m-3 8h3m-3 2h3m-2-7h3m-2-2h3m-3 10h3m-3-9h3m-3-12h3m-2 19h3m-1-17h3m-2 8h3m-1 9h3m-3-15h3m-2 1h3m-3-5h3m-3 14h3m-3 3h3m-2-16h3m-2 19h3m-2-11h3m-2-9h3m-3 16h3m-3 1h3m-2 4h3m-3-5h3m-2-1h3m-3-6h3m-2-8h3m-3 2h3m-3 11h3m-3 3h3m-3 0h3m-3 2h3m-3-11h3m-2-7h3m-3-3h3m-3 20h3m-2-3h3m-3 1h3m-3-3h3m-2-5h3m-3-9h3m-3 9h3m-3 9h3m-3-7h3m-3 10h3m-3-8h3m-2-2h3m-3-3h3m-3-4h3m-3 14h3m-2-5h3m-3-8h3m-3 5h3m-2-11h3m-3 22h3m-2-17h3m-3 7h3m-2-3h3m-3 10h3m-3-16h3m-3 5h3m-3 9h3m-3-16h3m-3 4h3m-2 4h3m-3 4h3m-3-10h3m-3 6h3m-2 13h3m-3-22h3m-3 7h3m-3-6h3m-2-1h3m-3 14h3m-3-9h3m-2 2h3m-3 13h3m-2-15h3m-3 7h3m-2 9h3m-3-17h3m-3 15h3m-3-1h3m-2-5h3m-3 0h3m-2-7h3m-2 16h3m-3-2h3m-3-6h3m-3 4h3m-3-5h3m-3 6h3m-3-12h3m-2-3h3m-3 11h3m-2-8h3m-3 16h3m-3-1h3m-3-4h3m-3 3h3m-3 2h3m-2-3h3m-3-12h3m-3 11h3m-2 1h3m-3-2h3m-3-2h3m-3-3h3m-3-10h3m-2 12h3m-3-8h3m-3 12h3m-2 3h3m-3 0h3m-2-3h3m-3-4h3m-2-12h3m-3 6h3m-3 13h3m-3-22h3m-3 1h3m-2 0h3m-2 12h3m-2-12h3m-3 1h3m-3 0h3m-2 2h3m-2 4h3m-3 9h3m0-15h3m-2 17h3m-2-14h3m-3 1h3m-3-1h3m-3 0h3m-2 2h3m-1 5h3m1-6h3m-2-2h3m-1-1h3m-3-2h3m-2 14h3m-2-15h3m0 17h3m-2-11h3m2 14h3m0-12h3m-2 3h3m7-7h3m10 0h3m5 2h3m-3-2h3m1 15h3m1-13h3m2 4h3m23 1h3m16-1h3m-63 31h3m-9-12h3m-12 5h3m-6-10h3m-17 13h3m-20-3h3m-11-4h3m-8 16h3m-4-20h3m-4 5h3m-3-7h3m-3 11h3m-6-4h3m-5-6h3m-3 6h3m-3-6h3m-5-1h3m-3 5h3m-4 5h3m-5-5h3m-4 4h3m-4-7h3m-3 5h3m-3 1h3m-5-2h3m-3 7h3m-4-9h3m-3-2h3m-3 6h3m-3 0h3m-3 0h3m-3 12h3m-4-18h3m-4 2h3m-3 8h3m-4 4h3m-3 3h3m-3-19h3m-4 12h3m-4-8h3m-3 0h3m-4-2h3m-4 3h3m-3 16h3m-3-10h3m-3-9h3m-3 5h3m-4 7h3m-3 4h3m-3-2h3m-4 6h3m-5-22h3m-3 1h3m-3 22h3m-3-23h3m-4 1h3m-3 0h3m-4 0h3m-3 14h3m-3-14h3m-4 5h3m-4-1h3m-3-2h3m-3 4h3m-3-6h3m-3 6h3m-4-1h3m-3 6h3m-3-2h3m-3-6h3m-3 0h3m-4 2h3m-3 9h3m-4-8h3m-3-1h3m-3-2h3m-4-1h3m-3-2h3m-4 7h3m-3 14h3m-4-21h3m-3 14h3m-3-13h3m-5 4h3m-4 3h3m-4-2h3m-3-1h3m-3 2h3m-4-4h3m-3 1h3m-3 18h3m-3-2h3m-3-18h3m-3 11h3m-8-10h3m-3 14h3m-4-5h3m-3 2h3m-3-10h3m-4-2h3m-4 18h3m-5-16h3m-3 10h3m-4-4h3m-5 6h3m-4-7h3m-5 11h3m-5-17h3m-6 11h3m-5-5h3m-3 2h3m-3-1h3m-4 24h3m-2 4h3m-2-7h3m-2-3h3m-1 9h3m-2-5h3m-1 5h3m-2-9h3m-1-2h3m-1 4h3m-3 4h3m-3 2h3m-2-12h3m2 6h3m-3-1h3m-3-1h3m2-3h3m-3-1h3m-1 17h3m-2-17h3m-3 16h3m0-8h3m-3-6h3m-1 7h3m-2-7h3m-2 14h3m-2-2h3m-2-15h3m-3 11h3m-1-11h3m-2 6h3m2-6h3m1 1h3m1 18h3m0-16h3m4 4h3m-2 0h3m10-2h3m40 8h3m-101 13h3m-7 1h3m-6 2h3" stroke="#2a3aff" stroke-width="3.2" stroke-opacity="0.6"/>
<g filter="url(#blur1)">
<ellipse cx="145.3" cy="621.9" rx="13" ry="3.8" fill="#1424ff" transform="rotate(-50 145.3 621.9)"/>
<ellipse cx="145.3" cy="621.9" rx="10.8" ry="3.6" fill="#0050ff" transform="rotate(-50 145.3 621.9)"/>
<ellipse cx="145.3" cy="621.9" rx="8.4" ry="3.1" fill="#00a8ff" transform="rotate(-50 145.3 621.9)"/>
<ellipse cx="145.3" cy="621.9" rx="6.3" ry="2.5" fill="#10d8a0" transform="rotate(-50 145.3 621.9)"/>
<ellipse cx="145.3" cy="621.9" rx="4.5" ry="2" fill="#40e040" transform="rotate(-50 145.3 621.9)"/>
<ellipse cx="145.3" cy="621.9" rx="2.8" ry="1.3" fill="#a8e010" transform="rotate(-50 145.3 621.9)"/>
<ellipse cx="145.3" cy="621.9" rx="1.5" ry="0.8" fill="#e0a000" transform="rotate(-50 145.3 621.9)"/>
<ellipse cx="145.3" cy="621.9" rx="0.8" ry="0.4" fill="#e04000" transform="rotate(-50 145.3 621.9)"/>
<ellipse cx="163.5" cy="596" rx="5.6" ry="1.6" fill="#1424ff" transform="rotate(-3 163.5 596)"/>
<ellipse cx="163.5" cy="596" rx="2.4" ry="0.8" fill="#0050ff" transform="rotate(-3 163.5 596)"/>
</g>
<line x1="156.5" y1="576.5" x2="156.5" y2="644.2" stroke="#555" stroke-width="0.8"/>
<line x1="127.5" y1="610.5" x2="194.8" y2="610.5" stroke="#555" stroke-width="0.8"/>
<line x1="129" y1="644.2" x2="129" y2="645.4" stroke="#999" stroke-width="0.4"/>
<text x="129" y="648.5" font-size="2.6" fill="#888" text-anchor="middle">10<tspan dy="-1" font-size="1.8">1</tspan></text>
<line x1="139.7" y1="644.2" x2="139.7" y2="645.4" stroke="#999" stroke-width="0.4"/>
<text x="139.7" y="648.5" font-size="2.6" fill="#888" text-anchor="middle">10<tspan dy="-1" font-size="1.8">2</tspan></text>
<line x1="150.4" y1="644.2" x2="150.4" y2="645.4" stroke="#999" stroke-width="0.4"/>
<text x="150.4" y="648.5" font-size="2.6" fill="#888" text-anchor="middle">10<tspan dy="-1" font-size="1.8">3</tspan></text>
<line x1="161.2" y1="644.2" x2="161.2" y2="645.4" stroke="#999" stroke-width="0.4"/>
<text x="161.2" y="648.5" font-size="2.6" fill="#888" text-anchor="middle">10<tspan dy="-1" font-size="1.8">4</tspan></text>
<line x1="171.9" y1="644.2" x2="171.9" y2="645.4" stroke="#999" stroke-width="0.4"/>
<text x="171.9" y="648.5" font-size="2.6" fill="#888" text-anchor="middle">10<tspan dy="-1" font-size="1.8">5</tspan></text>
<line x1="182.6" y1="644.2" x2="182.6" y2="645.4" stroke="#999" stroke-width="0.4"/>
<text x="182.6" y="648.5" font-size="2.6" fill="#888" text-anchor="middle">10<tspan dy="-1" font-size="1.8">6</tspan></text>
<line x1="193.3" y1="644.2" x2="193.3" y2="645.4" stroke="#999" stroke-width="0.4"/>
<text x="193.3" y="648.5" font-size="2.6" fill="#888" text-anchor="middle">10<tspan dy="-1" font-size="1.8">7</tspan></text>
<line x1="126.3" y1="642.7" x2="127.5" y2="642.7" stroke="#999" stroke-width="0.4"/>
<text x="125.3" y="642.7" font-size="2.6" fill="#888" text-anchor="middle" transform="rotate(-90 125.3 642.7)">10<tspan dy="-1" font-size="1.8">1</tspan></text>
<line x1="126.3" y1="629.8" x2="127.5" y2="629.8" stroke="#999" stroke-width="0.4"/>
<text x="125.3" y="629.8" font-size="2.6" fill="#888" text-anchor="middle" transform="rotate(-90 125.3 629.8)">10<tspan dy="-1" font-size="1.8">2</tspan></text>
<line x1="126.3" y1="616.8" x2="127.5" y2="616.8" stroke="#999" stroke-width="0.4"/>
<text x="125.3" y="616.8" font-size="2.6" fill="#888" text-anchor="middle" transform="rotate(-90 125.3 616.8)">10<tspan dy="-1" font-size="1.8">3</tspan></text>
<line x1="126.3" y1="603.9" x2="127.5" y2="603.9" stroke="#999" stroke-width="0.4"/>
<text x="125.3" y="603.9" font-size="2.6" fill="#888" text-anchor="middle" transform="rotate(-90 125.3 603.9)">10<tspan dy="-1" font-size="1.8">4</tspan></text>
<line x1="126.3" y1="590.9" x2="127.5" y2="590.9" stroke="#999" stroke-width="0.4"/>
<text x="125.3" y="590.9" font-size="2.6" fill="#888" text-anchor="middle" transform="rotate(-90 125.3 590.9)">10<tspan dy="-1" font-size="1.8">5</tspan></text>
<line x1="126.3" y1="578" x2="127.5" y2="578" stroke="#999" stroke-width="0.4"/>
<text x="125.3" y="578" font-size="2.6" fill="#888" text-anchor="middle" transform="rotate(-90 125.3 578)">10<tspan dy="-1" font-size="1.8">6</tspan></text>
<text x="194.3" y="584.1" font-size="8.4" text-anchor="end">9.69%</text>
<text x="118.9" y="610.4" font-size="8.6" text-anchor="middle" transform="rotate(-90 118.9 610.4)">PI-A</text>
<text x="161.2" y="657" font-size="8.6" text-anchor="middle">FITC-A</text>
<rect x="40.5" y="662.5" width="67.3" height="67.7" fill="#fff" stroke="#b4b4b4" stroke-width="0.8"/>
<path transform="scale(.25)" d="M295 2657h3m17-3h3m62 30h3m-42-19h3m-16 9h3m-38-2h3m-7 10h3m-37-16h3m-11 20h3m12 22h3m1-5h3m0 1h3m4-11h3m-3 11h3m4 3h3m-2-6h3m-3-8h3m-3 14h3m0-13h3m0 9h3m-3 0h3m-1 7h3m-2-18h3m-2 19h3m-3-7h3m-2 3h3m-3 2h3m-2-3h3m-2-4h3m-2 2h3m-2 0h3m-2-1h3m-2-12h3m-3-3h3m0 7h3m-3 14h3m-3-14h3m-2 5h3m-2 9h3m-3-19h3m-2 13h3m2 6h3m-2 0h3m-1-5h3m-2 6h3m-2-11h3m-3 7h3m-3-5h3m-2 8h3m-3-10h3m1 12h3m1-5h3m0-3h3m-3 6h3m-2 0h3m0-7h3m-2 1h3m-2-1h3m1-9h3m-2 6h3m-2 8h3m-2-14h3m-1 16h3m1-8h3m-2-9h3m-10 26h3m-4 6h3m-4 11h3m-4-1h3m-3 0h3m-6-4h3m-5-10h3m-4 9h3m-5 2h3m-3-4h3m-5-1h3m-4-13h3m-4 6h3m-3 13h3m-3-19h3m-8 9h3m-3-6h3m-6 2h3m-4 7h3m-4-5h3m-3 10h3m-3-5h3m-4 4h3m-4-4h3m-3-4h3m-4 12h3m-4-1h3m-3-7h3m-3 1h3m-4 6h3m-3-16h3m-4 19h3m-3-7h3m-3 7h3m-4-19h3m-4 8h3m-3-4h3m-4 13h3m-3-9h3m-3 7h3m-4-10h3m-3-1h3m-3 15h3m-4-6h3m-3-8h3m-3 9h3m-3-15h3m-3 9h3m-4-2h3m-4 0h3m-3 8h3m-3-4h3m-4-10h3m-3 19h3m-3-14h3m-4 5h3m-3 2h3m-4-3h3m-3-7h3m-4 7h3m-3-3h3m-3 9h3m-3 3h3m-3-19h3m-4 3h3m-3 17h3m-3-14h3m-3-5h3m-4 16h3m-3-12h3m-3 6h3m-4-1h3m-3-5h3m-3 10h3m-3-11h3m-4 6h3m-4-1h3m-3-8h3m-3 6h3m-3-10h3m-4 7h3m-4 5h3m-3 11h3m-3-3h3m-3-18h3m-4-2h3m-3 18h3m-3-5h3m-3 3h3m-3 2h3m-3-7h3m-4 12h3m-3-5h3m-3 5h3m-3-2h3m-4-9h3m-3-6h3m-3 14h3m-3 1h3m-4-2h3m-4 3h3m-3-6h3m-4 4h3m-3-11h3m-3 1h3m-4-1h3m-3 10h3m-3-16h3m-4 2h3m-3 14h3m-3-12h3m-4 6h3m-4 10h3m-4 0h3m-3-16h3m-4-3h3m-3 11h3m-4-1h3m-3 4h3m-5-7h3m-4-6h3m-3 18h3m-3-10h3m-3-7h3m-3 17h3m-5-5h3m-3-11h3m-3 2h3m-4 14h3m-7-10h3m-3 10h3m-4-2h3m-4-17h3m-3 16h3m-4 0h3m-5 2h3m-3-16h3m-8 13h3m-11-7h3m-4 10h3m-4-7h3m-16 1h3m-15 7h3m-12-8h3m-8 18h3m2-1h3m8 11h3m0-11h3m-1 15h3m-3-7h3m-2 7h3m-1-3h3m4-5h3m-3-11h3m0 4h3m-2 2h3m-1 3h3m-1 3h3m-1 1h3m6-8h3m-2 6h3m-2-5h3m-2 11h3m-2-10h3m-3-4h3m-2 9h3m-2-16h3m1 5h3m-1-2h3m-3 2h3m-1 14h3m-3-6h3m-1-8h3m-3 3h3m-3 4h3m-3 4h3m-2-2h3m-3 3h3m-3 3h3m-3-4h3m-3 1h3m-1 0h3m-3-9h3m-2-8h3m-2 22h3m-3-15h3m-3-4h3m-3 1h3m-1 0h3m-3-2h3m0 7h3m-3 14h3m-2-18h3m-3-4h3m-2 7h3m-1 15h3m-3-10h3m-3-13h3m-3 21h3m-2-18h3m-3-3h3m-3 20h3m-1-4h3m-2-3h3m-3 4h3m-3-2h3m-3-11h3m-2 11h3m-2-15h3m-3 13h3m-3 5h3m-2-9h3m-3-5h3m-2 9h3m-3-2h3m-3 12h3m-3-21h3m-3 12h3m-1-13h3m-3 9h3m-3-4h3m-2 8h3m-3-10h3m-3-4h3m-3 16h3m-1 3h3m-3-17h3m-2 17h3m-2-1h3m-3-13h3m-3 6h3m-2-2h3m-3-3h3m-2 17h3m-3-18h3m-3 0h3m-2 1h3m-2-2h3m-2 1h3m-1-3h3m-2 0h3m-3 9h3m-2 7h3m-3-11h3m-2 8h3m-3 0h3m-2-13h3m-3 19h3m-2-14h3m-3-3h3m-2-2h3m-3 7h3m-1-7h3m-3 14h3m-2-3h3m-2-9h3m-3 3h3m-3 14h3m-1-21h3m-1 3h3m-3 8h3m0 6h3m-2-15h3m2 9h3m6-6h3m-9 23h3m-8 7h3m-11 1h3m-13 2h3m-5-9h3m-8 4h3m-4-6h3m-5 1h3m-6 7h3m-5-10h3m-4 5h3m-4-6h3m-4 13h3m-3 2h3m-5 1h3m-3-13h3m-4 13h3m-4-15h3m-5 6h3m-3-6h3m-3 5h3m-3 0h3m-3-6h3m-6 2h3m-3 6h3m-4 9h3m-4-1h3m-4 6h3m-3-3h3m-3-5h3m-4 5h3m-3-4h3m-3 7h3m-4-11h3m-3 2h3m-4-1h3m-4 8h3m-5-17h3m-3 20h3m-4-5h3m-5-14h3m-3 11h3m-4-11h3m-3 4h3m-3 5h3m-4 2h3m-4 8h3m-4-8h3m-3-1h3m-4 7h3m-5-20h3m-4 14h3m-3 7h3m-3-17h3m-4 14h3m-3-4h3m-4-11h3m-4-1h3m-3 12h3m-5 2h3m-5 1h3m-5-17h3m-4 2h3m-3 8h3m-5-6h3m-6 11h3m-3 1h3m-3 3h3m-4-5h3m-3-9h3m-3 10h3m-6 3h3m-4-5h3m-3 9h3m-3-3h3m-4 3h3m-4-16h3m-7 8h3m-6 5h3m-7 3h3m-13-15h3m-6 12h3m-6-1h3m-20 11h3m5 10h3m2-5h3m1-7h3m-1 7h3m-1 4h3m-3 0h3m-2-10h3m3 16h3m-2-4h3m-2 1h3m-2 3h3m-3-15h3m-2 11h3m-3 0h3m-2-11h3m-3 10h3m-2 3h3m-3 4h3m-3-18h3m-3 18h3m-2-21h3m-2 15h3m-3-13h3m-2 6h3m0 6h3m-2 6h3m-3-7h3m-2-1h3m-3-1h3m-3-12h3m-3 1h3m-2 7h3m-3 6h3m-3 3h3m-2-8h3m-2 2h3m-3-8h3m-2 9h3m-3 2h3m-3-5h3m-2 13h3m-3-8h3m-3 1h3m-3-1h3m-3-12h3m-2 13h3m-2 3h3m-3-2h3m-2 4h3m-3-4h3m-2-3h3m-2 0h3m-3 0h3m-2 3h3m-3-4h3m-3 9h3m-2-6h3m-3 6h3m-3-3h3m-3 3h3m-2-12h3m-3 5h3m-3 1h3m-3-15h3m-3 8h3m-2 9h3m-3-10h3m-3-3h3m-3 9h3m-3 2h3m-3-12h3m-2 18h3m-3-12h3m-2 3h3m-3 8h3m-3 1h3m-2-17h3m-3 9h3m-3 0h3m-2-7h3m-3 0h3m-3 7h3m-3 5h3m-3-12h3m-2 9h3m-2-16h3m-3 22h3m-3-5h3m-3-1h3m-2-13h3m-3 15h3m-2-2h3m-3 1h3m-2-4h3m-3 8h3m-2-2h3m-3-2h3m-3-16h3m-3 18h3m-2-4h3m-3-7h3m-3 11h3m-3 3h3m-2-2h3m-3-20h3m-3 3h3m-2 3h3m-3 4h3m-3-3h3m-3 3h3m-3-8h3m-2 12h3m-2 0h3m-3-2h3m-3-3h3m-1-7h3m-3 20h3m-3-16h3m-2 17h3m-3-17h3m-2 11h3m-1-15h3m-3 10h3m-3 0h3m-2 4h3m-3-3h3m-2-1h3m-3-1h3m-3 9h3m-1-5h3m-3-7h3m-3-6h3m-2 7h3m7-8h3m-2 10h3m-1 4h3m-1-15h3m-1 0h3m-2 21h3m1-20h3m-1 19h3m-2-15h3m3 13h3m-1-2h3m9-4h3m-4 28h3m-12-3h3m-5-11h3m-4 3h3m-4-2h3m-3-1h3m-5 21h3m-6-1h3m-8-9h3m-4 4h3m-3 6h3m-4-17h3m-3 5h3m-5 5h3m-9-11h3m-4-2h3m-4 14h3m-3-4h3m-4 8h3m-4-14h3m-5 8h3m-4-8h3m-5 11h3m-3-8h3m-4-5h3m-5 4h3m-6-8h3m-4 7h3m-3-4h3m-5-2h3m-4 3h3m-3-4h3m-4 15h3m-4-12h3m-4 4h3m-3 1h3m-4 6h3m-3-1h3m-4-9h3m-5-5h3m-3 1h3m-3 0h3m-5 9h3m-4 0h3m-3 2h3m-3-11h3m-3 7h3m-4-1h3m-3 2h3m-3-9h3m-4 13h3m-3 2h3m-4-12h3m-3 15h3m-3-10h3m-4-3h3m-3 8h3m-4-13h3m-3 6h3m-3-6h3m-4 2h3m-3 20h3m-4-7h3m-3-12h3m-4-1h3m-3 16h3m-4 1h3m-3-18h3m-4 3h3m-3 9h3m-4 0h3m-3-1h3m-3 0h3m-3 7h3m-3 2h3m-3-18h3m-3 19h3m-3-5h3m-3-15h3m-4 6h3m-3-8h3m-3 19h3m-3-17h3m-3 10h3m-3-6h3m-3 14h3m-3 1h3m-4-15h3m-3 11h3m-3-4h3m-3-5h3m-4 3h3m-3-6h3m-3-2h3m-3 9h3m-4 3h3m-3-9h3m-3-2h3m-3 15h3m-3 3h3m-4-17h3m-3 13h3m-3-18h3m-3 19h3m-3 2h3m-4-5h3m-3-8h3m-3 11h3m-3-7h3m-3-1h3m-4 0h3m-3-4h3m-3-3h3m-4 15h3m-3-3h3m-4-13h3m-3 9h3m-3 11h3m-3-3h3m-3-20h3m-4 6h3m-3 1h3m-3 12h3m-3 3h3m-3-19h3m-3 16h3m-4 2h3m-3-13h3m-3 0h3m-4 13h3m-4 1h3m-3-18h3m-3 2h3m-3 14h3m-3-16h3m-4 16h3m-3-7h3m-3-9h3m-3 15h3m-4-10h3m-3 4h3m-3 1h3m-3-5h3m-3 5h3m-3-4h3m-3 4h3m-4-12h3m-3 8h3m-3 11h3m-3-12h3m-3 2h3m-5 6h3m-3 6h3m-3-20h3m-4-1h3m-3 19h3m-3 2h3m-3-18h3m-3 18h3m-4 0h3m-3-9h3m-3 9h3m-3-3h3m-3-3h3m-3 4h3m-3-7h3m-4-12h3m-3 17h3m-3-9h3m-3 5h3m-4 4h3m-3-14h3m-3 10h3m-4 1h3m-3-13h3m-4 1h3m-3 16h3m-3-9h3m-3 9h3m-4-9h3m-3-7h3m-3 7h3m-3-7h3m-4 7h3m-3 8h3m-3-4h3m-3 3h3m-4-3h3m-4 4h3m-3 2h3m-3-3h3m-3-1h3m-3-2h3m-3 1h3m-3-4h3m-4 10h3m-3 0h3m-4-10h3m-3 11h3m-3-15h3m-4 10h3m-4 4h3m-4 0h3m-3-1h3m-4-8h3m-3-12h3m-4 18h3m-4-3h3m-4 0h3m-3 7h3m-4-8h3m-3 7h3m-3-13h3m-4 7h3m-4 1h3m-3 2h3m-5-4h3m-4-2h3m-5-4h3m-5 12h3m-4-3h3m-3-1h3m-7 0h3m-19 27h3m-2-12h3m-2 15h3m-3-10h3m-2 8h3m-1-13h3m-1 10h3m-3 5h3m-2-3h3m0 2h3m-3 1h3m-1-4h3m-2-1h3m-3-14h3m-3 9h3m-3 2h3m-2-5h3m-3 10h3m-3-13h3m-3 10h3m-1-13h3m-3 4h3m-3 4h3m-3 11h3m-2-6h3m-3 0h3m-3 1h3m-2 0h3m-3-4h3m-3 8h3m-3-6h3m-3-11h3m-2-3h3m-3 9h3m-3-7h3m-2-1h3m-2 12h3m-3-4h3m-3 9h3m-3-9h3m-2 7h3m-3-2h3m-3 4h3m-3-1h3m-2 2h3m-3-1h3m-3 1h3m-3-5h3m-2 7h3m-2-4h3m-3-11h3m-3-6h3m-2 5h3m-3-4h3m-3 19h3m-3-12h3m-3 4h3m-3-2h3m-2-9h3m-3 14h3m-3-1h3m-3-11h3m-3 0h3m-3 7h3m-2 4h3m-3-8h3m-3 3h3m-2-11h3m-3 16h3m-3-7h3m-3-3h3m-3-5h3m-3 7h3m-3 8h3m-2-15h3m-3 22h3m-3-7h3m-3 2h3m-3-15h3m-2 18h3m-3-19h3m-3 21h3m-3-14h3m-2 14h3m-3-16h3m-3 16h3m-2-10h3m-3 7h3m-3 0h3m-3-4h3m-3-12h3m-3 3h3m-2 7h3m-3 0h3m-2-14h3m-3 9h3m-3 0h3m-3 14h3m-3-7h3m-3 7h3m-2-18h3m-3 0h3m-3 14h3m-3-5h3m-2 6h3m-3-15h3m-3 5h3m-3 1h3m-3 7h3m-2-3h3m-3-13h3m-3 3h3m-3 6h3m-2-6h3m-3 12h3m-3 1h3m-3-17h3m-3 13h3m-2-10h3m-3 13h3m-3-4h3m-3 10h3m-3-10h3m-2-2h3m-3-1h3m-3-8h3m-3-1h3m-3 1h3m-3-1h3m-2 12h3m-3 6h3m-3 1h3m-3-17h3m-3-1h3m-3 13h3m-3-14h3m-2 22h3m-3-23h3m-3 21h3m-2-6h3m-3-12h3m-2 15h3m-2-7h3m-2-5h3m-3-1h3m-2 13h3m-3-7h3m-3 0h3m-2-8h3m-3-2h3m-2 1h3m-3-1h3m-3 14h3m-3-15h3m-3 2h3m-3 6h3m-3 0h3m-2 2h3m-3-9h3m-3 7h3m-3-4h3m-1 10h3m-2-6h3m-3-8h3m-2 20h3m-3-3h3m-3-4h3m-2 9h3m-3-13h3m-3 2h3m-1 3h3m-3-9h3m-2 7h3m-3-8h3m-3 3h3m-2-2h3m-2 13h3m-3-17h3m-2 6h3m-3-3h3m-2 1h3m-1-5h3m-3 7h3m-3 12h3m-2-7h3m-3-8h3m-2 2h3m-3-5h3m-3-1h3m-2 7h3m0-3h3m-2-4h3m-2 8h3m-3-5h3m-2 10h3m2-8h3m-3-4h3m2 11h3m-2 0h3m0 4h3m9 2h3m-3-5h3m0-2h3m1-6h3m-3-3h3m-2 4h3m3-6h3m-2 20h3m-1 2h3m11-1h3m-1-20h3m3 0h3m-5 23h3m-43 2h3m-13 9h3m-3-10h3m-13 21h3m-4-15h3m-17-5h3m-7 0h3m-4 7h3m-3 7h3m-3 1h3m-4-7h3m-10 6h3m-4 0h3m-5-9h3m-4 15h3m-4-20h3m-4 2h3m-3-1h3m-5 12h3m-3-7h3m-3-5h3m-4 4h3m-3 8h3m-3 4h3m-3-14h3m-3 18h3m-3-23h3m-5 2h3m-4-1h3m-4 21h3m-3-2h3m-3-14h3m-4-6h3m-4 16h3m-3-2h3m-3 5h3m-4 0h3m-3 1h3m-4-6h3m-4-14h3m-3 1h3m-4 4h3m-4-5h3m-3 1h3m-5 13h3m-3-9h3m-3 17h3m-4-13h3m-4-2h3m-3-3h3m-3 12h3m-3-12h3m-4 16h3m-3-16h3m-3 14h3m-3-4h3m-3-12h3m-4 7h3m-3 11h3m-4-10h3m-4-9h3m-4 3h3m-4 15h3m-3-11h3m-3 6h3m-4 9h3m-3-20h3m-4 12h3m-3-1h3m-3 0h3m-3-9h3m-4 1h3m-3 15h3m-4 0h3m-3-18h3m-4-2h3m-4 0h3m-4-1h3m-3 19h3m-3-14h3m-4 10h3m-3-4h3m-4 7h3m-3-4h3m-4 9h3m-4-6h3m-5-12h3m-3 10h3m-3-6h3m-4 9h3m-4-16h3m-4 21h3m-3-7h3m-3-1h3m-4 2h3m-3 4h3m-4-7h3m-3-7h3m-5 3h3m-5-6h3m-4 16h3m-5-4h3m-3 1h3m-5-12h3m-10 13h3m-13 2h3m0 17h3m2-5h3m-1 5h3m-2 4h3m2 3h3m0 2h3m-1-12h3m-2 7h3m-2-14h3m-2 8h3m-1 2h3m0-4h3m-1-8h3m-2-1h3m-3 12h3m-2-1h3m-3-7h3m1 0h3m-2 3h3m-3-4h3m-3 0h3m0 1h3m1 9h3m-2-11h3m-2-1h3m-1 1h3m-3 14h3m0-5h3m1-10h3m4 4h3m7-3h3m32 18h3m-48 10h3m-10-2h3m-11 2h3m-43-6h3m-4 9h3m-9-2h3" stroke="#2a3aff" stroke-width="3.2" stroke-opacity="0.6"/>
<g filter="url(#blur1)">
<ellipse cx="59.4" cy="707.4" rx="12" ry="3.6" fill="#1424ff" transform="rotate(-50 59.4 707.4)"/>
<ellipse cx="59.4" cy="707.4" rx="10" ry="3.4" fill="#0050ff" transform="rotate(-50 59.4 707.4)"/>
<ellipse cx="59.4" cy="707.4" rx="7.8" ry="2.9" fill="#00a8ff" transform="rotate(-50 59.4 707.4)"/>
<ellipse cx="59.4" cy="707.4" rx="5.7" ry="2.3" fill="#10d8a0" transform="rotate(-50 59.4 707.4)"/>
<ellipse cx="59.4" cy="707.4" rx="4" ry="1.8" fill="#40e040" transform="rotate(-50 59.4 707.4)"/>
<ellipse cx="59.4" cy="707.4" rx="2" ry="1" fill="#a8e010" transform="rotate(-50 59.4 707.4)"/>
<ellipse cx="59.4" cy="707.4" rx="0.8" ry="0.4" fill="#e0a000" transform="rotate(-50 59.4 707.4)"/>
<ellipse cx="75.5" cy="682" rx="3" ry="2.5" fill="#1424ff" transform="rotate(-60 75.5 682)"/>
<ellipse cx="75.5" cy="682" rx="1.2" ry="1.2" fill="#0050ff" transform="rotate(-60 75.5 682)"/>
</g>
<line x1="69.5" y1="662.5" x2="69.5" y2="730.2" stroke="#555" stroke-width="0.8"/>
<line x1="40.5" y1="695.5" x2="107.8" y2="695.5" stroke="#555" stroke-width="0.8"/>
<line x1="42" y1="730.2" x2="42" y2="731.4" stroke="#999" stroke-width="0.4"/>
<text x="42" y="734.5" font-size="2.6" fill="#888" text-anchor="middle">10<tspan dy="-1" font-size="1.8">1</tspan></text>
<line x1="52.7" y1="730.2" x2="52.7" y2="731.4" stroke="#999" stroke-width="0.4"/>
<text x="52.7" y="734.5" font-size="2.6" fill="#888" text-anchor="middle">10<tspan dy="-1" font-size="1.8">2</tspan></text>
<line x1="63.4" y1="730.2" x2="63.4" y2="731.4" stroke="#999" stroke-width="0.4"/>
<text x="63.4" y="734.5" font-size="2.6" fill="#888" text-anchor="middle">10<tspan dy="-1" font-size="1.8">3</tspan></text>
<line x1="74.2" y1="730.2" x2="74.2" y2="731.4" stroke="#999" stroke-width="0.4"/>
<text x="74.2" y="734.5" font-size="2.6" fill="#888" text-anchor="middle">10<tspan dy="-1" font-size="1.8">4</tspan></text>
<line x1="84.9" y1="730.2" x2="84.9" y2="731.4" stroke="#999" stroke-width="0.4"/>
<text x="84.9" y="734.5" font-size="2.6" fill="#888" text-anchor="middle">10<tspan dy="-1" font-size="1.8">5</tspan></text>
<line x1="95.6" y1="730.2" x2="95.6" y2="731.4" stroke="#999" stroke-width="0.4"/>
<text x="95.6" y="734.5" font-size="2.6" fill="#888" text-anchor="middle">10<tspan dy="-1" font-size="1.8">6</tspan></text>
<line x1="106.3" y1="730.2" x2="106.3" y2="731.4" stroke="#999" stroke-width="0.4"/>
<text x="106.3" y="734.5" font-size="2.6" fill="#888" text-anchor="middle">10<tspan dy="-1" font-size="1.8">7</tspan></text>
<line x1="39.3" y1="728.7" x2="40.5" y2="728.7" stroke="#999" stroke-width="0.4"/>
<text x="38.3" y="728.7" font-size="2.6" fill="#888" text-anchor="middle" transform="rotate(-90 38.3 728.7)">10<tspan dy="-1" font-size="1.8">1</tspan></text>
<line x1="39.3" y1="715.8" x2="40.5" y2="715.8" stroke="#999" stroke-width="0.4"/>
<text x="38.3" y="715.8" font-size="2.6" fill="#888" text-anchor="middle" transform="rotate(-90 38.3 715.8)">10<tspan dy="-1" font-size="1.8">2</tspan></text>
<line x1="39.3" y1="702.8" x2="40.5" y2="702.8" stroke="#999" stroke-width="0.4"/>
<text x="38.3" y="702.8" font-size="2.6" fill="#888" text-anchor="middle" transform="rotate(-90 38.3 702.8)">10<tspan dy="-1" font-size="1.8">3</tspan></text>
<line x1="39.3" y1="689.9" x2="40.5" y2="689.9" stroke="#999" stroke-width="0.4"/>
<text x="38.3" y="689.9" font-size="2.6" fill="#888" text-anchor="middle" transform="rotate(-90 38.3 689.9)">10<tspan dy="-1" font-size="1.8">4</tspan></text>
<line x1="39.3" y1="676.9" x2="40.5" y2="676.9" stroke="#999" stroke-width="0.4"/>
<text x="38.3" y="676.9" font-size="2.6" fill="#888" text-anchor="middle" transform="rotate(-90 38.3 676.9)">10<tspan dy="-1" font-size="1.8">5</tspan></text>
<line x1="39.3" y1="664" x2="40.5" y2="664" stroke="#999" stroke-width="0.4"/>
<text x="38.3" y="664" font-size="2.6" fill="#888" text-anchor="middle" transform="rotate(-90 38.3 664)">10<tspan dy="-1" font-size="1.8">6</tspan></text>
<text x="107.3" y="670.1" font-size="8.4" text-anchor="end">11.06%</text>
<text x="31.9" y="696.4" font-size="8.6" text-anchor="middle" transform="rotate(-90 31.9 696.4)">PI-A</text>
<text x="74.2" y="743" font-size="8.6" text-anchor="middle">FITC-A</text>
<rect x="127.5" y="662.5" width="67.3" height="67.7" fill="#fff" stroke="#b4b4b4" stroke-width="0.8"/>
<path transform="scale(.25)" d="M649 2659h3m58 26h3m-5 1h3m-6-3h3m-8 2h3m-3-2h3m-12 1h3m-20 0h3m-4 2h3m-11-1h3m-12 1h3m-3-21h3m-13 19h3m-5-3h3m-28 4h3m-27-1h3m-51 0h3m-2 24h3m5 0h3m8-12h3m-3 3h3m12 3h3m-2-4h3m2 8h3m-2-5h3m0 10h3m-1-12h3m-3 4h3m2 6h3m-2-6h3m-2 1h3m-2-3h3m-3 4h3m-2 2h3m0-12h3m-2 11h3m-2 4h3m-3-4h3m0-7h3m-2 12h3m-2-8h3m-3-8h3m-1 14h3m-3-11h3m-2-9h3m0 2h3m-2 17h3m-3 3h3m1-3h3m-3-3h3m-2-3h3m-2 8h3m-3-2h3m-2-2h3m-3 2h3m-3 1h3m-1 1h3m-2-2h3m-3-7h3m-2 0h3m-1-3h3m-3 7h3m-1-2h3m-3-5h3m-3 11h3m-3-3h3m-2 0h3m-3-10h3m-1 1h3m-3 9h3m-1 1h3m-3-5h3m-2 7h3m-2-11h3m-2-7h3m-3 13h3m-2-4h3m-3-4h3m-2 3h3m-1-5h3m-2 12h3m-3 1h3m-3-1h3m-2-6h3m-2 8h3m-3-3h3m-2 0h3m-2 6h3m-3-2h3m-2-3h3m-2-11h3m-3 16h3m-2-10h3m-2 8h3m-3-1h3m-3 0h3m-3-7h3m-3 6h3m-2 1h3m-3-5h3m-3 6h3m-3-5h3m-2-14h3m-3 9h3m-3-10h3m-3 18h3m-3-3h3m-2-3h3m-3 5h3m-3-2h3m-2 3h3m-3-9h3m-2 11h3m-2-18h3m-3 6h3m-2-3h3m-3-3h3m-2 12h3m-3-5h3m-3 6h3m-3 6h3m-3-4h3m-3 2h3m-2 3h3m-3-3h3m-3 3h3m-3-8h3m-3 1h3m-2-12h3m-3 17h3m-3 2h3m-3-1h3m-1-12h3m-3 5h3m-3-7h3m-2 2h3m-3-10h3m-2 15h3m-3 5h3m-2-9h3m-2 4h3m-3-1h3m-2 7h3m-3-11h3m-3 9h3m-2-3h3m-3-12h3m-3 13h3m-3 2h3m-2-4h3m-1 3h3m-2 4h3m-2-8h3m-3 4h3m-2 3h3m-3-2h3m-3 2h3m-3-13h3m-3 9h3m-2 0h3m-1 5h3m-3 1h3m-3-1h3m-3-11h3m-1 8h3m-2-11h3m-3 12h3m-2-13h3m-3 6h3m-2 9h3m-2-10h3m-2 5h3m-3-3h3m-3 9h3m-3-2h3m-2-2h3m-3-6h3m-2-10h3m-1 17h3m-3-14h3m-2 13h3m-3-3h3m-1 7h3m-3-5h3m-2-3h3m-3 2h3m-3-1h3m-2 5h3m-2 1h3m-3-19h3m-2 17h3m-2 1h3m-2-18h3m-3 13h3m-2 4h3m-3-10h3m-3 6h3m-2 6h3m-3-4h3m0-5h3m-3 2h3m-3 7h3m-1-7h3m-3-4h3m-2 8h3m-3-6h3m-3 4h3m-1 6h3m-3-14h3m-2 6h3m-2-4h3m-3 2h3m-2 8h3m-2-9h3m-3 11h3m-2-12h3m-2 8h3m-1-2h3m-2 4h3m-2-14h3m-1 6h3m-3 5h3m-2-10h3m4 8h3m-3-2h3m-1 4h3m-1 5h3m0-2h3m-3-8h3m1-12h3m-1 12h3m-1 8h3m-3 1h3m1-6h3m-1 0h3m2 4h3m0 19h3m-10-4h3m-5 1h3m-14-9h3m-4 4h3m-8 1h3m-8 3h3m-4 1h3m-6-4h3m-4-6h3m-6 10h3m-5-2h3m-3-7h3m-3 7h3m-4-10h3m-7 3h3m-3 17h3m-5-15h3m-3 5h3m-4 9h3m-3-9h3m-3 0h3m-5 0h3m-5-6h3m-4 6h3m-4 11h3m-4-12h3m-3-1h3m-4 0h3m-3 4h3m-6-12h3m-3 2h3m-4 5h3m-4 7h3m-4-13h3m-3 5h3m-3 15h3m-3-12h3m-3-7h3m-3 7h3m-4-4h3m-3 6h3m-4-3h3m-6 3h3m-3-11h3m-4 8h3m-4-2h3m-3 5h3m-3 0h3m-4-5h3m-3 1h3m-4-5h3m-5-2h3m-4 17h3m-3-17h3m-3 4h3m-4-2h3m-3 12h3m-3-5h3m-4-5h3m-4 8h3m-3-8h3m-4 6h3m-3 9h3m-3-13h3m-4-3h3m-3 10h3m-3-11h3m-3 1h3m-4 11h3m-3 9h3m-4-17h3m-3 2h3m-3 0h3m-4 15h3m-3-21h3m-4 0h3m-3 0h3m-4 13h3m-3-2h3m-3 3h3m-3-8h3m-5-2h3m-4 0h3m-3-3h3m-3 1h3m-4-2h3m-3 0h3m-4 12h3m-4 0h3m-3-13h3m-3 5h3m-4 1h3m-3-1h3m-3 11h3m-4-17h3m-5 9h3m-3-6h3m-3 8h3m-3-3h3m-4-2h3m-3-6h3m-3 5h3m-3 4h3m-3-4h3m-4 9h3m-3-13h3m-3 2h3m-3 18h3m-4-16h3m-3-4h3m-3 0h3m-3 4h3m-4 6h3m-3-8h3m-3-3h3m-3 10h3m-3 12h3m-4-4h3m-3-16h3m-3 13h3m-3-11h3m-3 4h3m-4-1h3m-3 3h3m-4 4h3m-3-8h3m-3-2h3m-4 7h3m-3 8h3m-4-9h3m-3-10h3m-3 10h3m-3 12h3m-3-14h3m-4 9h3m-3-1h3m-3-15h3m-3 11h3m-3 3h3m-4-3h3m-3-11h3m-4 1h3m-3 18h3m-4-15h3m-3-4h3m-3 9h3m-4-5h3m-3 12h3m-3-12h3m-3 8h3m-4 5h3m-4-5h3m-3 6h3m-4-9h3m-3 8h3m-3-5h3m-4-7h3m-3-1h3m-3-3h3m-5 7h3m-4 0h3m-3 11h3m-3-15h3m-4 3h3m-3 13h3m-3-18h3m-3-3h3m-3 6h3m-3 6h3m-4-3h3m-3-7h3m-3 11h3m-3-6h3m-4-3h3m-4 7h3m-3-5h3m-3 2h3m-3 2h3m-4-10h3m-3 0h3m-4 12h3m-3-5h3m-4 15h3m-3-12h3m-3-1h3m-4-7h3m-3 20h3m-3-15h3m-3 10h3m-4-6h3m-3 0h3m-4 5h3m-3-3h3m-4-2h3m-4-7h3m-3-4h3m-3 11h3m-3-10h3m-3 1h3m-3 1h3m-3 9h3m-3 10h3m-4 1h3m-4-14h3m-3 4h3m-4 4h3m-3-12h3m-3 16h3m-3-14h3m-4 4h3m-4 6h3m-3-12h3m-3 14h3m-3-12h3m-4-4h3m-3 6h3m-4 2h3m-3-7h3m-4 4h3m-3 8h3m-4-15h3m-3 6h3m-3 7h3m-4-10h3m-4 4h3m-3 12h3m-5-12h3m-3 14h3m-4-10h3m-3-4h3m-3-4h3m-4 19h3m-4-17h3m-4 6h3m-4-9h3m-3 17h3m-5-6h3m-3-7h3m-4 8h3m-3-4h3m-3 6h3m-4-10h3m-6-6h3m-4 1h3m-3 17h3m-4-3h3m-3-3h3m-4-12h3m-4 4h3m-3 3h3m-4-8h3m-4 3h3m-5-2h3m-3 17h3m-6-3h3m-4-15h3m-3 20h3m-5-6h3m-3-4h3m-6-4h3m-3 3h3m-4-3h3m-4-4h3m-4 1h3m-4-3h3m-6 7h3m-4-1h3m-4 3h3m-10 11h3m-5 1h3m-7-21h3m-4 16h3m-9-12h3m-5 0h3m-4 19h3m-4-11h3m-8 10h3m-17-9h3m-5 10h3m-7-19h3m-6 7h3m-9-3h3m-16 20h3m-3 5h3m14 1h3m0 6h3m8-13h3m2 15h3m0 5h3m2-19h3m-1 16h3m5-16h3m-2 19h3m0-16h3m1 10h3m1 5h3m-2-7h3m2-2h3m-2-2h3m0 5h3m-2-9h3m0-3h3m-2 3h3m2 0h3m0 10h3m-1 0h3m-3-1h3m-3-5h3m-1-7h3m-3 11h3m-1 8h3m-3-6h3m-2-8h3m-2 14h3m-2-10h3m3-5h3m-2-6h3m-3 13h3m-1-10h3m-3 17h3m-3-7h3m-3-3h3m-3-7h3m-3-3h3m-2 18h3m-2-6h3m-2-14h3m-3 19h3m-2-13h3m-2-3h3m-2 14h3m0 3h3m-2-1h3m-3 1h3m-3 1h3m-1-11h3m-1 1h3m-3-11h3m-1 20h3m-3-8h3m-2 8h3m-3-1h3m-1-15h3m-3 13h3m-3-15h3m-3 17h3m0 1h3m-3-3h3m-2 0h3m-3 1h3m-2-13h3m-2 2h3m-2 12h3m-3 2h3m-3-21h3m-3 8h3m-2-8h3m-3 11h3m-2-11h3m-3 15h3m-3 0h3m-2-13h3m-2 4h3m-2 6h3m-2 11h3m-3-3h3m-2-2h3m-2-18h3m-1 2h3m-3 16h3m-2-17h3m-2 16h3m2-2h3m2 4h3m-3 1h3m-1-8h3m-1-3h3m-2 7h3m-2-9h3m1-1h3m7-4h3m-1 17h3m0-15h3m4 5h3m1-5h3m10 7h3m6-10h3m1 3h3m-29 41h3m-13-2h3m-10-15h3m-8 17h3m-6-11h3m-8 8h3m-4-7h3m-3-3h3m-6 7h3m-3-7h3m-7 9h3m-9-15h3m-5 17h3m-5-11h3m-5-7h3m-6 11h3m-5 6h3m-4-15h3m-3-1h3m-4 16h3m-4-9h3m-4-3h3m-3 1h3m-4 12h3m-4-4h3m-3-9h3m-4-1h3m-3 11h3m-4 4h3m-5-14h3m-3 8h3m-4-5h3m-3 6h3m-3 7h3m-4-4h3m-3-1h3m-3-15h3m-4 20h3m-5-5h3m-4 0h3m-3 5h3m-3-4h3m-4 2h3m-3-6h3m-6-11h3m-3-1h3m-5 10h3m-3-11h3m-3 5h3m-3 13h3m-3-13h3m-4 5h3m-4 5h3m-3 2h3m-3 5h3m-3-4h3m-3-2h3m-3-9h3m-4 6h3m-4 9h3m-3-7h3m-3-14h3m-4 5h3m-3 3h3m-3-3h3m-3 8h3m-4-8h3m-4 8h3m-3 0h3m-4-9h3m-3 6h3m-4 4h3m-3-8h3m-3 1h3m-3-8h3m-4 15h3m-3-7h3m-4-2h3m-3-1h3m-5 8h3m-3 7h3m-3-13h3m-4 3h3m-4 11h3m-3-18h3m-4 15h3m-3-18h3m-4 5h3m-3-6h3m-3 22h3m-3-7h3m-4 0h3m-4-1h3m-3-5h3m-3 4h3m-3-3h3m-3-1h3m-4 11h3m-4-2h3m-3-16h3m-4 17h3m-3-15h3m-3 1h3m-8 18h3m-7-3h3m-3-14h3m-4 8h3m-5 9h3m-3-17h3m-4 7h3m-3 5h3m-10-6h3m-6-1h3m-4-2h3m-7-2h3m-6 1h3m-3 1h3m-14 13h3m-3-17h3m-6 11h3m-10-4h3m-5 3h3m-5 8h3m-4-7h3m-6-2h3m-4-1h3m-3-13h3m-6 13h3m-13-2h3m-7-9h3m-4-2h3m18 43h3m7-8h3m5 2h3m1 8h3m-2-5h3m0-13h3m-2 9h3m1 4h3m-1-1h3m-1 8h3m-3-3h3m-3-17h3m-2 10h3m-1-1h3m-2-10h3m-3 0h3m-2 19h3m-3-7h3m-2 7h3m-2-5h3m-3-14h3m-3 17h3m-2 3h3m-2 1h3m-3-5h3m-2 2h3m-1 3h3m-3-15h3m-2 1h3m-3 8h3m-3-4h3m-2-2h3m-3 7h3m-3-8h3m-2 1h3m-3 9h3m-3-16h3m-2 14h3m-2 1h3m-3-13h3m-3 14h3m-3-12h3m-2 12h3m-3-4h3m-3 1h3m-2 4h3m-2-6h3m-3-11h3m-3 11h3m-3-15h3m-2 20h3m-3-11h3m-3-8h3m-3 17h3m-2-14h3m-3 18h3m-3-8h3m-3 7h3m-2-1h3m-3-9h3m-3 12h3m-2-10h3m-3-8h3m-3 18h3m-1-23h3m-2 22h3m-3-8h3m-2 6h3m-3-7h3m-2 9h3m-3-18h3m-3 18h3m-3-2h3m-3-2h3m-3-7h3m-2 11h3m-3-11h3m-3 7h3m-3 1h3m-3-10h3m-2-6h3m-3 17h3m-2-18h3m-3 17h3m-2-16h3m-3 20h3m-3-4h3m-3 1h3m-3 0h3m-2-20h3m-3 12h3m-3 0h3m-2-10h3m-3 10h3m-3 0h3m-3 8h3m-3-18h3m-2 12h3m-3-2h3m-3-7h3m-3 2h3m-2 1h3m-2-7h3m-3 12h3m-3 5h3m-3-12h3m-3-1h3m-2 9h3m-3 5h3m-3-10h3m-2 6h3m-3-1h3m-3 2h3m-3 1h3m-3 5h3m-3-18h3m-3 9h3m-2 10h3m-3-19h3m-3 7h3m-3 9h3m-2-16h3m-2 4h3m-2-8h3m-2 17h3m-3 6h3m-3-17h3m-3 1h3m-2 8h3m-3-11h3m-3 9h3m-2-3h3m-3-2h3m-3 5h3m-3-6h3m-3-2h3m-2 5h3m-3-4h3m-3 17h3m-3-7h3m0-11h3m-1 0h3m-2 12h3m-2-16h3m-3 3h3m-2-4h3m-3 11h3m-1-8h3m-3 16h3m-3-18h3m-3 4h3m-2 12h3m-2 4h3m-3-13h3m-3 11h3m-2-15h3m-2-3h3m-1 12h3m-2 6h3m3-4h3m-3 0h3m-3 5h3m-1-15h3m-2 12h3m-1-2h3m-2-10h3m-2 2h3m-2 7h3m-2-9h3m-3-4h3m0 22h3m-2-7h3m-3-3h3m-3 6h3m-2-18h3m-2 6h3m1 12h3m1 4h3m-2-10h3m0-6h3m-2 1h3m6-4h3m8 10h3m14 5h3m-12 16h3m-19-8h3m-3-2h3m-6 4h3m-5-5h3m-14 6h3m-8 7h3m-4-3h3m-13-2h3m-5 15h3m-5-1h3m-5-12h3m-4 13h3m-5-21h3m-5 9h3m-4 1h3m-5-7h3m-4 1h3m-9-6h3m-6 16h3m-3-10h3m-3 10h3m-3-12h3m-4 16h3m-3-16h3m-3-1h3m-5 6h3m-6-3h3m-3-4h3m-3 21h3m-4-23h3m-3 6h3m-3-2h3m-5 15h3m-3-3h3m-5-7h3m-3 9h3m-4-10h3m-3 0h3m-6 0h3m-3 3h3m-5-9h3m-3 14h3m-3-6h3m-3 9h3m-4-12h3m-3 13h3m-4-14h3m-3-6h3m-4 23h3m-3-22h3m-3 0h3m-4 11h3m-3 5h3m-3-17h3m-5 23h3m-3-22h3m-3 15h3m-3-9h3m-3 3h3m-3-8h3m-4 15h3m-3-2h3m-4-8h3m-3-1h3m-3-3h3m-3 5h3m-4 8h3m-4-13h3m-3 20h3m-3-21h3m-3 20h3m-3-4h3m-4-1h3m-3-6h3m-4-7h3m-3 7h3m-4 12h3m-3-23h3m-4 3h3m-3 4h3m-3-5h3m-4 1h3m-3 13h3m-4-5h3m-3 8h3m-3-12h3m-4 9h3m-3-2h3m-3 4h3m-3 1h3m-3-16h3m-4 14h3m-3 0h3m-3-16h3m-4 20h3m-3-10h3m-3 4h3m-3 8h3m-3-22h3m-4 1h3m-3 12h3m-3-2h3m-3 2h3m-3-14h3m-3 16h3m-5-1h3m-3-6h3m-3 4h3m-3-8h3m-3 18h3m-3-13h3m-3 8h3m-3-11h3m-3 1h3m-4 6h3m-3-12h3m-3 16h3m-3 2h3m-3-10h3m-3 7h3m-3 0h3m-4 3h3m-3-18h3m-3 17h3m-3-10h3m-3-5h3m-3 18h3m-4-14h3m-3-3h3m-4 7h3m-3 10h3m-3-11h3m-3 4h3m-4-3h3m-3-2h3m-3 6h3m-4-8h3m-3 10h3m-3-3h3m-3 3h3m-3-1h3m-3 2h3m-3 0h3m-4-16h3m-3 17h3m-3-8h3m-4 6h3m-3-1h3m-3 6h3m-3-8h3m-3 3h3m-3-1h3m-3-7h3m-3-3h3m-4 6h3m-3 4h3m-3 4h3m-3-13h3m-4-1h3m-3 6h3m-4 5h3m-3-4h3m-3 4h3m-3-4h3m-3 3h3m-4 1h3m-3-1h3m-3-12h3m-4 1h3m-3 6h3m-3 3h3m-3-1h3m-3 8h3m-3-19h3m-4 20h3m-3-18h3m-3 12h3m-3 3h3m-3-15h3m-3 3h3m-4 5h3m-3-6h3m-4 9h3m-3-13h3m-3 7h3m-3 11h3m-4-20h3m-3 8h3m-3 3h3m-3 9h3m-4-12h3m-3 0h3m-3 12h3m-3-16h3m-3 18h3m-3-5h3m-3 5h3m-3-12h3m-4-1h3m-3 7h3m-4-5h3m-3 4h3m-4-3h3m-3 1h3m-4-8h3m-4-1h3m-3 15h3m-3-2h3m-5-3h3m-3 6h3m-4-1h3m-3-3h3m-3-16h3m-3 3h3m-4 9h3m-3-7h3m-4 11h3m-4-8h3m-3-6h3m-3 12h3m-6 4h3m-3 2h3m-4 2h3m-5-1h3m-3-21h3m-5 20h3m-4-13h3m-5 10h3m-6-1h3m-6 2h3m-7-5h3m-7-4h3m-4 9h3m-7 3h3m-5-15h3m-7 38h3m-2-2h3m-2 0h3m-2-18h3m2 9h3m-2-2h3m-2-7h3m-3-1h3m0 19h3m0 1h3m-3-15h3m0 16h3m-3-20h3m-3 16h3m-2-11h3m-3 6h3m-1-4h3m-2-3h3m-2 7h3m-3-10h3m-3 12h3m-2 2h3m-3 3h3m-2-11h3m-3 1h3m-3 9h3m-3-15h3m-3 11h3m-2-6h3m-3-1h3m-3-1h3m-2 10h3m-3-12h3m-2 14h3m-3-7h3m-3-4h3m-3-7h3m-2 18h3m-2-14h3m-3 13h3m-3-1h3m-2 0h3m-3-7h3m-3 0h3m-3 3h3m-2-8h3m-2-1h3m-3 4h3m-3 5h3m-3-6h3m-3 5h3m-3-8h3m-3 11h3m-3-10h3m-3 17h3m-2-1h3m-3-8h3m-2-6h3m-3 8h3m-2-9h3m-3 6h3m-3-10h3m-2 8h3m-3 4h3m-3 3h3m-3 3h3m-3-18h3m-3 18h3m-3-16h3m-3-3h3m-2 12h3m-3-6h3m-3 15h3m-3-6h3m-2-8h3m-3-2h3m-3 1h3m-3 6h3m-3 2h3m-3 3h3m-2 6h3m-3-15h3m-2-5h3m-3 13h3m-2 5h3m-3-7h3m-3-1h3m-3 9h3m-3 0h3m-3-13h3m-3 6h3m-2-15h3m-3 11h3m-3 1h3m-3-2h3m-2 9h3m-3-1h3m-3 3h3m-3-20h3m-3 7h3m-3-8h3m-2 12h3m-3-5h3m-3 11h3m-3-14h3m-2 5h3m-3 13h3m-3-12h3m-3 0h3m-3-7h3m-2 2h3m-3-5h3m-3 21h3m-2-4h3m-2-5h3m-3 7h3m-3 4h3m-3-2h3m-2-15h3m-3-3h3m-3 3h3m-3 5h3m-3 8h3m-2-1h3m-3-5h3m-3-12h3m-2 13h3m-3-13h3m-3 0h3m-2 3h3m-3 11h3m-3-15h3m-3 16h3m-2 0h3m-3-3h3m-3-11h3m-3 18h3m-2-7h3m-2 6h3m-3-9h3m-3-4h3m-3 4h3m-2 1h3m-3-10h3m-3 8h3m-3-7h3m-3 1h3m-2 2h3m-3 0h3m-3 5h3m-2-1h3m-3-3h3m-3 0h3m-2-5h3m-3 12h3m-2 0h3m-3-1h3m-2 9h3m-2-3h3m-3-10h3m-3 2h3m-3-5h3m-2 2h3m-3 15h3m-2-7h3m-2-15h3m-3 20h3m-2-17h3m-3 11h3m-1 3h3m-3-6h3m-2 4h3m-3-8h3m1 4h3m-3-11h3m-3 0h3m-2 21h3m-3-6h3m-2-13h3m-3 21h3m-2-22h3m3 14h3m-3-4h3m4 0h3m1-3h3m9 0h3m10 14h3m-2-9h3m1 7h3m-2-20h3m-1 13h3m0 6h3m-2-8h3m13-4h3m50 12h3m-27 10h3m-72-4h3m-15 2h3m-5 14h3m-18-15h3m-5 3h3m-4 7h3m-21 10h3m-8-21h3m-4 1h3m-3-1h3m-3 6h3m-5 9h3m-6-5h3m-3-5h3m-3 4h3m-4 11h3m-4 1h3m-3-10h3m-4-10h3m-3 0h3m-4 10h3m-4-11h3m-3 2h3m-4 6h3m-4-4h3m-5 11h3m-3-2h3m-3 0h3m-4-2h3m-3-8h3m-5-2h3m-3 8h3m-3 12h3m-4-17h3m-3 9h3m-5 6h3m-3-4h3m-3-10h3m-4 10h3m-3 2h3m-3-10h3m-3-2h3m-3-5h3m-3 8h3m-4-8h3m-3 8h3m-3 7h3m-4 2h3m-3-12h3m-4 4h3m-3-3h3m-3-7h3m-4 0h3m-4 3h3m-3 5h3m-4-1h3m-3-4h3m-3 1h3m-5-3h3m-3 12h3m-4-6h3m-3 6h3m-3 5h3m-4-14h3m-3 10h3m-3 0h3m-4 1h3m-3 4h3m-4 2h3m-3-19h3m-4 0h3m-3 13h3m-3 8h3m-5-20h3m-3 19h3m-4-18h3m-4-4h3m-3 20h3m-4 2h3m-4-8h3m-3 4h3m-3-7h3m-3-7h3m-3 4h3m-4-4h3m-3-1h3m-4 4h3m-4 12h3m-3-10h3m-3 8h3m-4-3h3m-4-5h3m-4 11h3m-3-20h3m-4 20h3m-3-16h3m-4 3h3m-3 0h3m-4 10h3m-4-17h3m-3 21h3m-5-5h3m-4 3h3m-3-6h3m-6 10h3m-4-18h3m-4 14h3m-4-8h3m-4 3h3m-5 5h3m-4-1h3m-10-14h3m-4 30h3m5-8h3m-3 3h3m2 14h3m-3-7h3m-3 0h3m-3-4h3m-1-3h3m-3 0h3m0 13h3m-2-5h3m-3 2h3m-2-6h3m-3-8h3m-2 8h3m-3 5h3m0-7h3m-3-7h3m-3 0h3m-3 4h3m-2 12h3m-3-6h3m0 2h3m-1-1h3m-2-8h3m2 10h3m-2-9h3m1 1h3m-1-4h3m-2-1h3m-3 2h3m-2 9h3m-2-4h3m-3-4h3m-1 8h3m-1-2h3m0-6h3m0 2h3m-1-1h3m8-3h3m36-1h3m0 14h3m-59 13h3m-17 6h3m-11-7h3m-14 4h3m-6 4h3m-8-3h3m-6-6h3m-5 3h3m-3 6h3m-7 0h3" stroke="#2a3aff" stroke-width="3.2" stroke-opacity="0.6"/>
<g filter="url(#blur1)">
<ellipse cx="147.5" cy="706.3" rx="12.6" ry="3.8" fill="#1424ff" transform="rotate(-50 147.5 706.3)"/>
<ellipse cx="147.5" cy="706.3" rx="10.5" ry="3.6" fill="#0050ff" transform="rotate(-50 147.5 706.3)"/>
<ellipse cx="147.5" cy="706.3" rx="8.2" ry="3.1" fill="#00a8ff" transform="rotate(-50 147.5 706.3)"/>
<ellipse cx="147.5" cy="706.3" rx="6.1" ry="2.5" fill="#10d8a0" transform="rotate(-50 147.5 706.3)"/>
<ellipse cx="147.5" cy="706.3" rx="4.4" ry="2" fill="#40e040" transform="rotate(-50 147.5 706.3)"/>
<ellipse cx="147.5" cy="706.3" rx="2.7" ry="1.3" fill="#a8e010" transform="rotate(-50 147.5 706.3)"/>
<ellipse cx="147.5" cy="706.3" rx="1.5" ry="0.8" fill="#e0a000" transform="rotate(-50 147.5 706.3)"/>
<ellipse cx="147.5" cy="706.3" rx="0.7" ry="0.4" fill="#e04000" transform="rotate(-50 147.5 706.3)"/>
<ellipse cx="166.5" cy="678.3" rx="7.2" ry="2.3" fill="#1424ff" transform="rotate(-3 166.5 678.3)"/>
<ellipse cx="166.5" cy="678.3" rx="4.4" ry="1.6" fill="#0050ff" transform="rotate(-3 166.5 678.3)"/>
<ellipse cx="166.5" cy="678.3" rx="1.6" ry="0.6" fill="#00a8ff" transform="rotate(-3 166.5 678.3)"/>
</g>
<line x1="157.5" y1="662.5" x2="157.5" y2="730.2" stroke="#555" stroke-width="0.8"/>
<line x1="127.5" y1="695.5" x2="194.8" y2="695.5" stroke="#555" stroke-width="0.8"/>
<line x1="129" y1="730.2" x2="129" y2="731.4" stroke="#999" stroke-width="0.4"/>
<text x="129" y="734.5" font-size="2.6" fill="#888" text-anchor="middle">10<tspan dy="-1" font-size="1.8">1</tspan></text>
<line x1="139.7" y1="730.2" x2="139.7" y2="731.4" stroke="#999" stroke-width="0.4"/>
<text x="139.7" y="734.5" font-size="2.6" fill="#888" text-anchor="middle">10<tspan dy="-1" font-size="1.8">2</tspan></text>
<line x1="150.4" y1="730.2" x2="150.4" y2="731.4" stroke="#999" stroke-width="0.4"/>
<text x="150.4" y="734.5" font-size="2.6" fill="#888" text-anchor="middle">10<tspan dy="-1" font-size="1.8">3</tspan></text>
<line x1="161.2" y1="730.2" x2="161.2" y2="731.4" stroke="#999" stroke-width="0.4"/>
<text x="161.2" y="734.5" font-size="2.6" fill="#888" text-anchor="middle">10<tspan dy="-1" font-size="1.8">4</tspan></text>
<line x1="171.9" y1="730.2" x2="171.9" y2="731.4" stroke="#999" stroke-width="0.4"/>
<text x="171.9" y="734.5" font-size="2.6" fill="#888" text-anchor="middle">10<tspan dy="-1" font-size="1.8">5</tspan></text>
<line x1="182.6" y1="730.2" x2="182.6" y2="731.4" stroke="#999" stroke-width="0.4"/>
<text x="182.6" y="734.5" font-size="2.6" fill="#888" text-anchor="middle">10<tspan dy="-1" font-size="1.8">6</tspan></text>
<line x1="193.3" y1="730.2" x2="193.3" y2="731.4" stroke="#999" stroke-width="0.4"/>
<text x="193.3" y="734.5" font-size="2.6" fill="#888" text-anchor="middle">10<tspan dy="-1" font-size="1.8">7</tspan></text>
<line x1="126.3" y1="728.7" x2="127.5" y2="728.7" stroke="#999" stroke-width="0.4"/>
<text x="125.3" y="728.7" font-size="2.6" fill="#888" text-anchor="middle" transform="rotate(-90 125.3 728.7)">10<tspan dy="-1" font-size="1.8">1</tspan></text>
<line x1="126.3" y1="715.8" x2="127.5" y2="715.8" stroke="#999" stroke-width="0.4"/>
<text x="125.3" y="715.8" font-size="2.6" fill="#888" text-anchor="middle" transform="rotate(-90 125.3 715.8)">10<tspan dy="-1" font-size="1.8">2</tspan></text>
<line x1="126.3" y1="702.8" x2="127.5" y2="702.8" stroke="#999" stroke-width="0.4"/>
<text x="125.3" y="702.8" font-size="2.6" fill="#888" text-anchor="middle" transform="rotate(-90 125.3 702.8)">10<tspan dy="-1" font-size="1.8">3</tspan></text>
<line x1="126.3" y1="689.9" x2="127.5" y2="689.9" stroke="#999" stroke-width="0.4"/>
<text x="125.3" y="689.9" font-size="2.6" fill="#888" text-anchor="middle" transform="rotate(-90 125.3 689.9)">10<tspan dy="-1" font-size="1.8">4</tspan></text>
<line x1="126.3" y1="676.9" x2="127.5" y2="676.9" stroke="#999" stroke-width="0.4"/>
<text x="125.3" y="676.9" font-size="2.6" fill="#888" text-anchor="middle" transform="rotate(-90 125.3 676.9)">10<tspan dy="-1" font-size="1.8">5</tspan></text>
<line x1="126.3" y1="664" x2="127.5" y2="664" stroke="#999" stroke-width="0.4"/>
<text x="125.3" y="664" font-size="2.6" fill="#888" text-anchor="middle" transform="rotate(-90 125.3 664)">10<tspan dy="-1" font-size="1.8">6</tspan></text>
<text x="194.3" y="670.1" font-size="8.4" text-anchor="end">17.36%</text>
<text x="118.9" y="696.4" font-size="8.6" text-anchor="middle" transform="rotate(-90 118.9 696.4)">PI-A</text>
<text x="161.2" y="743" font-size="8.6" text-anchor="middle">FITC-A</text>
<rect x="381.5" y="576.5" width="67.3" height="67.7" fill="#fff" stroke="#b4b4b4" stroke-width="0.8"/>
<path transform="scale(.25)" d="M1663 2327h3m7 3h3m-54 20h3m-2 2h3m16 15h3m6 5h3m-2-12h3m-2 2h3m-3 0h3m-3-9h3m-1 11h3m0 3h3m-3 7h3m-2 0h3m1-17h3m-3 10h3m-2 7h3m-3-22h3m-2 11h3m-3-7h3m-2 9h3m-3-1h3m-2-4h3m-2 15h3m-1-6h3m-3-11h3m-1 13h3m-3 1h3m-2-7h3m-3-13h3m-1 23h3m-3-1h3m-3-6h3m-1-14h3m0 13h3m-2-12h3m-1 7h3m-2 4h3m-3-8h3m-2 4h3m0 7h3m6-15h3m14 22h3m-29 17h3m-3-14h3m-3 20h3m-4-5h3m-4-5h3m-5-9h3m-3 11h3m-3 5h3m-3-8h3m-4 5h3m-3-1h3m-3-6h3m-4 7h3m-3 4h3m-4-18h3m-3 8h3m-4 6h3m-4-4h3m-3 10h3m-3-3h3m-3 2h3m-4-22h3m-3 12h3m-5 1h3m-3-4h3m-4-8h3m-3 15h3m-3-9h3m-3 7h3m-3-1h3m-3-10h3m-4 12h3m-3-6h3m-4 10h3m-3-6h3m-3 5h3m-3-8h3m-4-7h3m-3 18h3m-3-19h3m-3 7h3m-3 6h3m-4-13h3m-3 13h3m-3 1h3m-4-7h3m-3 8h3m-3-8h3m-3 14h3m-4-22h3m-3 13h3m-3-1h3m-4 3h3m-4-14h3m-5 16h3m-3-12h3m-3-1h3m-3 13h3m-3-8h3m-3 5h3m-3-6h3m-4-6h3m-3 9h3m-4-9h3m-3 8h3m-3 4h3m-3 2h3m-4-17h3m-3 6h3m-4 13h3m-4-12h3m-3 13h3m-4-8h3m-3 6h3m-4-11h3m-3 8h3m-3 0h3m-5-4h3m-3 8h3m-3-3h3m-5-4h3m-4 7h3m-3-15h3m-6 11h3m-3-15h3m-4 19h3m-4-3h3m-10 4h3m-14-16h3m-7 17h3m-58 25h3m3-5h3m-2-4h3m10 10h3m0-1h3m13 0h3m0-8h3m9 8h3m-1-16h3m1 8h3m-3 3h3m-2 6h3m-1-20h3m-1 16h3m-1-4h3m-3 7h3m-3-9h3m-2-2h3m-3 5h3m-2 0h3m-2 5h3m1-3h3m-1 3h3m-1-10h3m0 2h3m-1 7h3m-3-7h3m0-5h3m-3 2h3m-3 1h3m-1 10h3m-3-19h3m-3 17h3m-2-6h3m-2-6h3m-3 16h3m-2-5h3m-3 2h3m-3-6h3m-3-13h3m-2 18h3m-3-19h3m-2 2h3m-2-2h3m-2 18h3m-3-12h3m-2-3h3m-1 2h3m-3 17h3m-2-11h3m-3 6h3m-3-14h3m-3 9h3m-3 6h3m-2-15h3m-3 7h3m-2 3h3m-3-1h3m-3 5h3m-3-7h3m-2-2h3m-3-7h3m-3 10h3m-2 2h3m-3-2h3m-3-4h3m-3-6h3m-3 0h3m-2 2h3m-2 7h3m-3-6h3m-3 18h3m-1-12h3m-2-7h3m-3 17h3m-3-2h3m-3-3h3m-2-13h3m-3 9h3m-3 2h3m-3-8h3m-2 5h3m-3-6h3m-2 1h3m-3-5h3m-2 21h3m-1-21h3m-1 9h3m2 9h3m-2-17h3m2 19h3m-9 6h3m-6-1h3m-3 14h3m-14-3h3m-6-1h3m-3 2h3m-3-11h3m-4-1h3m-4 1h3m-4 7h3m-5-8h3m-4 5h3m-4-3h3m-4-2h3m-4 19h3m-4-16h3m-4 0h3m-3 14h3m-4-3h3m-3-8h3m-3 12h3m-4-4h3m-4-9h3m-4 6h3m-6-10h3m-3 15h3m-4-11h3m-5 3h3m-3-2h3m-3 4h3m-4-11h3m-3 7h3m-3 0h3m-3 11h3m-4-8h3m-3 7h3m-3-13h3m-4 1h3m-5 18h3m-3-11h3m-4 9h3m-3 2h3m-3-14h3m-4 3h3m-4-6h3m-3-2h3m-3 2h3m-3 0h3m-4 8h3m-3 4h3m-4-9h3m-3 1h3m-3-9h3m-3 11h3m-5-8h3m-3 17h3m-4-21h3m-3 21h3m-3-4h3m-3-9h3m-4-4h3m-3 18h3m-3-4h3m-3 1h3m-4-8h3m-4-10h3m-3 9h3m-3 7h3m-4-8h3m-3-3h3m-4 10h3m-4-16h3m-4 13h3m-3-5h3m-3-1h3m-3-6h3m-4 8h3m-3 0h3m-3 8h3m-3-15h3m-3 21h3m-3-1h3m-3-21h3m-5 19h3m-3-13h3m-4 10h3m-3 4h3m-5-15h3m-3 4h3m-3 7h3m-3-3h3m-4 9h3m-4 0h3m-3-2h3m-3-10h3m-4-8h3m-3 12h3m-3-1h3m-4-10h3m-3 15h3m-4-16h3m-3 6h3m-3-3h3m-4 17h3m-3-4h3m-3 0h3m-4 4h3m-3-1h3m-3-5h3m-3 5h3m-3-4h3m-4 2h3m-3-2h3m-3 4h3m-4 1h3m-3-11h3m-3-2h3m-4 10h3m-4 2h3m-3-16h3m-4 14h3m-6-10h3m-3 5h3m-6-10h3m-4 9h3m-3-7h3m-4 15h3m-3 1h3m-4-18h3m-4 7h3m-4 11h3m-3-2h3m-6 1h3m-3-13h3m-7 6h3m-4-2h3m-5 5h3m-5-14h3m-3 10h3m-5 9h3m-3-11h3m-5-9h3m-8 8h3m-11-5h3m-12-2h3m-9 3h3m-4 1h3m-3-7h3m-15 8h3m6 37h3m-1 1h3m2-3h3m-1 3h3m-1-14h3m0-8h3m-2 15h3m-2 7h3m-1-2h3m-3 0h3m-3 2h3m-3-8h3m-3 0h3m-2-9h3m-1 15h3m-2-2h3m-3-5h3m-2 7h3m-2-3h3m-3-3h3m-2 5h3m-2 3h3m-3-5h3m-1-13h3m-3 3h3m-3 15h3m-3-8h3m-2 1h3m-3-3h3m-3-8h3m-3 14h3m-3-11h3m-2 15h3m-3-22h3m-2 21h3m-3-11h3m-2 0h3m-3 12h3m-3-13h3m-2 11h3m-3-10h3m-3 2h3m-3-4h3m-3 4h3m-3 4h3m-3 4h3m-3-3h3m-2-9h3m-3 12h3m-3-14h3m-3 16h3m-3-15h3m-2 15h3m-3-1h3m-3-5h3m-3 0h3m-2-11h3m-3 11h3m-2 5h3m-3-13h3m-2 3h3m-3 2h3m-2-1h3m-3-7h3m-3 10h3m-2-16h3m-3 17h3m-3 1h3m-3-1h3m-3-5h3m-2-9h3m-2-2h3m-2 12h3m-3 2h3m-3-4h3m-3 7h3m-2-12h3m-3-4h3m-3 18h3m-3-13h3m-3-3h3m-2 5h3m-3 2h3m-3 1h3m-3 11h3m-2-9h3m-3 7h3m-3-10h3m-2 2h3m-3-12h3m-3 0h3m-3 15h3m-2-3h3m-3 7h3m-3 2h3m-3-1h3m-2-2h3m-3 2h3m-3-9h3m-2-1h3m-3 10h3m-3-16h3m-3 12h3m-3-6h3m-3 0h3m-3 7h3m-3-16h3m-3 0h3m-2-2h3m-2 21h3m-3-7h3m-2-12h3m-3 20h3m-3-18h3m-3 14h3m-3-16h3m-2 4h3m-3 4h3m-2 10h3m-3-7h3m-3 4h3m-3-10h3m-3 16h3m-3-14h3m-2 6h3m-3 6h3m-3-6h3m-3 0h3m-3 6h3m-2 0h3m-3-14h3m-3 2h3m-2-7h3m-2 7h3m-3 2h3m-3-4h3m-2 8h3m-3 5h3m-3-8h3m-2 8h3m-3 0h3m-3-7h3m-3 2h3m-3-14h3m-2 11h3m-3 6h3m-3-10h3m-2 6h3m-3-7h3m-3 4h3m-3 4h3m-2-7h3m-3-5h3m-3 20h3m-3-6h3m-2-7h3m-3 0h3m-3 8h3m-2-12h3m-3-1h3m-3-1h3m-2-2h3m-3 16h3m-2-7h3m-3 10h3m-3-21h3m-3 1h3m-1 2h3m-3-2h3m-2 10h3m-3 5h3m-3 6h3m-3-7h3m-3-5h3m-3 2h3m-2 6h3m-3-11h3m-3 16h3m-2-22h3m-3 7h3m-3 13h3m-2-6h3m-3-3h3m-3-10h3m-2 15h3m-3-15h3m-2 8h3m-3-9h3m-3 2h3m-2 14h3m-3-12h3m-2 0h3m-3 7h3m-2-9h3m-3 7h3m-3-7h3m-3-3h3m-2 3h3m-2 5h3m-1-1h3m-3 12h3m-3-19h3m-2 18h3m-3-15h3m-2-3h3m-3 23h3m-3-22h3m-2 9h3m-3-4h3m-2 7h3m-3-6h3m-3 1h3m-3 7h3m-2-12h3m-3 16h3m-2 4h3m-3-23h3m-2 20h3m-2-20h3m-3 1h3m0 15h3m-2-5h3m-2 6h3m-3 4h3m-2-16h3m-3 9h3m-2-12h3m-3 15h3m-3 5h3m-1-16h3m-3-2h3m-2 10h3m-3-8h3m-1 11h3m-2 0h3m-3 5h3m-3-1h3m2-18h3m3 0h3m3 1h3m-1 6h3m1-4h3m18-6h3m-20 31h3m-11 2h3m-17 3h3m-4-11h3m-3 16h3m-4-13h3m-4-2h3m-6 5h3m-3 1h3m-9 8h3m-4-13h3m-4 19h3m-4-15h3m-6 8h3m-4-4h3m-4-3h3m-5 11h3m-6-11h3m-7-5h3m-4-1h3m-3 18h3m-5-20h3m-6 6h3m-6-5h3m-7 15h3m-4-8h3m-4-7h3m-3 11h3m-5-2h3m-3-8h3m-4 0h3m-3 5h3m-3 15h3m-3-14h3m-3 4h3m-7-12h3m-3 2h3m-3 7h3m-4 10h3m-3 3h3m-3-12h3m-3 4h3m-4-8h3m-3 1h3m-4 13h3m-3-10h3m-4-6h3m-4 10h3m-3-13h3m-3 8h3m-3 9h3m-4-7h3m-3-11h3m-3 8h3m-3 5h3m-3-11h3m-4 4h3m-4 14h3m-3-9h3m-4-7h3m-3 12h3m-3 2h3m-3-15h3m-3 6h3m-4-1h3m-3 12h3m-3 1h3m-4-5h3m-3 0h3m-4-12h3m-3 4h3m-3 2h3m-3-10h3m-4 10h3m-3-10h3m-3 5h3m-4 14h3m-3-1h3m-3 3h3m-4-13h3m-3-7h3m-3 6h3m-3 10h3m-3-1h3m-3-8h3m-4 7h3m-3-10h3m-3 13h3m-3-6h3m-3-10h3m-3 8h3m-3 6h3m-3-16h3m-3 3h3m-3 1h3m-4 16h3m-3-9h3m-3 9h3m-3-19h3m-4 12h3m-3-7h3m-3 8h3m-4-14h3m-3 11h3m-3 4h3m-3-7h3m-3 1h3m-4-7h3m-3 13h3m-3-7h3m-3 9h3m-3-11h3m-3 5h3m-4-3h3m-3 13h3m-3-9h3m-3-1h3m-3-8h3m-3 6h3m-4 8h3m-3-14h3m-3 17h3m-4-14h3m-3 15h3m-3-16h3m-3 15h3m-3-14h3m-3-2h3m-3 12h3m-4 1h3m-3 1h3m-3-5h3m-3-3h3m-4 4h3m-3 9h3m-3-8h3m-3 1h3m-4 7h3m-3-14h3m-3-7h3m-3 16h3m-3 3h3m-4 2h3m-3-13h3m-3-5h3m-4 14h3m-3-18h3m-3 5h3m-3 11h3m-4-17h3m-3 5h3m-4 5h3m-3-2h3m-3 15h3m-4-11h3m-4-5h3m-3-7h3m-3 15h3m-3-11h3m-3 15h3m-4-3h3m-3-5h3m-3-6h3m-4-5h3m-3 18h3m-3 0h3m-3 4h3m-4-14h3m-3 13h3m-3-12h3m-3 6h3m-3 7h3m-3-7h3m-4-8h3m-3 3h3m-3 10h3m-5-1h3m-3-1h3m-3 3h3m-3-5h3m-3-2h3m-4-8h3m-3 7h3m-4 2h3m-3 5h3m-3-5h3m-3-5h3m-4 0h3m-4 4h3m-4 1h3m-3 6h3m-3-2h3m-3-9h3m-3 10h3m-3-13h3m-3 4h3m-4 12h3m-4-15h3m-3 6h3m-3 9h3m-4-11h3m-3 0h3m-4 6h3m-3 1h3m-3-5h3m-5 7h3m-3-9h3m-4-1h3m-4-9h3m-3 10h3m-4 3h3m-3-12h3m-3 6h3m-6-2h3m-3 16h3m-4-11h3m-6 0h3m-3 0h3m-3 7h3m-5-5h3m-4-12h3m-4 4h3m-4 1h3m-6 13h3m-4-1h3m-5-4h3m-10-1h3m-9 16h3m-2 10h3m0-12h3m-3 6h3m-1 3h3m0 5h3m-3-18h3m-2 13h3m-1-2h3m-3 11h3m-2-11h3m-2-1h3m-2-4h3m-3 7h3m-3 7h3m-2-14h3m-3 1h3m-2 15h3m-2-12h3m-2-2h3m-3 8h3m-3-16h3m-2 5h3m-3 15h3m-3-20h3m-3 7h3m-3 0h3m-2 2h3m-3-9h3m-3 3h3m-3 2h3m-3-5h3m-2 22h3m-2-15h3m-3 13h3m-2-13h3m-2 15h3m-2-13h3m-3-4h3m-3 1h3m-2 7h3m-3 10h3m-2-13h3m-3 13h3m-3-1h3m-3-10h3m-2 0h3m-2 9h3m-3-21h3m-2 2h3m-3 15h3m-3 2h3m-2 2h3m-2-11h3m-3-2h3m-2 1h3m-3 4h3m-3-2h3m-3-4h3m-3 6h3m-1-13h3m-3 12h3m-3-8h3m-2 8h3m-3-10h3m-3 15h3m-2-8h3m-2-4h3m-3-5h3m-3 1h3m-1 11h3m-3-6h3m-3 7h3m-3-2h3m-3 0h3m-2-11h3m-3 0h3m-3 8h3m-2 6h3m-3-10h3m-3-4h3m-2 0h3m-3 23h3m-2-8h3m-1-3h3m-3-11h3m-3 17h3m-2-7h3m-3-10h3m-2 6h3m-3 6h3m-3 0h3m0-2h3m-3-7h3m-1 13h3m-3-10h3m0 5h3m-3 2h3m-3-13h3m-3 0h3m-2 0h3m-2 14h3m-3-14h3m-1 7h3m-3 2h3m-2-9h3m-2 6h3m-2-2h3m-2 0h3m-2-4h3m-2 4h3m0 7h3m2-12h3m8 18h3m-2-16h3m7-1h3m0 10h3m4 8h3m-3 1h3m-2-18h3m-2 1h3m7 13h3m18 4h3m0-3h3m7-15h3m-2 13h3m-9 25h3m-12-16h3m-14 13h3m-21-9h3m-6 5h3m-9 3h3m-28 1h3m-24-12h3m-6 3h3m-11-3h3m-4 8h3m-4-5h3m-9 0h3m-4 9h3m-5-5h3m-4-5h3m-5 4h3m-5-3h3m-6 17h3m-5-14h3m-4-3h3m-3 16h3m-5-4h3m-5-15h3m-11 11h3m-3-11h3m-5-1h3m-6 1h3m-3 22h3m-4-22h3m-6 6h3m-7-1h3m-4 10h3m-2 18h3m2 2h3m5 2h3m81-13h3m-101 28h3" stroke="#2a3aff" stroke-width="3.2" stroke-opacity="0.6"/>
<g filter="url(#blur1)">
<ellipse cx="400.8" cy="617.6" rx="12" ry="3.8" fill="#1424ff" transform="rotate(-40 400.8 617.6)"/>
<ellipse cx="400.8" cy="617.6" rx="10" ry="3.6" fill="#0050ff" transform="rotate(-40 400.8 617.6)"/>
<ellipse cx="400.8" cy="617.6" rx="7.8" ry="3.1" fill="#00a8ff" transform="rotate(-40 400.8 617.6)"/>
<ellipse cx="400.8" cy="617.6" rx="5.7" ry="2.5" fill="#10d8a0" transform="rotate(-40 400.8 617.6)"/>
<ellipse cx="400.8" cy="617.6" rx="4" ry="1.9" fill="#40e040" transform="rotate(-40 400.8 617.6)"/>
<ellipse cx="400.8" cy="617.6" rx="2" ry="1" fill="#a8e010" transform="rotate(-40 400.8 617.6)"/>
<ellipse cx="400.8" cy="617.6" rx="0.8" ry="0.4" fill="#e0a000" transform="rotate(-40 400.8 617.6)"/>
<ellipse cx="417.9" cy="597.5" rx="1.2" ry="2.5" fill="#1424ff" transform="rotate(-10 417.9 597.5)"/>
</g>
<line x1="412.5" y1="576.5" x2="412.5" y2="644.2" stroke="#555" stroke-width="0.8"/>
<line x1="381.5" y1="605.5" x2="448.8" y2="605.5" stroke="#555" stroke-width="0.8"/>
<line x1="383" y1="644.2" x2="383" y2="645.4" stroke="#999" stroke-width="0.4"/>
<text x="383" y="648.5" font-size="2.6" fill="#888" text-anchor="middle">10<tspan dy="-1" font-size="1.8">1</tspan></text>
<line x1="393.7" y1="644.2" x2="393.7" y2="645.4" stroke="#999" stroke-width="0.4"/>
<text x="393.7" y="648.5" font-size="2.6" fill="#888" text-anchor="middle">10<tspan dy="-1" font-size="1.8">2</tspan></text>
<line x1="404.4" y1="644.2" x2="404.4" y2="645.4" stroke="#999" stroke-width="0.4"/>
<text x="404.4" y="648.5" font-size="2.6" fill="#888" text-anchor="middle">10<tspan dy="-1" font-size="1.8">3</tspan></text>
<line x1="415.1" y1="644.2" x2="415.1" y2="645.4" stroke="#999" stroke-width="0.4"/>
<text x="415.1" y="648.5" font-size="2.6" fill="#888" text-anchor="middle">10<tspan dy="-1" font-size="1.8">4</tspan></text>
<line x1="425.9" y1="644.2" x2="425.9" y2="645.4" stroke="#999" stroke-width="0.4"/>
<text x="425.9" y="648.5" font-size="2.6" fill="#888" text-anchor="middle">10<tspan dy="-1" font-size="1.8">5</tspan></text>
<line x1="436.6" y1="644.2" x2="436.6" y2="645.4" stroke="#999" stroke-width="0.4"/>
<text x="436.6" y="648.5" font-size="2.6" fill="#888" text-anchor="middle">10<tspan dy="-1" font-size="1.8">6</tspan></text>
<line x1="447.3" y1="644.2" x2="447.3" y2="645.4" stroke="#999" stroke-width="0.4"/>
<text x="447.3" y="648.5" font-size="2.6" fill="#888" text-anchor="middle">10<tspan dy="-1" font-size="1.8">7</tspan></text>
<line x1="380.3" y1="642.7" x2="381.5" y2="642.7" stroke="#999" stroke-width="0.4"/>
<text x="379.3" y="642.7" font-size="2.6" fill="#888" text-anchor="middle" transform="rotate(-90 379.3 642.7)">10<tspan dy="-1" font-size="1.8">1</tspan></text>
<line x1="380.3" y1="629.8" x2="381.5" y2="629.8" stroke="#999" stroke-width="0.4"/>
<text x="379.3" y="629.8" font-size="2.6" fill="#888" text-anchor="middle" transform="rotate(-90 379.3 629.8)">10<tspan dy="-1" font-size="1.8">2</tspan></text>
<line x1="380.3" y1="616.8" x2="381.5" y2="616.8" stroke="#999" stroke-width="0.4"/>
<text x="379.3" y="616.8" font-size="2.6" fill="#888" text-anchor="middle" transform="rotate(-90 379.3 616.8)">10<tspan dy="-1" font-size="1.8">3</tspan></text>
<line x1="380.3" y1="603.9" x2="381.5" y2="603.9" stroke="#999" stroke-width="0.4"/>
<text x="379.3" y="603.9" font-size="2.6" fill="#888" text-anchor="middle" transform="rotate(-90 379.3 603.9)">10<tspan dy="-1" font-size="1.8">4</tspan></text>
<line x1="380.3" y1="590.9" x2="381.5" y2="590.9" stroke="#999" stroke-width="0.4"/>
<text x="379.3" y="590.9" font-size="2.6" fill="#888" text-anchor="middle" transform="rotate(-90 379.3 590.9)">10<tspan dy="-1" font-size="1.8">5</tspan></text>
<line x1="380.3" y1="578" x2="381.5" y2="578" stroke="#999" stroke-width="0.4"/>
<text x="379.3" y="578" font-size="2.6" fill="#888" text-anchor="middle" transform="rotate(-90 379.3 578)">10<tspan dy="-1" font-size="1.8">6</tspan></text>
<text x="448.3" y="584.1" font-size="8.4" text-anchor="end">7.34%</text>
<text x="372.9" y="610.4" font-size="8.6" text-anchor="middle" transform="rotate(-90 372.9 610.4)">PI-A</text>
<text x="415.1" y="657" font-size="8.6" text-anchor="middle">FITC-A</text>
<rect x="467.5" y="576.5" width="67.3" height="67.7" fill="#fff" stroke="#b4b4b4" stroke-width="0.8"/>
<path transform="scale(.25)" d="M2046 2327h3m48 23h3m-39-4h3m-10 1h3m-3-3h3m-11 6h3m-7-4h3m-3 5h3m-4-2h3m-5-18h3m-3 1h3m-5 18h3m-4-6h3m-3 7h3m-6-17h3m-3 1h3m-4 16h3m-7-2h3m-5 2h3m-4-5h3m-3-9h3m-3 12h3m-3-1h3m-12 1h3m-4-1h3m-5-11h3m-4 13h3m-8 1h3m-5-14h3m-4 1h3m-14 1h3m-14 11h3m-29-4h3m-9 2h3m-24 19h3m5 5h3m0 1h3m1-9h3m11 9h3m-2-11h3m11 10h3m3-4h3m-2-2h3m-2-5h3m-2 12h3m-1-19h3m1-2h3m1 20h3m-1-1h3m-2-3h3m-2-13h3m-3 9h3m-2-4h3m-2 1h3m-2 5h3m-2 3h3m-1 4h3m-3-8h3m-1 2h3m-2-5h3m-2 8h3m-3-2h3m-3 3h3m-2-13h3m-2-5h3m-3 21h3m-2-6h3m-3 5h3m-3-3h3m-2-4h3m-3 5h3m-3-15h3m-2 11h3m-3-6h3m-2-4h3m-3 17h3m-3-4h3m-2-5h3m-2-3h3m-3 8h3m-3-6h3m-3 8h3m-2 2h3m-3-1h3m-2-11h3m-3 13h3m-2-12h3m-3-11h3m-3 19h3m-3-1h3m-3-11h3m-3 11h3m-3-2h3m-2 5h3m-3-4h3m-3 5h3m-3-6h3m-3 0h3m-2-9h3m-3 16h3m-2-16h3m-3 1h3m-3-4h3m-2 8h3m-3 4h3m-3-1h3m-3-9h3m-2 14h3m-3-6h3m-3-6h3m-2 1h3m-3 9h3m-3 1h3m-3-19h3m-3 14h3m-1 9h3m-3-15h3m-2 8h3m-2-3h3m-3-9h3m-3 10h3m-3-2h3m-3 9h3m-3-7h3m-3-12h3m-2 18h3m-3-13h3m-3-7h3m-2 7h3m-3 4h3m-2-3h3m-3-4h3m-3-3h3m-3 7h3m-3 5h3m-2 7h3m-3-12h3m-3 7h3m-3-2h3m-3 7h3m-3-3h3m-2-6h3m-3 2h3m-3 3h3m-3-14h3m-3 5h3m-2 7h3m-3-12h3m-2 15h3m-3 0h3m-3-7h3m-2-3h3m-3 0h3m-3 16h3m-3-7h3m-3 1h3m-3-7h3m-3 7h3m-2 6h3m-3-3h3m-3-19h3m-3 5h3m-3 14h3m-1 1h3m-3-4h3m-3 1h3m-3 2h3m-2 1h3m-3-11h3m-3-5h3m-3 5h3m-3-6h3m-3 9h3m-2 5h3m-3 4h3m-3-15h3m-3-1h3m-3-1h3m-2 13h3m-3-2h3m-3-15h3m-3 4h3m-3 2h3m-1-4h3m-3 7h3m-3-3h3m-3 14h3m-3-8h3m-2-5h3m-3 14h3m-3-5h3m-2-15h3m-2 15h3m-3 4h3m-3 0h3m-2-4h3m-3 3h3m-1-15h3m-3 11h3m-3-8h3m-3 4h3m-3 7h3m0-1h3m-3-3h3m-3-11h3m-2 8h3m-2 1h3m-3-4h3m-1 0h3m1 9h3m-2-5h3m-2 8h3m-2-14h3m-2 13h3m4 1h3m2-20h3m11 11h3m14 3h3m-46 29h3m-4-3h3m-8-17h3m-6 6h3m-3 2h3m-5 6h3m-11-10h3m-5-4h3m-4 22h3m-4-11h3m-5 2h3m-3-5h3m-3 0h3m-4 15h3m-5-11h3m-3-11h3m-3 0h3m-4 6h3m-4-7h3m-4 0h3m-4 22h3m-3-15h3m-4 3h3m-4-8h3m-4 5h3m-3 7h3m-3-12h3m-5 5h3m-5 5h3m-4-3h3m-4-8h3m-3 10h3m-4-10h3m-3 2h3m-3-2h3m-3 2h3m-4 8h3m-3 1h3m-4-4h3m-3-5h3m-3 17h3m-4-16h3m-3 16h3m-4-16h3m-3-4h3m-3 10h3m-4-8h3m-3 14h3m-4 4h3m-5-16h3m-3 1h3m-4 8h3m-3-9h3m-4 2h3m-4-4h3m-3-1h3m-4 7h3m-5 9h3m-3-4h3m-4-10h3m-4 0h3m-3 6h3m-3 12h3m-4-20h3m-4 14h3m-4 1h3m-5-2h3m-3-2h3m-7 0h3m-3 7h3m-4-17h3m-4 14h3m-5 4h3m-5-3h3m-3-12h3m-4 18h3m-3-8h3m-7 5h3m-4-19h3m-4 21h3m-5-8h3m-4-10h3m-5 15h3m-3-16h3m-8 9h3m-6 10h3m-8-19h3m-3 8h3m-4-2h3m-3 9h3m-3-5h3m-10 5h3m-3-3h3m-4-5h3m-11 6h3m-6 3h3m-7-5h3m-5 0h3m-11-12h3m-5 17h3m-11-8h3m-21 28h3m10-5h3m12-9h3m1 1h3m1 8h3m-1-7h3m-2 4h3m6 6h3m-3 5h3m3 1h3m-2 1h3m-3 1h3m-2 0h3m-2-13h3m-3 15h3m0-8h3m-2 4h3m-3 0h3m-3 4h3m-2-14h3m-3 5h3m-3-10h3m-1-1h3m-2 4h3m-3 16h3m-2-9h3m-3 2h3m-3-5h3m-2 0h3m-3-7h3m-2 16h3m-2-3h3m-3-17h3m-3 2h3m-2 8h3m-2 3h3m-3 10h3m-2-12h3m-3 1h3m-2 0h3m-2 7h3m-2 4h3m-3-13h3m-2 4h3m-3-8h3m-1 2h3m-2 6h3m-3-9h3m-1 11h3m-3-5h3m-2 9h3m-2-15h3m-1 15h3m-3-1h3m-1-10h3m-3 5h3m-2-11h3m-3 14h3m-2 2h3m-3-10h3m-1 13h3m-3-14h3m-2 10h3m-3-10h3m-3 6h3m-2 1h3m-2 8h3m-3-7h3m-1-15h3m-3 3h3m-3 19h3m-3-5h3m-3-18h3m-2 11h3m-3-6h3m-2 12h3m-3-6h3m-2 1h3m-2-10h3m-3 11h3m-2-12h3m-2 8h3m-3-8h3m-2 4h3m0 16h3m0-19h3m-2 14h3m-2 2h3m-3-11h3m-3 3h3m-2 3h3m-2-5h3m0 9h3m-1-6h3m-3 12h3m1-8h3m-2-2h3m16 9h3m8-13h3m-14 29h3m-5-14h3m-5 16h3m-7-1h3m-14-14h3m-4 7h3m-6 9h3m-5 4h3m-7-17h3m-5 6h3m-5 9h3m-4-15h3m-4-4h3m-3 16h3m-4-14h3m-3 7h3m-3 13h3m-4-13h3m-3-9h3m-3 12h3m-6-5h3m-4 1h3m-5-5h3m-3 4h3m-3 0h3m-3-3h3m-4 6h3m-3-10h3m-4 18h3m-3-16h3m-3-1h3m-4 11h3m-4-5h3m-3-3h3m-4 12h3m-3 1h3m-3 1h3m-4-12h3m-4-4h3m-3 21h3m-4-19h3m-3 14h3m-3-18h3m-4 0h3m-4 6h3m-3 8h3m-4-12h3m-4 12h3m-3 5h3m-4-6h3m-3-8h3m-4 1h3m-4 12h3m-3-5h3m-3 1h3m-3-7h3m-4 5h3m-3 6h3m-4 4h3m-3-13h3m-3 8h3m-4-11h3m-4 14h3m-3-5h3m-3 0h3m-3-9h3m-3 10h3m-4-1h3m-4-8h3m-4 9h3m-3 1h3m-3-10h3m-3 6h3m-4-13h3m-3 2h3m-3 21h3m-3-20h3m-3 0h3m-3-2h3m-5 9h3m-3 12h3m-4-14h3m-3 5h3m-3 4h3m-4 6h3m-4-17h3m-3 10h3m-3-3h3m-4 8h3m-3-3h3m-3 2h3m-5-9h3m-3-2h3m-3 2h3m-4 12h3m-3-10h3m-3-3h3m-3-5h3m-3-2h3m-4 10h3m-4 9h3m-3-12h3m-3 3h3m-3-11h3m-4 11h3m-3-10h3m-3 11h3m-3 2h3m-4-15h3m-3 20h3m-4-6h3m-3 2h3m-3 5h3m-4-16h3m-4 9h3m-4 6h3m-3-21h3m-4 18h3m-3-14h3m-4 15h3m-4-9h3m-3-7h3m-3 4h3m-4 8h3m-3-15h3m-4 20h3m-3-7h3m-4 10h3m-3-9h3m-3-4h3m-4 13h3m-3-2h3m-3 1h3m-3-1h3m-4-4h3m-3 6h3m-4 0h3m-4-8h3m-3 0h3m-3-1h3m-5-11h3m-3 20h3m-3-4h3m-3-13h3m-4-5h3m-4 5h3m-3 10h3m-3-4h3m-3 10h3m-4-21h3m-3 18h3m-3-16h3m-3 19h3m-4-9h3m-4 9h3m-3-15h3m-3 12h3m-5 2h3m-3-11h3m-4 13h3m-5-7h3m-4 5h3m-3-2h3m-4-2h3m-3-8h3m-3 14h3m-4-9h3m-3 2h3m-5 6h3m-3-7h3m-4 5h3m-8 0h3m-4-2h3m-6-8h3m-11-8h3m-46 22h3m-1 6h3m-1 14h3m10-13h3m4 13h3m-2-11h3m-1 3h3m5 6h3m-1 1h3m-3 4h3m-3-18h3m-1 15h3m-3-13h3m-3 14h3m-3-3h3m-1-16h3m-2 18h3m-3 3h3m-2-22h3m-2 21h3m-3-11h3m-3-7h3m-2 6h3m-3-3h3m-2 16h3m-1-1h3m-3-12h3m-3 11h3m-2-10h3m-2 0h3m-3 6h3m-3-2h3m-3 8h3m-1-11h3m-3-4h3m-3-3h3m-2 17h3m-3-21h3m-3 21h3m-3-15h3m-2 13h3m-3-8h3m-2-3h3m-3-3h3m-3 11h3m-3-13h3m-2 7h3m-2 7h3m-3 4h3m-3-16h3m-2 11h3m-3 0h3m-3-3h3m-3 6h3m-3-6h3m-2-11h3m-3 10h3m-3 6h3m-3-8h3m-2 11h3m-3-3h3m-2-11h3m-3 15h3m-3-13h3m-3 12h3m-3-5h3m-2-5h3m-3 6h3m-2 1h3m-3-19h3m-2 19h3m-3-16h3m-3-2h3m-2 22h3m-2-1h3m-3 0h3m-3-13h3m-3 6h3m-3-6h3m-3 10h3m-3 3h3m-2-12h3m-2 13h3m-3-13h3m-3 9h3m-3 0h3m-2-14h3m-3 3h3m-3-1h3m-3-1h3m-3 5h3m-2-5h3m-3-2h3m-3 9h3m-3 4h3m-2 6h3m-3 0h3m-3-19h3m-2-1h3m-3 6h3m-3 13h3m-3-12h3m-3 0h3m-3 8h3m-3 5h3m-2-15h3m-2 2h3m-3-8h3m-2 17h3m-3-7h3m-3 8h3m-3-20h3m-2 14h3m-3 7h3m-3-2h3m-2-4h3m-3-15h3m-3 21h3m-2-20h3m-3 0h3m-3 20h3m-2 1h3m-3-10h3m-3 3h3m-3 6h3m-3-3h3m-3-12h3m-3 15h3m-2 1h3m-2-12h3m-3 6h3m-3-9h3m-3 4h3m-2 0h3m-3-6h3m-3 7h3m-3 9h3m-2 0h3m-3-21h3m-3 0h3m-3 4h3m-3 4h3m-3 1h3m-3 6h3m-3 2h3m-3-9h3m-3 6h3m-2-9h3m-3 0h3m-3 16h3m-3-11h3m-2 8h3m-3-18h3m-3 0h3m-3 20h3m-3-17h3m-3 6h3m-2-8h3m-3 21h3m-3-13h3m-3 12h3m-2-21h3m-3 14h3m-3-9h3m-3 1h3m-3 8h3m-3-1h3m-3 7h3m-2-13h3m-3 4h3m-3-10h3m-3 18h3m-2-15h3m-3 10h3m-3-10h3m-3 7h3m-3-3h3m-3 15h3m-3-2h3m-2-20h3m-3 12h3m-3 6h3m-3-1h3m-3-9h3m-3-5h3m-2 16h3m-3-15h3m-3-1h3m-3 6h3m-3 9h3m-3-17h3m-3 7h3m-3-5h3m-2 13h3m-3-4h3m-3-6h3m-3-2h3m-2 7h3m-1 0h3m-3-8h3m-3-2h3m-2-2h3m-3 3h3m-3 7h3m-3 1h3m-3-10h3m-3-1h3m-3 8h3m-3-2h3m-2 8h3m-1-2h3m-3-10h3m-3-2h3m-3 13h3m-3 2h3m-2 4h3m-3 0h3m-3-18h3m-2 4h3m-3 11h3m-1-3h3m-3-1h3m-3-6h3m-3 3h3m-1-6h3m-3-3h3m-3 6h3m-2-6h3m-2 2h3m-2 8h3m-3 1h3m-1-10h3m-2 2h3m-1 20h3m-2-1h3m-3-20h3m-3 4h3m-3-1h3m-3-4h3m-2 21h3m-3-16h3m-3-1h3m-3-4h3m1 14h3m-2-8h3m-3-2h3m-2-2h3m-2 11h3m-3-2h3m-2-1h3m2-11h3m-3 19h3m-3-5h3m-2-1h3m1 10h3m-3-23h3m-1 8h3m-2-6h3m-1 9h3m-1-11h3m-2 9h3m-3-1h3m-3 4h3m-1-2h3m-2-9h3m-1 12h3m-3 8h3m-2-19h3m-2 3h3m-2 14h3m-1-16h3m-2 7h3m-2-4h3m-3 2h3m-2 4h3m-3-11h3m-3 3h3m-2 6h3m4 11h3m3-4h3m-3-17h3m-3 3h3m0 4h3m0 8h3m7-13h3m-11 37h3m-7-2h3m-21 6h3m-5-16h3m-8 2h3m-4 8h3m-5-11h3m-4 7h3m-4 13h3m-3-10h3m-3 7h3m-3-11h3m-5-5h3m-3 6h3m-8 5h3m-6 1h3m-6-9h3m-4-4h3m-6 3h3m-10-5h3m-13 2h3m-8 3h3m-4 12h3m-6-5h3m-4 1h3m-4-13h3m-3 12h3m-3-7h3m-5 5h3m-3 2h3m-3-1h3m-3 12h3m-4-23h3m-5 8h3m-3 10h3m-3-18h3m-4 5h3m-4 10h3m-4-12h3m-4 7h3m-3-4h3m-3 11h3m-3-10h3m-4 15h3m-4-20h3m-4 6h3m-3 2h3m-3-8h3m-3 4h3m-3 3h3m-4-6h3m-3 16h3m-4 2h3m-3-19h3m-4-1h3m-3 1h3m-3 12h3m-4 1h3m-3-1h3m-3-13h3m-3 4h3m-3 12h3m-4-9h3m-3-4h3m-3 3h3m-3-3h3m-3 8h3m-3 10h3m-4-20h3m-4 14h3m-3-12h3m-3 4h3m-3 8h3m-4-12h3m-3-1h3m-3 18h3m-3-4h3m-4-16h3m-3-1h3m-3 7h3m-3-7h3m-4 4h3m-3 5h3m-3-5h3m-3-2h3m-4 4h3m-3-3h3m-3 16h3m-4 3h3m-3-12h3m-3-4h3m-3 9h3m-4-5h3m-3 7h3m-4 5h3m-3-1h3m-4-11h3m-3 7h3m-3-5h3m-3 0h3m-4 1h3m-3-12h3m-3 11h3m-4-8h3m-3 2h3m-3 13h3m-3-14h3m-4 18h3m-3-12h3m-3 7h3m-3-4h3m-3-11h3m-4 9h3m-3-5h3m-3-1h3m-3 9h3m-4-15h3m-3 20h3m-3-3h3m-3-6h3m-4 6h3m-3-14h3m-4 14h3m-3-9h3m-4-1h3m-3 7h3m-3-2h3m-4-7h3m-3-4h3m-3 9h3m-3 6h3m-4-1h3m-3-14h3m-3 10h3m-3-3h3m-3 2h3m-3-9h3m-3 10h3m-4-8h3m-3 15h3m-3-11h3m-3-4h3m-3 15h3m-4-8h3m-3 8h3m-3-15h3m-3 3h3m-4 5h3m-3 9h3m-4-14h3m-3 9h3m-3-7h3m-4 5h3m-3 6h3m-3 4h3m-4-18h3m-3-4h3m-3 18h3m-3-11h3m-3-3h3m-4-2h3m-3 18h3m-3-12h3m-3-8h3m-4 10h3m-3 2h3m-3-7h3m-3-2h3m-3 15h3m-4 0h3m-3-12h3m-3 0h3m-4 0h3m-3 0h3m-4-2h3m-3-1h3m-3 19h3m-4-1h3m-3-9h3m-3-6h3m-4-1h3m-3 5h3m-3 7h3m-3-6h3m-4-9h3m-3 6h3m-3 13h3m-3-2h3m-4-10h3m-3 7h3m-4-3h3m-3 7h3m-3 1h3m-3-4h3m-3-6h3m-3-4h3m-3 14h3m-4-16h3m-3-1h3m-4 17h3m-3-13h3m-3-1h3m-4 14h3m-3-18h3m-3-3h3m-4 22h3m-3-17h3m-3 15h3m-3 2h3m-4-16h3m-3-3h3m-3 11h3m-3 8h3m-3-18h3m-4 15h3m-3-3h3m-4-5h3m-3 3h3m-3-2h3m-4 9h3m-3-22h3m-3 4h3m-3 6h3m-3-9h3m-3 12h3m-4-1h3m-3-1h3m-4 1h3m-5-12h3m-5 5h3m-3 6h3m-3 0h3m-3-7h3m-4 4h3m-3 5h3m-5 8h3m-3-11h3m-4-7h3m-4-2h3m-3 18h3m-3-7h3m-3 1h3m-6 7h3m-5 2h3m-4-9h3m-3 2h3m-6-6h3m-5 7h3m-7-11h3m-3 13h3m-14-9h3m-4-3h3m-3 28h3m-1-8h3m-3 12h3m-1-2h3m5 2h3m-3-9h3m-2-5h3m-3 4h3m-2-1h3m-3 16h3m-1-12h3m-1 15h3m-1-22h3m-2 16h3m0-15h3m-2 3h3m-3 12h3m-2-5h3m-2-8h3m0-2h3m-3 11h3m-2-11h3m-1 3h3m-1 8h3m-3-8h3m-2 4h3m-2-5h3m-2-3h3m-3 4h3m-3 6h3m-2-7h3m-2 20h3m-3-16h3m-2 7h3m-2 1h3m-3-5h3m-2 10h3m-2-7h3m-3-1h3m-3 2h3m-2-14h3m-3 3h3m-2 6h3m-3 10h3m-2-15h3m-3 6h3m-3 13h3m-2-10h3m-2-13h3m-1 17h3m-3-12h3m-3 18h3m-3-16h3m-2-5h3m-2 1h3m-2-1h3m-3 3h3m-2-3h3m-3-2h3m-1 4h3m-3 4h3m0 14h3m-3-15h3m-2-4h3m-2 16h3m-3-13h3m-2-4h3m-2-2h3m-3 4h3m-2 5h3m-2-8h3m-1 3h3m-2-3h3m-3 0h3m-1 3h3m-1 9h3m-2-12h3m-2 2h3m2 1h3m-1 0h3m6-4h3m3 17h3m36-13h3m17 6h3m-97 32h3m-9-10h3m-8-5h3m-4 10h3m-14-11h3m-9 4h3m-4-3h3m-4 4h3m-5-6h3m-3-1h3m-8 11h3m-5 0h3m-4-9h3m-6 15h3m-5-10h3m-9 11h3m-6-14h3m-6-4h3m-5 1h3m-5 17h3m23 6h3m33 7h3" stroke="#2a3aff" stroke-width="3.2" stroke-opacity="0.6"/>
<g filter="url(#blur1)">
<ellipse cx="487.6" cy="616.4" rx="12" ry="4.2" fill="#1424ff" transform="rotate(-40 487.6 616.4)"/>
<ellipse cx="487.6" cy="616.4" rx="10" ry="3.9" fill="#0050ff" transform="rotate(-40 487.6 616.4)"/>
<ellipse cx="487.6" cy="616.4" rx="7.8" ry="3.4" fill="#00a8ff" transform="rotate(-40 487.6 616.4)"/>
<ellipse cx="487.6" cy="616.4" rx="5.7" ry="2.7" fill="#10d8a0" transform="rotate(-40 487.6 616.4)"/>
<ellipse cx="487.6" cy="616.4" rx="4" ry="2.1" fill="#40e040" transform="rotate(-40 487.6 616.4)"/>
<ellipse cx="487.6" cy="616.4" rx="2" ry="1.1" fill="#a8e010" transform="rotate(-40 487.6 616.4)"/>
<ellipse cx="487.6" cy="616.4" rx="0.8" ry="0.5" fill="#e0a000" transform="rotate(-40 487.6 616.4)"/>
<ellipse cx="507" cy="591.4" rx="2.6" ry="1.7" fill="#1424ff" transform="rotate(-10 507 591.4)"/>
</g>
<line x1="498.5" y1="576.5" x2="498.5" y2="644.2" stroke="#555" stroke-width="0.8"/>
<line x1="467.5" y1="605.5" x2="534.8" y2="605.5" stroke="#555" stroke-width="0.8"/>
<line x1="469" y1="644.2" x2="469" y2="645.4" stroke="#999" stroke-width="0.4"/>
<text x="469" y="648.5" font-size="2.6" fill="#888" text-anchor="middle">10<tspan dy="-1" font-size="1.8">1</tspan></text>
<line x1="479.7" y1="644.2" x2="479.7" y2="645.4" stroke="#999" stroke-width="0.4"/>
<text x="479.7" y="648.5" font-size="2.6" fill="#888" text-anchor="middle">10<tspan dy="-1" font-size="1.8">2</tspan></text>
<line x1="490.4" y1="644.2" x2="490.4" y2="645.4" stroke="#999" stroke-width="0.4"/>
<text x="490.4" y="648.5" font-size="2.6" fill="#888" text-anchor="middle">10<tspan dy="-1" font-size="1.8">3</tspan></text>
<line x1="501.1" y1="644.2" x2="501.1" y2="645.4" stroke="#999" stroke-width="0.4"/>
<text x="501.1" y="648.5" font-size="2.6" fill="#888" text-anchor="middle">10<tspan dy="-1" font-size="1.8">4</tspan></text>
<line x1="511.9" y1="644.2" x2="511.9" y2="645.4" stroke="#999" stroke-width="0.4"/>
<text x="511.9" y="648.5" font-size="2.6" fill="#888" text-anchor="middle">10<tspan dy="-1" font-size="1.8">5</tspan></text>
<line x1="522.6" y1="644.2" x2="522.6" y2="645.4" stroke="#999" stroke-width="0.4"/>
<text x="522.6" y="648.5" font-size="2.6" fill="#888" text-anchor="middle">10<tspan dy="-1" font-size="1.8">6</tspan></text>
<line x1="533.3" y1="644.2" x2="533.3" y2="645.4" stroke="#999" stroke-width="0.4"/>
<text x="533.3" y="648.5" font-size="2.6" fill="#888" text-anchor="middle">10<tspan dy="-1" font-size="1.8">7</tspan></text>
<line x1="466.3" y1="642.7" x2="467.5" y2="642.7" stroke="#999" stroke-width="0.4"/>
<text x="465.3" y="642.7" font-size="2.6" fill="#888" text-anchor="middle" transform="rotate(-90 465.3 642.7)">10<tspan dy="-1" font-size="1.8">1</tspan></text>
<line x1="466.3" y1="629.8" x2="467.5" y2="629.8" stroke="#999" stroke-width="0.4"/>
<text x="465.3" y="629.8" font-size="2.6" fill="#888" text-anchor="middle" transform="rotate(-90 465.3 629.8)">10<tspan dy="-1" font-size="1.8">2</tspan></text>
<line x1="466.3" y1="616.8" x2="467.5" y2="616.8" stroke="#999" stroke-width="0.4"/>
<text x="465.3" y="616.8" font-size="2.6" fill="#888" text-anchor="middle" transform="rotate(-90 465.3 616.8)">10<tspan dy="-1" font-size="1.8">3</tspan></text>
<line x1="466.3" y1="603.9" x2="467.5" y2="603.9" stroke="#999" stroke-width="0.4"/>
<text x="465.3" y="603.9" font-size="2.6" fill="#888" text-anchor="middle" transform="rotate(-90 465.3 603.9)">10<tspan dy="-1" font-size="1.8">4</tspan></text>
<line x1="466.3" y1="590.9" x2="467.5" y2="590.9" stroke="#999" stroke-width="0.4"/>
<text x="465.3" y="590.9" font-size="2.6" fill="#888" text-anchor="middle" transform="rotate(-90 465.3 590.9)">10<tspan dy="-1" font-size="1.8">5</tspan></text>
<line x1="466.3" y1="578" x2="467.5" y2="578" stroke="#999" stroke-width="0.4"/>
<text x="465.3" y="578" font-size="2.6" fill="#888" text-anchor="middle" transform="rotate(-90 465.3 578)">10<tspan dy="-1" font-size="1.8">6</tspan></text>
<text x="534.3" y="584.1" font-size="8.4" text-anchor="end">11.94%</text>
<text x="458.9" y="610.4" font-size="8.6" text-anchor="middle" transform="rotate(-90 458.9 610.4)">PI-A</text>
<text x="501.1" y="657" font-size="8.6" text-anchor="middle">FITC-A</text>
<rect x="381.5" y="662.5" width="67.3" height="67.7" fill="#fff" stroke="#b4b4b4" stroke-width="0.8"/>
<path transform="scale(.25)" d="M1733 2676h3m-60 4h3m-5 5h3m-9 2h3m-4 0h3m-8-16h3m-8-7h3m-9 6h3m-35 36h3m1-4h3m9-3h3m4 10h3m-2 1h3m-1-19h3m-2 4h3m3 12h3m-3-19h3m-3 4h3m-2 17h3m-3-20h3m-1 5h3m-2 12h3m-1 3h3m-3-17h3m-3 6h3m-2 3h3m-3-7h3m-3 16h3m0-7h3m-2-11h3m-1 7h3m-3 5h3m-2 6h3m-3-2h3m-3 2h3m-1-4h3m-2-4h3m-2 8h3m-2-7h3m-3 7h3m-3-9h3m2 7h3m-3-9h3m-2 4h3m-2 0h3m-1 0h3m-2 6h3m1 0h3m-1-1h3m-2-1h3m1 1h3m43-16h3m-3 23h3m-30 20h3m-13-3h3m-4-14h3m-9 3h3m-4 10h3m-6-8h3m-6-9h3m-4-1h3m-5 5h3m-5 11h3m-3-5h3m-3 5h3m-4 0h3m-3-3h3m-4 2h3m-3 5h3m-3-19h3m-3-2h3m-4 13h3m-4-6h3m-3 6h3m-5-3h3m-4 13h3m-4-9h3m-3 7h3m-3-11h3m-4-5h3m-3 8h3m-3-9h3m-4-2h3m-4 8h3m-3-5h3m-3 0h3m-4 8h3m-3 0h3m-3 1h3m-3 8h3m-4-2h3m-3-12h3m-4-1h3m-3 4h3m-3 3h3m-3-12h3m-4 19h3m-4-4h3m-3-4h3m-3-2h3m-3 8h3m-4-6h3m-3 6h3m-3 1h3m-3 0h3m-4-15h3m-3-5h3m-3 14h3m-3 0h3m-3 7h3m-4-2h3m-3-8h3m-3 3h3m-3 9h3m-3-22h3m-3 14h3m-4 0h3m-3-10h3m-3 10h3m-3-10h3m-3 13h3m-4-4h3m-3 8h3m-3-17h3m-4 16h3m-3-20h3m-3 5h3m-3 13h3m-4-17h3m-3 17h3m-3 4h3m-4-23h3m-3 15h3m-3-13h3m-3 16h3m-4-6h3m-3 4h3m-3 3h3m-3-3h3m-4 5h3m-4-16h3m-3 14h3m-4 0h3m-3-13h3m-4-2h3m-3 8h3m-3-8h3m-4 6h3m-3-6h3m-4 9h3m-3 7h3m-4-9h3m-3 6h3m-3 0h3m-4-14h3m-3 9h3m-4-11h3m-6 17h3m-9 2h3m-11-14h3m-3 6h3m-4 9h3m-4-10h3m-4-1h3m-8-2h3m-8 8h3m-18-2h3m-6 22h3m3 8h3m11-10h3m3 4h3m-2 3h3m1 2h3m-2-17h3m-3 19h3m-2-7h3m0-8h3m-2 11h3m0 4h3m-2-10h3m-2 2h3m-2 6h3m-2 0h3m-1-3h3m0 2h3m-3-5h3m-1 9h3m-3-8h3m-3-13h3m-2 19h3m-3 3h3m-2-12h3m-3 2h3m-2 8h3m-2-3h3m-3-8h3m-2 9h3m-3-13h3m-3 15h3m-3-21h3m-3 11h3m-3 8h3m-2-6h3m-3-2h3m-2-3h3m-3-6h3m-2 1h3m-3-1h3m-3 7h3m-2-5h3m-2 4h3m-2 5h3m-3 9h3m-3-14h3m-2-3h3m-2 7h3m-3 10h3m-2-9h3m-3 2h3m-3-14h3m-3 1h3m-3 20h3m-2-17h3m-3 12h3m-3 5h3m-3-19h3m-3 11h3m-2 5h3m-3-2h3m-1-15h3m-3 8h3m-3 7h3m-3 6h3m-3-8h3m-2-4h3m-3-4h3m-2 5h3m-3-10h3m-2 12h3m-3-4h3m-3-1h3m-3 1h3m-3-2h3m-2 9h3m-3-1h3m-3-6h3m-3-5h3m-2 9h3m-3 5h3m-3 1h3m-2-17h3m-3 19h3m-3-15h3m-2 15h3m-3-19h3m-3 7h3m-3-8h3m-2 4h3m-3-5h3m-3 12h3m-3 0h3m-2-13h3m-3 5h3m-2 3h3m-3 3h3m-3-11h3m-2 8h3m-2 10h3m-2 1h3m-3-4h3m-2 4h3m-2-9h3m-3 8h3m-3-18h3m-3 23h3m-3-4h3m-2-5h3m-2 1h3m-3-13h3m-2 9h3m-2 9h3m-2-1h3m-2-5h3m0 2h3m-1 7h3m0-7h3m0-7h3m2 32h3m-12 0h3m-7 1h3m-4-9h3m-6 7h3m-8 6h3m-3-21h3m-4 0h3m-4 0h3m-3 2h3m-4-1h3m-3 16h3m-4-10h3m-4-5h3m-3 3h3m-4 1h3m-3 9h3m-4 0h3m-3-4h3m-3-7h3m-3 0h3m-3 0h3m-4 10h3m-4 0h3m-3-2h3m-4 9h3m-3 1h3m-3-16h3m-4 2h3m-3-7h3m-3 6h3m-3-8h3m-4 3h3m-4 2h3m-3 17h3m-3-13h3m-3 4h3m-3-1h3m-4-3h3m-3-6h3m-3 19h3m-4-19h3m-4 17h3m-5-20h3m-3 4h3m-4 0h3m-3 8h3m-4 0h3m-3-9h3m-3-2h3m-3 19h3m-4-17h3m-3 11h3m-3-13h3m-3 3h3m-3 7h3m-4 4h3m-3-2h3m-3 0h3m-3-13h3m-4 2h3m-3 14h3m-3-8h3m-3-4h3m-4 13h3m-4-9h3m-3 10h3m-4-12h3m-3 11h3m-3 0h3m-3-17h3m-4 9h3m-3 14h3m-3-7h3m-3-2h3m-4-7h3m-3-7h3m-5 20h3m-3 1h3m-3-17h3m-3 19h3m-3-7h3m-4 3h3m-4-12h3m-4-4h3m-3 20h3m-3-22h3m-3 14h3m-4 1h3m-3-11h3m-3-4h3m-4 19h3m-3-8h3m-4-2h3m-3-2h3m-3 0h3m-3 1h3m-4 9h3m-3 2h3m-3-13h3m-4 4h3m-4-4h3m-3 9h3m-3-14h3m-4-2h3m-3 5h3m-4 12h3m-3 1h3m-3-9h3m-3 14h3m-3 0h3m-4-14h3m-3 13h3m-4-9h3m-3-2h3m-4-1h3m-4 10h3m-3-9h3m-4 7h3m-3 2h3m-3-4h3m-3-4h3m-4-1h3m-3-3h3m-3 7h3m-3 7h3m-4-7h3m-3-7h3m-3 1h3m-5 1h3m-3 5h3m-3-15h3m-3 14h3m-3-1h3m-4-9h3m-4 5h3m-3-8h3m-4 20h3m-3-8h3m-4 7h3m-3-17h3m-4 18h3m-3-2h3m-4 3h3m-3-1h3m-4-11h3m-3 1h3m-3 1h3m-3 6h3m-4-4h3m-3-6h3m-4 15h3m-3-16h3m-4-4h3m-4 19h3m-3-5h3m-4-3h3m-3-2h3m-4 6h3m-3-2h3m-4-16h3m-4 19h3m-3-7h3m-4 8h3m-5 3h3m-3 0h3m-5-5h3m-4 3h3m-3 2h3m-6-2h3m-3-5h3m-4 5h3m-4-16h3m-3 16h3m-6-6h3m-5-14h3m-5 18h3m-10 4h3m-12-4h3m-27 27h3m11-5h3m2-2h3m-1-8h3m-2 12h3m-2-11h3m-2 10h3m-2-6h3m-2 11h3m-1-1h3m-2-6h3m-1-7h3m-3 0h3m-2 14h3m-3-6h3m-2 3h3m-3-9h3m-3 5h3m-3-13h3m-3 8h3m-2 2h3m-2 3h3m-3-14h3m-3 10h3m-2 2h3m-2 0h3m-3 5h3m-2 3h3m-3-2h3m-2-15h3m-3 6h3m-3 12h3m-2-7h3m-3 5h3m-3-5h3m-2-4h3m-3 8h3m-2-6h3m-3 4h3m-3-5h3m-2 8h3m-3-15h3m-2 15h3m-3-14h3m-2 3h3m-2 13h3m-2-22h3m-3-1h3m-3 15h3m-3-12h3m-2 5h3m-3-3h3m-3 6h3m-3-2h3m-3 7h3m-2-3h3m-3 0h3m-3 10h3m-3-15h3m-3-6h3m-3 13h3m-2 7h3m-3-10h3m-3 4h3m-3-16h3m-3 6h3m-3 0h3m-3 4h3m-2 6h3m-3 2h3m-3 4h3m-3-8h3m-3-8h3m-2 15h3m-3-14h3m-3 15h3m-3-21h3m-3 5h3m-2 16h3m-3-22h3m-3 21h3m-3-4h3m-2-7h3m-3 8h3m-3-16h3m-3 18h3m-3-2h3m-2-16h3m-2 3h3m-2 11h3m-3-9h3m-3 3h3m-3-10h3m-3 19h3m-2 1h3m-3-15h3m-3 0h3m-3 6h3m-3-2h3m-2-2h3m-3 7h3m-2-6h3m-3 7h3m-3-3h3m-3-12h3m-3 22h3m-3-15h3m-3 0h3m-3 11h3m-2-12h3m-3 10h3m-3-9h3m-3 15h3m-3-21h3m-3 7h3m-2 13h3m-3-6h3m-3-14h3m-3 13h3m-2-7h3m-3-2h3m-3 13h3m-3-7h3m-3 2h3m-2-3h3m-3-4h3m-3 14h3m-3-19h3m-2 18h3m-3-5h3m-3-11h3m-3-2h3m-2 19h3m-3-4h3m-3-15h3m-3 1h3m-3 5h3m-2 6h3m-3-11h3m-3 8h3m-3-9h3m-2 9h3m-3 9h3m-3-10h3m-3-2h3m-3-6h3m-2 1h3m-3 8h3m-3-6h3m-2 9h3m-2-10h3m-3 10h3m-3 2h3m-3-7h3m-2 9h3m-3-14h3m-3 18h3m-2-20h3m-3 2h3m-3 4h3m-3 4h3m-3-6h3m-3 0h3m-2 1h3m-3 13h3m-3-4h3m-3 6h3m-3-17h3m-2-4h3m-3 23h3m-2-9h3m-3 3h3m-3-10h3m-2-1h3m-3 7h3m-2-7h3m-1-3h3m-2 2h3m-3 0h3m-3-3h3m-3 19h3m-3-13h3m-3 14h3m-1-11h3m-3 4h3m-3-10h3m-2 1h3m-2 2h3m-3 4h3m-2 7h3m-2-6h3m-2 2h3m-2-14h3m-2 0h3m-2 3h3m-3 5h3m-2-7h3m-3 5h3m-2-5h3m-3 9h3m-3-9h3m-3 8h3m-2-6h3m-3 3h3m-2 14h3m-3-7h3m-3-8h3m-3 10h3m-3-5h3m-3 7h3m-2-16h3m-3 13h3m-3 1h3m-3-11h3m-2 5h3m-3 9h3m-3-12h3m-1 15h3m-3-20h3m-3 9h3m-1-7h3m0 0h3m-3-4h3m-2 10h3m-2-2h3m-3 2h3m-1-2h3m-3 1h3m-1-2h3m-2-7h3m-2 5h3m0 12h3m-2-3h3m3-9h3m0 0h3m0 1h3m0-4h3m0 12h3m17-12h3m18 16h3m-30 8h3m-24 11h3m-16-10h3m-5 11h3m-3-11h3m-6 13h3m-6-10h3m-8 2h3m-6 9h3m-5-2h3m-6-11h3m-5 0h3m-4 16h3m-4-15h3m-4 9h3m-4 1h3m-4-3h3m-3-7h3m-9 6h3m-6 4h3m-3-4h3m-4-6h3m-4-3h3m-3 0h3m-6 4h3m-7-4h3m-4 16h3m-3 0h3m-3-17h3m-3-1h3m-4 22h3m-3-19h3m-4 15h3m-3-6h3m-3-9h3m-3-2h3m-3 5h3m-4-3h3m-3-3h3m-3 10h3m-3-6h3m-4 11h3m-3-5h3m-3 4h3m-3-11h3m-5 8h3m-3-4h3m-3 3h3m-3 1h3m-3 8h3m-4-18h3m-3 11h3m-3 11h3m-3-4h3m-3-12h3m-4-5h3m-3-2h3m-3 8h3m-4 1h3m-3 3h3m-3 6h3m-3-8h3m-3-7h3m-4 15h3m-4-10h3m-3 2h3m-3-3h3m-4 4h3m-3 10h3m-3-12h3m-3-6h3m-3 3h3m-4 7h3m-3-10h3m-3 7h3m-3 9h3m-3-5h3m-4-8h3m-3 5h3m-3-8h3m-3 2h3m-3-2h3m-3 4h3m-4 1h3m-3-8h3m-3 7h3m-4-4h3m-3 4h3m-3 10h3m-3-8h3m-4 2h3m-3 2h3m-3-8h3m-3 10h3m-3-3h3m-3-7h3m-3 4h3m-3-2h3m-4 0h3m-3 16h3m-4-8h3m-3 5h3m-3 0h3m-3-14h3m-4 1h3m-3-4h3m-4 14h3m-3-15h3m-3 15h3m-3-14h3m-4 10h3m-3 1h3m-3-8h3m-3 2h3m-3 4h3m-3-6h3m-3 13h3m-3-11h3m-4-7h3m-3 3h3m-3 16h3m-4-3h3m-3-10h3m-3-6h3m-3 12h3m-4 1h3m-3 0h3m-3 2h3m-3-16h3m-4 4h3m-3-4h3m-3 20h3m-4-8h3m-4-2h3m-3-9h3m-4 9h3m-3 9h3m-4-13h3m-3 0h3m-3 17h3m-3 0h3m-3-19h3m-3 8h3m-4-12h3m-3 15h3m-3 7h3m-3-13h3m-3 14h3m-4-3h3m-4-11h3m-4-5h3m-3 3h3m-4-2h3m-3 1h3m-3-2h3m-3 5h3m-3-9h3m-3 14h3m-4-5h3m-3 10h3m-3-12h3m-3-5h3m-3 7h3m-4 12h3m-4-2h3m-4-3h3m-3-11h3m-3 17h3m-3-8h3m-3-13h3m-4 2h3m-3 20h3m-3-18h3m-3 12h3m-3-10h3m-4 10h3m-3-1h3m-3 0h3m-3-10h3m-3 16h3m-3-4h3m-3 2h3m-4 0h3m-3-5h3m-4-11h3m-3 11h3m-4-10h3m-3 9h3m-3-1h3m-3 2h3m-3-7h3m-3 4h3m-3 1h3m-4-1h3m-3 8h3m-4-19h3m-3 11h3m-3-5h3m-3 5h3m-3 11h3m-3-5h3m-3 0h3m-3-14h3m-3 3h3m-3 9h3m-3-9h3m-4 0h3m-3 8h3m-3 8h3m-3-1h3m-3-17h3m-4 11h3m-3 2h3m-4 0h3m-3-4h3m-3-10h3m-4 16h3m-5 3h3m-3-7h3m-4-16h3m-3 6h3m-3 7h3m-5 2h3m-3-12h3m-3 12h3m-4-3h3m-4 5h3m-3 4h3m-5-9h3m-4 10h3m-4-4h3m-3 3h3m-4-1h3m-5-4h3m-5 6h3m-3-22h3m-3 18h3m-3-1h3m-7-11h3m-4 12h3m-4-16h3m-6 2h3m-6 3h3m-6 13h3m-6-2h3m-15 22h3m-2 2h3m-2 0h3m-2 1h3m-2-15h3m-1-4h3m-2 23h3m-3-5h3m-1-2h3m-3 1h3m1 6h3m-1-17h3m-2 6h3m-1 4h3m-2 5h3m-3-14h3m-2 5h3m-2 9h3m-2-20h3m-2 14h3m-1-6h3m-1 4h3m-2-10h3m-3 12h3m-3-11h3m-3 14h3m-3 5h3m-2-22h3m-1 14h3m-3-1h3m-2 9h3m-3-8h3m-2-6h3m-2 9h3m-2-11h3m-3 1h3m-3 14h3m-2-16h3m-3 14h3m-2-18h3m-3 8h3m-3-8h3m-2 5h3m-2 14h3m-3-12h3m-3-6h3m-2 20h3m-2-4h3m-3-8h3m-3-11h3m-2 17h3m-3-15h3m-1-1h3m-2 17h3m-3-12h3m-3 3h3m-2 7h3m-3-2h3m-2-3h3m-2 11h3m-3-14h3m-3 9h3m-3-3h3m-3 4h3m-2-15h3m-3 2h3m-3 13h3m-2-8h3m-1 10h3m-3-10h3m-3-5h3m-2 0h3m-3-5h3m-3 7h3m-3-6h3m-2-1h3m-2 17h3m-3-1h3m-3-13h3m-2 10h3m-2-6h3m-3 9h3m-2 1h3m-3-9h3m-3-5h3m-3 2h3m-3 1h3m-3 11h3m-3-12h3m-2 2h3m-3-5h3m-3 2h3m-1-4h3m-3 0h3m-2 4h3m-3-4h3m-3 16h3m-1-15h3m-3 19h3m-2-3h3m-3-14h3m-2 19h3m-2-17h3m-1-4h3m-2 6h3m-2-3h3m-2 6h3m-2-3h3m0-7h3m-3 11h3m-3 1h3m0-10h3m-2 1h3m2 9h3m0-9h3m3 1h3m1-4h3m19 5h3m7 37h3m-60-10h3m-14 9h3m-4-16h3m-3 6h3m-4-5h3m-15 3h3m-8-3h3m-3-1h3m-6 7h3m-6-7h3m-3 6h3m-3 6h3m-4 3h3m-5-7h3m-4-2h3m-4 10h3m-3 1h3m-8-12h3m-3-4h3m-4 0h3m-3 10h3m-3 2h3m-3-10h3m-4 16h3m-4 3h3m-5-3h3m-4 1h3m-3-17h3m-4 2h3m-4 10h3m-3-10h3m-8 16h3m-8-15h3m-9 0h3m-3 4h3m-4-3h3m-4-8h3m-5 15h3m0 32h3m22-17h3m-1 14h3" stroke="#2a3aff" stroke-width="3.2" stroke-opacity="0.6"/>
<g filter="url(#blur1)">
<ellipse cx="402" cy="702.6" rx="12" ry="3.8" fill="#1424ff" transform="rotate(-40 402 702.6)"/>
<ellipse cx="402" cy="702.6" rx="10" ry="3.6" fill="#0050ff" transform="rotate(-40 402 702.6)"/>
<ellipse cx="402" cy="702.6" rx="7.8" ry="3.1" fill="#00a8ff" transform="rotate(-40 402 702.6)"/>
<ellipse cx="402" cy="702.6" rx="5.7" ry="2.5" fill="#10d8a0" transform="rotate(-40 402 702.6)"/>
<ellipse cx="402" cy="702.6" rx="4" ry="1.9" fill="#40e040" transform="rotate(-40 402 702.6)"/>
<ellipse cx="402" cy="702.6" rx="2" ry="1" fill="#a8e010" transform="rotate(-40 402 702.6)"/>
<ellipse cx="402" cy="702.6" rx="0.8" ry="0.4" fill="#e0a000" transform="rotate(-40 402 702.6)"/>
<ellipse cx="417.4" cy="683.5" rx="1.5" ry="3.4" fill="#1424ff" transform="rotate(-10 417.4 683.5)"/>
</g>
<line x1="412.5" y1="662.5" x2="412.5" y2="730.2" stroke="#555" stroke-width="0.8"/>
<line x1="381.5" y1="690.5" x2="448.8" y2="690.5" stroke="#555" stroke-width="0.8"/>
<line x1="383" y1="730.2" x2="383" y2="731.4" stroke="#999" stroke-width="0.4"/>
<text x="383" y="734.5" font-size="2.6" fill="#888" text-anchor="middle">10<tspan dy="-1" font-size="1.8">1</tspan></text>
<line x1="393.7" y1="730.2" x2="393.7" y2="731.4" stroke="#999" stroke-width="0.4"/>
<text x="393.7" y="734.5" font-size="2.6" fill="#888" text-anchor="middle">10<tspan dy="-1" font-size="1.8">2</tspan></text>
<line x1="404.4" y1="730.2" x2="404.4" y2="731.4" stroke="#999" stroke-width="0.4"/>
<text x="404.4" y="734.5" font-size="2.6" fill="#888" text-anchor="middle">10<tspan dy="-1" font-size="1.8">3</tspan></text>
<line x1="415.1" y1="730.2" x2="415.1" y2="731.4" stroke="#999" stroke-width="0.4"/>
<text x="415.1" y="734.5" font-size="2.6" fill="#888" text-anchor="middle">10<tspan dy="-1" font-size="1.8">4</tspan></text>
<line x1="425.9" y1="730.2" x2="425.9" y2="731.4" stroke="#999" stroke-width="0.4"/>
<text x="425.9" y="734.5" font-size="2.6" fill="#888" text-anchor="middle">10<tspan dy="-1" font-size="1.8">5</tspan></text>
<line x1="436.6" y1="730.2" x2="436.6" y2="731.4" stroke="#999" stroke-width="0.4"/>
<text x="436.6" y="734.5" font-size="2.6" fill="#888" text-anchor="middle">10<tspan dy="-1" font-size="1.8">6</tspan></text>
<line x1="447.3" y1="730.2" x2="447.3" y2="731.4" stroke="#999" stroke-width="0.4"/>
<text x="447.3" y="734.5" font-size="2.6" fill="#888" text-anchor="middle">10<tspan dy="-1" font-size="1.8">7</tspan></text>
<line x1="380.3" y1="728.7" x2="381.5" y2="728.7" stroke="#999" stroke-width="0.4"/>
<text x="379.3" y="728.7" font-size="2.6" fill="#888" text-anchor="middle" transform="rotate(-90 379.3 728.7)">10<tspan dy="-1" font-size="1.8">1</tspan></text>
<line x1="380.3" y1="715.8" x2="381.5" y2="715.8" stroke="#999" stroke-width="0.4"/>
<text x="379.3" y="715.8" font-size="2.6" fill="#888" text-anchor="middle" transform="rotate(-90 379.3 715.8)">10<tspan dy="-1" font-size="1.8">2</tspan></text>
<line x1="380.3" y1="702.8" x2="381.5" y2="702.8" stroke="#999" stroke-width="0.4"/>
<text x="379.3" y="702.8" font-size="2.6" fill="#888" text-anchor="middle" transform="rotate(-90 379.3 702.8)">10<tspan dy="-1" font-size="1.8">3</tspan></text>
<line x1="380.3" y1="689.9" x2="381.5" y2="689.9" stroke="#999" stroke-width="0.4"/>
<text x="379.3" y="689.9" font-size="2.6" fill="#888" text-anchor="middle" transform="rotate(-90 379.3 689.9)">10<tspan dy="-1" font-size="1.8">4</tspan></text>
<line x1="380.3" y1="676.9" x2="381.5" y2="676.9" stroke="#999" stroke-width="0.4"/>
<text x="379.3" y="676.9" font-size="2.6" fill="#888" text-anchor="middle" transform="rotate(-90 379.3 676.9)">10<tspan dy="-1" font-size="1.8">5</tspan></text>
<line x1="380.3" y1="664" x2="381.5" y2="664" stroke="#999" stroke-width="0.4"/>
<text x="379.3" y="664" font-size="2.6" fill="#888" text-anchor="middle" transform="rotate(-90 379.3 664)">10<tspan dy="-1" font-size="1.8">6</tspan></text>
<text x="448.3" y="670.1" font-size="8.4" text-anchor="end">10.44%</text>
<text x="372.9" y="696.4" font-size="8.6" text-anchor="middle" transform="rotate(-90 372.9 696.4)">PI-A</text>
<text x="415.1" y="743" font-size="8.6" text-anchor="middle">FITC-A</text>
<rect x="467.5" y="662.5" width="67.3" height="67.7" fill="#fff" stroke="#b4b4b4" stroke-width="0.8"/>
<path transform="scale(.25)" d="M1961 2657h3m-2 6h3m40-3h3m52 27h3m-8-12h3m-15 2h3m-5 5h3m-5-16h3m-8 16h3m-3 0h3m-6 5h3m-4-1h3m-9-14h3m-4 14h3m-7-1h3m-5 2h3m-9-2h3m-4 1h3m-5-6h3m-7 5h3m-6-17h3m-3 15h3m-4 3h3m-6 1h3m-7-2h3m-4-11h3m-7-4h3m-8 12h3m-6 4h3m-5-7h3m-16 3h3m-10-11h3m-31 5h3m-17-3h3m-21-2h3m24 37h3m0 1h3m-3-10h3m27 11h3m-1-8h3m-2 8h3m-2 0h3m4-12h3m4 13h3m-2-10h3m-2-9h3m-1 17h3m-2-2h3m-2-15h3m-2 7h3m-3 0h3m-3 3h3m-2 1h3m-3 0h3m-2 6h3m-2-8h3m-3 1h3m-3-1h3m-2 10h3m-3-2h3m1-15h3m-3 5h3m-2 0h3m-3 7h3m-2-8h3m-2 4h3m-2-3h3m-3 3h3m-3-3h3m-2 8h3m-2-5h3m-3 6h3m-2-3h3m-3-10h3m-2 16h3m-3-17h3m-3-3h3m-2 13h3m-3 4h3m-3-18h3m-2 5h3m-3 8h3m-3-14h3m-3 15h3m-3 3h3m-2 0h3m-3 2h3m-3 1h3m-2-9h3m-3 6h3m-3 2h3m-3-10h3m-3-7h3m-2 16h3m-2-7h3m-3 7h3m-3-8h3m-3-10h3m-3 6h3m-2 11h3m-2 4h3m-3 0h3m-3-12h3m-3 2h3m-3 5h3m-2 4h3m-3-10h3m-3 7h3m-3-2h3m-3-2h3m-3-2h3m-2 7h3m-3-12h3m-3-1h3m-2 0h3m-3 10h3m-2 6h3m-2-13h3m-3 8h3m-3-3h3m-3-13h3m-3 5h3m-3 2h3m-2 10h3m-3-8h3m-3-6h3m-3 3h3m-3 8h3m-3-1h3m-3-4h3m-3-2h3m-3 6h3m-3 6h3m-3-1h3m-3-8h3m-2 10h3m-3-18h3m-3 13h3m-3-12h3m-2 4h3m-3-5h3m-3-2h3m-3 20h3m-3 1h3m-3-12h3m-2 11h3m-2-5h3m-3-7h3m-3 13h3m-2-6h3m-2 0h3m-3-1h3m-3 4h3m-3-3h3m-3 0h3m-2 5h3m-3-10h3m-3 5h3m-3 4h3m-2 0h3m-3 0h3m-3 2h3m-3-8h3m-3 1h3m-3 6h3m-3-16h3m-2-2h3m-3 11h3m-3 7h3m-3-11h3m-3 1h3m-2-1h3m-3 11h3m-3-1h3m-3 1h3m-3-8h3m-3 2h3m-2 3h3m-3 4h3m-3-18h3m-3 13h3m-3 5h3m-2-23h3m-3 3h3m-2 5h3m-3 10h3m-3-17h3m-3 1h3m-3 10h3m-3-6h3m-3-4h3m-3 1h3m-3 11h3m-2-6h3m-3 14h3m-3-10h3m-2 5h3m-3 0h3m-3-7h3m-3-4h3m-3-1h3m-3 7h3m-1 11h3m-3-6h3m-3-12h3m-3-1h3m-3 11h3m-2 5h3m-3-8h3m-3-5h3m-1 14h3m-2-11h3m-3 7h3m-3-6h3m-2 6h3m-3-6h3m-2 1h3m-2 7h3m-3-15h3m-3 13h3m-2-15h3m-3 19h3m-2 0h3m-3 2h3m-3-6h3m-1-16h3m-3 1h3m-3 18h3m-2-13h3m-3 3h3m-2 3h3m-2 6h3m-3 0h3m-3-7h3m-2-8h3m-2 12h3m0-12h3m-3 2h3m-1 2h3m-1 3h3m-2 10h3m-1-16h3m-3 6h3m-3 12h3m-2-21h3m2 8h3m8 10h3m17-1h3m16 13h3m-50 4h3m-6-3h3m-4-5h3m-9 8h3m-7 6h3m-3-4h3m-4 1h3m-7-3h3m-4-4h3m-4-7h3m-4 3h3m-4-2h3m-4-2h3m-3 11h3m-4-10h3m-3 7h3m-3-3h3m-4 5h3m-3-5h3m-3-2h3m-3 11h3m-5-14h3m-7 21h3m-3 1h3m-5-22h3m-4 0h3m-4 23h3m-3-16h3m-4 3h3m-3 13h3m-5-22h3m-3 1h3m-3 4h3m-3-6h3m-3 16h3m-4-14h3m-3 14h3m-3-14h3m-3 5h3m-4 3h3m-3-6h3m-4 7h3m-3-9h3m-3-1h3m-3 18h3m-4-6h3m-4-12h3m-3 15h3m-3-13h3m-3 4h3m-3 3h3m-3-6h3m-4 5h3m-3-1h3m-3 15h3m-4-13h3m-3-5h3m-3 16h3m-3-1h3m-3-16h3m-4 0h3m-3-1h3m-3 7h3m-3-5h3m-4 12h3m-3-5h3m-3-12h3m-3 2h3m-3 8h3m-4 13h3m-3-18h3m-3 4h3m-3 6h3m-3 5h3m-4-3h3m-4-16h3m-3 0h3m-4 2h3m-3 4h3m-3-3h3m-3-3h3m-3 5h3m-4 11h3m-3 0h3m-3-17h3m-3 10h3m-3 1h3m-3 12h3m-4-7h3m-3-6h3m-3-7h3m-3-2h3m-3 10h3m-3-9h3m-3 11h3m-3-5h3m-4-6h3m-3 0h3m-3 15h3m-3-5h3m-3-6h3m-3-3h3m-4 2h3m-3 1h3m-3 7h3m-3-5h3m-4-8h3m-3 15h3m-3 0h3m-3 5h3m-4-10h3m-3-6h3m-3 4h3m-3 13h3m-3-7h3m-4-6h3m-3-4h3m-4 11h3m-3-14h3m-3 8h3m-3-1h3m-3-4h3m-4-1h3m-3 8h3m-4-7h3m-3 5h3m-3 0h3m-4 4h3m-3-9h3m-4 17h3m-3-1h3m-3-2h3m-3-8h3m-4-3h3m-3-1h3m-3 14h3m-3-6h3m-3-6h3m-4-2h3m-4 6h3m-3-10h3m-3 3h3m-4 15h3m-4-12h3m-3 2h3m-4-8h3m-3 5h3m-3 10h3m-3-9h3m-3-1h3m-4 6h3m-3-8h3m-4 5h3m-4-1h3m-3-5h3m-4 4h3m-3-3h3m-3 7h3m-5 6h3m-3-7h3m-5 11h3m-3-11h3m-5 6h3m-6-2h3m-3-15h3m-3 17h3m-5-1h3m-3-4h3m-4-8h3m-3 15h3m-5-11h3m-3 15h3m-4-13h3m-4-4h3m-3 16h3m-4-6h3m-5 4h3m-4-6h3m-4 9h3m-4-4h3m-4 1h3m-5-10h3m-4 11h3m-7-1h3m-4 2h3m-4 1h3m-7-1h3m-5-3h3m-7-16h3m-11 9h3m-5 1h3m-5 7h3m-3-3h3m-7 0h3m-6-14h3m-7 15h3m-24 13h3m4 11h3m0-3h3m1-2h3m1-3h3m-2-5h3m4 17h3m3-10h3m8-11h3m-3 11h3m-1-12h3m-2 19h3m4-8h3m-3 0h3m-2 10h3m0-1h3m-1-12h3m1 4h3m-3-3h3m-1 2h3m-2-7h3m-3 10h3m-3-10h3m-2 17h3m-2-3h3m-3 3h3m-2-18h3m-2 0h3m0 20h3m-3-13h3m0 6h3m-3-9h3m-1 14h3m-1-3h3m-3 2h3m-2 0h3m-2 3h3m-3-11h3m-2 8h3m-2-18h3m-2 7h3m-3 4h3m-3 3h3m-3 0h3m-1-5h3m-3-7h3m-1-3h3m-2 15h3m-3 2h3m-2-2h3m-3 2h3m-2-8h3m-3 9h3m-3-5h3m-3 9h3m-3-11h3m-2 5h3m-3-17h3m-3 0h3m-3 4h3m-2-3h3m-3 3h3m-3 8h3m-1 0h3m-2 10h3m0-9h3m-2 8h3m-3-6h3m-2 8h3m-2-5h3m-3 4h3m-3-12h3m-3-1h3m-2 11h3m-2-19h3m-3 18h3m-2-12h3m-3 16h3m-2-8h3m-3 5h3m-2-9h3m-3-2h3m-2 4h3m-3 4h3m-3-11h3m-3-1h3m-3 17h3m-2-1h3m-1-18h3m-2 0h3m-2 19h3m-3-6h3m-2-3h3m-2-13h3m1 19h3m-3-19h3m-3 5h3m-2-3h3m-2 7h3m-3 2h3m3-10h3m-2 17h3m-3-10h3m-3-1h3m-2 13h3m-2-5h3m-2 5h3m-3-8h3m-2-5h3m-1 2h3m-1 12h3m-3-20h3m-1 1h3m9 2h3m7 19h3m0-12h3m-5 15h3m-10-2h3m-18 3h3m-3 7h3m-3 4h3m-6 4h3m-7-8h3m-5-2h3m-4 14h3m-10-9h3m-6-2h3m-4-10h3m-3-1h3m-4 16h3m-3-10h3m-3-5h3m-3 7h3m-3 1h3m-7-6h3m-3 6h3m-4-6h3m-4 14h3m-3-6h3m-4 11h3m-4-10h3m-3-1h3m-4 8h3m-3 1h3m-4-11h3m-3-6h3m-5 5h3m-4-6h3m-3 9h3m-3-11h3m-4 20h3m-4-14h3m-3 14h3m-3-18h3m-5-1h3m-3 1h3m-4 9h3m-3 7h3m-3 5h3m-3-16h3m-3-4h3m-4 9h3m-3-8h3m-5 15h3m-3-5h3m-3 2h3m-3-4h3m-3-5h3m-3 12h3m-4-14h3m-3 10h3m-3-12h3m-4-2h3m-5 20h3m-3-16h3m-3 16h3m-3-12h3m-3-1h3m-3-2h3m-4-3h3m-3 20h3m-3-13h3m-3 10h3m-3-1h3m-4 4h3m-4-12h3m-3-4h3m-3-5h3m-3 18h3m-4 3h3m-3-5h3m-3-4h3m-3 8h3m-3-6h3m-4 4h3m-3-1h3m-3-6h3m-4-7h3m-3 15h3m-3-2h3m-3-2h3m-4-14h3m-4 2h3m-4-5h3m-3 15h3m-3 3h3m-4-13h3m-3 7h3m-4 3h3m-4-15h3m-3 5h3m-3 8h3m-3 6h3m-4-18h3m-3 13h3m-3-6h3m-3 5h3m-4-5h3m-3-5h3m-4 17h3m-4-8h3m-3 2h3m-3 4h3m-3-3h3m-3 3h3m-3-8h3m-4 8h3m-3-7h3m-3-9h3m-4 0h3m-3 21h3m-3-23h3m-4 0h3m-4 22h3m-4-2h3m-3-14h3m-4-4h3m-3-1h3m-3 15h3m-3-1h3m-3-8h3m-4 16h3m-3-12h3m-5-5h3m-3 10h3m-3 6h3m-3-18h3m-4 8h3m-3-10h3m-4 10h3m-4 11h3m-3-10h3m-3 9h3m-4-9h3m-3-5h3m-3 4h3m-4-3h3m-3 9h3m-3 3h3m-3-11h3m-4 8h3m-4-1h3m-3-16h3m-3 6h3m-4 15h3m-3 1h3m-3-12h3m-4 8h3m-3 3h3m-3-2h3m-5 0h3m-4-3h3m-3 1h3m-4 1h3m-3 0h3m-3 3h3m-4-2h3m-3-3h3m-3 1h3m-4 3h3m-3-7h3m-4 2h3m-3-6h3m-3-8h3m-3 14h3m-4-7h3m-4 1h3m-4 7h3m-3-8h3m-3 2h3m-3 0h3m-4 11h3m-3-4h3m-5-10h3m-5 12h3m-5-16h3m-4 13h3m-4 0h3m-3-8h3m-4 1h3m-7-3h3m-4 15h3m-3-3h3m-8 4h3m-3-4h3m-6 0h3m-8 0h3m-8-10h3m-9-6h3m-22 18h3m-3-21h3m6 40h3m7 1h3m0-4h3m-2 4h3m0-5h3m-3-1h3m-3 2h3m-1 6h3m-1-16h3m-1 17h3m-3 3h3m-3-11h3m-2 3h3m-2 5h3m-3 3h3m-1-9h3m-3 3h3m-3 2h3m-2-8h3m-3-10h3m-2 8h3m-3 14h3m-2-16h3m-2 13h3m-3 1h3m-3-7h3m-2 6h3m-3-8h3m-3 4h3m-2-4h3m-2 3h3m-3 3h3m-3 0h3m-3-11h3m-3 1h3m-3 1h3m-3 9h3m-2 4h3m-3-10h3m-3 4h3m-3-6h3m-2 5h3m-3-10h3m-2 9h3m-3-10h3m-2 12h3m-3 0h3m-2-3h3m-3-6h3m-2 6h3m-2-1h3m-3-1h3m-3 0h3m-3 3h3m-2 1h3m-2-10h3m-3 6h3m-3-9h3m-3 6h3m-3-5h3m-3 14h3m-3 3h3m-2-12h3m-3 4h3m-2 9h3m-3-19h3m-2 10h3m-3 11h3m-3-13h3m-3 7h3m-3 2h3m-2-12h3m-3-7h3m-3 21h3m-3-6h3m-3 1h3m-3-13h3m-2 14h3m-3 3h3m-3-2h3m-3-16h3m-2 17h3m-3-2h3m-2-4h3m-3 6h3m-3-9h3m-3 5h3m-3-9h3m-3 8h3m-3 0h3m-3 7h3m-2-21h3m-3 15h3m-3 6h3m-3-11h3m-3-4h3m-3 17h3m-2-6h3m-3 6h3m-2-14h3m-3 6h3m-3-4h3m-3-5h3m-2 15h3m-3-6h3m-3 5h3m-3-11h3m-2 4h3m-3-11h3m-2-2h3m-3 14h3m-3-1h3m-3-11h3m-3 18h3m-3-5h3m-3 8h3m-3-3h3m-3-15h3m-2 4h3m-3 8h3m-3-7h3m-3-7h3m-2 11h3m-3 4h3m-3-6h3m-3-2h3m-3-6h3m-2 10h3m-3-2h3m-3 2h3m-3 5h3m-3-15h3m-3 9h3m-3 3h3m-3 6h3m-3-16h3m-2 15h3m-3-9h3m-3-4h3m-3 4h3m-3 6h3m-3-18h3m-2 3h3m-3 0h3m-3 15h3m-3 3h3m-3-8h3m-3 3h3m-2 5h3m-3-9h3m-3-12h3m-2 7h3m-2 15h3m-3-21h3m-2 11h3m-3 8h3m-3-1h3m-3-11h3m-2 7h3m-3-2h3m-3-1h3m-3 1h3m-3-12h3m-2 5h3m-3 2h3m-3 0h3m-3-8h3m-3 10h3m-2 0h3m-3 4h3m-2-9h3m-3 18h3m-3-4h3m-2-16h3m-2 7h3m-3-9h3m-3 11h3m-3 4h3m-2-9h3m-3-5h3m-3-2h3m-3 12h3m-3 5h3m-3-13h3m-1 11h3m-2 1h3m-3-10h3m-3 7h3m-2-2h3m-2-9h3m-3 10h3m-3-6h3m-3 14h3m-3-9h3m-2 8h3m-1-19h3m-3 18h3m-2 0h3m-3-2h3m-2-9h3m-3-2h3m-2-2h3m-3 11h3m-3-13h3m-2 6h3m-3 13h3m-2-15h3m-3 13h3m-3-11h3m-3 8h3m-2-14h3m-3 21h3m-3-15h3m-3-7h3m-3 20h3m-1-5h3m-3 6h3m-3-4h3m-3-7h3m-2-9h3m-3 7h3m-2-3h3m-3-4h3m-2 0h3m-3 9h3m-3-6h3m-2 2h3m-3-6h3m0 5h3m-2 9h3m-2-1h3m-2-11h3m2 7h3m0 3h3m1-6h3m0-4h3m2 4h3m-2-3h3m-2 19h3m3 1h3m-1-5h3m13-17h3m58 12h3m-74 19h3m-39 0h3m-6-8h3m-3 3h3m-12-2h3m-3 15h3m-6-12h3m-5 1h3m-3 3h3m-5-1h3m-4-5h3m-4 13h3m-4-12h3m-4 0h3m-4 4h3m-4-2h3m-5 14h3m-3-18h3m-3 3h3m-4 11h3m-3 0h3m-3 4h3m-4-18h3m-4 3h3m-4 9h3m-5-12h3m-4 7h3m-3 3h3m-3-2h3m-4 1h3m-3-7h3m-3 8h3m-4-3h3m-3-8h3m-3 0h3m-4 11h3m-3 0h3m-4 3h3m-3-7h3m-3 12h3m-4-12h3m-3-1h3m-4-2h3m-3 5h3m-3 5h3m-4-5h3m-4 5h3m-4-1h3m-3-11h3m-3 18h3m-3-13h3m-4 3h3m-4-5h3m-3 6h3m-4-2h3m-3 5h3m-3-7h3m-3 11h3m-4-17h3m-3 6h3m-3 14h3m-4-12h3m-4 9h3m-3-9h3m-4 2h3m-3 4h3m-3-1h3m-3 9h3m-3-3h3m-3-18h3m-4-2h3m-3 12h3m-3-9h3m-3-1h3m-3 1h3m-3 12h3m-4-11h3m-3 0h3m-3 15h3m-3-11h3m-4 11h3m-3-16h3m-3 2h3m-3 8h3m-3-3h3m-3 2h3m-3-12h3m-3 2h3m-4 11h3m-3-7h3m-3 9h3m-3-1h3m-4-10h3m-4 13h3m-3 1h3m-3-12h3m-3-4h3m-3 13h3m-3-5h3m-4 7h3m-3-16h3m-3 8h3m-3-4h3m-4 6h3m-3 5h3m-3-13h3m-3 4h3m-3 4h3m-3 0h3m-4 2h3m-4 5h3m-3-17h3m-3 1h3m-3 0h3m-4 16h3m-3 0h3m-3-4h3m-3-4h3m-3 7h3m-3-17h3m-3 5h3m-3 7h3m-4-1h3m-3 1h3m-3-12h3m-3 16h3m-3-5h3m-3-8h3m-3 11h3m-3 3h3m-4-16h3m-4 14h3m-3-13h3m-3 7h3m-3-7h3m-3 8h3m-3-1h3m-3-3h3m-4-6h3m-4 17h3m-4-6h3m-3-2h3m-3-2h3m-3 16h3m-3-11h3m-3 4h3m-4-10h3m-3 16h3m-3-12h3m-3-10h3m-3 6h3m-4 1h3m-4-1h3m-3 12h3m-3-10h3m-3 9h3m-3-11h3m-3 6h3m-4-10h3m-3 18h3m-3 1h3m-3-4h3m-3 1h3m-3-2h3m-3-13h3m-4 10h3m-3-13h3m-4 15h3m-3-5h3m-3-5h3m-3 17h3m-3-12h3m-3-7h3m-4 16h3m-3-4h3m-3-5h3m-3 8h3m-3-4h3m-3 9h3m-4-18h3m-3 2h3m-3 13h3m-3-18h3m-3 14h3m-3-1h3m-4 5h3m-3-20h3m-3 10h3m-4 7h3m-3-9h3m-3 0h3m-3-5h3m-3-3h3m-3 5h3m-4-3h3m-3 20h3m-4-14h3m-3 10h3m-4-2h3m-3-4h3m-3 8h3m-4-5h3m-3-1h3m-3 8h3m-3-1h3m-4-12h3m-3 8h3m-4-17h3m-3 21h3m-4-2h3m-3 2h3m-3-4h3m-5 0h3m-3 1h3m-3-18h3m-3 10h3m-4-1h3m-3 9h3m-5-14h3m-4-4h3m-4 7h3m-4-5h3m-3 6h3m-3-2h3m-6 13h3m-3 2h3m-4 2h3m-4-9h3m-4-9h3m-4 3h3m-4 14h3m-3-10h3m-6-9h3m-3-3h3m-4 23h3m-4-5h3m-7-2h3m-7-7h3m-3 13h3m-5-16h3m-10 17h3m-11 21h3m0-15h3m-2 3h3m-2 12h3m-2-8h3m2-2h3m0 4h3m-2 5h3m-2-4h3m-1 1h3m-3-16h3m0 2h3m-3 0h3m-3 10h3m-2 8h3m-1-3h3m-1 0h3m-2-7h3m-3-7h3m-2 17h3m-2-7h3m-2-3h3m-3-3h3m-3 3h3m-3-5h3m-2 13h3m1-16h3m-3-1h3m-3 3h3m-1 2h3m-2 0h3m-2 17h3m-3-13h3m-3 2h3m-2-6h3m-3-2h3m-3-4h3m-1 5h3m-3-3h3m-3-1h3m-3 15h3m-2 5h3m-2-12h3m-3 12h3m-3 1h3m-2-19h3m-2 12h3m-2 3h3m-2-14h3m-3 6h3m-3-9h3m-3 8h3m-3 1h3m-2 5h3m-2-9h3m-2 10h3m-1-12h3m-3 3h3m-2-2h3m-3-1h3m-2 12h3m-3-7h3m-3-4h3m-2 8h3m-2 10h3m-3-13h3m-3-7h3m-1 5h3m-2-6h3m-2 1h3m-3 1h3m-1 15h3m-2-16h3m-3 15h3m-3-18h3m-3 13h3m-2-1h3m-2-1h3m-3-1h3m-3 10h3m-2-13h3m-2 15h3m-3-13h3m-2-1h3m-2-6h3m-2 13h3m0-13h3m3 8h3m-2-3h3m-2-5h3m-2-1h3m-2 3h3m1 12h3m4-6h3m-1-4h3m-2 7h3m2-6h3m-2 6h3m1-9h3m22 9h3m15 0h3m1-10h3m63 21h3m-149 1h3m-15-1h3m-6 1h3m-7 15h3m-6-15h3m-5 0h3m-3 1h3m-5 6h3m-3-3h3m-3 2h3m-4 5h3m-3-12h3m-6 0h3m-3 0h3m-4 0h3m-4 3h3m-5 11h3m-4-6h3m-4 4h3m-7 6h3m-3-7h3m-4-10h3m-4 7h3m-5-5h3m-6 1h3m-3 13h3m-3-16h3m-4 15h3m-3-16h3m-4 0h3m-3 10h3m-3-1h3m-3-9h3m-3 16h3m-4-10h3m-8-2h3m-4 18h3m-10-19h3m-10 11h3m-5 15h3m11-5h3m1 5h3m33 25h3m-50 0h3" stroke="#2a3aff" stroke-width="3.2" stroke-opacity="0.6"/>
<g filter="url(#blur1)">
<ellipse cx="488.8" cy="701.3" rx="12" ry="4.1" fill="#1424ff" transform="rotate(-40 488.8 701.3)"/>
<ellipse cx="488.8" cy="701.3" rx="10" ry="3.8" fill="#0050ff" transform="rotate(-40 488.8 701.3)"/>
<ellipse cx="488.8" cy="701.3" rx="7.8" ry="3.3" fill="#00a8ff" transform="rotate(-40 488.8 701.3)"/>
<ellipse cx="488.8" cy="701.3" rx="5.7" ry="2.6" fill="#10d8a0" transform="rotate(-40 488.8 701.3)"/>
<ellipse cx="488.8" cy="701.3" rx="4" ry="2" fill="#40e040" transform="rotate(-40 488.8 701.3)"/>
<ellipse cx="488.8" cy="701.3" rx="2" ry="1.1" fill="#a8e010" transform="rotate(-40 488.8 701.3)"/>
<ellipse cx="488.8" cy="701.3" rx="0.8" ry="0.5" fill="#e0a000" transform="rotate(-40 488.8 701.3)"/>
<ellipse cx="504.4" cy="677.5" rx="2.8" ry="2.2" fill="#1424ff" transform="rotate(-20 504.4 677.5)"/>
<ellipse cx="504.4" cy="677.5" rx="1.2" ry="1.1" fill="#0050ff" transform="rotate(-20 504.4 677.5)"/>
</g>
<line x1="498.5" y1="662.5" x2="498.5" y2="730.2" stroke="#555" stroke-width="0.8"/>
<line x1="467.5" y1="690.5" x2="534.8" y2="690.5" stroke="#555" stroke-width="0.8"/>
<line x1="469" y1="730.2" x2="469" y2="731.4" stroke="#999" stroke-width="0.4"/>
<text x="469" y="734.5" font-size="2.6" fill="#888" text-anchor="middle">10<tspan dy="-1" font-size="1.8">1</tspan></text>
<line x1="479.7" y1="730.2" x2="479.7" y2="731.4" stroke="#999" stroke-width="0.4"/>
<text x="479.7" y="734.5" font-size="2.6" fill="#888" text-anchor="middle">10<tspan dy="-1" font-size="1.8">2</tspan></text>
<line x1="490.4" y1="730.2" x2="490.4" y2="731.4" stroke="#999" stroke-width="0.4"/>
<text x="490.4" y="734.5" font-size="2.6" fill="#888" text-anchor="middle">10<tspan dy="-1" font-size="1.8">3</tspan></text>
<line x1="501.1" y1="730.2" x2="501.1" y2="731.4" stroke="#999" stroke-width="0.4"/>
<text x="501.1" y="734.5" font-size="2.6" fill="#888" text-anchor="middle">10<tspan dy="-1" font-size="1.8">4</tspan></text>
<line x1="511.9" y1="730.2" x2="511.9" y2="731.4" stroke="#999" stroke-width="0.4"/>
<text x="511.9" y="734.5" font-size="2.6" fill="#888" text-anchor="middle">10<tspan dy="-1" font-size="1.8">5</tspan></text>
<line x1="522.6" y1="730.2" x2="522.6" y2="731.4" stroke="#999" stroke-width="0.4"/>
<text x="522.6" y="734.5" font-size="2.6" fill="#888" text-anchor="middle">10<tspan dy="-1" font-size="1.8">6</tspan></text>
<line x1="533.3" y1="730.2" x2="533.3" y2="731.4" stroke="#999" stroke-width="0.4"/>
<text x="533.3" y="734.5" font-size="2.6" fill="#888" text-anchor="middle">10<tspan dy="-1" font-size="1.8">7</tspan></text>
<line x1="466.3" y1="728.7" x2="467.5" y2="728.7" stroke="#999" stroke-width="0.4"/>
<text x="465.3" y="728.7" font-size="2.6" fill="#888" text-anchor="middle" transform="rotate(-90 465.3 728.7)">10<tspan dy="-1" font-size="1.8">1</tspan></text>
<line x1="466.3" y1="715.8" x2="467.5" y2="715.8" stroke="#999" stroke-width="0.4"/>
<text x="465.3" y="715.8" font-size="2.6" fill="#888" text-anchor="middle" transform="rotate(-90 465.3 715.8)">10<tspan dy="-1" font-size="1.8">2</tspan></text>
<line x1="466.3" y1="702.8" x2="467.5" y2="702.8" stroke="#999" stroke-width="0.4"/>
<text x="465.3" y="702.8" font-size="2.6" fill="#888" text-anchor="middle" transform="rotate(-90 465.3 702.8)">10<tspan dy="-1" font-size="1.8">3</tspan></text>
<line x1="466.3" y1="689.9" x2="467.5" y2="689.9" stroke="#999" stroke-width="0.4"/>
<text x="465.3" y="689.9" font-size="2.6" fill="#888" text-anchor="middle" transform="rotate(-90 465.3 689.9)">10<tspan dy="-1" font-size="1.8">4</tspan></text>
<line x1="466.3" y1="676.9" x2="467.5" y2="676.9" stroke="#999" stroke-width="0.4"/>
<text x="465.3" y="676.9" font-size="2.6" fill="#888" text-anchor="middle" transform="rotate(-90 465.3 676.9)">10<tspan dy="-1" font-size="1.8">5</tspan></text>
<line x1="466.3" y1="664" x2="467.5" y2="664" stroke="#999" stroke-width="0.4"/>
<text x="465.3" y="664" font-size="2.6" fill="#888" text-anchor="middle" transform="rotate(-90 465.3 664)">10<tspan dy="-1" font-size="1.8">6</tspan></text>
<text x="534.3" y="670.1" font-size="8.4" text-anchor="end">15.31%</text>
<text x="458.9" y="696.4" font-size="8.6" text-anchor="middle" transform="rotate(-90 458.9 696.4)">PI-A</text>
<text x="501.1" y="743" font-size="8.6" text-anchor="middle">FITC-A</text>
<rect x="239.3" y="674.5" width="12.9" height="33.5" fill="#1666ae" stroke="#111" stroke-width="0.9"/>
<rect x="252.2" y="654.8" width="13.2" height="53.2" fill="#fe0000" stroke="#111" stroke-width="0.9"/>
<rect x="278.5" y="642.2" width="12.8" height="65.8" fill="#1666ae" stroke="#111" stroke-width="0.9"/>
<rect x="291.3" y="611.6" width="13.1" height="96.4" fill="#fe0000" stroke="#111" stroke-width="0.9"/>
<line x1="245.6" y1="669.5" x2="245.6" y2="674.5" stroke="#111" stroke-width="0.9"/>
<line x1="243" y1="669.5" x2="248.2" y2="669.5" stroke="#111" stroke-width="1.1"/>
<line x1="285" y1="637.8" x2="285" y2="642.8" stroke="#111" stroke-width="0.9"/>
<line x1="282.4" y1="637.8" x2="287.6" y2="637.8" stroke="#111" stroke-width="1.1"/>
<circle cx="245.8" cy="681.2" r="1.4" fill="#111"/>
<circle cx="247.5" cy="673.4" r="1.4" fill="#111"/>
<circle cx="244.2" cy="669.5" r="1.4" fill="#111"/>
<circle cx="254.5" cy="653.9" r="1.4" fill="#111"/>
<circle cx="258.6" cy="655.9" r="1.4" fill="#111"/>
<circle cx="263.3" cy="654.8" r="1.4" fill="#111"/>
<circle cx="282.8" cy="646.1" r="1.4" fill="#111"/>
<circle cx="287.2" cy="643.3" r="1.4" fill="#111"/>
<circle cx="285" cy="639.4" r="1.4" fill="#111"/>
<circle cx="294.5" cy="611.3" r="1.4" fill="#111"/>
<circle cx="298.3" cy="612.1" r="1.4" fill="#111"/>
<circle cx="302" cy="611.6" r="1.4" fill="#111"/>
<line x1="232.6" y1="596" x2="232.6" y2="708.5" stroke="#1a1a1a" stroke-width="1.1"/>
<line x1="232.1" y1="708" x2="311.9" y2="708" stroke="#1a1a1a" stroke-width="1.1"/>
<line x1="230" y1="708" x2="232.6" y2="708" stroke="#1a1a1a" stroke-width="1"/>
<text x="226.4" y="711.1" font-size="8.6" text-anchor="end">0</text>
<line x1="230" y1="680.1" x2="232.6" y2="680.1" stroke="#1a1a1a" stroke-width="1"/>
<text x="226.4" y="683.2" font-size="8.6" text-anchor="end">5</text>
<line x1="230" y1="652.2" x2="232.6" y2="652.2" stroke="#1a1a1a" stroke-width="1"/>
<text x="226.4" y="655.4" font-size="8.6" text-anchor="end">10</text>
<line x1="230" y1="624.4" x2="232.6" y2="624.4" stroke="#1a1a1a" stroke-width="1"/>
<text x="226.4" y="627.5" font-size="8.6" text-anchor="end">15</text>
<line x1="230" y1="596.5" x2="232.6" y2="596.5" stroke="#1a1a1a" stroke-width="1"/>
<text x="226.4" y="599.6" font-size="8.6" text-anchor="end">20</text>
<line x1="252.3" y1="708" x2="252.3" y2="710.5" stroke="#1a1a1a" stroke-width="1"/>
<line x1="291.4" y1="708" x2="291.4" y2="710.5" stroke="#1a1a1a" stroke-width="1"/>
<text x="251.5" y="719.8" font-size="9.1" text-anchor="middle">Ctrl</text>
<text x="290.6" y="719.8" font-size="9.1" text-anchor="middle">IR</text>
<text x="209.2" y="652.5" font-size="9.3" text-anchor="middle" transform="rotate(-90 209.2 652.5)">Apoptosis rate (%)</text>
<text x="271" y="588" font-size="9.1" text-anchor="middle">SUNE1</text>
<rect x="235.9" y="601.3" width="11.3" height="3.4" rx="0.8" fill="#1666ae" stroke="#111" stroke-width="0.8"/>
<rect x="235.9" y="611.0" width="11.3" height="3.4" rx="0.8" fill="#fe0000" stroke="#111" stroke-width="0.8"/>
<text x="249.8" y="606.3" font-size="9.5">Vector</text>
<text x="249.8" y="616" font-size="9.5">USP44</text>
<text x="258" y="648.7" font-size="7.0" font-weight="bold" text-anchor="middle"><tspan font-style="italic">P</tspan>=0.0041</text>
<text x="297.3" y="606.6" font-size="7.0" font-weight="bold" text-anchor="middle"><tspan font-style="italic">P</tspan>=0.0002</text>
<rect x="578.1" y="667.3" width="13.2" height="40.7" fill="#1666ae" stroke="#111" stroke-width="0.9"/>
<rect x="591.3" y="646.1" width="13.6" height="61.9" fill="#fe0000" stroke="#111" stroke-width="0.9"/>
<rect x="617.5" y="646.4" width="13.7" height="61.6" fill="#1666ae" stroke="#111" stroke-width="0.9"/>
<rect x="631.2" y="623.3" width="12.9" height="84.7" fill="#fe0000" stroke="#111" stroke-width="0.9"/>
<line x1="585" y1="664" x2="585" y2="669" stroke="#111" stroke-width="0.9"/>
<line x1="582.4" y1="664" x2="587.6" y2="664" stroke="#111" stroke-width="1.1"/>
<line x1="598.3" y1="641.1" x2="598.3" y2="646.1" stroke="#111" stroke-width="0.9"/>
<line x1="595.7" y1="641.1" x2="600.9" y2="641.1" stroke="#111" stroke-width="1.1"/>
<line x1="624.5" y1="642.5" x2="624.5" y2="647.5" stroke="#111" stroke-width="0.9"/>
<line x1="621.9" y1="642.5" x2="627.1" y2="642.5" stroke="#111" stroke-width="1.1"/>
<circle cx="582.9" cy="671.8" r="1.4" fill="#111"/>
<circle cx="586.9" cy="667.9" r="1.4" fill="#111"/>
<circle cx="585" cy="664" r="1.4" fill="#111"/>
<circle cx="596.2" cy="641.7" r="1.4" fill="#111"/>
<circle cx="598.3" cy="651.1" r="1.4" fill="#111"/>
<circle cx="600.9" cy="646.7" r="1.4" fill="#111"/>
<circle cx="621.9" cy="650.6" r="1.4" fill="#111"/>
<circle cx="624.5" cy="642.8" r="1.4" fill="#111"/>
<circle cx="626.6" cy="646.7" r="1.4" fill="#111"/>
<circle cx="634" cy="622.7" r="1.4" fill="#111"/>
<circle cx="637.8" cy="623.8" r="1.4" fill="#111"/>
<circle cx="641" cy="623" r="1.4" fill="#111"/>
<line x1="571.9" y1="596" x2="571.9" y2="708.5" stroke="#1a1a1a" stroke-width="1.1"/>
<line x1="571.4" y1="708" x2="651.2" y2="708" stroke="#1a1a1a" stroke-width="1.1"/>
<line x1="569.3" y1="708" x2="571.9" y2="708" stroke="#1a1a1a" stroke-width="1"/>
<text x="565.7" y="711.1" font-size="8.6" text-anchor="end">0</text>
<line x1="569.3" y1="680.1" x2="571.9" y2="680.1" stroke="#1a1a1a" stroke-width="1"/>
<text x="565.7" y="683.2" font-size="8.6" text-anchor="end">5</text>
<line x1="569.3" y1="652.2" x2="571.9" y2="652.2" stroke="#1a1a1a" stroke-width="1"/>
<text x="565.7" y="655.4" font-size="8.6" text-anchor="end">10</text>
<line x1="569.3" y1="624.4" x2="571.9" y2="624.4" stroke="#1a1a1a" stroke-width="1"/>
<text x="565.7" y="627.5" font-size="8.6" text-anchor="end">15</text>
<line x1="569.3" y1="596.5" x2="571.9" y2="596.5" stroke="#1a1a1a" stroke-width="1"/>
<text x="565.7" y="599.6" font-size="8.6" text-anchor="end">20</text>
<line x1="591.5" y1="708" x2="591.5" y2="710.5" stroke="#1a1a1a" stroke-width="1"/>
<line x1="630.8" y1="708" x2="630.8" y2="710.5" stroke="#1a1a1a" stroke-width="1"/>
<text x="590.7" y="719.8" font-size="9.1" text-anchor="middle">Ctrl</text>
<text x="630" y="719.8" font-size="9.1" text-anchor="middle">IR</text>
<text x="548.5" y="652.5" font-size="9.3" text-anchor="middle" transform="rotate(-90 548.5 652.5)">Apoptosis rate (%)</text>
<text x="610.3" y="588" font-size="9.1" text-anchor="middle">HONE1</text>
<rect x="575.2" y="601.3" width="11.3" height="3.4" rx="0.8" fill="#1666ae" stroke="#111" stroke-width="0.8"/>
<rect x="575.2" y="611.0" width="11.3" height="3.4" rx="0.8" fill="#fe0000" stroke="#111" stroke-width="0.8"/>
<text x="589.1" y="606.3" font-size="9.5">Vector</text>
<text x="589.1" y="616" font-size="9.5">USP44</text>
<text x="597.4" y="636.9" font-size="7.0" font-weight="bold" text-anchor="middle"><tspan font-style="italic">P</tspan>=0.0028</text>
<text x="636.4" y="618" font-size="7.0" font-weight="bold" text-anchor="middle"><tspan font-style="italic">P</tspan>=0.0004</text>
</svg></body></html>
